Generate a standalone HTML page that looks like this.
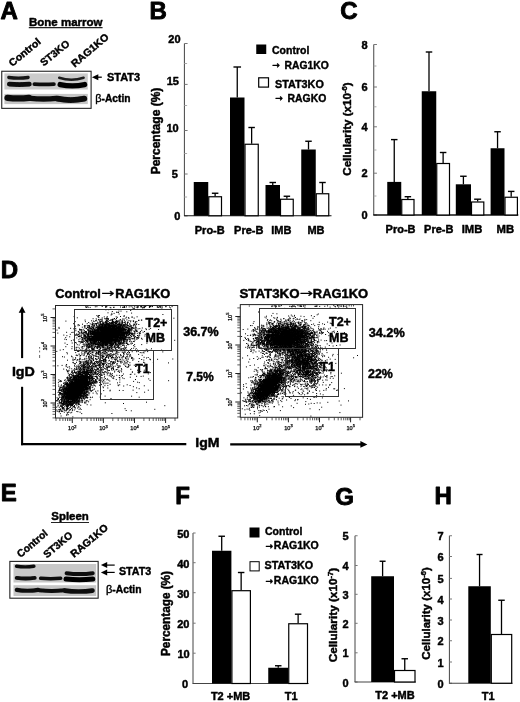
<!DOCTYPE html>
<html lang="en"><head><meta charset="utf-8"><title>Figure</title>
<style>
html,body{margin:0;padding:0;background:#fff;}
body{width:520px;height:702px;overflow:hidden;}
svg{display:block;font-family:"Liberation Sans", Arial, Helvetica, sans-serif;font-weight:bold;}
text{stroke-linejoin:round;}
</style></head><body>
<svg width="520" height="702" viewBox="0 0 520 702">
<rect width="520" height="702" fill="#fff"/>
<text x="0.6" y="18.9" font-size="24" stroke="#000" stroke-width="0.9">A</text>
<text x="149.6" y="18.9" font-size="24" stroke="#000" stroke-width="0.9">B</text>
<text x="340.2" y="19.2" font-size="24" stroke="#000" stroke-width="0.9">C</text>
<text x="0.8" y="277.6" font-size="24" stroke="#000" stroke-width="0.9">D</text>
<text x="0.8" y="501.4" font-size="24" stroke="#000" stroke-width="0.9">E</text>
<text x="175.3" y="504.3" font-size="24" stroke="#000" stroke-width="0.9">F</text>
<text x="335.2" y="504.6" font-size="24" stroke="#000" stroke-width="0.9">G</text>
<text x="434.6" y="504.3" font-size="24" stroke="#000" stroke-width="0.9">H</text>
<text x="29" y="25.8" font-size="11.5" textLength="73.5" lengthAdjust="spacingAndGlyphs" stroke="#000" stroke-width="0.45">Bone marrow</text>
<line x1="28.8" y1="27.6" x2="102.6" y2="27.6" stroke="#222" stroke-width="1.1"/>
<text x="12.2" y="67.0" font-size="10.3" textLength="38" lengthAdjust="spacingAndGlyphs" transform="rotate(-39.3 12.2 67.0)" stroke="#000" stroke-width="0.4">Control</text>
<text x="43.7" y="66.5" font-size="10.3" transform="rotate(-39 43.7 66.5)" stroke="#000" stroke-width="0.4">ST3KO</text>
<text x="74.7" y="67.7" font-size="10.3" textLength="45.8" lengthAdjust="spacingAndGlyphs" transform="rotate(-40.3 74.7 67.7)" stroke="#000" stroke-width="0.4">RAG1KO</text>
<defs><filter id="fa" x="-5%" y="-20%" width="110%" height="140%"><feGaussianBlur stdDeviation="0.5"/></filter><filter id="fab" x="-5%" y="-50%" width="110%" height="200%"><feGaussianBlur stdDeviation="0.7"/></filter></defs>
<rect x="1.75" y="71.25" width="89.35" height="37.10" fill="#fff" stroke="#222" stroke-width="1.1"/>
<g filter="url(#fa)">
<rect x="4.40" y="73.40" width="83.40" height="16.10" fill="#cbcbcb"/>
<rect x="4.40" y="93.90" width="83.40" height="10.20" fill="#c6c6c6"/>
</g>
<g filter="url(#fab)">
<path d="M8.8 77.50 C14.6 78.15 22.3 78.15 28.1 77.50" fill="none" stroke="#141414" stroke-width="3.3" stroke-linecap="round"/>
<path d="M59.2 77.70 C66.5 80.17 76.3 80.17 83.6 77.70" fill="none" stroke="#1c1c1c" stroke-width="2.5" stroke-linecap="round"/>
<path d="M9.4 84.10 C15.4 84.62 23.3 84.62 29.3 84.10" fill="none" stroke="#080808" stroke-width="4.8" stroke-linecap="round"/>
<path d="M34.4 84.10 C40.3 84.49 48.0 84.49 53.9 84.10" fill="none" stroke="#101010" stroke-width="3.8" stroke-linecap="round"/>
<path d="M60.2 84.60 C67.5 86.16 77.3 86.16 84.6 84.60" fill="none" stroke="#040404" stroke-width="5.4" stroke-linecap="round"/>
<path d="M7.5 97.80 C13.9 98.58 22.6 98.58 29.0 97.80" fill="none" stroke="#0a0a0a" stroke-width="6.2" stroke-linecap="round"/>
<path d="M30.7 98.40 C38.4 99.18 48.6 99.18 56.3 98.40" fill="none" stroke="#0e0e0e" stroke-width="5.4" stroke-linecap="round"/>
<path d="M57.3 98.70 C65.4 100.39 76.2 100.39 84.3 98.70" fill="none" stroke="#080808" stroke-width="5.8" stroke-linecap="round"/>
</g>
<path d="M91.9 77.2 L98.3 74.2 L98.3 80.2 Z" fill="#000"/>
<line x1="97.5" y1="77.2" x2="101.8" y2="77.2" stroke="#000" stroke-width="1.3"/>
<text x="107" y="81.4" font-size="10.3" textLength="33" lengthAdjust="spacingAndGlyphs" stroke="#000" stroke-width="0.4">STAT3</text>
<text x="95.3" y="102.3" font-size="10.3" textLength="35.2" lengthAdjust="spacingAndGlyphs" stroke="#000" stroke-width="0.4"><tspan font-weight="normal" font-size="11">β</tspan>-Actin</text>
<line x1="184.4" y1="43.5" x2="184.4" y2="215.9" stroke="#444" stroke-width="1"/>
<line x1="184.4" y1="43.5" x2="187.6" y2="43.5" stroke="#777" stroke-width="1"/>
<line x1="184.4" y1="84.4" x2="187.6" y2="84.4" stroke="#777" stroke-width="1"/>
<line x1="184.4" y1="130.5" x2="187.6" y2="130.5" stroke="#777" stroke-width="1"/>
<line x1="184.4" y1="174" x2="187.6" y2="174" stroke="#777" stroke-width="1"/>
<line x1="184.4" y1="215.9" x2="187.6" y2="215.9" stroke="#777" stroke-width="1"/>
<line x1="184.4" y1="63.5" x2="187.1" y2="63.5" stroke="#aaa" stroke-width="1"/>
<line x1="184.4" y1="105.5" x2="187.1" y2="105.5" stroke="#aaa" stroke-width="1"/>
<line x1="184.4" y1="153.5" x2="187.1" y2="153.5" stroke="#aaa" stroke-width="1"/>
<line x1="184.4" y1="197" x2="187.1" y2="197" stroke="#aaa" stroke-width="1"/>
<text x="180.6" y="42.8" font-size="11" text-anchor="end" stroke="#000" stroke-width="0.45">20</text>
<text x="178.9" y="85.1" font-size="11" text-anchor="end" stroke="#000" stroke-width="0.45">15</text>
<text x="178.7" y="131.9" font-size="11" text-anchor="end" stroke="#000" stroke-width="0.45">10</text>
<text x="177.8" y="178.4" font-size="11" text-anchor="end" stroke="#000" stroke-width="0.45">5</text>
<text x="180.4" y="220.3" font-size="11" text-anchor="end" stroke="#000" stroke-width="0.45">0</text>
<line x1="184" y1="215.75" x2="331.5" y2="215.75" stroke="#111" stroke-width="1.2"/>
<rect x="193.75" y="182.00" width="14.50" height="33.75" fill="#000"/>
<line x1="215.125" y1="196.25" x2="215.125" y2="193.25" stroke="#000" stroke-width="1.3"/>
<line x1="211.875" y1="193.25" x2="218.375" y2="193.25" stroke="#000" stroke-width="1.4"/>
<rect x="208.75" y="196.75" width="12.75" height="19.00" fill="#fff" stroke="#000" stroke-width="1.2"/>
<rect x="230.00" y="97.50" width="14.50" height="118.25" fill="#000"/>
<line x1="237.25" y1="97.5" x2="237.25" y2="67" stroke="#000" stroke-width="1.3"/>
<line x1="233.45" y1="67" x2="241.05" y2="67" stroke="#000" stroke-width="1.4"/>
<line x1="251.625" y1="143.75" x2="251.625" y2="127.5" stroke="#000" stroke-width="1.3"/>
<line x1="248.375" y1="127.5" x2="254.875" y2="127.5" stroke="#000" stroke-width="1.4"/>
<rect x="245.00" y="144.25" width="13.25" height="71.50" fill="#fff" stroke="#000" stroke-width="1.2"/>
<rect x="265.50" y="185.00" width="14.50" height="30.75" fill="#000"/>
<line x1="272.75" y1="185" x2="272.75" y2="182.5" stroke="#000" stroke-width="1.3"/>
<line x1="269.5" y1="182.5" x2="276.0" y2="182.5" stroke="#000" stroke-width="1.4"/>
<line x1="286.875" y1="198.75" x2="286.875" y2="196.25" stroke="#000" stroke-width="1.3"/>
<line x1="283.625" y1="196.25" x2="290.125" y2="196.25" stroke="#000" stroke-width="1.4"/>
<rect x="280.50" y="199.25" width="12.75" height="16.50" fill="#fff" stroke="#000" stroke-width="1.2"/>
<rect x="301.25" y="149.50" width="14.50" height="66.25" fill="#000"/>
<line x1="308.5" y1="149.5" x2="308.5" y2="141.25" stroke="#000" stroke-width="1.3"/>
<line x1="305.25" y1="141.25" x2="311.75" y2="141.25" stroke="#000" stroke-width="1.4"/>
<line x1="322.5" y1="193.25" x2="322.5" y2="182.5" stroke="#000" stroke-width="1.3"/>
<line x1="319.25" y1="182.5" x2="325.75" y2="182.5" stroke="#000" stroke-width="1.4"/>
<rect x="316.25" y="193.75" width="12.50" height="22.00" fill="#fff" stroke="#000" stroke-width="1.2"/>
<text x="209.75" y="233.75" font-size="11" text-anchor="middle" stroke="#000" stroke-width="0.45">Pro-B</text>
<text x="248.75" y="233.75" font-size="11" text-anchor="middle" stroke="#000" stroke-width="0.45">Pre-B</text>
<text x="281.25" y="233.75" font-size="11" text-anchor="middle" stroke="#000" stroke-width="0.45">IMB</text>
<text x="316" y="233.75" font-size="11" text-anchor="middle" stroke="#000" stroke-width="0.45">MB</text>
<text x="159.5" y="131" font-size="12" text-anchor="middle" transform="rotate(-90 159.5 131)" stroke="#000" stroke-width="0.45">Percentage (%)</text>
<rect x="256.25" y="44.50" width="10.00" height="9.50" fill="#000"/>
<text x="272" y="53.75" font-size="10.5" stroke="#000" stroke-width="0.4">Control</text>
<text x="272.3" y="67.5" font-size="10.5" stroke="#000" stroke-width="0.4"><tspan font-family="DejaVu Sans, sans-serif" font-size="9">→</tspan></text>
<text x="284.5" y="68.75" font-size="10.5" textLength="44.3" lengthAdjust="spacingAndGlyphs" stroke="#000" stroke-width="0.4">RAG1KO</text>
<rect x="258.70" y="77.80" width="9.80" height="9.30" fill="#fff" stroke="#000" stroke-width="1.2"/>
<text x="275" y="87.5" font-size="10.5" textLength="48.8" lengthAdjust="spacingAndGlyphs" stroke="#000" stroke-width="0.4">STAT3KO</text>
<text x="275.3" y="101" font-size="10.5" stroke="#000" stroke-width="0.4"><tspan font-family="DejaVu Sans, sans-serif" font-size="9">→</tspan></text>
<text x="287.5" y="102" font-size="10.5" textLength="38.8" lengthAdjust="spacingAndGlyphs" stroke="#000" stroke-width="0.4">RAGKO</text>
<line x1="373.75" y1="44.5" x2="373.75" y2="215" stroke="#444" stroke-width="1"/>
<line x1="373.75" y1="44.5" x2="376.95" y2="44.5" stroke="#777" stroke-width="1"/>
<line x1="373.75" y1="87" x2="376.95" y2="87" stroke="#777" stroke-width="1"/>
<line x1="373.75" y1="126.8" x2="376.95" y2="126.8" stroke="#777" stroke-width="1"/>
<line x1="373.75" y1="173.2" x2="376.95" y2="173.2" stroke="#777" stroke-width="1"/>
<line x1="373.75" y1="215" x2="376.95" y2="215" stroke="#777" stroke-width="1"/>
<line x1="373.75" y1="66" x2="376.45" y2="66" stroke="#aaa" stroke-width="1"/>
<line x1="373.75" y1="106.8" x2="376.45" y2="106.8" stroke="#aaa" stroke-width="1"/>
<line x1="373.75" y1="150" x2="376.45" y2="150" stroke="#aaa" stroke-width="1"/>
<line x1="373.75" y1="196" x2="376.45" y2="196" stroke="#aaa" stroke-width="1"/>
<text x="367.6" y="48.6" font-size="11" text-anchor="end" stroke="#000" stroke-width="0.45">8</text>
<text x="367.6" y="91.1" font-size="11" text-anchor="end" stroke="#000" stroke-width="0.45">6</text>
<text x="367.6" y="130.9" font-size="11" text-anchor="end" stroke="#000" stroke-width="0.45">4</text>
<text x="367.6" y="177.3" font-size="11" text-anchor="end" stroke="#000" stroke-width="0.45">2</text>
<text x="367.6" y="219.1" font-size="11" text-anchor="end" stroke="#000" stroke-width="0.45">0</text>
<line x1="373.25" y1="215" x2="518.3" y2="215" stroke="#111" stroke-width="1.3"/>
<rect x="387.25" y="181.90" width="14.00" height="33.10" fill="#000"/>
<line x1="394.25" y1="181.9" x2="394.25" y2="139.6" stroke="#000" stroke-width="1.3"/>
<line x1="391.0" y1="139.6" x2="397.5" y2="139.6" stroke="#000" stroke-width="1.4"/>
<line x1="407.875" y1="199" x2="407.875" y2="196.7" stroke="#000" stroke-width="1.3"/>
<line x1="404.625" y1="196.7" x2="411.125" y2="196.7" stroke="#000" stroke-width="1.4"/>
<rect x="401.75" y="199.50" width="12.25" height="15.50" fill="#fff" stroke="#000" stroke-width="1.2"/>
<rect x="421.75" y="91.25" width="14.50" height="123.75" fill="#000"/>
<line x1="429.0" y1="91.25" x2="429.0" y2="52" stroke="#000" stroke-width="1.3"/>
<line x1="425.75" y1="52" x2="432.25" y2="52" stroke="#000" stroke-width="1.4"/>
<line x1="443.125" y1="163" x2="443.125" y2="152.5" stroke="#000" stroke-width="1.3"/>
<line x1="439.875" y1="152.5" x2="446.375" y2="152.5" stroke="#000" stroke-width="1.4"/>
<rect x="436.75" y="163.50" width="12.75" height="51.50" fill="#fff" stroke="#000" stroke-width="1.2"/>
<rect x="455.80" y="184.30" width="15.20" height="30.70" fill="#000"/>
<line x1="463.4" y1="184.3" x2="463.4" y2="176.25" stroke="#000" stroke-width="1.3"/>
<line x1="460.15" y1="176.25" x2="466.65" y2="176.25" stroke="#000" stroke-width="1.4"/>
<line x1="477.65" y1="201.5" x2="477.65" y2="199.2" stroke="#000" stroke-width="1.3"/>
<line x1="474.15" y1="199.2" x2="481.15" y2="199.2" stroke="#000" stroke-width="1.4"/>
<rect x="471.50" y="202.00" width="12.30" height="13.00" fill="#fff" stroke="#000" stroke-width="1.2"/>
<rect x="490.60" y="148.25" width="13.90" height="66.75" fill="#000"/>
<line x1="497.55" y1="148.25" x2="497.55" y2="131.75" stroke="#000" stroke-width="1.3"/>
<line x1="494.3" y1="131.75" x2="500.8" y2="131.75" stroke="#000" stroke-width="1.4"/>
<line x1="511.2" y1="196.75" x2="511.2" y2="191.4" stroke="#000" stroke-width="1.3"/>
<line x1="507.95" y1="191.4" x2="514.45" y2="191.4" stroke="#000" stroke-width="1.4"/>
<rect x="505.00" y="197.25" width="12.40" height="17.75" fill="#fff" stroke="#000" stroke-width="1.2"/>
<text x="400.6" y="232.5" font-size="11" text-anchor="middle" stroke="#000" stroke-width="0.45">Pro-B</text>
<text x="438.75" y="232.5" font-size="11" text-anchor="middle" stroke="#000" stroke-width="0.45">Pre-B</text>
<text x="472" y="232.5" font-size="11" text-anchor="middle" textLength="20.6" lengthAdjust="spacingAndGlyphs" stroke="#000" stroke-width="0.45">IMB</text>
<text x="505.3" y="232.5" font-size="11" text-anchor="middle" textLength="17.6" lengthAdjust="spacingAndGlyphs" stroke="#000" stroke-width="0.45">MB</text>
<text x="351.2" y="129.1" font-size="11.6" text-anchor="middle" textLength="93.3" lengthAdjust="spacingAndGlyphs" transform="rotate(-90 351.2 129.1)" stroke="#000" stroke-width="0.45">Cellularity (x10<tspan font-size="7.5" dy="-4.3">-6</tspan><tspan dy="4.3">)</tspan></text>
<text x="55.2" y="297.7" font-size="12.4" textLength="45.6" lengthAdjust="spacingAndGlyphs" stroke="#000" stroke-width="0.45">Control</text>
<text x="115.3" y="297.7" font-size="12.4" textLength="55" lengthAdjust="spacingAndGlyphs" stroke="#000" stroke-width="0.45">RAG1KO</text>
<text x="101.1" y="297.4" font-size="12" textLength="13.2" lengthAdjust="spacingAndGlyphs" font-weight="normal" font-family="DejaVu Sans, sans-serif" stroke="#000" stroke-width="0.3">→</text>
<text x="239.5" y="297.6" font-size="12.4" textLength="60" lengthAdjust="spacingAndGlyphs" stroke="#000" stroke-width="0.45">STAT3KO</text>
<text x="312.8" y="297.6" font-size="12.4" textLength="55.4" lengthAdjust="spacingAndGlyphs" stroke="#000" stroke-width="0.45">RAG1KO</text>
<text x="299.4" y="297.2" font-size="12" textLength="13.2" lengthAdjust="spacingAndGlyphs" font-weight="normal" font-family="DejaVu Sans, sans-serif" stroke="#000" stroke-width="0.3">→</text>
<rect x="55.50" y="305.50" width="122.20" height="112.50" fill="#fff" stroke="#222" stroke-width="1"/>
<path d="M72.2 385.9h1M80.1 388.6h1M69.5 387.0h1M71.3 395.7h1M76.1 394.3h1M71.3 396.9h1M78.9 390.4h1M82.4 378.1h1M72.0 391.6h1M71.8 392.9h1M80.5 386.6h1M92.0 397.2h1M75.7 387.4h1M77.6 401.2h1M74.4 388.0h1M75.0 379.9h1M66.7 397.5h1M74.4 393.1h1M65.3 403.0h1M68.6 398.4h1M67.1 403.7h1M76.5 392.0h1M71.9 400.6h1M72.4 382.9h1M76.5 387.4h1M70.7 386.9h1M62.1 407.7h1M72.1 392.2h1M75.9 389.4h1M74.3 386.2h1M63.5 397.2h1M71.8 391.3h1M72.6 397.7h1M73.9 396.8h1M75.0 375.6h1M72.0 395.3h1M76.5 389.6h1M74.8 377.5h1M67.9 389.4h1M72.8 387.7h1M77.7 388.9h1M66.6 380.8h1M66.9 396.3h1M73.8 386.3h1M84.0 379.1h1M72.2 404.2h1M85.7 386.3h1M74.6 386.4h1M70.3 392.0h1M87.9 374.6h1M84.5 386.5h1M74.3 401.7h1M77.2 389.0h1M84.5 388.8h1M70.9 387.1h1M74.9 379.9h1M64.0 380.3h1M75.9 380.9h1M86.1 379.8h1M75.1 396.1h1M90.3 397.6h1M75.2 393.7h1M76.9 388.1h1M64.9 394.2h1M69.8 390.9h1M72.1 388.1h1M79.8 381.3h1M79.5 378.1h1M62.2 393.7h1M75.1 397.6h1M81.0 385.2h1M69.6 407.4h1M66.5 386.9h1M69.8 385.2h1M79.7 377.0h1M84.2 387.1h1M72.9 390.4h1M74.3 391.9h1M73.7 390.1h1M85.0 377.9h1M71.0 390.0h1M75.3 391.9h1M74.2 383.3h1M73.9 388.6h1M75.5 390.8h1M69.6 397.0h1M77.2 389.9h1M69.8 389.2h1M83.2 380.8h1M78.1 382.8h1M76.9 389.9h1M85.2 388.2h1M70.0 388.2h1M85.7 384.0h1M72.8 386.4h1M77.2 382.9h1M74.6 403.1h1M81.2 388.9h1M67.9 402.5h1M67.1 405.9h1M78.4 394.4h1M67.4 392.8h1M77.4 388.0h1M86.8 370.9h1M72.4 395.9h1M70.7 392.1h1M79.6 389.3h1M78.4 385.0h1M72.2 388.0h1M74.1 389.9h1M81.3 384.8h1M82.8 388.0h1M68.9 395.6h1M73.7 388.0h1M76.7 389.0h1M72.5 398.6h1M74.8 384.9h1M60.8 387.1h1M82.3 382.3h1M75.3 386.1h1M74.5 386.7h1M82.2 400.7h1M74.3 389.0h1M66.8 405.3h1M63.6 392.5h1M78.6 386.6h1M66.4 406.5h1M81.2 383.0h1M64.8 400.8h1M82.0 384.7h1M70.9 394.9h1M85.3 387.0h1M77.1 388.2h1M63.6 397.4h1M74.9 373.3h1M81.0 375.8h1M74.1 388.1h1M69.3 386.9h1M70.6 386.5h1M63.4 390.5h1M77.5 377.1h1M72.9 392.8h1M74.2 388.1h1M70.3 393.8h1M70.7 392.2h1M67.4 397.2h1M85.8 381.7h1M82.9 396.1h1M83.7 383.5h1M83.6 394.6h1M71.3 393.4h1M73.6 390.9h1M78.9 397.8h1M72.8 386.3h1M69.9 388.6h1M73.4 390.4h1M61.0 393.5h1M63.5 388.7h1M89.7 380.1h1M67.6 390.2h1M67.7 394.9h1M75.8 384.7h1M79.9 375.3h1M70.0 401.4h1M76.6 391.9h1M75.1 395.7h1M68.4 403.7h1M80.1 383.4h1M81.1 393.1h1M80.0 391.2h1M68.9 392.2h1M78.4 385.4h1M70.9 391.3h1M82.1 395.4h1M72.2 399.0h1M70.7 399.1h1M83.0 378.6h1M74.9 394.0h1M73.5 383.5h1M75.5 388.9h1M72.9 391.7h1M72.5 392.2h1M76.3 381.7h1M75.6 392.2h1M70.2 386.2h1M73.8 386.9h1M81.6 379.4h1M79.2 383.4h1M75.6 384.1h1M68.3 389.5h1M63.9 395.7h1M79.5 380.4h1M77.6 378.7h1M74.2 389.2h1M73.7 380.7h1M80.1 382.9h1M88.4 388.8h1M75.5 377.6h1M72.5 391.5h1M88.8 381.0h1M69.1 398.2h1M83.9 384.9h1M70.1 378.4h1M78.5 380.6h1M92.4 379.6h1M81.8 375.9h1M70.5 398.1h1M58.3 395.0h1M84.3 385.8h1M78.5 402.9h1M75.2 388.4h1M81.7 383.4h1M67.7 401.8h1M71.9 410.6h1M75.3 385.3h1M69.2 383.0h1M81.6 396.2h1M71.1 384.6h1M72.8 396.6h1M57.6 392.4h1M72.8 388.4h1M70.7 396.2h1M61.7 397.1h1M76.3 383.2h1M77.5 390.8h1M75.0 383.3h1M71.8 397.3h1M78.8 398.8h1M61.8 389.6h1M71.8 396.1h1M79.0 388.9h1M69.7 393.2h1M83.7 390.7h1M82.8 390.2h1M89.1 375.2h1M69.6 400.3h1M80.3 381.8h1M70.6 385.7h1M77.3 390.1h1M65.3 397.6h1M70.5 390.0h1M84.0 386.4h1M74.1 388.4h1M79.7 390.8h1M69.6 387.4h1M80.3 378.6h1M75.3 388.6h1M68.2 408.7h1M71.1 393.2h1M67.2 405.3h1M72.9 392.8h1M86.3 381.2h1M72.1 385.3h1M65.9 394.9h1M72.5 397.2h1M77.4 376.6h1M77.6 388.3h1M77.0 389.1h1M74.7 388.5h1M78.7 390.5h1M81.9 384.0h1M79.3 384.9h1M70.7 382.2h1M63.6 391.5h1M79.4 385.6h1M65.2 388.6h1M81.9 380.6h1M66.7 396.6h1M71.2 386.8h1M74.3 387.7h1M58.4 390.8h1M84.4 375.1h1M88.6 381.5h1M67.7 387.9h1M81.5 384.1h1M78.9 386.7h1M72.3 416.9h1M73.0 383.6h1M71.9 386.4h1M72.8 385.4h1M65.5 393.4h1M67.3 385.3h1M74.7 389.9h1M78.6 376.9h1M80.3 388.3h1M76.9 389.6h1M80.1 374.0h1M70.8 391.4h1M78.5 395.5h1M63.7 400.7h1M85.2 377.6h1M84.2 384.0h1M79.0 380.4h1M80.9 384.8h1M82.3 392.5h1M81.1 390.3h1M67.1 384.9h1M80.3 394.7h1M74.9 387.4h1M81.8 375.5h1M76.2 382.5h1M80.0 392.7h1M73.4 393.7h1M71.3 392.7h1M81.5 374.3h1M80.9 386.8h1M80.5 391.6h1M69.6 388.0h1M64.8 393.2h1M73.7 387.9h1M82.9 384.0h1M71.6 390.1h1M73.8 389.8h1M70.9 387.5h1M81.0 391.5h1M65.9 399.8h1M74.8 390.7h1M75.0 398.2h1M79.7 381.4h1M71.0 394.0h1M80.4 385.5h1M82.7 376.1h1M79.3 395.2h1M72.3 393.1h1M74.9 385.8h1M74.4 387.6h1M65.6 392.5h1M82.9 388.8h1M93.0 378.4h1M73.1 389.7h1M72.5 388.6h1M61.2 389.6h1M74.9 384.3h1M71.8 400.3h1M66.0 394.1h1M86.2 381.7h1M76.2 399.7h1M71.4 372.5h1M82.9 376.3h1M74.2 384.4h1M76.4 382.7h1M79.5 368.6h1M73.3 389.1h1M67.3 389.1h1M71.8 401.6h1M81.2 392.5h1M78.3 373.3h1M75.2 376.9h1M68.1 393.8h1M69.7 394.1h1M72.0 391.7h1M79.9 388.5h1M68.3 385.3h1M74.1 384.9h1M75.2 384.8h1M72.3 389.5h1M71.1 385.6h1M74.7 385.4h1M72.1 386.8h1M83.0 388.4h1M84.2 373.2h1M70.3 377.4h1M77.9 389.7h1M66.4 401.3h1M74.2 382.9h1M60.6 399.8h1M65.0 396.9h1M86.8 387.2h1M77.6 381.8h1M79.3 393.2h1M69.0 403.6h1M71.2 389.5h1M72.8 394.4h1M76.0 381.3h1M76.0 362.3h1M73.7 384.5h1M68.2 392.0h1M72.3 399.8h1M77.7 390.9h1M78.7 393.1h1M71.0 398.6h1M80.5 391.0h1M71.5 399.0h1M82.7 381.0h1M85.5 383.8h1M87.3 384.9h1M78.1 396.2h1M76.7 383.3h1M74.5 389.3h1M69.2 388.2h1M69.4 387.8h1M69.4 399.1h1M64.6 397.0h1M85.7 387.1h1M65.4 382.9h1M72.0 383.2h1M82.1 381.8h1M70.2 404.8h1M69.5 393.1h1M83.9 393.0h1M80.8 388.0h1M70.4 389.0h1M81.1 380.7h1M78.6 388.5h1M64.8 394.5h1M74.3 398.5h1M79.0 381.7h1M80.1 386.6h1M68.0 405.0h1M81.4 377.2h1M82.8 387.2h1M75.7 372.8h1M75.6 393.1h1M66.0 384.5h1M73.4 400.1h1M87.6 368.0h1M79.2 393.5h1M89.9 381.0h1M71.2 392.8h1M73.8 385.2h1M71.0 404.7h1M68.6 387.7h1M84.3 383.7h1M67.8 397.3h1M80.1 379.5h1M75.1 384.2h1M76.6 401.7h1M66.3 387.2h1M70.7 390.1h1M76.9 390.2h1M76.5 395.6h1M77.4 399.8h1M79.1 394.9h1M67.5 394.3h1M69.5 399.0h1M79.7 392.3h1M82.6 383.7h1M60.6 394.9h1M76.8 389.5h1M74.1 395.1h1M64.6 391.5h1M78.6 380.8h1M72.4 392.2h1M86.5 379.4h1M77.2 399.0h1M82.3 389.3h1M76.1 391.6h1M72.0 394.7h1M77.5 383.1h1M72.4 387.9h1M78.1 383.4h1M74.4 388.2h1M73.3 399.6h1M83.4 395.9h1M77.8 389.7h1M84.7 384.4h1M72.9 397.2h1M76.4 389.6h1M70.5 404.9h1M83.6 387.1h1M69.7 396.7h1M64.7 401.4h1M77.7 391.0h1M79.9 378.9h1M67.6 400.3h1M73.3 399.6h1M71.1 393.8h1M61.6 391.0h1M80.3 387.8h1M66.3 390.8h1M65.9 389.5h1M72.9 379.6h1M74.4 396.6h1M70.0 379.1h1M69.5 395.3h1M69.6 398.2h1M65.9 402.7h1M83.8 373.0h1M73.5 390.7h1M77.6 387.3h1M70.3 384.8h1M79.3 389.6h1M79.9 391.3h1M83.3 372.1h1M66.8 393.9h1M62.3 396.5h1M73.9 399.2h1M63.6 395.0h1M77.9 381.5h1M73.3 377.1h1M74.9 399.4h1M66.7 398.0h1M74.6 392.0h1M89.7 383.2h1M62.2 411.4h1M74.1 381.2h1M71.2 397.8h1M84.3 383.1h1M65.9 393.7h1M70.0 387.5h1M63.0 396.5h1M73.0 398.1h1M83.7 378.5h1M76.1 379.3h1M75.8 393.5h1M73.5 397.2h1M61.4 399.8h1M67.1 386.6h1M79.9 392.3h1M85.3 397.1h1M80.7 393.7h1M73.1 399.8h1M75.7 389.4h1M72.9 386.9h1M83.5 379.5h1M88.9 377.0h1M74.1 389.0h1M74.9 397.1h1M75.3 389.1h1M74.5 394.9h1M60.7 385.7h1M71.9 386.4h1M72.8 398.7h1M82.9 387.1h1M76.6 390.6h1M83.4 391.7h1M77.3 392.1h1M74.2 396.1h1M66.6 392.7h1M75.8 391.6h1M75.5 395.0h1M82.1 390.9h1M80.1 392.2h1M68.0 398.7h1M76.7 388.7h1M63.3 394.8h1M74.4 395.0h1M69.6 387.4h1M62.6 402.9h1M76.0 387.8h1M84.3 393.6h1M79.7 393.6h1M70.1 389.3h1M67.9 386.9h1M69.1 395.0h1M71.0 388.1h1M73.9 393.8h1M77.5 389.0h1M71.2 399.4h1M73.0 383.8h1M75.0 386.4h1M75.6 390.3h1M74.3 392.7h1M76.5 382.7h1M64.7 399.7h1M81.4 387.7h1M70.1 381.4h1M76.1 385.6h1M77.7 385.7h1M65.9 388.7h1M70.0 387.2h1M79.5 384.1h1M75.9 383.7h1M80.9 390.3h1M69.4 401.6h1M87.5 391.5h1M77.4 376.2h1M88.8 386.9h1M74.2 384.7h1M69.9 402.5h1M84.8 384.6h1M75.4 390.2h1M59.9 406.2h1M75.2 383.9h1M60.0 394.0h1M66.7 396.9h1M68.4 390.4h1M85.1 381.0h1M70.6 389.0h1M76.4 386.0h1M87.3 377.1h1M85.0 377.1h1M75.2 389.4h1M73.4 389.7h1M66.7 396.5h1M73.5 395.2h1M80.9 387.7h1M74.8 383.3h1M82.8 392.9h1M83.6 383.1h1M65.0 389.4h1M85.8 397.2h1M82.4 385.3h1M76.1 382.1h1M88.1 385.7h1M67.5 377.6h1M83.9 398.7h1M71.9 381.4h1M63.6 391.1h1M62.5 397.7h1M79.7 384.9h1M73.8 387.8h1M80.8 389.0h1M62.6 398.5h1M77.8 394.6h1M73.1 393.7h1M66.6 391.8h1M67.0 408.5h1M75.0 392.1h1M80.0 381.4h1M83.0 389.8h1M67.5 389.3h1M74.1 387.6h1M85.8 387.6h1M59.9 408.9h1M77.8 391.8h1M81.2 386.5h1M79.1 383.3h1M88.0 378.2h1M78.2 377.2h1M80.1 388.4h1M73.4 383.3h1M80.2 382.9h1M69.0 389.8h1M77.4 390.5h1M82.7 383.4h1M91.2 377.7h1M72.3 387.9h1M71.5 386.0h1M68.3 380.5h1M78.1 374.7h1M74.3 388.0h1M84.7 378.4h1M68.4 394.4h1M74.5 389.9h1M68.6 385.4h1M76.3 379.8h1M84.8 383.4h1M69.6 401.7h1M64.9 391.0h1M76.2 385.1h1M72.6 394.0h1M62.1 396.0h1M83.0 382.1h1M79.4 385.7h1M80.1 386.3h1M80.5 398.0h1M78.0 378.3h1M78.9 394.0h1M84.0 382.2h1M73.2 397.5h1M67.7 392.5h1M76.9 387.2h1M71.4 393.6h1M86.0 388.7h1M77.3 386.9h1M76.0 399.8h1M74.7 387.0h1M72.0 389.9h1M80.8 381.8h1M63.8 386.8h1M70.9 390.1h1M80.1 377.8h1M87.8 371.7h1M87.7 374.4h1M72.1 385.1h1M72.4 383.5h1M89.4 381.3h1M70.6 386.2h1M67.9 394.1h1M72.4 384.7h1M76.2 383.8h1M75.7 398.4h1M70.7 404.2h1M60.1 393.4h1M78.3 382.8h1M76.7 398.4h1M73.3 388.5h1M78.1 388.1h1M86.3 389.6h1M82.6 398.0h1M84.7 389.8h1M69.3 394.2h1M73.6 391.3h1M70.6 396.8h1M80.9 379.3h1M73.0 386.8h1M79.6 400.4h1M74.7 392.0h1M77.5 392.7h1M84.4 387.2h1M68.5 401.9h1M70.0 396.5h1M74.4 392.1h1M95.7 374.4h1M82.9 383.0h1M66.9 383.1h1M83.7 386.5h1M93.9 378.6h1M73.1 389.4h1M71.1 389.3h1M80.6 378.2h1M82.7 388.3h1M75.4 380.5h1M75.7 394.6h1M91.0 377.9h1M87.7 377.8h1M79.2 384.7h1M76.6 381.3h1M61.4 401.4h1M79.2 383.9h1M70.7 387.1h1M77.7 385.1h1M75.9 380.7h1M79.1 395.3h1M72.0 405.7h1M74.5 383.4h1M76.7 398.2h1M74.8 391.8h1M72.4 393.2h1M75.5 392.5h1M64.1 406.8h1M77.0 375.3h1M86.9 394.4h1M78.4 377.6h1M77.8 366.9h1M75.5 388.3h1M65.3 401.8h1M67.5 392.8h1M61.4 391.7h1M77.3 395.8h1M75.6 387.6h1M64.8 403.7h1M75.3 384.3h1M66.2 399.1h1M74.6 384.3h1M76.5 390.6h1M73.5 390.6h1M77.7 391.1h1M75.0 394.5h1M72.6 393.4h1M66.4 401.3h1M80.0 392.3h1M79.9 370.1h1M87.4 374.4h1M88.5 383.1h1M75.2 379.9h1M74.6 395.8h1M81.8 376.4h1M75.2 389.0h1M74.1 388.2h1M73.2 390.1h1M78.3 389.6h1M72.8 391.6h1M67.0 382.9h1M78.1 403.3h1M73.1 391.0h1M86.8 370.4h1M79.2 392.2h1M79.5 394.5h1M70.0 378.0h1M81.0 384.5h1M60.9 390.3h1M72.2 388.4h1M80.5 381.5h1M75.2 385.1h1M73.7 385.7h1M79.7 373.5h1M69.9 392.1h1M75.4 387.4h1M71.8 391.8h1M78.7 373.4h1M61.1 400.3h1M75.6 396.5h1M75.0 394.3h1M78.0 382.6h1M81.4 386.0h1M85.0 379.4h1M70.3 403.0h1M80.8 383.8h1M72.2 389.3h1M67.8 390.3h1M78.6 384.5h1M62.1 388.9h1M63.9 404.0h1M60.8 381.4h1M63.0 396.4h1M69.8 391.7h1M79.6 387.3h1M88.4 394.9h1M85.2 377.3h1M73.7 389.4h1M59.1 393.8h1M76.6 398.3h1M62.7 389.4h1M69.5 398.2h1M75.1 383.1h1M81.8 401.0h1M63.6 402.6h1M80.8 384.5h1M72.2 387.2h1M77.2 385.6h1M80.6 391.2h1M75.4 381.0h1M73.0 386.1h1M80.2 377.6h1M74.0 382.3h1M73.4 382.2h1M77.9 385.6h1M72.5 403.4h1M80.0 394.0h1M68.7 386.2h1M73.9 384.8h1M67.3 398.1h1M86.6 377.9h1M76.0 387.6h1M68.5 397.3h1M67.0 402.1h1M76.6 392.7h1M66.5 382.5h1M70.5 393.1h1M78.4 389.7h1M77.0 397.2h1M81.5 386.7h1M68.5 391.6h1M72.3 386.4h1M82.0 382.0h1M90.0 369.5h1M70.9 396.8h1M77.2 395.3h1M65.6 390.6h1M78.5 381.6h1M59.2 389.3h1M75.7 394.4h1M75.9 389.1h1M66.4 393.0h1M71.0 396.3h1M78.2 396.3h1M67.2 406.8h1M66.8 398.8h1M71.8 390.5h1M76.7 387.7h1M70.5 386.8h1M61.4 398.4h1M71.6 390.9h1M80.0 382.6h1M79.7 385.2h1M72.9 387.4h1M66.8 392.2h1M78.9 383.7h1M70.4 391.4h1M70.1 398.1h1M76.5 398.7h1M87.7 381.0h1M73.7 384.5h1M80.4 378.6h1M66.5 387.1h1M80.7 381.5h1M68.6 390.2h1M69.4 385.6h1M85.8 367.2h1M82.3 384.8h1M73.4 392.7h1M74.5 388.7h1M81.3 389.1h1M80.6 378.2h1M68.7 388.9h1M67.4 402.7h1M66.1 384.5h1M76.7 389.3h1M76.9 388.3h1M84.0 379.6h1M80.1 388.4h1M78.5 381.3h1M69.1 396.5h1M73.9 377.0h1M85.1 371.3h1M77.8 381.2h1M77.8 387.3h1M82.0 391.7h1M86.1 375.7h1M73.5 397.9h1M71.1 386.4h1M78.3 385.2h1M73.2 377.9h1M70.1 389.4h1M74.0 383.7h1M73.0 389.8h1M75.4 387.0h1M72.2 387.5h1M65.3 394.0h1M78.2 390.8h1M78.6 380.6h1M59.6 387.5h1M74.5 390.5h1M80.3 384.4h1M72.1 398.5h1M82.3 391.6h1M64.7 392.6h1M81.8 380.0h1M87.6 370.6h1M79.8 368.0h1M64.4 382.4h1M83.2 385.8h1M72.0 384.4h1M73.6 385.8h1M82.8 375.9h1M66.1 396.7h1M81.6 380.8h1M68.9 384.0h1M81.1 376.3h1M75.2 386.1h1M66.7 389.6h1M73.5 383.7h1M77.9 381.7h1M74.4 387.2h1M71.4 379.5h1M70.5 390.7h1M63.6 404.4h1M84.0 384.5h1M80.8 384.4h1M80.5 390.6h1M75.5 387.7h1M80.4 380.1h1M81.0 398.2h1M71.4 393.6h1M71.9 387.9h1M81.6 379.3h1M71.3 401.6h1M77.3 375.9h1M74.6 395.3h1M74.0 400.3h1M87.0 382.6h1M75.0 389.2h1M64.2 395.0h1M68.8 387.5h1M80.0 381.0h1M87.0 383.4h1M75.6 393.6h1M81.4 388.3h1M80.3 383.8h1M78.8 398.7h1M77.1 385.6h1M72.8 386.7h1M73.0 392.9h1M70.9 390.7h1M79.6 390.9h1M81.4 392.8h1M74.8 394.6h1M68.5 388.1h1M77.8 377.2h1M78.5 388.3h1M75.8 378.3h1M83.7 380.7h1M72.9 379.5h1M86.6 370.4h1M72.6 395.9h1M77.0 380.1h1M76.7 393.2h1M89.8 377.8h1M91.0 380.5h1M63.3 402.0h1M70.2 395.8h1M79.6 383.9h1M81.6 384.0h1M74.1 378.7h1M76.8 390.3h1M81.0 387.4h1M74.3 379.9h1M69.5 384.7h1M80.0 379.9h1M69.4 410.4h1M81.5 385.7h1M67.2 394.2h1M80.9 381.4h1M68.1 385.4h1M75.8 399.2h1M75.0 383.7h1M72.8 397.1h1M65.1 391.1h1M66.8 400.2h1M71.3 385.5h1M80.9 386.9h1M86.9 385.3h1M79.1 393.0h1M83.9 382.7h1M79.6 391.5h1M70.2 385.5h1M73.5 380.2h1M80.5 379.9h1M77.6 394.2h1M74.6 390.7h1M77.3 391.8h1M70.2 383.4h1M69.1 394.1h1M79.5 379.5h1M74.8 392.7h1M86.1 391.3h1M73.8 396.9h1M82.0 389.3h1M76.3 384.5h1M72.7 391.3h1M90.2 376.2h1M79.2 387.0h1M79.5 370.7h1M84.8 384.4h1M75.3 396.2h1M74.2 392.0h1M80.8 387.5h1M77.5 389.4h1M73.7 386.5h1M67.0 385.3h1M72.2 407.2h1M74.3 390.2h1M62.6 404.6h1M78.0 386.0h1M72.1 394.4h1M72.7 394.8h1M70.3 387.0h1M78.9 387.9h1M67.8 399.4h1M65.5 401.3h1M69.0 396.0h1M64.5 404.0h1M66.0 392.5h1M84.6 376.9h1M68.8 395.7h1M79.4 383.9h1M71.6 401.6h1M80.5 388.9h1M77.8 394.1h1M74.4 388.3h1M81.6 386.5h1M89.7 378.9h1M75.7 386.3h1M74.1 386.0h1M76.9 401.1h1M72.2 379.0h1M74.0 390.2h1M80.7 382.7h1M71.0 385.5h1M85.2 375.5h1M66.5 404.9h1M65.2 383.9h1M84.8 385.3h1M73.9 391.4h1M67.6 391.7h1M78.2 393.7h1M68.0 398.9h1M74.7 386.4h1M80.0 363.2h1M85.6 382.9h1M69.3 396.8h1M67.9 392.9h1M72.9 391.2h1M86.0 384.8h1M69.2 393.3h1M71.1 393.2h1M78.8 380.6h1M76.0 378.7h1M69.4 388.1h1M67.5 395.4h1M65.4 398.9h1M75.8 397.0h1M63.3 405.3h1M78.9 382.3h1M73.5 394.4h1M77.9 384.7h1M89.4 377.3h1M76.2 375.2h1M60.4 390.3h1M82.0 383.3h1M80.6 378.8h1M72.1 394.7h1M65.1 391.6h1M73.2 388.0h1M66.0 400.0h1M84.8 378.4h1M61.2 405.7h1M73.1 399.7h1M71.3 388.4h1M77.0 392.4h1M74.3 385.6h1M76.5 386.1h1M70.0 386.7h1M82.1 380.2h1M59.2 401.0h1M79.1 391.3h1M69.0 391.9h1M77.1 388.2h1M76.0 386.3h1M70.0 395.0h1M68.1 390.3h1M88.0 388.9h1M76.2 384.9h1M77.5 398.1h1M82.4 369.8h1M96.5 377.6h1M71.1 402.3h1M83.8 391.4h1M83.4 365.1h1M85.1 386.7h1M76.3 386.5h1M76.4 391.7h1M79.5 398.0h1M75.6 391.1h1M69.7 390.5h1M80.5 383.6h1M69.5 388.5h1M74.4 392.8h1M68.6 397.3h1M76.7 390.0h1M69.0 394.0h1M67.0 384.0h1M80.0 379.7h1M76.8 385.2h1M80.8 386.7h1M80.5 388.2h1M70.1 383.6h1M79.2 392.9h1M77.3 393.6h1M80.2 383.2h1M71.0 397.8h1M75.5 372.7h1M85.0 395.5h1M69.8 392.9h1M69.9 389.9h1M76.0 396.9h1M79.0 389.3h1M69.7 392.4h1M75.6 375.1h1M74.7 397.1h1M68.7 410.0h1M67.5 390.9h1M58.0 398.5h1M76.6 389.8h1M90.3 387.6h1M73.5 379.3h1M68.6 398.9h1M66.7 390.6h1M85.9 375.6h1M78.8 387.3h1M77.3 389.9h1M75.7 376.2h1M83.9 366.1h1M91.3 385.6h1M80.0 390.4h1M70.5 380.4h1M80.5 385.1h1M77.4 397.2h1M69.4 396.2h1M76.2 388.4h1M70.5 395.7h1M77.0 390.4h1M77.3 388.8h1M90.7 372.7h1M69.3 393.7h1M78.0 391.9h1M75.7 390.6h1M78.6 385.7h1M76.3 376.8h1M71.2 390.9h1M71.2 394.9h1M64.0 398.9h1M68.6 394.0h1M74.3 381.2h1M73.8 386.6h1M62.6 390.4h1M68.1 387.1h1M75.8 388.4h1M80.0 386.1h1M68.6 390.1h1M72.0 388.7h1M65.5 402.1h1M74.7 401.5h1M92.0 382.3h1M61.6 403.5h1M70.5 388.6h1M73.6 384.4h1M78.4 395.2h1M66.8 391.2h1M77.3 390.6h1M73.9 387.3h1M73.4 387.8h1M67.9 404.7h1M77.0 391.4h1M78.8 401.1h1M76.0 395.3h1M83.9 392.4h1M77.4 382.5h1M80.4 381.7h1M69.1 389.3h1M79.4 380.6h1M84.7 381.9h1M80.6 379.1h1M85.0 379.5h1M72.3 387.7h1M73.3 388.8h1M84.1 385.5h1M67.7 398.5h1M76.5 386.8h1M73.7 393.3h1M69.9 388.4h1M58.8 396.0h1M71.8 396.2h1M76.8 389.7h1M89.4 388.9h1M81.7 381.6h1M76.8 390.4h1M82.9 396.5h1M69.6 393.7h1M75.5 383.7h1M77.0 392.6h1M80.4 385.2h1M89.3 378.6h1M72.3 386.4h1M72.9 404.1h1M71.8 395.8h1M59.5 393.2h1M68.4 397.1h1M81.1 377.5h1M77.4 387.3h1M71.4 403.3h1M79.4 383.8h1M81.1 378.0h1M77.5 394.3h1M70.3 392.4h1M68.7 387.1h1M72.9 383.1h1M85.4 388.7h1M86.1 382.8h1M88.8 384.6h1M78.1 376.5h1M80.9 376.6h1M76.5 381.5h1M70.2 402.4h1M79.3 393.1h1M77.0 386.0h1M72.9 391.0h1M84.1 384.5h1M72.9 390.7h1M67.7 393.3h1M82.9 377.2h1M83.4 386.8h1M85.1 393.4h1M81.8 382.5h1M80.9 380.2h1M78.5 386.8h1M63.1 407.8h1M74.4 395.6h1M70.1 389.6h1M70.1 395.9h1M76.2 386.7h1M86.2 382.8h1M75.2 394.0h1M68.4 396.3h1M91.1 376.7h1M77.9 395.7h1M69.7 398.5h1M72.1 383.1h1M77.2 384.8h1M65.7 389.2h1M80.5 383.1h1M73.9 393.0h1M75.7 399.5h1M78.8 389.0h1M74.3 378.4h1M70.6 392.1h1M74.5 383.8h1M72.2 387.0h1M91.7 367.8h1M72.2 394.3h1M83.0 378.0h1M72.6 386.8h1M73.0 388.0h1M77.7 381.7h1M80.0 381.5h1M85.8 381.6h1M78.4 386.9h1M75.8 395.8h1M68.5 389.3h1M86.7 391.2h1M79.7 384.9h1M74.1 370.9h1M79.2 386.5h1M86.0 384.2h1M84.3 377.4h1M71.4 383.3h1M67.6 399.9h1M66.3 395.3h1M66.9 398.7h1M86.1 378.0h1M58.2 385.0h1M82.3 379.3h1M81.0 385.9h1M87.3 377.4h1M79.7 380.0h1M73.3 388.0h1M71.3 387.6h1M75.4 387.4h1M82.1 391.6h1M70.4 390.8h1M76.5 389.7h1M85.8 377.6h1M71.6 405.5h1M79.2 388.4h1M73.2 397.4h1M76.7 387.2h1M86.0 386.8h1M75.0 388.8h1M79.4 382.5h1M70.8 403.6h1M84.3 382.3h1M75.4 395.6h1M75.5 381.1h1M86.5 394.9h1M62.0 408.5h1M77.7 399.2h1M78.5 388.2h1M81.1 374.5h1M79.6 388.3h1M76.4 386.2h1M70.7 401.5h1M76.1 372.0h1M82.2 372.4h1M71.2 384.8h1M79.5 394.2h1M70.6 403.8h1M76.3 378.7h1M91.7 369.3h1M80.6 384.0h1M81.4 378.2h1M83.5 388.4h1M66.8 393.3h1M83.1 378.6h1M66.5 396.1h1M76.9 392.1h1M75.1 384.9h1M83.3 384.2h1M74.1 382.5h1M73.3 382.2h1M67.5 391.3h1M66.1 396.4h1M73.4 386.1h1M82.1 402.0h1M64.7 395.5h1M69.3 398.6h1M72.3 391.8h1M66.0 402.9h1M73.3 402.7h1M68.3 402.1h1M73.9 385.1h1M72.3 381.1h1M89.4 375.7h1M70.5 402.3h1M65.9 389.0h1M84.2 384.5h1M66.1 383.7h1M73.4 390.7h1M88.8 378.7h1M69.7 387.9h1M62.2 391.8h1M73.6 402.6h1M71.3 381.2h1M78.4 387.1h1M61.8 394.0h1M71.4 396.9h1M84.8 389.4h1M76.8 382.7h1M68.2 390.4h1M70.8 377.5h1M72.0 379.0h1M62.6 399.4h1M74.6 391.5h1M79.9 387.1h1M73.4 393.6h1M66.5 406.7h1M75.0 391.4h1M89.8 390.8h1M83.8 376.4h1M63.1 404.6h1M80.4 361.4h1M66.1 394.4h1M82.9 383.0h1M80.3 377.7h1M86.0 385.1h1M78.7 389.3h1M76.2 402.8h1M73.4 379.5h1M69.1 391.9h1M65.7 410.6h1M91.9 368.0h1M75.8 380.4h1M84.0 373.7h1M68.8 394.0h1M87.3 380.4h1M87.1 378.8h1M84.0 376.8h1M71.8 385.8h1M71.9 399.9h1M78.9 393.3h1M58.4 401.1h1M69.4 403.8h1M71.8 384.5h1M68.9 395.0h1M71.1 387.0h1M68.0 383.9h1M83.8 372.2h1M79.9 376.6h1M78.9 391.7h1M85.2 381.8h1M68.5 392.2h1M67.5 386.2h1M75.2 377.5h1M59.3 390.5h1M72.7 389.6h1M67.1 397.6h1M72.2 384.5h1M84.8 376.5h1M71.4 394.2h1M80.9 390.1h1M66.5 392.0h1M73.1 400.2h1M66.4 396.0h1M89.4 382.2h1M84.7 367.8h1M82.3 388.1h1M68.1 391.2h1M85.8 388.2h1M75.3 392.3h1M75.4 379.0h1M80.3 388.8h1M76.8 386.2h1M80.9 385.5h1M81.3 399.9h1M72.0 390.5h1M63.9 399.8h1M77.3 395.1h1M65.1 397.2h1M77.8 392.0h1M74.0 398.6h1M76.1 387.7h1M80.8 387.3h1M58.3 391.9h1M77.0 399.2h1M67.2 393.1h1M75.9 380.0h1M93.1 382.1h1M87.2 387.6h1M71.3 389.3h1M85.8 379.2h1M65.3 398.4h1M79.6 374.0h1M73.2 394.5h1M63.8 412.2h1M101.4 377.5h1M83.7 376.3h1M73.3 398.9h1M75.2 386.3h1M73.4 389.4h1M81.5 392.0h1M60.2 394.1h1M67.3 390.2h1M74.8 382.5h1M81.4 390.5h1M84.0 381.0h1M78.1 389.6h1M90.6 372.6h1M75.8 397.2h1M75.3 385.3h1M63.6 401.8h1M66.9 396.6h1M85.1 380.3h1M65.0 391.4h1M77.8 384.0h1M85.9 397.4h1M72.0 398.1h1M73.7 391.2h1M68.8 389.3h1M73.9 393.0h1M80.8 383.7h1M81.8 385.8h1M69.6 390.7h1M72.1 396.5h1M79.5 388.3h1M77.9 391.5h1M79.2 379.3h1M92.8 370.7h1M86.9 387.5h1M72.8 386.8h1M77.3 391.9h1M69.2 393.7h1M68.8 394.0h1M65.0 392.1h1M69.1 388.2h1M75.3 393.4h1M80.4 383.6h1M78.3 395.4h1M67.8 384.8h1M66.8 396.1h1M79.4 372.2h1M79.7 385.8h1M93.8 381.7h1M74.0 377.9h1M83.7 377.3h1M73.6 389.9h1M79.4 383.1h1M88.5 366.7h1M66.4 395.8h1M88.5 384.8h1M80.9 372.7h1M80.0 387.0h1M81.7 384.3h1M76.0 373.8h1M68.0 390.6h1M79.2 386.5h1M77.7 400.7h1M70.9 393.1h1M69.8 391.5h1M75.0 389.8h1M81.3 391.2h1M81.3 387.5h1M72.1 403.0h1M86.3 373.0h1M79.0 377.3h1M75.7 379.9h1M76.3 393.4h1M74.1 388.4h1M76.5 382.7h1M79.9 387.0h1M66.2 401.6h1M71.5 376.4h1M91.8 366.0h1M61.2 399.7h1M83.1 382.4h1M77.5 385.6h1M81.6 394.6h1M83.7 378.3h1M63.9 393.7h1M68.2 380.8h1M79.4 373.8h1M71.6 387.9h1M72.8 391.5h1M78.5 389.5h1M73.5 392.3h1M82.2 375.0h1M73.3 397.7h1M77.0 379.1h1M72.0 401.0h1M86.4 388.9h1M78.9 392.4h1M66.9 413.1h1M80.9 392.8h1M64.8 393.1h1M73.7 392.5h1M83.7 376.2h1M64.4 393.4h1M64.3 392.6h1M86.0 379.2h1M70.9 383.5h1M83.1 375.7h1M77.4 386.1h1M68.6 393.8h1M80.7 393.4h1M85.8 381.7h1M81.5 381.7h1M73.1 386.6h1M77.3 389.3h1M75.3 389.7h1M68.3 389.9h1M81.3 369.6h1M72.5 386.1h1M63.8 393.1h1M74.3 393.3h1M81.0 384.0h1M78.0 382.7h1M75.9 390.5h1M73.6 395.1h1M69.1 383.2h1M66.4 401.7h1M71.6 401.3h1M78.3 381.0h1M65.4 386.5h1M77.4 385.4h1M77.8 375.5h1M81.0 385.0h1M77.6 389.9h1M90.7 374.6h1M80.0 383.9h1M66.2 385.5h1M84.4 386.5h1M71.5 380.4h1M74.4 398.1h1M76.9 388.7h1M71.2 387.2h1M61.4 401.4h1M73.4 388.9h1M80.3 395.7h1M71.5 390.7h1M69.8 404.0h1M63.3 383.3h1M76.1 389.5h1M75.4 387.2h1M73.3 400.6h1M81.1 385.2h1M73.4 401.6h1M70.3 387.2h1M84.2 379.5h1M69.2 392.0h1M75.2 394.5h1M83.8 382.0h1M68.2 387.4h1M77.6 393.7h1M83.9 392.4h1M80.1 379.3h1M67.0 408.6h1M72.4 396.1h1M66.0 393.3h1M72.3 399.2h1M67.0 392.2h1M73.3 396.9h1M71.4 381.6h1M65.1 391.1h1M78.1 389.0h1M78.7 386.1h1M74.5 396.5h1M75.5 386.9h1M80.6 372.7h1M83.1 390.5h1M68.1 390.5h1M80.3 393.1h1M73.5 398.0h1M84.1 392.0h1M72.3 375.6h1M70.5 394.5h1M73.3 389.3h1M84.7 382.2h1M68.4 388.9h1M84.9 393.6h1M69.4 396.1h1M62.0 387.8h1M74.0 393.5h1M87.9 372.5h1M70.5 389.4h1M75.7 394.9h1M72.2 392.6h1M70.8 386.8h1M78.5 383.1h1M75.1 386.0h1M88.7 374.5h1M75.5 386.0h1M83.6 377.7h1M71.4 382.0h1M76.1 381.8h1M68.2 399.8h1M84.4 397.0h1M72.3 386.8h1M71.1 388.0h1M66.8 407.1h1M88.4 388.2h1M77.8 394.9h1M69.3 388.9h1M78.2 393.6h1M76.0 391.6h1M77.0 384.8h1M63.4 394.0h1M70.2 395.4h1M77.6 386.7h1M78.5 389.1h1M66.9 386.2h1M68.0 389.4h1M71.1 394.9h1M80.7 393.2h1M85.4 382.3h1M67.2 394.5h1M87.1 379.6h1M76.8 379.6h1M71.5 390.7h1M78.8 381.9h1M64.5 397.2h1M63.6 399.7h1M71.5 400.6h1M74.4 392.5h1M64.4 383.7h1M77.3 396.0h1M77.9 389.2h1M59.1 400.9h1M79.0 385.4h1M70.6 401.4h1M76.9 397.4h1M71.0 389.9h1M64.9 393.8h1M62.1 394.2h1M69.5 395.7h1M71.3 385.4h1M82.9 387.4h1M78.1 383.8h1M72.5 397.9h1M70.3 393.8h1M67.3 392.9h1M73.9 381.9h1M67.7 406.5h1M77.6 375.5h1M74.6 393.5h1M75.1 397.4h1M78.1 386.5h1M87.2 385.4h1M77.4 386.0h1M80.4 379.9h1M77.1 388.1h1M80.4 377.8h1M83.9 380.3h1M74.9 389.2h1M89.4 382.4h1M76.3 387.2h1M79.4 390.5h1M72.0 396.6h1M74.2 390.9h1M79.2 382.2h1M74.5 403.2h1M85.4 388.6h1M78.7 386.9h1M75.2 385.0h1M61.4 403.6h1M71.4 386.5h1M74.1 379.7h1M69.2 392.6h1M76.1 387.9h1M65.9 409.1h1M83.1 386.5h1M73.5 394.8h1M79.4 381.3h1M64.1 401.3h1M79.4 383.4h1M74.7 390.7h1M77.6 380.6h1M69.4 394.6h1M70.8 392.1h1M87.1 371.1h1M72.9 396.3h1M75.5 396.8h1M72.0 389.0h1M68.0 394.7h1M83.2 380.5h1M87.0 377.1h1M62.5 386.6h1M68.6 403.5h1M83.1 380.6h1M80.8 379.6h1M84.8 386.0h1M81.7 379.7h1M63.4 389.3h1M70.9 386.9h1M65.1 396.7h1M65.0 397.1h1M80.7 381.0h1M67.9 390.5h1M89.2 372.3h1M77.6 389.3h1M71.4 392.9h1M76.5 379.9h1M84.5 374.3h1M75.6 382.9h1M76.5 403.7h1M72.9 382.1h1M74.2 371.2h1M67.4 388.0h1M72.3 395.1h1M84.7 383.7h1M75.2 386.6h1M73.1 399.6h1M70.5 389.0h1M73.2 395.7h1M73.4 383.4h1M70.8 383.5h1M90.1 386.3h1M78.4 382.4h1M69.3 402.1h1M83.4 389.9h1M83.1 383.8h1M79.0 385.8h1M77.3 377.8h1M78.3 397.2h1M65.9 392.2h1M72.9 375.5h1M67.0 394.5h1M61.0 402.6h1M81.4 381.0h1M76.0 397.4h1M71.6 389.1h1M66.0 397.6h1M65.0 396.0h1M58.8 389.1h1M70.6 388.9h1M75.9 384.5h1M56.2 400.5h1M85.1 387.1h1M73.2 400.7h1M70.9 397.5h1M82.0 385.5h1M72.3 386.9h1M68.0 400.7h1M79.2 369.6h1M64.6 390.1h1M73.9 384.3h1M78.2 388.2h1M81.1 376.3h1M69.7 389.3h1M85.5 384.4h1M69.9 392.9h1M79.1 378.1h1M70.3 393.4h1M67.2 386.3h1M81.6 370.9h1M80.6 388.7h1M75.6 387.3h1M91.6 374.6h1M75.3 384.1h1M74.2 397.2h1M76.1 380.3h1M67.2 396.0h1M78.1 377.2h1M83.0 380.1h1M78.0 397.2h1M64.9 387.7h1M77.2 387.7h1M70.2 384.2h1M68.2 394.3h1M76.1 382.3h1M56.6 397.8h1M71.7 390.6h1M67.7 387.1h1M79.8 395.1h1M73.8 383.6h1M69.4 398.2h1M79.4 384.6h1M74.4 389.8h1M70.4 392.2h1M61.1 393.4h1M76.0 402.9h1M77.4 385.7h1M72.8 397.8h1M71.3 384.4h1M83.2 382.0h1M79.6 379.5h1M86.0 378.3h1M71.2 388.6h1M65.3 393.3h1M82.9 382.2h1M77.1 386.1h1M87.5 384.6h1M74.4 387.5h1M79.0 377.1h1M82.5 384.0h1M75.2 379.8h1M86.6 391.2h1M85.1 391.3h1M82.3 391.1h1M78.7 388.3h1M81.1 381.2h1M72.9 392.5h1M85.7 376.0h1M72.0 387.1h1M83.0 382.7h1M80.0 393.1h1M79.0 394.1h1M78.8 367.1h1M83.0 398.0h1M68.9 398.4h1M65.7 389.2h1M71.8 389.3h1M91.1 375.3h1M76.7 387.0h1M77.4 379.0h1M65.0 392.1h1M81.1 388.7h1M76.3 381.2h1M84.8 374.5h1M67.2 390.2h1M73.5 379.8h1M78.6 387.3h1M75.4 400.4h1M73.8 387.4h1M67.0 385.0h1M59.5 403.4h1M78.0 383.4h1M69.1 377.1h1M77.1 394.9h1M64.3 395.5h1M86.2 379.4h1M76.8 386.4h1M81.0 380.8h1M77.6 373.5h1M76.2 395.2h1M82.3 384.2h1M80.4 395.2h1M73.2 387.5h1M76.8 390.5h1M73.8 387.2h1M86.1 383.6h1M77.6 388.7h1M70.5 386.4h1M74.6 391.1h1M75.0 384.1h1M68.3 393.4h1M74.0 393.3h1M81.3 393.7h1M68.4 389.6h1M74.1 388.8h1M68.1 389.9h1M94.9 380.0h1M89.6 383.9h1M86.5 391.8h1M78.6 391.6h1M83.9 369.2h1M75.1 384.4h1M75.1 389.2h1M76.7 385.9h1M74.3 383.9h1M84.8 379.1h1M73.8 387.4h1M87.0 372.7h1M79.1 401.7h1M81.0 384.6h1M64.4 391.7h1M87.5 376.4h1M74.2 391.4h1M77.6 390.8h1M82.7 383.2h1M78.3 375.8h1M70.2 397.5h1M77.5 394.2h1M79.8 408.3h1M78.5 389.3h1M82.7 395.3h1M80.7 396.7h1M68.4 391.1h1M70.5 389.1h1M78.8 399.9h1M75.2 382.0h1M82.4 376.0h1M67.5 405.1h1M71.9 387.1h1M79.5 396.6h1M83.1 388.6h1M75.7 399.9h1M79.0 393.0h1M66.1 393.4h1M84.7 387.5h1M80.6 391.3h1M78.3 392.6h1M76.8 385.2h1M75.4 391.4h1M63.2 397.2h1M81.7 386.3h1M82.2 390.4h1M76.6 391.2h1M81.0 381.2h1M86.2 382.4h1M68.2 395.7h1M63.9 388.6h1M86.7 379.0h1M83.5 378.0h1M66.0 389.8h1M71.3 399.2h1M75.2 395.8h1M77.0 395.6h1M64.9 398.9h1M73.7 386.7h1M68.8 398.4h1M68.5 397.3h1M75.8 377.9h1M68.2 390.9h1M80.7 393.4h1M79.2 384.0h1M79.8 382.3h1M70.8 388.8h1M76.7 388.9h1M73.4 396.6h1M87.4 377.2h1M86.3 389.3h1M69.4 396.7h1M78.0 390.4h1M77.9 381.9h1M82.4 388.2h1M87.8 376.5h1M87.3 381.5h1M76.7 395.8h1M72.4 387.1h1M70.1 399.4h1M75.3 385.4h1M80.9 390.9h1M90.7 368.5h1M82.9 393.1h1M65.5 405.4h1M73.8 395.1h1M74.0 386.0h1M67.8 397.3h1M71.4 395.5h1M70.3 388.7h1M76.9 385.5h1M72.6 388.2h1M67.6 392.8h1M80.4 383.1h1M73.7 393.5h1M71.5 391.3h1M69.4 400.0h1M69.6 393.2h1M75.0 380.5h1M63.0 397.9h1M76.8 390.3h1M84.8 387.3h1M73.7 391.6h1M77.5 387.3h1M64.9 393.4h1M84.7 380.2h1M82.8 381.2h1M74.1 384.7h1M67.5 403.0h1M70.3 396.8h1M74.5 376.2h1M79.6 371.5h1M74.9 384.5h1M81.8 378.7h1M76.0 396.1h1M72.4 388.3h1M75.5 388.5h1M77.2 384.9h1M69.0 401.4h1M81.1 381.8h1M84.0 379.5h1M67.9 396.1h1M62.3 394.2h1M76.3 385.0h1M78.5 398.5h1M65.9 409.0h1M86.5 387.6h1M79.7 389.9h1M70.8 390.4h1M86.2 371.9h1M78.8 389.5h1M70.3 393.3h1M79.2 390.2h1M75.3 400.6h1M76.9 398.5h1M81.3 388.5h1M66.9 388.3h1M78.4 396.1h1M80.4 372.6h1M75.4 378.3h1M81.0 383.3h1M78.9 384.9h1M80.9 387.0h1M84.1 378.1h1M73.0 386.8h1M86.3 375.0h1M66.3 392.6h1M69.6 386.9h1M66.5 397.7h1M72.4 390.2h1M78.9 385.0h1M82.6 377.0h1M76.3 396.9h1M74.1 387.4h1M72.8 390.7h1M74.9 396.7h1M60.4 390.8h1M79.9 391.2h1M69.2 404.0h1M75.2 387.0h1M83.4 394.5h1M75.1 395.9h1M75.9 400.8h1M71.6 401.8h1M86.9 375.4h1M66.8 397.5h1M80.3 373.9h1M76.0 381.8h1M69.0 387.7h1M66.8 395.3h1M83.5 382.5h1M81.2 372.6h1M72.3 397.0h1M76.4 392.7h1M75.7 376.3h1M74.5 383.8h1M86.3 373.3h1M69.5 390.5h1M75.4 382.0h1M73.9 402.0h1M88.1 373.6h1M76.2 397.6h1M62.6 404.5h1M77.6 391.7h1M69.6 385.5h1M84.6 373.0h1M77.0 393.6h1M75.7 388.8h1M83.9 388.0h1M84.6 376.9h1M73.2 387.5h1M80.6 380.2h1M86.3 390.8h1M75.3 391.9h1M74.2 386.5h1M74.7 387.5h1M65.9 391.8h1M87.7 383.7h1M65.7 397.2h1M85.0 382.1h1M80.4 381.1h1M73.6 388.1h1M68.6 392.2h1M76.7 392.1h1M77.7 384.6h1M84.6 386.8h1M82.9 390.9h1M79.2 379.7h1M72.7 392.9h1M83.4 391.9h1M70.1 402.8h1M80.0 383.0h1M70.5 382.8h1M69.2 388.5h1M79.2 377.7h1M86.7 389.1h1M60.0 409.6h1M74.1 386.9h1M65.8 398.1h1M80.2 379.6h1M90.9 371.2h1M65.8 387.1h1M70.3 383.6h1M74.7 390.8h1M81.6 389.1h1M71.3 377.6h1M85.3 380.9h1M65.4 392.2h1M77.2 371.3h1M74.1 398.4h1M76.2 385.8h1M83.7 381.3h1M77.8 381.9h1M69.1 394.6h1M64.0 387.8h1M70.8 390.3h1M75.5 389.1h1M77.9 376.8h1M69.4 399.0h1M79.8 386.4h1M70.4 377.3h1M82.2 387.1h1M80.3 386.8h1M84.3 377.4h1M82.7 388.4h1M88.9 388.9h1M74.8 381.3h1M89.1 378.0h1M67.0 404.3h1M84.5 380.4h1M78.1 393.6h1M78.4 394.0h1M69.5 395.3h1M70.6 389.2h1M68.9 391.4h1M84.5 389.7h1M67.4 399.5h1M88.6 381.8h1M74.2 384.3h1M75.2 391.2h1M71.5 393.8h1M71.6 394.7h1M71.6 398.8h1M78.6 397.4h1M73.5 386.9h1M80.2 394.2h1M72.3 402.7h1M75.4 391.5h1M73.4 397.4h1M75.6 386.7h1M82.4 371.9h1M78.3 383.3h1M73.2 390.4h1M66.3 400.5h1M64.3 396.4h1M73.3 406.7h1M78.4 382.2h1M75.0 397.2h1M80.9 392.0h1M72.2 393.2h1M77.8 389.2h1M81.5 376.6h1M67.5 390.3h1M82.9 398.3h1M71.4 394.8h1M73.0 376.2h1M66.4 393.5h1M63.5 392.5h1M67.4 398.5h1M73.3 403.4h1M82.9 388.7h1M87.6 367.7h1M66.3 393.0h1M84.1 384.0h1M78.2 387.7h1M68.4 396.0h1M81.0 396.1h1M75.8 391.5h1M65.4 388.8h1M78.2 367.8h1M65.2 403.0h1M70.7 380.3h1M79.7 387.9h1M75.6 395.4h1M85.4 394.5h1M77.0 379.3h1M78.1 388.7h1M68.9 378.4h1M78.4 382.6h1M63.4 403.0h1M91.3 383.4h1M82.9 367.4h1M82.8 382.6h1M82.2 381.7h1M76.4 405.8h1M71.4 386.7h1M67.2 391.6h1M74.8 394.8h1M80.9 381.3h1M69.6 393.4h1M71.2 386.7h1M64.4 402.3h1M68.0 384.5h1M77.2 388.8h1M74.1 395.7h1M73.4 395.4h1M96.5 382.7h1M72.0 400.0h1M65.7 393.3h1M70.0 393.8h1M85.8 382.4h1M86.4 372.2h1M85.6 392.5h1M72.7 394.8h1M71.2 390.2h1M79.1 378.7h1M73.6 397.7h1M80.4 375.2h1M76.5 372.5h1M77.8 389.5h1M76.5 381.7h1M86.1 388.0h1M92.3 383.3h1M67.3 394.5h1M82.3 379.9h1M72.8 390.8h1M73.6 396.1h1M77.5 388.8h1M71.3 387.7h1M63.3 390.6h1M67.4 401.0h1M76.8 400.6h1M79.0 374.1h1M84.6 372.4h1M76.7 381.8h1M81.8 379.4h1M63.6 385.3h1M75.0 389.0h1M75.3 385.0h1M76.8 402.3h1M72.3 397.7h1M79.0 390.1h1M74.0 391.1h1M68.2 395.4h1M80.9 388.1h1M67.4 385.3h1M85.7 384.5h1M77.4 390.1h1M73.0 390.1h1M81.4 391.6h1M72.5 388.2h1M69.4 391.6h1M74.6 392.5h1M72.5 377.3h1M79.1 383.7h1M82.0 378.4h1M69.8 404.0h1M80.1 396.7h1M75.8 393.6h1M78.0 388.4h1M74.9 393.4h1M69.7 390.1h1M89.6 390.3h1M81.2 390.8h1M76.2 402.8h1M78.1 374.7h1M83.6 383.1h1M74.4 394.4h1M73.8 406.0h1M88.5 383.1h1M66.0 387.2h1M79.5 387.4h1M58.4 409.5h1M81.2 372.1h1M77.9 383.0h1M78.6 380.9h1M87.7 376.4h1M67.0 384.2h1M78.1 393.1h1M71.7 372.1h1M80.8 384.9h1M77.6 394.0h1M71.8 384.1h1M68.2 390.7h1M92.7 389.8h1M82.0 376.9h1M82.9 394.1h1M96.2 372.2h1M57.3 399.8h1M78.1 394.2h1M88.0 368.2h1M73.7 393.8h1M87.8 373.7h1M86.7 387.7h1M71.1 405.4h1M87.1 384.0h1M65.5 397.6h1M63.5 401.6h1M68.3 384.6h1M70.0 391.8h1M64.9 398.4h1M70.2 389.9h1M67.2 398.7h1M74.0 385.6h1M70.5 384.1h1M77.2 376.2h1M74.4 395.0h1M73.8 410.0h1M68.4 405.2h1M71.5 388.9h1M102.9 383.8h1M85.3 381.2h1M67.1 392.2h1M86.7 380.6h1M71.6 405.1h1M74.0 368.7h1M63.9 385.0h1M83.4 381.0h1M73.1 374.9h1M65.4 384.3h1M84.6 389.7h1M80.0 393.0h1M86.2 377.7h1M117.2 350.5h1M80.9 380.0h1M83.6 393.1h1M66.5 398.2h1M78.3 371.5h1M59.6 403.9h1M69.8 397.3h1M69.5 376.5h1M69.9 404.5h1M83.1 367.1h1M86.5 377.8h1M69.1 392.6h1M70.3 393.3h1M63.1 400.8h1M63.4 402.5h1M83.6 386.9h1M84.0 384.0h1M75.8 382.0h1M78.2 385.5h1M77.1 399.2h1M82.5 387.4h1M66.5 406.4h1M75.7 387.9h1M87.1 371.6h1M86.3 373.6h1M75.1 395.7h1M72.3 391.1h1M95.2 380.1h1M107.5 383.1h1M62.6 403.6h1M81.2 400.2h1M82.9 389.9h1M92.9 381.0h1M64.5 393.5h1M87.9 387.0h1M71.2 389.6h1M98.9 365.5h1M86.3 389.3h1M83.3 396.8h1M69.9 389.1h1M82.4 375.0h1M76.9 377.1h1M75.8 384.3h1M62.2 400.4h1M69.6 396.3h1M63.6 400.8h1M65.9 403.3h1M74.6 399.3h1M90.8 391.4h1M81.0 378.4h1M70.9 388.2h1M64.9 398.8h1M88.1 384.2h1M59.0 409.8h1M61.4 410.2h1M88.1 385.5h1M81.5 381.3h1M86.4 379.8h1M76.9 392.8h1M60.7 397.7h1M77.2 398.3h1M78.0 379.9h1M72.4 398.8h1M67.0 393.2h1M63.0 402.1h1M64.1 398.9h1M88.6 383.9h1M84.0 387.0h1M70.4 404.2h1M65.2 398.4h1M66.4 390.2h1M74.2 377.1h1M68.3 402.5h1M73.7 389.3h1M77.4 411.7h1M84.3 387.8h1M87.3 381.9h1M74.5 407.5h1M79.1 404.6h1M79.6 377.2h1M76.9 395.9h1M80.6 401.7h1M66.9 371.5h1M76.4 385.2h1M87.2 378.0h1M78.7 376.5h1M75.0 397.7h1M65.6 381.6h1M84.0 396.1h1M71.4 408.4h1M68.0 398.8h1M88.6 381.6h1M93.6 385.4h1M82.4 388.6h1M73.2 388.4h1M77.2 379.8h1M74.2 378.3h1M84.3 373.9h1M59.7 381.6h1M76.5 392.7h1M72.7 389.8h1M87.3 364.4h1M85.9 379.8h1M69.4 399.1h1M75.6 393.8h1M73.4 398.5h1M82.4 393.4h1M80.9 388.5h1M104.7 371.7h1M57.8 405.2h1M93.9 385.1h1M67.8 373.7h1M60.0 387.2h1M68.2 384.4h1M72.8 394.3h1M79.7 390.4h1M77.7 371.8h1M61.6 403.0h1M84.1 371.8h1M76.8 395.4h1M82.9 367.4h1M84.1 387.7h1M86.1 374.8h1M90.8 390.6h1M89.1 380.0h1M73.6 385.1h1M71.3 398.9h1M84.4 383.3h1M77.6 376.9h1M94.6 366.7h1M88.1 401.8h1M82.0 374.4h1M62.2 398.7h1M82.8 397.9h1M101.8 372.4h1M83.3 369.2h1M74.5 402.3h1M92.1 376.4h1M82.9 372.9h1M84.7 381.6h1M76.6 381.8h1M83.1 389.8h1M66.8 395.7h1M65.3 388.2h1M80.5 378.9h1M89.8 397.2h1M88.4 365.8h1M72.8 391.2h1M65.2 384.8h1M88.4 393.6h1M68.7 375.1h1M80.3 390.4h1M59.9 389.0h1M89.3 372.8h1M77.9 401.3h1M81.7 380.2h1M71.7 389.4h1M62.6 397.8h1M82.3 368.3h1M65.9 394.5h1M75.6 380.0h1M74.5 393.0h1M88.0 384.8h1M80.7 393.6h1M67.9 389.1h1M90.3 361.8h1M78.9 394.3h1M82.4 396.1h1M59.6 393.3h1M78.5 403.2h1M80.8 380.5h1M85.6 386.0h1M86.2 396.4h1M69.3 394.6h1M83.2 381.8h1M60.2 380.6h1M75.0 391.5h1M62.9 391.8h1M71.5 381.4h1M73.4 397.4h1M74.1 400.4h1M82.6 361.6h1M84.7 382.0h1M86.7 375.7h1M78.3 388.8h1M85.3 378.6h1M86.4 382.7h1M82.5 371.8h1M89.6 357.4h1M76.4 392.0h1M86.4 391.8h1M75.5 388.2h1M67.8 405.4h1M69.4 381.8h1M68.5 370.2h1M69.1 392.0h1M92.2 381.2h1M82.9 370.8h1M85.5 402.9h1M92.6 376.4h1M82.8 362.4h1M76.0 379.4h1M75.7 404.6h1M98.5 380.6h1M70.0 385.4h1M73.3 391.9h1M80.7 389.4h1M69.3 391.4h1M88.9 379.5h1M94.0 389.0h1M82.3 371.3h1M85.1 384.9h1M75.2 400.8h1M82.6 395.8h1M82.5 377.5h1M77.4 395.8h1M98.1 354.6h1M75.7 391.6h1M65.1 388.7h1M88.5 377.7h1M86.5 383.2h1M87.3 397.5h1M80.6 395.4h1M75.9 379.9h1M66.1 364.5h1M90.1 385.9h1M79.6 395.9h1M78.1 381.7h1M80.9 376.8h1M86.8 383.1h1M77.8 404.7h1M71.3 397.2h1M69.2 385.8h1M68.5 378.1h1M85.3 379.0h1M83.2 382.6h1M72.6 386.9h1M70.2 382.2h1M88.8 367.2h1M75.3 397.7h1M76.9 382.9h1M84.4 366.9h1M83.4 387.6h1M66.2 415.3h1M76.7 381.4h1M70.9 390.0h1M69.8 384.3h1M84.9 376.5h1M84.1 386.0h1M76.5 392.6h1M89.9 383.5h1M85.5 387.8h1M80.4 389.4h1M81.7 387.0h1M72.1 379.8h1M80.4 397.1h1M72.6 392.7h1M79.9 390.3h1M59.5 390.5h1M63.9 399.5h1M89.7 376.1h1M69.6 386.3h1M75.7 387.7h1M77.8 391.4h1M67.7 380.1h1M72.4 384.1h1M67.0 378.8h1M62.7 390.5h1M79.9 374.4h1M69.5 394.3h1M91.5 382.2h1M66.6 398.4h1M81.0 374.2h1M75.0 389.3h1M74.4 398.0h1M85.3 388.7h1M63.2 395.2h1M69.5 380.7h1M58.7 412.0h1M69.7 390.2h1M62.7 387.8h1M85.7 386.1h1M85.8 380.3h1M75.2 401.9h1M83.5 365.4h1M69.6 392.6h1M61.0 411.2h1M90.6 372.6h1M69.8 383.8h1M72.3 395.8h1M72.2 397.5h1M63.1 395.9h1M95.0 379.6h1M75.2 388.3h1M88.4 366.3h1M79.0 393.5h1M60.6 416.0h1M82.1 377.8h1M73.6 392.0h1M75.5 391.3h1M88.6 370.5h1M72.7 389.3h1M91.6 380.1h1M80.0 390.9h1M67.1 393.3h1M74.2 377.1h1M63.3 387.4h1M91.7 379.0h1M78.3 372.5h1M72.4 383.4h1M81.7 381.5h1M78.3 379.5h1M69.1 386.6h1M73.8 369.9h1M80.2 395.1h1M78.1 378.4h1M68.7 398.2h1M78.3 387.6h1M73.3 377.9h1M64.7 391.9h1M78.4 396.8h1M73.2 394.5h1M81.2 379.0h1M78.0 401.8h1M75.1 379.0h1M89.9 372.2h1M78.4 383.1h1M60.3 402.7h1M67.0 377.7h1M85.1 376.7h1M75.8 392.3h1M76.0 367.8h1M84.5 383.6h1M82.9 385.7h1M81.9 396.9h1M65.6 387.7h1M72.5 388.9h1M74.1 384.7h1M79.8 381.4h1M80.7 383.8h1M78.1 394.4h1M81.3 390.6h1M77.2 381.5h1M61.5 403.7h1M60.3 387.7h1M73.7 399.4h1M77.3 391.9h1M79.7 395.2h1M66.2 383.6h1M75.7 402.4h1M77.7 376.9h1M70.5 377.8h1M62.8 405.1h1M72.3 383.9h1M78.6 409.3h1M93.3 371.7h1M81.8 400.1h1M71.9 390.7h1M77.0 386.6h1M78.9 393.2h1M70.4 383.6h1M87.7 369.8h1M81.2 387.6h1M86.5 381.3h1M94.4 382.8h1M68.9 398.4h1M78.9 359.9h1M86.3 383.7h1M82.2 375.5h1M71.9 399.0h1M78.8 375.2h1M77.4 381.1h1M73.0 394.1h1M106.2 372.3h1M84.1 384.0h1M67.4 384.2h1M79.4 386.6h1M80.6 375.0h1M88.8 378.0h1M92.0 390.3h1M84.4 372.8h1M87.2 370.7h1M68.9 402.9h1M74.2 394.2h1M66.5 395.8h1M80.5 389.2h1M86.9 370.8h1M83.1 381.6h1M80.6 409.5h1M74.6 391.1h1M88.6 379.6h1M76.5 396.9h1M73.2 386.5h1M81.7 386.6h1M57.4 403.7h1M76.9 374.1h1M78.5 383.2h1M90.0 388.9h1M72.0 401.0h1M64.5 391.0h1M72.6 394.8h1M83.1 388.7h1M77.4 387.1h1M74.6 383.7h1M90.4 367.6h1M84.0 370.8h1M74.7 398.8h1M72.2 395.5h1M92.6 370.9h1M73.7 390.8h1M100.2 383.1h1M91.5 372.0h1M79.2 399.4h1M66.1 383.6h1M68.2 379.1h1M59.2 388.3h1M63.2 393.6h1M75.6 393.9h1M78.2 374.0h1M73.5 393.0h1M71.0 386.6h1M77.4 396.5h1M67.8 404.3h1M86.5 369.8h1M70.7 394.3h1M68.3 370.9h1M88.8 387.2h1M87.3 374.6h1M74.2 400.8h1M78.9 385.9h1M69.7 401.4h1M81.0 382.5h1M71.6 381.9h1M72.8 380.7h1M86.6 372.0h1M80.3 382.5h1M87.3 372.9h1M81.0 380.2h1M62.6 397.0h1M78.5 384.6h1M77.6 379.9h1M71.2 408.6h1M83.3 369.8h1M66.9 378.3h1M78.4 382.7h1M76.5 403.4h1M69.2 380.2h1M80.7 385.8h1M90.4 405.0h1M78.2 387.6h1M85.9 371.5h1M59.5 393.0h1M67.2 396.7h1M80.2 405.4h1M87.3 387.1h1M67.3 396.0h1M74.9 381.2h1M73.7 402.2h1M98.9 367.5h1M78.3 379.5h1M104.1 376.3h1M78.5 407.1h1M83.3 381.6h1M66.5 396.1h1M84.0 383.7h1M95.2 391.3h1M62.3 403.8h1M73.9 405.5h1M62.4 396.3h1M63.7 403.4h1M68.4 393.7h1M64.2 394.3h1M66.7 404.9h1M72.4 382.4h1M73.9 375.8h1M62.5 399.1h1M63.8 386.8h1M79.8 390.3h1M69.0 385.4h1M68.6 393.4h1M88.8 383.7h1M84.0 379.0h1M85.1 382.9h1M77.5 392.2h1M92.9 366.5h1M85.2 364.4h1M74.5 393.1h1M74.4 388.1h1M94.8 382.2h1M68.6 395.2h1M73.1 377.8h1M72.0 383.1h1M67.4 392.5h1M77.1 392.4h1M68.1 408.4h1M72.0 393.5h1M66.4 414.5h1M103.0 369.8h1M83.9 367.4h1M92.0 379.1h1M68.5 375.8h1M92.9 384.0h1M84.7 372.3h1M91.6 382.6h1M83.1 377.1h1M74.1 401.9h1M79.6 382.9h1M72.4 393.8h1M68.4 401.9h1M63.3 396.8h1M71.2 375.9h1M88.6 379.4h1M59.2 397.4h1M90.8 369.0h1M89.0 372.5h1M60.3 381.0h1M84.4 402.7h1M79.3 391.5h1M94.9 386.0h1M74.6 393.0h1M67.8 400.1h1M57.4 365.8h1M56.2 407.2h1M67.1 377.5h1M78.8 369.4h1M81.2 386.5h1M80.1 377.2h1M70.9 374.5h1M81.4 379.2h1M76.1 385.1h1M66.0 393.7h1M82.7 397.1h1M80.1 392.2h1M85.1 372.9h1M87.1 368.1h1M84.9 387.6h1M71.4 396.9h1M70.4 395.7h1M75.3 390.2h1M84.2 369.9h1M78.4 383.6h1M74.6 387.3h1M77.5 402.2h1M89.7 383.5h1M76.8 383.0h1M84.7 395.7h1M75.4 385.2h1M94.5 373.3h1M79.3 393.1h1M87.0 367.0h1M90.7 378.0h1M81.4 391.1h1M87.6 381.7h1M74.7 388.6h1M85.8 400.5h1M68.3 397.1h1M81.9 383.4h1M70.8 382.9h1M83.1 383.5h1M97.4 390.9h1M85.0 389.6h1M60.8 406.5h1M85.4 392.4h1M74.8 401.9h1M79.9 388.9h1M83.1 369.4h1M56.5 401.2h1M81.2 388.5h1M72.6 386.0h1M61.8 409.0h1M81.1 380.4h1M75.6 386.5h1M68.2 389.9h1M73.4 398.0h1M104.8 355.0h1M71.5 390.7h1M60.0 405.8h1M72.6 401.1h1M63.1 383.2h1M75.4 393.8h1M71.1 384.8h1M65.9 397.5h1M73.9 376.2h1M84.4 403.1h1M70.3 397.1h1M79.9 397.5h1M82.8 378.2h1M67.5 371.8h1M70.3 388.7h1M83.4 393.3h1M80.7 387.6h1M86.2 360.2h1M78.8 400.8h1M81.3 383.7h1M84.2 381.5h1M79.5 387.1h1M70.1 379.7h1M76.0 395.7h1M85.7 385.6h1M79.4 372.2h1M82.4 373.0h1M84.4 397.9h1M74.2 382.6h1M92.9 360.3h1M70.1 402.0h1M76.8 384.3h1M82.4 377.2h1M80.3 388.4h1M85.2 383.7h1M81.5 389.1h1M84.3 381.2h1M94.9 380.8h1M74.5 390.1h1M86.4 392.8h1M75.3 387.9h1M73.2 392.2h1M81.9 392.8h1M61.5 395.3h1M71.6 370.7h1M83.4 363.7h1M98.8 376.6h1M80.0 368.4h1M66.6 396.6h1M89.7 372.2h1M73.4 397.9h1M75.8 388.2h1M84.3 361.9h1M63.8 396.1h1M85.9 380.9h1M82.5 388.0h1M77.2 391.2h1M65.2 393.9h1M69.2 374.4h1M78.2 397.5h1M85.3 376.9h1M89.0 376.8h1M68.5 405.5h1M69.5 391.0h1M70.3 388.3h1M74.0 406.7h1M72.4 404.2h1M70.2 381.0h1M72.6 388.3h1M58.9 402.3h1M74.4 395.6h1M82.9 384.1h1M63.1 397.9h1M71.0 399.6h1M96.3 376.5h1M87.6 374.0h1M57.0 400.1h1M70.3 406.6h1M73.5 378.7h1M61.9 396.6h1M78.9 394.4h1M72.2 392.3h1M81.3 382.1h1M73.0 406.6h1M92.7 383.6h1M69.0 384.3h1M60.7 404.8h1M78.1 380.6h1M80.4 378.8h1M65.3 382.9h1M80.2 396.8h1M73.8 377.9h1M91.3 379.1h1M73.4 382.6h1M73.2 375.8h1M83.6 394.8h1M70.6 389.7h1M69.8 398.5h1M80.1 386.4h1M73.3 390.6h1M80.1 395.2h1M89.7 382.6h1M76.7 379.5h1M78.9 374.6h1M65.7 406.7h1M89.3 388.8h1M57.9 382.7h1M62.9 390.8h1M66.8 394.8h1M92.6 380.0h1M86.7 381.9h1M68.6 393.9h1M71.8 404.0h1M67.2 379.9h1M71.4 391.8h1M88.4 368.6h1M69.4 407.7h1M65.5 410.9h1M78.4 394.1h1M74.7 386.2h1M78.9 387.6h1M84.4 381.2h1M92.4 364.7h1M71.9 390.1h1M63.1 386.2h1M62.0 406.8h1M84.0 390.0h1M83.7 378.9h1M65.6 383.4h1M89.6 378.1h1M76.2 387.1h1M91.4 373.7h1M76.8 382.3h1M65.6 397.4h1M75.3 398.1h1M64.2 404.6h1M72.3 379.7h1M78.5 374.3h1M88.3 363.4h1M77.6 389.8h1M76.2 391.8h1M61.3 394.7h1M91.4 383.0h1M79.9 383.9h1M81.5 402.6h1M84.3 382.3h1M85.1 385.2h1M66.8 412.7h1M79.4 377.2h1M81.5 389.7h1M74.9 393.4h1M74.0 393.2h1M95.5 373.1h1M81.5 365.0h1M94.8 371.1h1M65.1 398.6h1M77.9 400.6h1M86.7 380.5h1M67.5 401.7h1M71.7 396.6h1M63.8 409.1h1M91.5 367.8h1M76.6 369.3h1M80.9 383.5h1M78.9 386.0h1M74.8 393.8h1M58.4 379.8h1M72.4 373.6h1M66.9 392.4h1M82.9 371.6h1M75.9 396.1h1M69.5 397.4h1M86.3 373.2h1M74.3 388.6h1M85.8 386.0h1M77.0 395.6h1M79.2 380.5h1M76.4 411.5h1M85.1 376.0h1M63.6 410.0h1M77.5 383.3h1M88.1 390.1h1M72.4 382.6h1M71.9 405.5h1M90.9 384.4h1M65.3 404.3h1M58.8 381.2h1M72.8 398.7h1M80.0 397.5h1M81.0 376.6h1M69.4 393.1h1M71.7 374.0h1M89.3 386.5h1M70.3 412.9h1M67.8 401.2h1M70.7 389.8h1M69.0 392.1h1M72.7 379.3h1M67.8 414.7h1M87.1 384.1h1M83.4 380.6h1M70.0 385.4h1M61.5 399.7h1M78.6 389.6h1M77.3 398.0h1M76.1 377.6h1M70.1 384.0h1M67.2 367.3h1M73.4 393.0h1M79.5 365.1h1M70.4 400.7h1M84.2 385.8h1M65.7 405.5h1M87.5 384.2h1M68.7 402.8h1M77.3 386.9h1M70.8 399.2h1M68.6 389.1h1M78.2 386.2h1M75.3 388.7h1M64.6 384.6h1M93.1 363.9h1M75.4 386.8h1M67.9 397.8h1M83.9 377.8h1M80.1 376.4h1M91.3 378.8h1M85.2 363.8h1M59.2 389.9h1M78.9 371.2h1M88.8 378.2h1M85.1 395.2h1M80.8 387.2h1M66.5 389.7h1M92.7 370.0h1M62.4 407.6h1M63.0 386.0h1M82.4 387.8h1M75.2 376.7h1M85.2 366.5h1M68.4 412.2h1M75.0 385.9h1M86.8 381.4h1M70.1 405.7h1M86.2 396.8h1M101.3 375.5h1M85.3 372.1h1M83.0 383.9h1M81.0 394.0h1M81.3 385.2h1M75.0 392.1h1M84.3 395.6h1M112.3 363.6h1M71.8 387.8h1M66.9 397.0h1M83.5 389.5h1M74.0 391.4h1M69.8 387.7h1M65.1 379.9h1M87.9 383.8h1M74.8 382.3h1M74.6 388.7h1M72.0 375.8h1M86.7 404.7h1M78.0 368.9h1M83.0 379.7h1M78.1 406.8h1M74.6 380.7h1M87.5 362.2h1M82.9 365.8h1M68.9 382.6h1M84.1 378.5h1M74.5 398.1h1M66.2 404.8h1M81.2 382.1h1M76.0 383.2h1M83.3 384.6h1M75.7 387.7h1M74.1 380.1h1M69.9 391.4h1M67.4 371.9h1M71.2 368.8h1M82.1 393.7h1M86.4 381.9h1M68.2 412.1h1M75.9 401.3h1M85.6 370.1h1M97.0 374.1h1M84.2 390.0h1M76.8 390.0h1M60.7 397.0h1M81.3 385.6h1M84.9 381.3h1M58.1 398.6h1M78.4 379.6h1M77.9 380.4h1M74.6 378.6h1M72.1 404.1h1M79.7 381.0h1M66.7 406.1h1M83.3 367.4h1M72.7 382.4h1M72.0 404.6h1M80.3 367.4h1M92.8 381.2h1M63.9 388.8h1M94.1 363.9h1M72.4 402.2h1M85.2 389.7h1M88.1 376.9h1M56.6 411.2h1M88.9 380.7h1M72.4 385.6h1M83.9 394.4h1M66.9 398.8h1M79.0 384.2h1M77.1 408.0h1M66.0 396.2h1M79.4 398.3h1M79.6 412.2h1M93.3 374.3h1M65.9 402.5h1M64.5 391.2h1M76.2 393.2h1M67.9 380.6h1M74.9 372.6h1M77.1 374.0h1M66.1 384.5h1M70.9 390.0h1M79.6 389.9h1M79.6 376.1h1M76.7 375.8h1M70.3 391.9h1M59.7 410.1h1M103.6 372.9h1M80.6 374.6h1M76.5 383.3h1M86.5 390.3h1M71.1 392.6h1M63.4 394.6h1M73.9 391.6h1M69.8 386.2h1M66.5 390.5h1M71.9 409.7h1M75.2 392.3h1M78.4 379.4h1M66.7 388.4h1M68.4 380.7h1M74.7 390.1h1M71.1 385.5h1M58.6 394.5h1M85.0 387.8h1M71.3 397.8h1M86.4 387.6h1M67.9 388.1h1M89.1 387.5h1M66.5 385.5h1M57.8 398.8h1M72.7 386.2h1M85.6 401.4h1M85.7 384.1h1M68.0 388.7h1M80.8 398.5h1M85.0 379.9h1M86.9 376.1h1M77.7 375.6h1M83.6 375.6h1M78.6 381.6h1M85.4 381.8h1M83.8 378.5h1M80.4 384.1h1M72.6 383.5h1M78.4 387.0h1M91.2 357.9h1M85.9 395.6h1M67.3 384.4h1M74.0 392.2h1M69.5 382.6h1M77.8 384.7h1M61.5 395.3h1M81.9 387.2h1M61.8 403.9h1M79.4 385.8h1M76.2 385.2h1M95.4 383.4h1M91.6 371.2h1M80.8 385.0h1M75.8 397.1h1M67.1 400.7h1M78.1 403.2h1M68.6 380.6h1M66.1 377.9h1M81.0 391.9h1M88.4 386.6h1M71.7 389.8h1M86.5 394.5h1M68.5 394.2h1M76.2 395.8h1M62.7 407.6h1M75.8 385.2h1M89.4 371.4h1M67.0 377.1h1M75.8 380.9h1M75.0 404.0h1M83.1 368.2h1M77.1 402.0h1M82.7 379.0h1M84.2 392.5h1M72.6 401.5h1M77.7 370.8h1M79.5 390.2h1M81.4 388.9h1M83.3 385.7h1M77.8 389.4h1M64.7 384.7h1M86.9 388.5h1M79.7 397.8h1M73.5 384.2h1M79.5 402.2h1M65.4 404.8h1M64.0 389.3h1M71.9 392.8h1M79.1 389.8h1M90.5 378.8h1M66.8 409.5h1M80.7 389.2h1M56.3 409.9h1M60.1 392.6h1M66.4 388.3h1M59.9 413.7h1M64.3 410.4h1M73.6 382.8h1M87.2 395.6h1M77.8 391.0h1M71.1 397.6h1M101.3 370.7h1M80.5 394.1h1M66.8 395.0h1M100.2 378.3h1M86.8 385.7h1M76.7 394.7h1M86.2 375.0h1M85.4 392.7h1M75.7 375.9h1M80.1 386.8h1M68.9 399.6h1M86.8 379.4h1M81.5 389.3h1M73.1 402.9h1M63.2 390.2h1M83.5 376.9h1M73.8 392.1h1M71.1 382.6h1M86.1 384.4h1M73.9 383.5h1M63.0 403.5h1M86.9 385.4h1M80.2 374.5h1M92.4 386.0h1M86.7 368.0h1M84.6 388.3h1M80.8 377.8h1M82.4 364.8h1M70.7 388.1h1M94.9 372.7h1M91.6 370.0h1M85.3 381.5h1M99.0 374.4h1M90.1 384.3h1M68.5 396.8h1M83.3 373.5h1M89.2 392.9h1M80.4 383.9h1M74.9 383.9h1M87.6 373.3h1M86.9 386.9h1M64.6 390.2h1M87.6 388.6h1M79.1 377.3h1M61.1 387.8h1M84.2 402.1h1M71.7 390.6h1M69.4 392.7h1M78.2 383.2h1M89.7 381.0h1M94.7 369.8h1M94.8 382.2h1M84.6 376.7h1M83.4 373.6h1M91.9 377.3h1M78.5 396.2h1M85.2 383.0h1M79.4 384.6h1M75.1 389.0h1M73.2 393.1h1M71.8 392.8h1M81.6 396.9h1M81.2 413.6h1M77.6 379.6h1M68.3 381.4h1M85.4 393.6h1M83.2 387.6h1M81.1 379.0h1M66.0 389.6h1M72.0 386.0h1M57.6 411.2h1M57.4 406.1h1M87.6 370.1h1M63.1 408.9h1M73.9 377.4h1M85.9 369.7h1M67.1 388.1h1M92.9 373.0h1M86.8 364.0h1M90.7 383.2h1M94.9 361.6h1M96.7 393.9h1M75.9 400.3h1M77.0 379.1h1M75.3 394.7h1M64.3 400.6h1M74.7 408.8h1M88.0 356.7h1M68.6 390.7h1M76.6 388.3h1M68.5 392.8h1M76.0 384.9h1M66.6 383.7h1M71.9 391.1h1M74.4 407.4h1M65.8 403.7h1M63.0 389.5h1M76.0 382.1h1M97.1 368.4h1M82.4 374.1h1M91.9 368.4h1M77.5 379.9h1M84.9 396.2h1M70.3 405.8h1M73.0 384.7h1M59.4 411.0h1M72.1 389.3h1M79.8 361.7h1M81.3 385.9h1M85.2 375.0h1M76.6 394.4h1M68.3 405.0h1M73.0 393.1h1M81.5 398.7h1M99.0 385.2h1M86.2 360.9h1M70.9 395.9h1M67.3 386.2h1M74.8 388.7h1M72.9 390.6h1M62.2 397.4h1M73.6 383.4h1M86.7 389.7h1M73.3 378.0h1M71.8 404.8h1M74.7 387.9h1M84.3 377.9h1M58.6 390.4h1M76.4 392.2h1M69.5 389.5h1M71.5 393.5h1M65.3 396.7h1M66.3 410.0h1M97.0 374.1h1M77.2 383.5h1M87.9 392.3h1M99.8 369.9h1M72.3 385.7h1M85.1 384.9h1M82.0 391.6h1M93.3 380.6h1M80.4 381.8h1M81.6 386.1h1M73.8 389.6h1M80.3 385.6h1M76.6 366.9h1M61.3 411.2h1M86.7 398.2h1M72.6 391.4h1M74.2 390.7h1M58.8 407.3h1M92.2 387.6h1M63.2 391.1h1M75.1 390.1h1M72.7 393.0h1M71.2 412.3h1M70.3 390.0h1M61.2 407.0h1M61.1 391.0h1M76.4 392.8h1M83.7 393.5h1M76.6 386.5h1M80.8 393.3h1M93.1 363.6h1M86.7 388.2h1M67.0 400.9h1M72.8 395.0h1M71.3 394.6h1M78.2 391.9h1M76.1 397.7h1M69.8 396.8h1M94.4 373.3h1M76.4 386.5h1M75.4 392.4h1M87.2 400.8h1M75.3 390.2h1M81.2 366.7h1M79.3 381.3h1M83.3 373.2h1M82.3 386.4h1M93.5 382.9h1M89.5 363.4h1M71.2 382.4h1M58.8 402.7h1M79.6 379.5h1M69.5 392.0h1M61.5 406.3h1M70.0 392.7h1M86.0 376.6h1M85.5 373.7h1M88.4 384.6h1M71.3 401.4h1M95.6 358.9h1M68.6 401.3h1M89.6 399.7h1M63.6 402.0h1M101.0 384.6h1M70.1 374.1h1M80.6 375.0h1M73.9 383.5h1M80.0 391.4h1M84.6 391.0h1M61.7 408.1h1M85.4 377.2h1M89.1 381.7h1M72.6 390.9h1M73.0 384.5h1M76.2 381.7h1M96.3 376.1h1M92.6 393.1h1M77.2 387.1h1M76.1 395.8h1M61.4 401.0h1M62.7 386.1h1M68.5 379.2h1M73.1 388.8h1M71.4 381.6h1M74.3 372.2h1M80.4 382.8h1M77.8 383.4h1M77.9 376.7h1M78.7 385.7h1M79.4 390.1h1M85.1 386.1h1M61.9 405.3h1M91.2 377.4h1M61.3 397.1h1M86.0 380.3h1M69.0 380.5h1M79.8 370.4h1M84.0 392.8h1M62.8 392.2h1M88.4 378.2h1M71.0 379.2h1M75.1 383.8h1M77.8 386.7h1M81.9 373.9h1M87.0 381.5h1M77.1 383.5h1M61.3 401.6h1M74.2 392.2h1M75.7 384.5h1M97.9 373.4h1M77.2 380.8h1M82.7 393.8h1M83.8 372.1h1M73.3 386.3h1M72.8 384.3h1M81.3 388.2h1M86.4 378.4h1M79.7 382.2h1M78.5 393.7h1M59.1 392.5h1M81.3 387.2h1M83.6 368.2h1M76.4 398.2h1M65.9 396.8h1M82.5 384.6h1M57.9 399.5h1M59.1 411.5h1M77.7 395.8h1M68.4 392.3h1M80.9 395.5h1M77.3 397.3h1M75.5 380.2h1M85.1 398.0h1M67.5 389.9h1M75.0 393.7h1M87.3 384.8h1M83.8 376.1h1M81.2 374.9h1M86.0 382.6h1M63.7 393.8h1M70.0 386.9h1M78.8 385.2h1M66.9 407.4h1M94.3 376.7h1M82.6 386.7h1M67.7 390.4h1M75.0 382.8h1M72.1 389.3h1M62.6 388.6h1M82.8 383.2h1M74.9 393.5h1M66.6 403.4h1M60.9 384.9h1M86.9 397.6h1M65.8 396.9h1M85.3 372.0h1M66.9 398.0h1M79.3 358.2h1M78.1 372.4h1M64.4 393.2h1M82.7 389.8h1M84.3 372.5h1M77.1 390.7h1M66.1 399.1h1M76.6 384.9h1M96.6 368.6h1M60.3 399.5h1M72.7 373.8h1M71.2 382.1h1M74.5 387.2h1M83.8 399.7h1M68.0 385.3h1M79.9 371.3h1M82.9 381.6h1M70.6 399.4h1M86.7 367.8h1M69.8 404.0h1M78.1 376.4h1M84.1 389.9h1M92.1 378.7h1M79.7 383.1h1M93.7 382.5h1M76.5 387.1h1M82.3 374.4h1M86.8 389.2h1M90.3 360.4h1M73.7 396.6h1M84.1 372.0h1M79.6 381.0h1M80.7 387.1h1M74.6 395.0h1M89.8 389.9h1M67.7 405.2h1M69.0 404.4h1M74.0 372.0h1M57.7 398.3h1M96.5 378.1h1M70.0 386.0h1M77.7 383.2h1M79.4 387.7h1M77.8 380.3h1M70.0 386.1h1M76.6 393.1h1M77.1 389.3h1M84.9 375.2h1M91.8 379.5h1M86.7 372.7h1M80.3 383.3h1M78.6 391.9h1M66.6 407.9h1M80.6 378.7h1M79.3 374.1h1M71.4 389.4h1M88.3 382.3h1M83.8 370.0h1M76.6 385.0h1M82.7 373.1h1M73.1 378.3h1M66.5 408.7h1M73.3 392.2h1M76.3 393.7h1M86.0 385.2h1M58.4 386.6h1M67.8 387.0h1M77.8 404.6h1M74.1 385.2h1M80.3 388.5h1M79.0 371.5h1M83.1 378.1h1M79.0 385.8h1M78.0 383.6h1M75.6 383.9h1M77.5 385.4h1M91.3 371.7h1M72.4 386.2h1M85.5 388.6h1M86.5 375.0h1M67.8 398.6h1M82.3 385.3h1M80.2 374.5h1M79.7 397.1h1M62.1 408.1h1M78.1 394.3h1M63.3 396.7h1M84.8 382.1h1M69.0 395.3h1M90.1 366.6h1M86.5 392.4h1M67.3 393.0h1M76.3 395.3h1M68.6 399.1h1M80.7 383.2h1M85.3 367.6h1M70.8 385.6h1M75.2 369.2h1M67.5 395.7h1M81.9 385.7h1M99.4 365.1h1M61.0 398.3h1M78.8 366.7h1M85.0 373.0h1M63.4 408.7h1M109.9 331.6h1M111.0 338.5h1M106.2 324.7h1M100.0 335.4h1M82.0 339.7h1M101.3 330.7h1M118.2 332.6h1M109.6 333.1h1M85.2 338.2h1M108.2 337.9h1M89.7 342.2h1M128.3 334.2h1M108.4 327.6h1M95.9 339.5h1M116.0 334.7h1M100.0 337.8h1M112.5 329.3h1M105.9 323.4h1M96.4 341.0h1M113.7 329.9h1M93.8 335.8h1M121.3 333.2h1M107.6 331.2h1M98.3 342.6h1M88.4 332.8h1M123.6 329.9h1M123.1 336.7h1M93.3 327.7h1M123.4 326.5h1M108.1 327.5h1M106.6 342.2h1M106.9 335.6h1M105.3 337.3h1M121.4 328.1h1M107.7 326.5h1M90.7 347.5h1M128.7 330.2h1M116.5 333.1h1M95.5 330.6h1M103.9 334.9h1M99.5 342.4h1M108.2 335.0h1M112.5 338.8h1M110.6 337.7h1M101.4 334.8h1M99.9 338.0h1M115.8 331.0h1M107.9 342.3h1M128.1 317.6h1M98.1 328.7h1M114.8 328.8h1M109.2 340.8h1M101.8 346.9h1M122.1 336.2h1M109.0 335.0h1M96.4 323.7h1M103.0 327.6h1M118.3 335.0h1M94.0 329.7h1M120.3 325.0h1M114.4 332.7h1M103.5 328.0h1M120.9 329.8h1M125.8 334.4h1M114.7 339.2h1M109.3 334.4h1M125.3 325.4h1M123.9 338.6h1M99.6 344.3h1M104.9 331.4h1M107.9 348.9h1M101.6 325.0h1M92.7 339.0h1M116.0 328.5h1M106.6 323.9h1M109.9 341.6h1M122.8 337.1h1M99.7 323.0h1M107.2 335.6h1M110.4 334.2h1M102.9 333.6h1M105.4 328.6h1M114.0 325.6h1M107.3 333.4h1M121.3 333.4h1M99.9 335.5h1M109.3 332.0h1M91.8 329.6h1M106.2 333.5h1M98.6 325.5h1M122.2 336.1h1M114.6 329.8h1M111.0 323.7h1M125.1 323.8h1M121.9 329.6h1M115.6 337.4h1M101.1 339.0h1M92.9 337.4h1M106.9 332.4h1M104.1 336.0h1M102.3 342.9h1M105.2 338.5h1M90.2 334.2h1M121.9 326.9h1M97.2 343.5h1M101.0 337.2h1M114.9 341.9h1M91.4 339.9h1M113.6 313.4h1M117.0 332.0h1M104.6 336.4h1M97.0 339.1h1M103.8 341.3h1M90.3 347.3h1M121.7 331.7h1M108.3 335.4h1M98.6 327.4h1M99.8 344.4h1M113.0 330.6h1M121.6 324.1h1M96.3 346.7h1M101.0 331.5h1M91.0 345.8h1M113.9 330.0h1M107.7 325.8h1M130.6 329.9h1M106.0 332.7h1M103.7 338.5h1M100.0 333.7h1M115.2 326.4h1M91.0 337.9h1M115.3 333.4h1M109.7 331.5h1M101.5 330.5h1M99.8 344.4h1M118.3 331.8h1M127.2 334.3h1M102.5 332.2h1M112.0 327.5h1M125.1 329.2h1M99.9 328.2h1M105.8 339.7h1M95.4 338.4h1M106.9 339.5h1M106.6 333.8h1M103.1 334.2h1M100.1 336.4h1M92.4 343.3h1M93.7 336.8h1M97.9 338.1h1M113.5 329.6h1M102.5 336.4h1M97.6 329.3h1M114.0 331.6h1M115.0 342.9h1M99.9 336.3h1M102.4 342.8h1M113.4 327.6h1M109.9 325.7h1M98.9 335.7h1M109.6 331.2h1M108.6 341.8h1M121.1 344.0h1M99.1 338.5h1M116.8 333.8h1M113.4 341.3h1M97.0 335.3h1M118.1 330.4h1M116.3 328.9h1M92.4 328.1h1M127.2 326.1h1M96.0 338.0h1M97.9 335.1h1M103.6 331.4h1M116.4 338.2h1M112.3 325.8h1M105.7 329.3h1M121.8 332.7h1M112.3 336.7h1M118.4 311.1h1M135.9 324.4h1M108.6 328.6h1M79.1 329.1h1M101.9 329.6h1M96.1 334.8h1M107.8 330.1h1M109.4 338.7h1M94.1 332.4h1M97.0 344.3h1M104.4 332.2h1M104.9 331.4h1M81.9 347.1h1M115.8 321.9h1M108.9 340.1h1M106.4 328.4h1M111.1 336.2h1M96.5 334.2h1M107.6 337.6h1M116.0 318.7h1M117.8 326.5h1M110.6 323.4h1M103.8 330.3h1M98.2 331.7h1M121.2 330.7h1M113.2 334.2h1M102.5 331.5h1M84.6 337.1h1M98.5 336.3h1M88.5 344.8h1M120.9 333.2h1M108.9 330.3h1M100.1 337.8h1M104.2 332.6h1M135.0 329.8h1M121.3 337.1h1M94.2 341.2h1M106.8 338.1h1M94.8 337.7h1M89.5 338.5h1M108.3 327.6h1M134.0 335.2h1M125.9 341.9h1M107.3 330.1h1M103.9 337.0h1M109.7 334.1h1M116.0 318.3h1M90.6 328.8h1M87.1 334.2h1M126.6 325.3h1M110.3 332.7h1M123.6 325.7h1M110.6 336.7h1M123.9 334.9h1M101.4 337.5h1M111.3 324.5h1M122.5 322.6h1M118.9 335.2h1M101.5 328.5h1M117.2 333.0h1M99.4 329.3h1M92.5 338.2h1M112.2 327.7h1M122.5 331.8h1M116.8 333.8h1M94.0 336.3h1M116.6 331.3h1M115.3 335.7h1M103.8 342.0h1M79.2 329.5h1M118.7 334.0h1M118.7 341.9h1M114.9 345.0h1M91.5 352.1h1M92.1 339.9h1M117.0 324.6h1M117.6 341.0h1M113.1 334.6h1M106.6 344.1h1M110.7 327.2h1M101.3 332.9h1M103.8 332.7h1M96.9 328.2h1M108.7 324.5h1M102.0 329.1h1M118.3 335.1h1M116.5 339.5h1M99.7 340.9h1M128.9 339.7h1M93.7 326.2h1M112.5 334.0h1M119.0 331.0h1M121.1 330.3h1M81.8 327.2h1M118.8 334.9h1M119.5 325.1h1M122.7 329.4h1M83.6 338.8h1M102.0 345.4h1M105.5 329.0h1M103.4 338.6h1M122.4 333.7h1M99.9 333.9h1M120.7 330.9h1M112.5 326.7h1M92.4 340.2h1M96.6 334.8h1M102.1 333.2h1M108.5 333.5h1M117.6 328.2h1M105.7 335.5h1M116.2 325.6h1M91.1 340.6h1M75.8 347.3h1M103.8 334.6h1M111.3 326.6h1M104.0 337.2h1M97.1 339.1h1M112.4 334.8h1M128.2 329.2h1M106.5 334.9h1M99.3 333.5h1M99.9 344.6h1M127.3 322.0h1M106.5 330.7h1M114.9 337.2h1M119.4 324.1h1M118.7 329.3h1M96.1 327.6h1M118.9 338.3h1M115.0 323.3h1M112.7 332.6h1M120.3 342.9h1M100.7 330.8h1M106.9 335.5h1M102.7 340.2h1M115.9 333.5h1M102.2 345.5h1M111.2 329.9h1M95.8 337.0h1M106.4 335.5h1M102.2 326.9h1M106.2 333.8h1M109.5 337.1h1M106.4 339.2h1M105.1 334.5h1M84.0 332.0h1M120.0 334.8h1M101.7 340.5h1M103.9 329.3h1M98.4 335.0h1M118.3 332.0h1M95.7 324.3h1M114.1 339.3h1M120.0 330.5h1M127.0 340.2h1M120.6 333.1h1M113.6 329.4h1M93.4 330.0h1M122.6 338.1h1M119.5 327.0h1M115.8 328.0h1M116.3 332.9h1M106.0 320.4h1M101.9 334.8h1M120.0 336.4h1M120.9 329.1h1M98.0 345.8h1M115.9 323.6h1M109.3 328.0h1M117.5 334.2h1M109.9 329.9h1M119.1 328.8h1M116.8 321.4h1M117.7 335.4h1M93.9 343.3h1M118.4 343.1h1M108.4 335.3h1M96.9 344.3h1M115.4 333.3h1M92.5 334.2h1M117.7 334.4h1M126.8 335.6h1M101.1 328.3h1M117.7 333.1h1M112.3 331.6h1M113.8 327.4h1M94.3 343.3h1M115.1 337.5h1M106.7 320.1h1M115.8 333.2h1M108.8 339.3h1M119.7 333.0h1M111.2 336.3h1M116.2 339.1h1M122.8 333.3h1M109.7 333.5h1M118.4 331.9h1M109.7 330.4h1M115.0 342.1h1M103.5 342.8h1M115.3 328.0h1M121.3 333.8h1M105.7 327.3h1M116.0 330.6h1M113.7 340.5h1M95.4 332.9h1M112.5 338.5h1M121.7 329.8h1M101.4 328.0h1M86.7 325.7h1M110.1 333.7h1M100.3 331.2h1M127.8 328.5h1M106.6 329.6h1M110.2 347.4h1M101.5 337.0h1M110.2 331.7h1M101.4 332.3h1M98.9 339.5h1M106.4 329.4h1M98.1 329.3h1M121.8 330.9h1M95.6 337.1h1M107.4 335.8h1M100.4 334.3h1M92.0 330.0h1M124.1 322.5h1M85.9 340.2h1M124.2 336.0h1M93.6 340.6h1M107.9 328.3h1M131.7 328.3h1M84.9 336.1h1M92.8 333.7h1M121.4 329.2h1M109.8 334.0h1M103.0 340.3h1M108.1 337.1h1M97.5 334.9h1M108.8 331.4h1M124.1 332.9h1M104.2 336.7h1M108.0 326.1h1M121.1 334.0h1M128.7 328.8h1M101.9 336.5h1M111.8 337.8h1M103.3 342.9h1M101.5 337.8h1M104.4 338.9h1M100.3 330.4h1M90.6 343.1h1M87.1 339.6h1M99.5 331.6h1M109.4 334.1h1M120.3 328.8h1M101.4 330.2h1M107.6 342.9h1M115.2 334.7h1M116.6 337.5h1M105.4 326.7h1M107.4 334.4h1M127.3 327.6h1M102.7 325.3h1M103.0 336.5h1M90.5 336.4h1M112.1 330.7h1M105.3 335.6h1M126.9 323.4h1M103.5 330.0h1M115.5 326.9h1M117.7 331.7h1M125.6 332.5h1M94.3 338.1h1M124.8 332.7h1M109.5 342.4h1M106.4 332.0h1M103.8 330.0h1M103.7 334.5h1M104.7 337.0h1M83.1 337.9h1M113.0 331.6h1M108.2 331.9h1M96.1 325.9h1M108.0 338.4h1M131.9 327.5h1M111.2 329.3h1M103.7 334.0h1M126.2 331.8h1M100.4 340.7h1M106.8 337.2h1M101.3 331.0h1M104.0 326.5h1M116.2 335.8h1M113.5 330.1h1M99.6 332.3h1M105.5 328.6h1M108.5 332.3h1M103.1 332.1h1M106.6 329.1h1M101.3 341.2h1M100.0 334.9h1M109.9 343.0h1M98.8 346.1h1M113.0 337.3h1M107.2 342.2h1M97.6 332.8h1M100.4 329.6h1M103.0 336.2h1M106.3 334.8h1M109.2 334.8h1M105.8 335.5h1M98.5 334.6h1M122.6 329.2h1M117.8 334.5h1M109.7 337.7h1M118.3 334.7h1M110.5 328.9h1M105.5 336.4h1M107.3 325.9h1M136.1 330.1h1M117.0 324.7h1M119.9 338.1h1M104.3 338.1h1M113.7 330.1h1M131.1 327.0h1M112.4 333.8h1M117.2 321.0h1M121.0 331.0h1M114.3 331.0h1M124.9 333.8h1M108.7 324.6h1M112.2 328.3h1M100.8 332.8h1M137.0 337.5h1M110.6 331.3h1M109.4 336.0h1M122.0 329.1h1M101.8 329.9h1M108.4 337.7h1M99.4 334.1h1M107.2 329.1h1M103.5 333.6h1M113.8 334.5h1M107.4 339.6h1M102.1 338.4h1M105.9 341.0h1M105.6 328.8h1M102.3 334.2h1M118.7 338.4h1M114.8 332.6h1M110.5 340.3h1M98.3 353.2h1M112.1 326.5h1M93.3 330.0h1M111.1 341.2h1M108.9 337.5h1M101.4 333.8h1M99.4 337.3h1M101.3 339.5h1M129.7 332.7h1M105.2 335.5h1M106.1 337.1h1M117.6 330.9h1M112.4 334.2h1M119.5 335.8h1M94.9 335.9h1M97.9 344.5h1M141.3 320.1h1M108.9 343.0h1M104.8 334.8h1M109.1 331.7h1M117.7 329.8h1M95.1 334.6h1M109.6 326.7h1M108.5 339.7h1M114.9 332.9h1M109.4 332.7h1M102.7 337.4h1M99.3 338.5h1M81.1 331.6h1M118.6 335.7h1M92.9 339.0h1M103.8 336.0h1M125.3 331.9h1M103.2 333.7h1M114.3 333.8h1M105.2 332.2h1M114.9 331.8h1M107.6 331.2h1M101.2 327.6h1M122.6 335.7h1M103.5 325.7h1M94.2 338.6h1M103.7 330.9h1M113.2 332.0h1M96.4 337.4h1M117.8 342.6h1M114.3 324.0h1M130.6 333.9h1M101.8 339.1h1M113.7 327.1h1M90.3 336.5h1M101.7 324.7h1M107.3 324.9h1M111.4 329.4h1M107.0 332.6h1M106.1 330.0h1M102.6 341.8h1M103.0 333.8h1M110.8 332.5h1M114.0 335.3h1M114.2 331.3h1M119.5 339.6h1M119.3 327.0h1M87.8 330.4h1M103.5 341.5h1M105.9 333.4h1M99.6 327.0h1M118.3 329.7h1M116.5 337.8h1M107.5 339.2h1M108.2 329.2h1M119.2 322.0h1M105.1 340.1h1M104.5 334.2h1M117.9 336.2h1M112.9 334.5h1M122.2 329.6h1M111.6 333.4h1M116.2 336.0h1M100.2 323.9h1M98.1 336.4h1M107.8 334.8h1M79.2 332.9h1M112.0 333.0h1M118.0 333.1h1M107.7 328.8h1M106.4 339.6h1M118.4 328.0h1M106.4 328.6h1M117.3 328.6h1M130.7 330.8h1M115.3 332.6h1M119.1 341.0h1M113.0 333.6h1M110.1 331.9h1M109.8 328.9h1M108.3 333.0h1M119.4 333.9h1M91.8 341.1h1M105.0 334.6h1M114.5 332.0h1M97.9 329.1h1M106.7 334.0h1M101.0 337.7h1M112.4 333.6h1M117.2 334.8h1M123.0 332.4h1M115.0 344.3h1M101.8 343.4h1M111.5 339.6h1M113.2 330.4h1M122.5 331.7h1M85.4 337.0h1M110.6 327.2h1M89.8 342.6h1M114.1 326.6h1M112.0 331.1h1M113.6 336.6h1M115.6 324.6h1M113.1 340.5h1M102.1 340.9h1M111.6 334.3h1M119.8 329.6h1M106.7 335.1h1M110.0 344.8h1M95.5 337.6h1M119.9 332.2h1M100.2 321.6h1M98.8 328.1h1M103.0 334.0h1M99.9 341.1h1M104.9 332.6h1M122.0 337.5h1M115.8 331.4h1M122.2 329.4h1M123.5 333.2h1M98.3 334.2h1M113.0 334.7h1M123.8 334.1h1M130.1 321.8h1M92.6 333.4h1M93.3 338.0h1M113.3 337.0h1M104.1 333.6h1M97.0 332.8h1M110.9 328.8h1M98.3 327.7h1M83.9 335.6h1M108.5 339.7h1M107.2 323.2h1M113.3 326.7h1M116.7 327.9h1M108.4 326.7h1M106.7 342.0h1M101.2 337.0h1M91.2 339.5h1M102.1 328.5h1M119.1 338.1h1M114.8 334.3h1M127.6 322.3h1M105.6 330.8h1M89.6 339.1h1M114.6 322.7h1M119.7 338.8h1M95.2 333.7h1M91.2 338.0h1M108.8 331.0h1M115.3 334.0h1M96.9 340.2h1M104.0 333.4h1M100.9 342.1h1M95.0 333.3h1M94.4 337.9h1M108.3 328.9h1M104.3 336.9h1M101.4 338.6h1M80.4 336.6h1M124.6 324.4h1M99.8 346.3h1M106.2 333.5h1M95.3 332.8h1M112.9 340.5h1M92.9 341.2h1M108.1 330.4h1M106.5 338.5h1M117.7 335.5h1M94.8 327.1h1M101.8 339.9h1M106.0 338.8h1M131.4 342.0h1M93.4 342.2h1M111.8 339.7h1M99.3 326.3h1M109.8 327.1h1M115.5 339.2h1M107.3 323.5h1M109.6 329.5h1M110.7 334.3h1M100.8 330.8h1M105.0 332.4h1M91.2 340.9h1M105.5 343.6h1M100.5 340.0h1M105.0 334.4h1M115.5 334.4h1M112.2 337.0h1M111.6 328.1h1M120.0 337.4h1M82.1 333.7h1M112.5 335.6h1M107.2 333.4h1M107.6 339.9h1M94.1 336.4h1M114.0 337.0h1M121.0 340.8h1M118.2 332.2h1M106.7 334.4h1M113.4 328.5h1M116.8 330.8h1M127.3 335.8h1M120.8 334.9h1M111.3 346.5h1M109.6 339.5h1M108.1 327.0h1M108.5 325.7h1M101.7 330.9h1M115.3 331.0h1M99.9 332.2h1M98.8 332.9h1M112.8 342.2h1M102.4 339.5h1M103.9 328.3h1M85.0 331.7h1M115.5 331.3h1M107.8 335.6h1M106.6 336.2h1M112.8 335.9h1M110.5 338.3h1M102.1 345.2h1M128.1 329.5h1M103.3 337.1h1M117.8 333.3h1M124.9 321.8h1M100.6 332.0h1M109.1 337.4h1M98.5 332.5h1M119.7 339.8h1M103.1 329.2h1M95.9 334.6h1M121.3 332.6h1M116.5 329.3h1M97.0 328.1h1M120.2 334.2h1M110.4 338.7h1M133.7 318.1h1M125.2 330.8h1M100.4 327.3h1M105.3 337.9h1M98.1 333.6h1M109.5 337.0h1M107.4 330.6h1M115.4 334.1h1M109.0 337.3h1M90.9 328.6h1M98.8 333.7h1M124.0 341.9h1M119.7 333.1h1M106.7 339.0h1M107.2 340.5h1M106.3 337.3h1M108.2 336.4h1M90.1 336.9h1M117.5 336.4h1M102.4 344.8h1M109.5 336.5h1M80.6 334.0h1M111.2 340.6h1M120.8 328.3h1M84.0 335.7h1M123.6 333.5h1M112.1 331.5h1M100.6 339.2h1M91.5 338.9h1M120.5 337.2h1M109.8 331.1h1M112.4 325.8h1M105.3 338.0h1M98.2 329.2h1M118.5 343.5h1M98.4 340.3h1M117.7 337.6h1M88.6 328.1h1M98.5 338.7h1M91.8 332.6h1M122.9 342.2h1M89.3 336.6h1M95.2 333.1h1M114.4 333.0h1M112.4 347.7h1M130.0 329.1h1M125.8 326.4h1M112.7 326.0h1M114.3 330.7h1M90.1 346.1h1M98.6 336.7h1M103.3 329.9h1M106.4 338.6h1M92.7 333.6h1M98.3 338.2h1M98.6 335.1h1M117.8 328.1h1M112.6 336.9h1M101.4 319.7h1M104.5 333.7h1M110.2 331.7h1M100.9 339.1h1M104.7 334.2h1M89.9 338.5h1M115.8 340.4h1M118.9 340.2h1M111.0 331.8h1M112.5 333.6h1M113.7 347.0h1M130.6 341.4h1M109.9 335.2h1M93.9 336.8h1M96.1 332.7h1M116.0 339.2h1M118.0 329.0h1M115.8 334.2h1M116.7 335.1h1M109.6 334.4h1M91.1 331.6h1M99.6 332.4h1M87.9 332.7h1M104.1 338.3h1M93.6 338.0h1M109.5 339.9h1M106.2 337.2h1M87.6 339.6h1M115.5 335.1h1M114.7 328.9h1M92.6 334.3h1M108.3 329.8h1M114.8 332.0h1M103.4 328.9h1M116.2 331.8h1M108.5 328.6h1M118.1 329.4h1M108.7 329.8h1M105.8 334.7h1M113.9 339.5h1M116.9 340.1h1M108.2 323.3h1M102.4 332.8h1M98.8 333.2h1M103.7 335.6h1M101.9 337.5h1M106.9 318.7h1M110.2 339.6h1M106.6 334.5h1M107.4 334.3h1M110.2 339.6h1M124.9 337.8h1M120.6 335.5h1M101.7 336.9h1M112.2 335.8h1M103.2 330.4h1M107.4 340.4h1M104.4 332.4h1M99.5 327.5h1M92.3 331.9h1M82.7 344.5h1M112.1 349.1h1M118.9 327.4h1M97.4 333.1h1M113.1 336.2h1M102.1 328.1h1M110.6 335.6h1M98.8 335.0h1M105.9 339.9h1M105.9 332.6h1M82.9 340.7h1M110.0 336.3h1M104.9 328.7h1M81.2 337.5h1M115.5 340.6h1M106.3 330.5h1M108.7 329.3h1M111.8 337.7h1M103.3 336.9h1M96.0 335.7h1M102.8 336.2h1M102.7 334.2h1M129.9 326.6h1M127.0 333.2h1M100.2 324.1h1M103.6 338.5h1M111.1 336.3h1M111.4 322.7h1M97.8 322.9h1M96.7 335.7h1M127.7 331.5h1M119.3 337.7h1M89.9 331.0h1M88.6 336.4h1M99.3 340.0h1M109.2 331.5h1M111.7 325.9h1M103.0 331.1h1M88.2 325.5h1M108.4 327.6h1M113.1 330.6h1M107.2 334.2h1M101.5 332.1h1M112.1 326.6h1M105.8 329.7h1M94.4 330.6h1M108.0 332.7h1M92.9 332.5h1M116.2 325.9h1M112.3 334.0h1M97.9 342.7h1M107.8 324.7h1M119.8 328.7h1M85.0 340.3h1M105.5 333.1h1M124.7 332.3h1M92.4 345.8h1M105.6 335.3h1M93.5 344.1h1M106.3 333.1h1M81.9 339.1h1M89.0 331.2h1M101.6 335.7h1M108.3 331.8h1M111.4 334.9h1M112.0 335.2h1M120.6 339.2h1M113.6 327.6h1M114.8 331.8h1M97.4 338.9h1M105.3 333.3h1M141.2 330.3h1M131.8 333.6h1M115.7 331.2h1M113.9 326.3h1M117.9 333.6h1M104.2 342.2h1M128.5 333.6h1M101.5 325.4h1M107.1 338.4h1M129.2 323.8h1M85.3 339.2h1M110.3 329.5h1M89.0 337.8h1M101.7 343.5h1M106.6 336.4h1M101.5 323.7h1M109.1 334.4h1M98.5 332.5h1M106.4 336.0h1M94.7 337.0h1M102.8 333.1h1M92.0 334.2h1M112.1 321.2h1M93.4 336.6h1M114.7 333.7h1M103.4 338.3h1M105.1 341.5h1M121.2 340.2h1M107.7 330.4h1M88.7 347.3h1M111.2 325.8h1M75.4 335.0h1M110.3 335.1h1M104.0 340.8h1M92.2 336.5h1M108.0 333.8h1M102.8 328.7h1M129.3 334.1h1M102.8 336.8h1M128.0 330.7h1M122.2 332.9h1M101.2 338.5h1M100.0 344.5h1M122.8 340.1h1M106.3 337.8h1M109.1 334.9h1M103.5 329.3h1M92.1 324.3h1M101.6 325.8h1M96.5 333.8h1M89.0 327.1h1M104.1 335.2h1M126.8 333.4h1M122.4 318.9h1M107.5 339.7h1M109.0 335.9h1M112.9 334.4h1M120.4 323.8h1M111.1 336.5h1M101.3 330.9h1M103.3 336.9h1M120.5 338.3h1M135.0 327.9h1M100.3 334.3h1M86.2 344.0h1M116.7 337.0h1M107.1 338.3h1M107.8 328.7h1M120.1 329.3h1M107.7 332.7h1M92.4 334.0h1M86.5 340.2h1M106.2 331.6h1M95.3 339.4h1M111.5 340.4h1M94.1 340.1h1M103.2 333.6h1M91.2 336.4h1M102.3 329.2h1M103.9 343.7h1M113.8 334.0h1M121.3 329.4h1M106.1 339.4h1M97.6 334.4h1M128.7 332.4h1M112.1 339.2h1M112.8 327.0h1M115.0 340.1h1M122.0 326.0h1M118.5 334.3h1M115.4 337.6h1M116.3 337.2h1M98.6 339.5h1M101.4 339.6h1M105.8 332.8h1M109.9 343.6h1M106.3 327.5h1M109.8 329.1h1M106.2 326.7h1M103.5 340.0h1M91.8 349.2h1M116.8 335.7h1M113.7 333.8h1M97.4 334.1h1M113.1 335.8h1M111.6 333.7h1M107.9 333.1h1M88.8 345.6h1M92.5 326.9h1M101.8 341.0h1M124.4 329.6h1M96.9 330.0h1M104.2 338.7h1M95.2 336.1h1M100.4 326.4h1M111.2 334.8h1M83.8 332.5h1M76.3 337.9h1M114.2 331.5h1M106.9 330.2h1M100.9 336.4h1M117.9 333.2h1M116.8 327.1h1M84.3 336.6h1M104.9 331.7h1M120.3 338.1h1M100.0 335.2h1M102.7 328.3h1M116.7 327.5h1M104.0 332.7h1M94.7 339.0h1M100.3 338.5h1M92.5 334.2h1M111.9 325.5h1M88.5 337.0h1M116.8 325.3h1M89.7 338.7h1M106.6 327.6h1M92.2 342.0h1M103.6 333.6h1M119.2 337.6h1M118.7 328.4h1M120.8 328.5h1M107.1 339.1h1M109.0 337.6h1M110.1 335.8h1M115.2 340.6h1M103.7 339.6h1M119.9 336.4h1M110.0 329.3h1M118.3 324.6h1M112.8 335.4h1M114.8 334.2h1M99.1 334.3h1M103.2 337.5h1M93.5 337.9h1M103.2 330.2h1M105.1 333.1h1M116.3 332.8h1M94.1 339.4h1M140.9 320.1h1M106.4 337.4h1M120.7 330.9h1M119.4 337.4h1M80.4 341.9h1M104.3 334.0h1M123.5 333.2h1M80.4 335.8h1M115.5 332.1h1M98.5 342.9h1M104.3 346.9h1M108.7 328.4h1M87.5 340.6h1M108.0 325.9h1M100.2 335.1h1M99.8 339.4h1M114.3 329.7h1M145.4 328.7h1M110.9 333.3h1M114.0 337.8h1M106.1 330.7h1M98.3 329.7h1M110.5 336.2h1M122.0 321.8h1M109.8 336.6h1M116.6 331.0h1M106.2 342.9h1M136.2 339.2h1M87.4 326.2h1M112.2 325.4h1M112.0 327.0h1M111.6 342.3h1M94.9 334.9h1M94.4 334.0h1M104.5 334.0h1M108.0 332.2h1M94.9 341.1h1M95.7 336.9h1M114.3 338.9h1M118.6 333.8h1M100.7 333.1h1M100.3 339.4h1M99.5 336.8h1M134.4 331.5h1M112.4 333.0h1M105.6 329.3h1M117.8 330.8h1M131.6 327.6h1M121.1 339.3h1M92.0 338.6h1M105.4 329.9h1M103.5 339.3h1M103.8 336.9h1M94.8 341.4h1M101.6 327.8h1M95.7 338.4h1M111.4 337.2h1M107.0 330.7h1M90.7 331.0h1M88.1 334.7h1M101.0 329.8h1M113.9 331.7h1M112.6 333.7h1M106.8 336.4h1M71.7 343.0h1M102.2 338.1h1M98.7 333.5h1M103.5 335.3h1M93.7 335.9h1M101.8 331.7h1M99.9 335.6h1M137.8 336.0h1M115.4 336.8h1M106.0 340.2h1M108.3 344.1h1M105.7 333.7h1M110.2 339.9h1M103.8 341.5h1M107.9 339.7h1M117.4 327.5h1M116.4 334.1h1M109.5 328.2h1M121.6 332.0h1M109.9 335.9h1M95.9 333.0h1M87.5 334.3h1M99.4 334.8h1M107.3 339.6h1M111.8 335.7h1M119.8 338.1h1M101.1 336.5h1M98.2 335.1h1M114.1 324.8h1M118.6 324.4h1M101.2 331.4h1M109.9 328.4h1M121.8 330.2h1M108.0 319.0h1M105.1 326.2h1M82.0 324.2h1M121.1 329.5h1M113.7 330.7h1M107.5 328.3h1M101.8 334.0h1M93.2 334.8h1M106.9 339.4h1M105.0 329.4h1M118.9 331.3h1M93.2 332.2h1M122.9 332.5h1M109.1 343.3h1M119.5 329.2h1M95.5 329.8h1M112.0 340.1h1M121.2 336.8h1M108.6 335.4h1M91.3 338.2h1M105.0 343.6h1M111.3 323.9h1M90.9 331.5h1M91.9 340.1h1M111.3 343.1h1M96.4 334.0h1M112.6 322.4h1M93.5 332.0h1M86.1 331.6h1M99.5 340.5h1M123.1 330.0h1M99.1 343.6h1M105.2 323.8h1M109.2 330.6h1M98.7 346.9h1M120.6 341.6h1M108.6 331.2h1M111.8 332.5h1M89.1 338.9h1M87.5 334.2h1M75.3 328.9h1M104.7 332.5h1M106.3 343.9h1M115.1 333.5h1M124.4 338.1h1M105.1 338.8h1M103.9 332.9h1M112.1 334.1h1M124.7 336.7h1M98.2 335.8h1M114.6 337.2h1M103.9 331.8h1M103.7 336.0h1M115.6 330.5h1M98.8 337.0h1M94.8 332.2h1M114.4 333.5h1M106.8 334.2h1M104.8 337.6h1M105.5 333.6h1M114.1 342.4h1M100.6 320.9h1M116.0 336.2h1M111.5 332.8h1M123.6 333.8h1M121.3 334.2h1M116.0 330.4h1M105.4 337.2h1M108.8 336.1h1M102.0 342.5h1M138.9 333.5h1M105.8 340.7h1M111.5 323.7h1M123.1 338.5h1M93.3 342.3h1M98.0 334.7h1M101.5 327.4h1M97.9 344.9h1M94.8 344.6h1M101.4 334.5h1M120.8 329.9h1M116.3 340.1h1M109.2 343.5h1M108.3 339.1h1M88.5 333.4h1M114.7 333.0h1M111.1 329.4h1M95.5 336.8h1M109.4 333.9h1M104.5 331.3h1M101.7 335.8h1M96.2 334.8h1M100.7 340.2h1M97.5 339.1h1M111.7 330.8h1M111.4 334.7h1M111.4 337.4h1M104.6 331.1h1M102.3 332.1h1M129.3 330.3h1M87.7 341.7h1M119.3 327.2h1M108.7 320.5h1M108.7 338.3h1M103.1 343.2h1M105.5 338.7h1M95.2 341.3h1M93.3 343.4h1M107.1 340.6h1M88.5 332.9h1M115.5 328.1h1M117.9 324.3h1M69.2 336.8h1M90.8 339.6h1M109.2 328.0h1M110.1 337.0h1M108.7 335.8h1M112.9 339.5h1M114.2 326.4h1M115.7 327.3h1M127.0 333.2h1M107.8 335.8h1M116.5 332.3h1M89.5 336.2h1M105.0 330.0h1M94.0 336.2h1M122.0 329.4h1M133.9 337.6h1M113.4 334.7h1M94.8 346.0h1M104.4 325.1h1M106.3 326.9h1M108.7 330.1h1M118.0 326.3h1M115.7 321.9h1M77.7 334.4h1M123.5 339.9h1M102.1 336.2h1M103.4 347.6h1M123.4 335.7h1M105.5 341.2h1M92.4 336.9h1M92.5 334.7h1M108.7 338.9h1M117.4 334.0h1M123.3 329.9h1M105.6 335.4h1M102.4 336.0h1M127.1 343.7h1M102.7 337.4h1M122.3 327.3h1M109.6 332.4h1M111.2 341.5h1M105.0 336.1h1M110.3 332.3h1M103.1 340.2h1M99.3 332.0h1M106.6 338.7h1M100.5 337.2h1M110.7 334.2h1M106.2 322.4h1M104.7 336.4h1M105.6 337.6h1M104.2 330.9h1M126.6 333.4h1M107.0 333.2h1M102.9 347.1h1M103.8 333.2h1M114.5 333.1h1M106.3 341.4h1M104.4 327.4h1M104.7 336.0h1M109.2 334.9h1M112.7 340.3h1M113.6 341.9h1M90.1 340.3h1M97.1 344.2h1M78.4 336.7h1M115.2 328.2h1M119.9 335.4h1M122.8 340.2h1M109.2 336.0h1M120.7 337.6h1M106.7 333.4h1M105.8 333.5h1M91.0 339.4h1M98.7 335.4h1M99.9 329.9h1M115.7 323.6h1M125.7 333.8h1M101.5 331.4h1M111.5 334.8h1M111.2 339.2h1M97.7 329.0h1M88.3 335.5h1M99.0 335.0h1M91.4 335.1h1M104.0 335.7h1M106.7 340.0h1M103.7 325.3h1M104.6 329.9h1M112.3 332.0h1M96.3 331.0h1M115.7 325.9h1M89.4 338.5h1M107.4 331.1h1M111.8 335.2h1M98.1 332.4h1M90.2 338.6h1M111.9 320.3h1M100.3 337.4h1M115.2 330.1h1M115.1 330.4h1M107.5 336.0h1M106.4 329.4h1M118.0 332.8h1M111.7 335.7h1M97.2 336.0h1M109.7 337.9h1M112.1 327.0h1M108.9 330.6h1M108.4 328.8h1M106.9 341.6h1M105.7 333.1h1M97.8 340.1h1M91.7 336.5h1M118.2 325.5h1M100.1 334.1h1M109.8 334.8h1M90.0 331.3h1M108.0 328.7h1M96.6 326.2h1M141.0 338.3h1M96.0 334.5h1M97.2 338.3h1M118.2 337.0h1M119.4 331.5h1M85.6 344.3h1M112.0 345.4h1M117.5 337.3h1M94.3 338.0h1M112.9 323.2h1M102.2 339.0h1M97.6 342.3h1M105.3 345.3h1M102.6 337.0h1M92.5 338.2h1M131.2 329.2h1M103.7 342.7h1M99.9 339.7h1M118.5 344.5h1M106.3 333.5h1M123.0 339.9h1M106.9 349.1h1M109.9 327.5h1M107.8 331.5h1M108.7 332.1h1M104.7 332.8h1M107.1 339.9h1M124.3 325.5h1M100.9 341.0h1M99.6 325.3h1M103.3 333.7h1M115.1 342.8h1M110.7 329.0h1M115.5 322.2h1M93.0 338.1h1M109.0 328.2h1M105.5 335.7h1M104.7 338.1h1M111.4 347.4h1M84.9 331.5h1M110.6 336.1h1M108.4 332.0h1M92.9 342.9h1M107.0 339.2h1M122.8 325.5h1M103.4 337.0h1M114.0 335.2h1M106.0 341.3h1M98.3 334.7h1M96.6 331.9h1M103.4 337.4h1M121.4 332.8h1M117.1 339.1h1M98.4 328.3h1M118.5 335.6h1M106.0 335.3h1M98.3 326.8h1M112.1 334.6h1M98.9 344.1h1M91.2 342.1h1M121.4 333.7h1M86.0 328.4h1M112.8 332.0h1M91.1 338.3h1M106.1 330.0h1M103.9 327.8h1M103.2 339.0h1M82.5 330.9h1M105.3 329.9h1M106.4 331.9h1M99.8 348.3h1M106.3 333.3h1M116.6 325.0h1M99.8 337.0h1M107.9 321.6h1M94.9 336.0h1M112.3 338.8h1M113.5 329.9h1M133.5 328.0h1M116.2 328.1h1M112.1 334.6h1M121.1 324.7h1M97.1 339.0h1M118.6 331.5h1M102.6 341.8h1M101.4 339.6h1M118.8 331.1h1M110.4 337.2h1M121.8 334.1h1M92.0 338.0h1M109.9 332.3h1M100.9 331.1h1M103.7 330.6h1M86.0 332.4h1M117.1 331.3h1M110.0 336.6h1M98.2 344.4h1M93.2 338.5h1M98.7 340.0h1M123.9 341.1h1M104.7 325.7h1M105.5 344.5h1M112.2 331.4h1M106.9 331.2h1M110.0 335.0h1M112.8 319.1h1M110.8 333.4h1M117.4 336.5h1M93.0 327.1h1M108.8 338.3h1M104.9 342.4h1M109.4 339.3h1M107.5 337.6h1M100.6 335.1h1M103.4 333.0h1M118.9 340.4h1M101.2 333.3h1M92.1 324.7h1M114.4 336.8h1M117.9 333.0h1M103.9 331.0h1M107.7 327.5h1M99.1 339.2h1M106.2 339.6h1M120.1 337.4h1M114.9 326.8h1M108.2 329.1h1M106.6 346.1h1M92.2 348.5h1M112.0 340.1h1M113.7 341.2h1M118.3 330.0h1M128.7 329.2h1M109.7 323.0h1M116.9 328.1h1M95.5 335.6h1M119.2 325.6h1M117.5 337.2h1M123.3 339.0h1M114.6 332.7h1M111.4 328.3h1M124.7 339.9h1M99.6 330.6h1M113.6 328.4h1M119.5 334.7h1M99.1 334.7h1M95.6 337.7h1M112.1 332.9h1M108.1 329.6h1M114.8 337.2h1M113.4 327.4h1M98.7 330.9h1M110.3 328.7h1M121.4 342.4h1M105.6 344.6h1M104.0 331.0h1M96.2 339.3h1M116.9 336.2h1M129.0 334.5h1M94.4 343.8h1M116.0 334.2h1M117.9 336.2h1M102.3 338.6h1M103.3 332.2h1M97.7 342.3h1M98.3 329.6h1M111.5 345.6h1M112.2 319.6h1M110.2 341.1h1M116.2 329.4h1M109.0 328.9h1M95.3 336.3h1M122.3 327.4h1M120.3 332.5h1M101.8 344.8h1M126.1 329.0h1M111.6 327.1h1M109.6 336.8h1M129.6 339.5h1M81.9 341.9h1M90.5 335.3h1M115.0 331.2h1M104.1 328.7h1M97.2 332.9h1M123.2 328.6h1M114.8 343.8h1M92.2 324.6h1M100.7 335.0h1M115.9 327.9h1M127.0 332.6h1M86.8 338.6h1M110.4 333.3h1M102.3 326.4h1M87.9 329.3h1M105.5 331.1h1M89.0 326.5h1M102.5 337.2h1M124.4 328.3h1M113.7 335.5h1M114.9 325.7h1M114.1 332.7h1M110.7 328.2h1M116.5 323.1h1M97.5 347.2h1M102.0 323.1h1M116.6 330.7h1M100.5 337.1h1M105.0 345.0h1M120.9 333.4h1M126.2 343.4h1M101.4 334.7h1M99.4 336.4h1M112.3 323.2h1M111.1 335.2h1M99.8 329.5h1M113.1 326.7h1M111.8 322.0h1M109.0 335.2h1M138.3 324.5h1M123.7 339.6h1M117.6 338.4h1M119.0 333.5h1M139.3 328.6h1M120.7 338.4h1M100.7 337.5h1M110.7 329.6h1M109.1 336.3h1M102.1 335.9h1M111.5 338.2h1M109.3 326.1h1M105.7 324.6h1M102.6 333.8h1M116.8 333.0h1M89.5 328.0h1M116.2 329.9h1M108.7 337.5h1M112.1 340.7h1M83.4 341.5h1M123.7 319.1h1M90.2 340.4h1M96.1 320.1h1M114.8 332.8h1M101.7 336.2h1M102.4 327.6h1M84.5 339.4h1M103.0 332.7h1M111.2 339.1h1M116.3 339.3h1M105.6 338.4h1M110.1 332.3h1M113.2 336.7h1M102.7 345.7h1M99.6 332.8h1M128.9 331.2h1M99.2 337.0h1M121.6 334.9h1M110.9 345.9h1M122.1 322.7h1M101.7 337.7h1M113.0 330.1h1M110.2 325.9h1M104.5 328.3h1M111.1 332.3h1M99.8 335.3h1M106.8 332.4h1M102.9 329.8h1M115.5 329.4h1M107.4 336.5h1M92.8 334.1h1M103.7 332.6h1M106.3 330.4h1M98.2 334.5h1M120.8 324.1h1M112.1 332.1h1M116.1 327.6h1M99.8 335.1h1M104.3 337.7h1M119.6 337.1h1M92.9 337.5h1M111.4 330.4h1M107.7 327.0h1M102.8 335.3h1M109.4 336.5h1M97.0 338.7h1M109.2 326.6h1M95.0 335.6h1M94.9 339.0h1M122.2 327.3h1M101.8 342.3h1M85.4 337.3h1M118.4 332.3h1M99.9 336.1h1M71.6 346.7h1M106.5 328.8h1M116.3 323.2h1M113.0 340.3h1M126.2 330.0h1M106.1 330.7h1M112.2 320.7h1M97.7 338.0h1M110.6 338.7h1M124.3 331.1h1M111.5 322.2h1M109.7 333.2h1M86.7 336.2h1M102.3 325.1h1M96.3 347.8h1M118.3 344.1h1M99.3 330.4h1M111.1 329.1h1M98.6 343.2h1M127.6 327.6h1M95.5 335.9h1M109.3 332.5h1M136.8 333.3h1M110.7 335.9h1M99.5 340.2h1M114.5 332.5h1M118.8 333.3h1M115.7 323.3h1M86.4 334.3h1M111.8 341.9h1M84.9 335.7h1M126.9 322.7h1M108.5 332.3h1M102.1 329.0h1M115.2 332.8h1M112.6 329.2h1M96.2 341.1h1M124.6 326.6h1M106.7 341.7h1M88.0 330.3h1M124.4 339.4h1M126.4 342.3h1M120.9 328.7h1M114.1 333.8h1M98.4 335.0h1M117.6 329.9h1M127.9 330.5h1M117.6 337.1h1M125.0 329.8h1M99.4 333.5h1M118.5 329.3h1M116.2 321.5h1M92.8 340.7h1M90.6 336.6h1M99.8 332.3h1M109.3 336.1h1M114.0 339.5h1M106.2 337.4h1M106.3 328.3h1M107.1 335.6h1M108.4 330.5h1M115.0 336.7h1M113.0 330.6h1M108.1 337.6h1M111.6 337.9h1M103.1 334.2h1M116.6 332.1h1M101.3 327.0h1M127.2 339.5h1M107.3 331.2h1M109.5 324.8h1M98.6 328.0h1M104.7 336.6h1M110.5 337.2h1M108.7 336.5h1M101.1 333.5h1M95.4 335.1h1M108.2 332.0h1M109.2 330.4h1M115.0 338.6h1M122.5 337.6h1M105.9 341.1h1M87.9 344.9h1M106.6 334.7h1M87.9 335.7h1M91.9 322.8h1M118.7 329.1h1M114.2 332.7h1M99.8 327.5h1M101.9 339.0h1M106.8 332.2h1M88.3 332.0h1M112.5 328.8h1M104.0 332.4h1M128.2 332.3h1M97.9 342.6h1M119.0 332.8h1M101.3 338.4h1M118.4 328.3h1M97.7 336.5h1M115.5 329.5h1M104.9 343.3h1M98.3 330.3h1M107.3 338.7h1M114.7 341.4h1M113.8 340.5h1M125.7 334.3h1M115.9 326.3h1M79.0 335.1h1M104.9 340.9h1M86.5 337.2h1M104.1 335.2h1M116.3 341.1h1M94.6 341.7h1M97.3 347.0h1M110.5 338.3h1M107.5 348.6h1M125.9 335.1h1M112.5 338.3h1M114.6 337.1h1M127.8 335.0h1M101.6 328.7h1M108.4 335.8h1M97.2 334.5h1M110.2 329.4h1M118.4 327.1h1M122.3 327.6h1M108.3 336.9h1M101.5 341.1h1M100.6 339.5h1M93.5 339.1h1M109.4 333.6h1M122.9 331.8h1M81.5 332.5h1M84.7 338.6h1M121.6 321.6h1M89.8 331.4h1M112.2 335.8h1M93.7 331.7h1M119.3 347.8h1M115.3 325.0h1M109.6 331.4h1M116.7 330.2h1M110.3 342.8h1M111.9 319.3h1M128.1 331.8h1M120.2 332.6h1M100.0 329.1h1M99.7 336.4h1M106.4 338.9h1M105.1 330.8h1M109.9 339.2h1M101.0 331.1h1M115.1 331.9h1M107.6 327.8h1M113.3 339.7h1M107.1 327.2h1M114.6 331.1h1M93.4 325.6h1M125.9 334.3h1M110.2 323.3h1M112.4 329.3h1M114.1 328.5h1M120.6 335.7h1M115.7 329.5h1M110.2 329.8h1M107.1 338.6h1M91.6 343.2h1M111.3 337.6h1M103.5 326.7h1M104.7 333.6h1M133.4 324.3h1M87.9 335.9h1M108.8 333.1h1M121.2 330.4h1M119.1 334.2h1M120.6 325.0h1M94.4 335.4h1M97.7 334.5h1M116.3 340.1h1M104.8 332.8h1M127.5 334.2h1M111.3 336.1h1M109.5 327.9h1M114.1 338.8h1M105.6 335.4h1M109.1 330.3h1M100.0 329.0h1M108.5 336.7h1M102.8 333.1h1M110.9 331.8h1M94.1 342.6h1M94.2 348.1h1M115.2 343.3h1M110.3 330.2h1M97.9 335.1h1M107.2 341.4h1M97.7 339.3h1M130.9 332.1h1M91.8 338.7h1M127.0 330.7h1M97.4 323.6h1M113.7 337.2h1M105.4 333.6h1M105.0 338.7h1M119.2 335.4h1M118.1 337.0h1M105.5 335.6h1M99.1 338.5h1M130.6 328.0h1M123.5 330.0h1M110.8 338.3h1M103.4 324.2h1M112.7 339.5h1M109.0 331.8h1M119.4 320.0h1M98.7 339.5h1M107.4 326.7h1M98.6 327.8h1M122.3 329.5h1M129.7 340.2h1M106.1 326.4h1M114.2 332.3h1M124.2 334.1h1M104.0 327.6h1M99.0 339.5h1M118.7 326.2h1M114.5 335.8h1M105.7 331.4h1M125.3 336.8h1M111.4 335.5h1M90.1 342.1h1M112.9 337.0h1M107.7 332.9h1M129.0 331.2h1M108.1 332.9h1M105.0 327.4h1M113.3 333.6h1M112.9 343.3h1M93.5 338.1h1M109.7 333.2h1M104.0 329.0h1M122.7 325.6h1M133.6 324.2h1M96.6 337.2h1M97.4 332.2h1M100.7 343.1h1M100.2 328.2h1M100.6 332.8h1M108.6 331.0h1M120.7 333.8h1M94.4 336.0h1M92.5 340.3h1M88.0 334.3h1M121.7 338.8h1M122.0 326.1h1M91.4 333.9h1M88.9 326.1h1M110.0 333.8h1M120.4 332.2h1M119.3 330.9h1M110.6 333.3h1M116.0 333.1h1M113.1 339.1h1M103.5 340.8h1M129.7 333.2h1M108.8 335.4h1M97.6 342.3h1M104.5 340.9h1M92.1 338.3h1M108.0 329.8h1M120.6 332.7h1M94.2 332.6h1M119.8 326.5h1M130.5 325.7h1M113.0 335.3h1M96.4 338.2h1M101.0 345.4h1M105.5 338.1h1M94.2 333.8h1M96.0 342.0h1M104.4 327.1h1M105.2 326.5h1M115.4 334.6h1M94.7 331.2h1M130.1 337.8h1M121.0 337.4h1M118.5 334.1h1M101.5 335.0h1M127.6 331.5h1M105.6 339.1h1M126.4 319.9h1M119.9 330.2h1M98.5 334.0h1M103.0 331.1h1M128.6 329.3h1M119.6 333.1h1M107.4 337.1h1M112.3 342.2h1M109.3 325.5h1M101.0 340.2h1M107.9 343.1h1M102.1 339.4h1M105.4 343.2h1M111.7 322.3h1M97.8 333.7h1M115.1 324.9h1M108.4 325.9h1M116.3 329.3h1M117.6 329.1h1M122.7 335.3h1M115.4 333.1h1M116.8 335.7h1M106.5 333.9h1M115.4 336.5h1M97.6 328.8h1M105.1 330.2h1M116.8 333.0h1M109.5 342.8h1M112.7 329.3h1M96.2 331.1h1M123.4 331.6h1M103.5 341.6h1M112.4 330.8h1M107.3 328.3h1M120.5 342.2h1M103.8 331.5h1M99.4 345.4h1M87.9 337.0h1M103.6 325.1h1M95.5 335.6h1M113.9 330.2h1M124.5 332.8h1M84.4 338.1h1M92.3 323.8h1M110.6 326.1h1M122.2 333.1h1M112.2 335.3h1M112.0 333.1h1M112.0 321.2h1M114.6 331.6h1M125.3 324.7h1M115.5 334.6h1M96.2 343.0h1M102.1 327.7h1M110.9 333.8h1M100.4 339.5h1M106.3 338.0h1M103.4 338.4h1M101.5 338.4h1M117.5 340.7h1M103.2 328.2h1M96.3 333.9h1M99.8 330.0h1M109.3 335.6h1M131.2 327.9h1M111.2 332.4h1M123.6 324.7h1M113.1 328.5h1M84.8 336.0h1M113.3 336.5h1M100.4 341.8h1M94.5 340.7h1M97.4 339.3h1M128.5 333.2h1M92.5 343.4h1M100.2 326.2h1M120.9 330.2h1M117.6 343.3h1M90.9 342.9h1M108.6 341.2h1M102.7 333.5h1M105.4 328.5h1M117.6 337.6h1M101.6 331.6h1M105.3 335.9h1M123.3 324.9h1M87.1 330.1h1M104.2 332.9h1M113.0 329.1h1M94.9 336.2h1M102.0 337.0h1M95.3 342.5h1M109.9 331.8h1M101.8 335.4h1M117.4 334.3h1M119.7 332.3h1M109.2 334.7h1M105.3 340.1h1M111.8 336.1h1M108.1 327.7h1M95.4 337.4h1M118.9 324.4h1M112.0 339.5h1M118.4 339.5h1M93.5 335.8h1M117.3 328.0h1M132.1 333.2h1M114.6 329.3h1M91.8 331.7h1M107.9 328.1h1M107.9 334.5h1M110.9 333.7h1M107.5 343.0h1M113.9 332.8h1M103.1 333.2h1M109.7 325.9h1M102.1 341.9h1M110.3 338.1h1M120.3 337.2h1M102.3 330.0h1M118.1 345.9h1M99.8 341.3h1M102.5 323.7h1M105.3 330.8h1M123.3 338.5h1M100.1 335.6h1M121.0 327.0h1M91.9 333.7h1M106.9 335.3h1M119.2 336.3h1M115.3 328.1h1M97.4 335.8h1M94.3 331.9h1M117.7 330.0h1M95.1 338.7h1M113.4 325.1h1M103.2 337.5h1M107.9 331.6h1M134.3 332.7h1M125.6 332.1h1M117.8 333.5h1M94.0 340.0h1M111.7 332.0h1M107.8 326.8h1M105.6 324.2h1M121.7 323.7h1M89.8 338.1h1M110.5 325.5h1M109.4 331.4h1M98.5 325.8h1M128.5 337.1h1M93.1 328.5h1M109.3 336.9h1M108.2 327.6h1M84.8 340.5h1M91.9 331.8h1M98.0 337.2h1M118.8 342.2h1M119.6 337.1h1M115.1 334.0h1M111.0 333.3h1M86.4 349.9h1M111.9 339.7h1M103.4 338.7h1M121.4 332.7h1M122.9 330.1h1M133.7 333.8h1M117.6 340.5h1M117.0 330.7h1M97.4 337.6h1M108.4 329.0h1M95.3 339.0h1M117.6 328.7h1M96.1 340.8h1M105.8 332.9h1M99.3 335.0h1M102.8 332.4h1M114.2 337.9h1M102.3 335.6h1M111.5 337.9h1M97.5 336.6h1M123.1 327.9h1M98.5 319.4h1M119.4 331.7h1M131.1 326.0h1M81.5 338.0h1M96.4 329.8h1M105.6 331.8h1M120.2 326.1h1M102.7 332.9h1M110.3 320.5h1M99.0 328.0h1M116.1 341.7h1M94.7 334.6h1M117.4 331.8h1M77.5 351.2h1M88.3 342.0h1M128.7 332.7h1M110.9 337.4h1M98.3 334.9h1M134.2 339.0h1M119.2 327.9h1M120.0 327.6h1M103.3 332.8h1M115.4 334.4h1M113.9 332.8h1M90.4 339.5h1M113.8 326.7h1M105.8 331.5h1M120.6 320.9h1M123.0 333.2h1M99.8 327.5h1M102.1 338.0h1M110.5 334.4h1M116.5 338.0h1M103.2 331.9h1M107.1 334.4h1M114.4 329.4h1M111.6 325.2h1M121.2 331.9h1M110.5 331.4h1M97.6 330.9h1M88.8 337.6h1M117.7 335.1h1M104.2 332.6h1M103.9 331.9h1M104.3 330.3h1M90.1 332.5h1M104.5 338.1h1M79.0 336.6h1M102.6 328.2h1M98.7 338.0h1M128.3 328.3h1M113.8 336.2h1M105.7 333.4h1M108.4 324.4h1M116.1 331.5h1M100.7 340.4h1M105.4 332.5h1M104.1 333.4h1M134.7 323.1h1M110.3 340.9h1M87.2 342.5h1M117.1 332.7h1M138.4 336.9h1M96.5 329.8h1M148.7 337.6h1M108.3 338.3h1M120.7 339.6h1M102.5 338.4h1M104.5 330.2h1M94.0 333.1h1M95.6 331.1h1M83.8 334.9h1M122.8 342.2h1M95.1 334.5h1M114.0 342.8h1M112.3 335.8h1M101.3 337.2h1M109.2 336.6h1M106.7 331.5h1M103.4 339.0h1M107.1 324.7h1M108.2 330.6h1M95.7 329.7h1M93.0 332.4h1M97.9 330.8h1M109.6 333.8h1M121.8 320.8h1M125.5 336.5h1M111.2 330.8h1M118.7 332.0h1M109.7 334.8h1M120.2 330.0h1M110.3 337.5h1M111.7 328.5h1M104.2 330.3h1M108.0 333.3h1M128.7 326.2h1M95.7 341.6h1M109.8 343.3h1M102.1 338.0h1M119.1 333.2h1M126.1 317.2h1M104.9 335.7h1M76.2 333.9h1M114.2 328.2h1M113.1 321.6h1M89.2 336.6h1M104.8 330.9h1M107.5 335.0h1M83.0 342.9h1M116.6 337.8h1M113.8 337.1h1M109.5 325.9h1M96.0 334.4h1M100.3 336.1h1M101.0 335.0h1M114.0 335.9h1M97.1 336.0h1M124.5 331.2h1M111.7 329.7h1M82.8 333.4h1M128.5 339.1h1M109.6 332.3h1M100.6 327.7h1M110.2 339.0h1M87.8 338.8h1M110.0 332.6h1M79.4 333.0h1M96.0 332.8h1M123.5 332.3h1M121.8 328.7h1M103.2 329.1h1M96.8 333.7h1M116.8 322.3h1M107.1 331.7h1M111.4 338.9h1M115.8 336.7h1M96.0 336.7h1M117.1 333.4h1M83.6 334.8h1M124.1 329.1h1M88.7 328.0h1M100.2 330.9h1M99.1 327.4h1M116.9 336.4h1M116.8 334.6h1M111.4 329.6h1M114.0 332.3h1M112.7 329.6h1M106.9 332.7h1M87.0 340.9h1M80.4 329.5h1M80.9 332.5h1M108.8 342.1h1M105.9 337.5h1M106.3 334.0h1M109.8 329.8h1M105.3 334.7h1M97.9 342.9h1M90.2 332.5h1M86.7 338.7h1M120.5 325.1h1M117.9 330.5h1M91.7 331.3h1M104.0 330.0h1M112.1 328.3h1M126.4 333.3h1M100.1 329.7h1M109.7 332.4h1M122.1 338.0h1M88.6 339.4h1M99.9 337.1h1M107.0 331.5h1M99.1 331.7h1M132.8 335.4h1M117.0 328.3h1M110.1 333.8h1M98.0 341.3h1M116.9 327.8h1M115.7 336.5h1M103.1 341.1h1M102.2 330.7h1M90.5 332.1h1M107.6 337.4h1M116.6 326.6h1M118.2 326.6h1M114.9 335.4h1M115.3 321.8h1M101.2 335.3h1M102.3 333.6h1M123.6 343.8h1M112.3 329.6h1M99.4 338.6h1M113.1 330.5h1M118.8 341.1h1M114.7 326.4h1M107.7 326.0h1M100.2 325.0h1M115.0 348.4h1M126.4 327.4h1M109.1 331.7h1M103.0 350.9h1M112.3 336.9h1M93.9 336.7h1M109.0 325.9h1M105.1 338.7h1M118.4 330.8h1M109.0 333.9h1M119.3 329.8h1M134.1 331.3h1M104.5 329.6h1M97.4 330.4h1M114.2 339.9h1M105.7 328.1h1M110.0 337.4h1M101.2 336.4h1M113.0 326.8h1M108.4 333.1h1M82.8 335.1h1M104.3 330.1h1M110.9 330.0h1M121.5 334.2h1M102.1 339.8h1M98.0 331.8h1M120.0 327.5h1M100.5 333.1h1M109.1 334.5h1M112.2 328.3h1M116.0 332.4h1M109.1 340.8h1M94.9 334.5h1M118.6 329.1h1M102.1 330.5h1M102.6 339.4h1M131.0 333.6h1M117.3 330.2h1M96.2 338.1h1M102.3 335.0h1M104.1 329.3h1M98.9 333.1h1M84.4 328.0h1M116.4 330.6h1M114.8 323.2h1M109.4 327.6h1M100.8 321.2h1M110.0 333.1h1M114.9 332.8h1M94.7 328.9h1M104.4 337.0h1M101.8 337.1h1M115.3 330.9h1M110.2 331.1h1M94.3 343.4h1M100.5 333.5h1M127.8 331.7h1M96.8 335.6h1M109.2 332.3h1M100.7 335.8h1M120.7 325.5h1M106.5 331.1h1M102.9 335.4h1M94.3 335.5h1M103.9 328.6h1M116.2 327.8h1M114.0 325.6h1M92.9 336.8h1M125.0 329.7h1M103.0 323.5h1M95.8 335.8h1M107.5 324.5h1M99.8 330.3h1M101.5 336.8h1M101.8 342.0h1M106.0 330.3h1M102.6 338.1h1M89.0 340.5h1M115.0 341.4h1M100.6 328.3h1M120.9 330.6h1M113.5 332.3h1M114.1 330.2h1M109.4 331.8h1M122.0 330.4h1M103.4 331.4h1M96.7 336.8h1M113.8 346.1h1M76.4 335.0h1M103.0 332.0h1M109.9 332.9h1M101.4 326.0h1M122.9 338.2h1M118.0 347.1h1M107.4 325.5h1M102.7 332.1h1M121.3 339.8h1M100.3 336.9h1M102.3 331.0h1M117.0 338.3h1M113.7 329.4h1M128.4 318.4h1M103.8 326.7h1M86.5 337.3h1M114.6 330.5h1M122.4 335.9h1M105.5 333.1h1M125.2 332.1h1M128.3 335.1h1M101.3 341.7h1M100.3 324.4h1M93.4 335.5h1M114.5 337.7h1M115.9 334.2h1M112.9 324.5h1M92.2 327.5h1M99.5 338.1h1M91.3 335.3h1M88.6 332.0h1M92.7 337.9h1M90.9 342.7h1M106.3 338.9h1M112.2 332.6h1M115.1 336.2h1M108.4 340.2h1M100.2 336.0h1M106.5 328.6h1M113.2 328.8h1M104.3 335.2h1M106.3 323.5h1M104.7 338.1h1M101.6 334.9h1M109.1 340.5h1M94.3 331.6h1M119.3 332.0h1M91.5 345.3h1M113.3 336.8h1M90.6 326.8h1M123.6 326.8h1M117.0 331.2h1M97.6 330.6h1M103.9 342.6h1M95.6 340.0h1M108.0 340.5h1M112.8 337.0h1M136.3 330.4h1M91.7 333.4h1M120.3 325.8h1M100.0 329.6h1M108.0 319.0h1M117.7 334.3h1M113.5 332.5h1M111.7 330.0h1M106.0 338.2h1M107.6 335.0h1M108.7 331.1h1M121.6 335.7h1M90.6 334.0h1M100.8 328.1h1M94.5 341.7h1M98.8 347.2h1M98.4 334.6h1M120.6 336.7h1M131.2 328.4h1M122.9 333.2h1M93.9 334.3h1M107.2 327.5h1M94.0 331.5h1M112.7 334.5h1M122.6 337.1h1M116.2 345.3h1M119.1 343.1h1M106.5 338.0h1M85.4 336.9h1M86.0 341.0h1M106.9 336.9h1M115.3 340.7h1M123.1 339.7h1M105.1 343.2h1M107.7 330.3h1M112.1 343.4h1M118.7 328.1h1M107.5 338.5h1M94.8 333.1h1M119.3 330.4h1M111.3 329.0h1M110.6 326.9h1M94.0 340.3h1M108.3 338.8h1M88.7 339.5h1M85.8 341.8h1M104.2 330.9h1M102.7 335.3h1M113.8 332.7h1M123.1 328.9h1M107.5 336.4h1M126.4 324.7h1M102.6 344.6h1M115.8 331.2h1M92.9 333.8h1M109.6 337.7h1M104.6 338.2h1M104.3 329.7h1M114.3 334.5h1M88.3 347.6h1M110.0 340.7h1M97.5 330.3h1M109.6 338.3h1M110.7 326.4h1M102.1 327.6h1M103.5 335.8h1M94.2 333.4h1M114.4 337.2h1M100.4 337.4h1M113.1 336.8h1M91.1 333.7h1M123.9 338.0h1M96.3 336.7h1M120.3 331.5h1M102.0 332.2h1M115.5 344.0h1M107.5 343.6h1M115.9 337.3h1M107.8 335.2h1M121.5 330.8h1M114.8 331.7h1M113.2 322.2h1M125.5 327.4h1M99.2 332.4h1M122.4 334.0h1M107.6 329.8h1M90.4 333.4h1M112.2 329.6h1M105.3 335.0h1M125.7 327.5h1M100.7 327.1h1M108.8 338.1h1M112.1 344.8h1M85.6 333.5h1M112.5 329.3h1M96.7 337.2h1M123.6 333.6h1M123.5 316.5h1M107.8 336.5h1M91.0 343.5h1M110.0 336.2h1M109.0 331.1h1M116.1 335.8h1M104.6 336.7h1M94.0 334.8h1M106.3 336.6h1M97.1 335.2h1M127.2 330.8h1M100.6 341.0h1M100.2 335.0h1M108.1 340.2h1M92.9 331.7h1M103.4 339.8h1M106.2 335.6h1M103.7 344.5h1M105.1 336.9h1M122.4 338.1h1M111.0 325.5h1M92.8 337.3h1M102.3 332.2h1M117.4 341.7h1M101.4 341.8h1M108.6 334.8h1M108.4 341.2h1M112.3 327.2h1M105.9 336.5h1M105.8 333.6h1M97.7 334.2h1M103.4 328.0h1M120.4 350.8h1M96.4 334.2h1M111.2 328.6h1M125.7 343.2h1M107.5 319.1h1M109.3 341.4h1M98.8 315.5h1M106.6 328.8h1M115.4 326.0h1M102.7 333.8h1M80.7 330.5h1M110.3 343.9h1M105.4 342.7h1M115.8 351.1h1M106.6 330.9h1M130.6 338.3h1M88.1 331.7h1M91.7 332.5h1M117.8 345.5h1M90.7 331.8h1M111.1 332.7h1M106.1 333.9h1M77.3 335.7h1M116.4 334.4h1M126.7 332.6h1M108.4 326.2h1M87.3 346.8h1M119.6 344.1h1M92.3 344.1h1M103.6 327.1h1M113.0 337.4h1M92.9 321.0h1M85.5 365.0h1M105.3 341.9h1M106.5 339.4h1M93.8 335.0h1M93.6 325.9h1M117.6 335.6h1M106.4 344.3h1M98.7 329.5h1M96.0 323.7h1M112.0 356.8h1M107.2 330.5h1M103.7 333.4h1M87.3 345.4h1M101.7 340.3h1M97.0 334.4h1M107.5 335.2h1M123.6 335.3h1M121.7 343.5h1M115.5 331.9h1M108.9 341.0h1M101.7 335.5h1M112.1 339.8h1M99.4 334.9h1M100.7 330.0h1M94.0 335.3h1M104.9 330.1h1M107.0 347.4h1M132.6 327.9h1M114.2 332.0h1M101.8 341.6h1M117.9 335.4h1M103.0 360.2h1M121.0 332.9h1M118.2 337.5h1M151.0 348.8h1M90.2 333.5h1M106.2 341.1h1M104.5 333.5h1M111.1 337.0h1M116.2 330.1h1M92.3 336.8h1M96.4 339.5h1M110.3 330.8h1M119.5 326.6h1M93.0 357.0h1M84.1 338.5h1M123.7 338.3h1M119.9 343.2h1M120.6 322.4h1M91.4 329.5h1M104.8 344.7h1M111.1 344.6h1M111.9 327.8h1M105.5 341.1h1M106.2 338.5h1M123.4 350.2h1M100.4 337.6h1M97.3 327.2h1M100.9 340.4h1M99.3 337.6h1M106.3 320.7h1M102.5 328.6h1M98.5 324.5h1M126.1 327.4h1M109.4 324.9h1M103.6 350.3h1M125.6 340.0h1M100.6 350.7h1M103.8 316.9h1M104.9 334.3h1M98.4 337.8h1M101.9 342.8h1M108.9 344.0h1M89.4 362.1h1M98.3 317.5h1M110.2 335.8h1M110.4 334.6h1M112.4 346.9h1M139.9 331.5h1M115.5 331.1h1M104.6 336.6h1M104.0 330.7h1M107.5 342.7h1M112.3 332.0h1M101.2 328.7h1M127.3 327.9h1M90.4 334.6h1M115.6 335.3h1M114.8 343.0h1M89.6 333.3h1M115.9 337.7h1M115.5 342.5h1M96.5 330.5h1M141.2 344.6h1M117.2 338.9h1M100.9 329.8h1M98.6 328.6h1M96.4 340.3h1M110.1 334.6h1M106.7 330.9h1M86.6 339.0h1M92.7 344.2h1M95.8 333.4h1M100.6 335.1h1M101.2 335.5h1M95.7 327.6h1M115.2 331.8h1M120.4 337.6h1M107.3 334.1h1M73.1 323.7h1M105.1 342.0h1M114.7 336.8h1M106.3 342.5h1M109.9 332.1h1M109.4 346.1h1M84.8 334.8h1M69.8 334.3h1M116.1 340.9h1M100.1 343.8h1M114.1 347.3h1M102.1 335.9h1M105.4 345.4h1M126.5 338.2h1M90.0 341.6h1M107.1 341.5h1M90.0 330.8h1M105.6 322.1h1M115.7 352.6h1M116.6 341.2h1M108.3 333.2h1M88.2 347.2h1M110.5 339.7h1M118.8 332.1h1M118.8 322.0h1M135.3 321.5h1M114.7 337.0h1M91.9 336.6h1M99.5 339.7h1M107.8 336.9h1M122.6 343.4h1M92.4 352.8h1M119.8 336.9h1M114.5 326.1h1M93.3 330.9h1M117.2 350.1h1M95.9 338.8h1M107.1 340.9h1M101.8 333.8h1M111.1 344.4h1M88.7 330.3h1M114.1 336.3h1M75.1 335.1h1M99.7 329.1h1M100.8 353.1h1M128.9 334.3h1M112.2 321.8h1M99.5 336.4h1M92.6 328.6h1M106.4 332.0h1M98.2 341.1h1M137.6 328.8h1M66.1 332.3h1M105.8 324.6h1M70.1 328.3h1M122.4 342.9h1M94.1 330.2h1M130.7 344.0h1M98.9 337.8h1M121.9 335.2h1M108.6 329.9h1M122.7 330.6h1M105.3 325.1h1M65.3 346.7h1M95.2 330.0h1M84.0 335.4h1M119.8 333.7h1M115.4 344.6h1M105.9 330.8h1M112.5 332.1h1M108.3 328.6h1M98.4 337.1h1M134.3 333.9h1M109.4 331.9h1M103.2 332.1h1M85.0 332.7h1M95.4 320.9h1M107.3 340.8h1M101.6 319.1h1M103.2 361.4h1M104.6 327.6h1M91.6 344.7h1M104.2 318.7h1M85.7 346.1h1M93.1 328.4h1M97.2 345.4h1M120.0 343.4h1M112.4 327.9h1M106.5 328.2h1M91.0 343.8h1M98.0 316.2h1M118.1 336.7h1M122.3 320.0h1M86.9 347.0h1M101.5 344.5h1M107.9 334.6h1M112.6 343.4h1M106.0 331.8h1M118.4 352.3h1M85.9 337.0h1M129.1 337.2h1M91.5 345.9h1M107.1 333.7h1M114.1 336.4h1M123.5 337.1h1M118.3 327.0h1M118.5 331.4h1M124.1 329.9h1M102.8 324.7h1M117.2 334.7h1M127.3 325.5h1M96.3 340.6h1M86.1 333.3h1M91.7 333.2h1M127.2 337.4h1M125.9 345.8h1M103.0 347.0h1M111.2 343.0h1M112.6 330.0h1M121.6 334.6h1M80.3 341.8h1M98.1 332.7h1M102.1 330.0h1M109.5 323.2h1M108.4 340.4h1M101.5 331.6h1M109.9 329.1h1M71.4 348.7h1M150.1 328.4h1M119.4 341.6h1M119.5 335.7h1M96.9 333.3h1M114.6 349.0h1M136.8 338.8h1M133.4 338.7h1M107.7 334.6h1M90.0 344.2h1M108.6 332.1h1M103.5 343.3h1M119.4 338.2h1M87.9 333.0h1M103.7 333.3h1M110.4 333.8h1M100.1 336.8h1M120.5 325.1h1M89.0 326.3h1M89.6 341.1h1M102.6 342.3h1M119.8 342.6h1M100.4 321.6h1M99.4 344.2h1M119.7 345.0h1M109.6 332.9h1M98.0 327.8h1M110.0 345.6h1M103.5 337.1h1M117.1 346.3h1M109.6 341.1h1M93.5 323.5h1M99.8 335.1h1M101.2 338.6h1M111.9 334.2h1M111.8 332.4h1M95.0 338.1h1M105.4 345.9h1M112.5 344.8h1M120.0 316.5h1M111.2 341.4h1M133.1 321.6h1M107.9 341.5h1M115.7 323.2h1M101.3 330.4h1M92.8 339.3h1M105.9 318.5h1M114.7 342.4h1M111.6 336.9h1M109.8 342.4h1M102.9 342.7h1M95.5 340.2h1M103.6 344.2h1M113.8 337.3h1M118.5 320.4h1M62.0 356.7h1M116.9 344.8h1M123.2 341.4h1M125.2 336.9h1M111.0 326.3h1M115.4 328.2h1M99.8 332.4h1M105.2 334.0h1M111.4 314.5h1M92.5 347.2h1M96.8 346.8h1M109.6 335.4h1M87.5 336.5h1M107.8 337.4h1M86.6 345.6h1M111.0 346.1h1M107.4 337.8h1M99.6 342.6h1M93.9 341.5h1M100.8 345.6h1M73.3 328.8h1M100.5 332.6h1M106.2 319.8h1M124.5 337.5h1M99.4 336.1h1M104.5 338.0h1M126.5 332.6h1M131.7 334.2h1M100.0 337.9h1M124.0 349.9h1M123.8 335.5h1M113.3 328.7h1M95.0 353.8h1M93.7 340.3h1M114.3 329.6h1M138.5 320.3h1M104.3 336.6h1M128.5 328.6h1M131.7 317.1h1M87.4 327.2h1M98.7 340.5h1M128.9 337.6h1M119.4 325.1h1M114.3 332.6h1M107.2 340.1h1M116.0 336.2h1M97.4 334.2h1M142.6 332.2h1M90.6 340.0h1M81.4 341.1h1M110.6 347.7h1M125.3 318.1h1M98.3 326.3h1M104.2 323.0h1M92.3 338.7h1M105.5 334.6h1M91.6 332.8h1M91.5 330.7h1M87.9 353.8h1M98.5 333.7h1M134.4 340.2h1M106.0 336.3h1M110.2 340.7h1M136.6 316.8h1M97.0 332.3h1M92.5 337.8h1M112.5 322.9h1M89.2 338.6h1M112.3 340.9h1M123.4 334.8h1M91.7 340.8h1M99.2 336.2h1M130.0 325.1h1M91.7 338.7h1M97.1 337.5h1M108.9 326.6h1M101.9 333.8h1M93.4 329.3h1M129.4 331.2h1M99.9 347.6h1M112.8 344.2h1M102.8 350.2h1M102.1 326.5h1M86.6 334.8h1M120.5 337.6h1M101.7 344.7h1M124.5 330.0h1M90.2 339.0h1M99.4 333.8h1M114.5 341.6h1M109.6 344.6h1M95.5 323.8h1M105.9 343.8h1M88.2 338.3h1M105.9 324.3h1M71.0 356.2h1M108.4 329.4h1M126.0 332.2h1M119.6 334.9h1M118.6 331.6h1M102.1 346.3h1M116.3 353.1h1M98.7 320.6h1M105.7 338.1h1M104.2 328.3h1M57.3 333.1h1M119.6 331.3h1M112.7 330.8h1M117.9 327.9h1M91.3 324.3h1M116.0 330.0h1M112.1 324.1h1M75.1 342.5h1M82.0 342.6h1M107.4 334.7h1M96.7 333.5h1M105.8 331.1h1M95.3 320.6h1M127.1 325.5h1M79.5 338.8h1M84.9 321.7h1M92.4 334.7h1M86.8 335.3h1M97.9 332.6h1M106.7 338.4h1M88.8 347.3h1M111.8 333.7h1M125.8 335.5h1M123.4 340.5h1M135.3 330.5h1M123.2 334.9h1M107.0 340.5h1M134.3 346.7h1M117.0 335.5h1M131.5 317.1h1M103.0 328.5h1M75.4 330.7h1M90.1 338.0h1M108.1 326.4h1M115.4 340.0h1M104.4 339.7h1M120.5 329.2h1M92.0 349.7h1M96.7 336.4h1M120.6 331.0h1M105.6 321.4h1M109.0 341.1h1M126.5 329.2h1M123.3 338.7h1M96.1 341.6h1M112.9 357.6h1M83.6 346.7h1M105.4 325.9h1M111.9 330.4h1M81.9 337.7h1M126.3 311.8h1M134.9 327.0h1M115.5 344.8h1M120.4 335.3h1M128.5 332.9h1M102.6 322.5h1M122.9 340.9h1M112.0 331.2h1M83.9 330.4h1M95.0 344.0h1M98.8 335.9h1M124.6 350.0h1M108.3 334.4h1M123.7 351.8h1M100.7 339.6h1M86.7 323.7h1M136.0 327.9h1M145.9 329.6h1M112.3 333.4h1M101.7 317.9h1M123.4 328.5h1M90.0 329.0h1M104.5 339.5h1M87.0 341.9h1M115.1 343.2h1M110.8 336.4h1M102.1 342.1h1M96.6 328.6h1M84.5 333.2h1M95.3 338.1h1M125.3 337.5h1M105.4 360.2h1M125.7 337.8h1M94.3 334.7h1M105.1 330.1h1M104.1 362.0h1M106.1 356.0h1M117.9 332.6h1M78.9 348.2h1M117.9 335.8h1M117.5 338.0h1M106.4 330.6h1M110.3 350.8h1M104.5 340.6h1M115.8 326.2h1M107.6 333.6h1M95.9 344.1h1M108.7 331.4h1M120.3 331.2h1M113.4 342.1h1M106.6 329.6h1M109.2 329.4h1M100.1 337.5h1M99.3 328.5h1M81.5 349.0h1M103.5 329.5h1M121.3 335.1h1M102.6 344.0h1M94.8 342.2h1M118.5 323.9h1M110.0 339.7h1M109.5 338.1h1M114.5 340.0h1M117.9 340.6h1M105.3 327.5h1M92.6 318.7h1M130.3 320.8h1M107.2 331.1h1M95.1 330.7h1M110.1 337.9h1M124.6 337.2h1M88.2 348.0h1M124.0 320.8h1M105.5 338.5h1M136.3 337.4h1M117.3 339.4h1M105.3 334.1h1M125.5 337.5h1M125.1 332.7h1M101.9 334.8h1M108.8 323.8h1M101.2 346.8h1M119.7 331.1h1M87.9 344.0h1M105.0 339.4h1M74.9 326.2h1M114.7 329.1h1M75.9 343.1h1M91.5 333.5h1M110.8 335.1h1M100.7 326.9h1M101.3 340.4h1M92.8 333.3h1M100.7 338.1h1M82.2 338.8h1M111.8 336.1h1M119.2 339.0h1M117.7 333.0h1M105.4 327.3h1M125.1 338.0h1M114.1 337.7h1M120.2 330.5h1M113.5 340.9h1M106.5 328.1h1M95.5 331.1h1M72.4 359.7h1M116.9 339.6h1M106.7 344.6h1M134.2 324.6h1M77.9 331.6h1M120.4 343.7h1M94.4 343.0h1M107.1 336.1h1M95.0 340.2h1M111.2 328.7h1M105.5 327.3h1M118.8 328.8h1M107.9 326.1h1M112.7 326.7h1M125.2 333.5h1M114.9 338.0h1M106.0 341.8h1M123.6 326.1h1M104.4 328.2h1M111.7 326.2h1M102.9 338.8h1M98.2 340.0h1M64.3 339.2h1M115.4 323.6h1M90.4 334.7h1M117.2 332.1h1M133.5 338.7h1M87.9 334.3h1M118.9 329.2h1M106.8 343.5h1M111.5 319.9h1M91.3 345.4h1M106.4 327.6h1M109.5 336.8h1M127.1 331.2h1M138.3 337.6h1M112.2 339.4h1M101.1 330.3h1M138.7 332.6h1M106.0 338.4h1M105.3 328.1h1M107.7 329.3h1M113.5 333.1h1M116.9 332.0h1M97.0 322.2h1M105.8 337.0h1M133.3 328.4h1M129.3 328.6h1M115.1 346.1h1M113.3 350.8h1M103.8 334.8h1M120.6 326.1h1M99.7 334.7h1M109.6 339.5h1M101.5 341.7h1M97.4 329.9h1M108.1 337.7h1M109.1 348.7h1M98.2 330.9h1M106.0 333.5h1M107.7 332.1h1M99.4 327.7h1M96.4 325.7h1M104.6 331.0h1M117.3 335.4h1M125.3 350.7h1M109.5 332.5h1M103.6 337.1h1M105.3 324.5h1M132.7 321.0h1M119.6 329.6h1M92.2 325.9h1M106.6 336.1h1M99.8 336.8h1M103.1 343.1h1M83.8 341.3h1M107.4 333.5h1M86.8 329.3h1M99.8 342.6h1M127.7 325.7h1M118.6 314.0h1M96.5 348.2h1M92.9 339.5h1M94.3 337.0h1M79.4 330.8h1M91.1 320.8h1M102.0 325.7h1M92.5 337.7h1M118.9 340.9h1M106.6 335.9h1M99.8 336.7h1M131.7 329.9h1M118.3 341.4h1M106.5 322.6h1M134.2 337.7h1M125.0 327.1h1M97.0 335.0h1M113.1 343.8h1M101.0 335.7h1M86.9 338.0h1M134.3 333.1h1M127.5 325.7h1M89.8 341.8h1M111.3 313.3h1M82.7 329.3h1M123.5 340.8h1M109.4 356.1h1M101.7 325.5h1M124.8 330.8h1M107.3 334.7h1M104.7 344.0h1M121.9 345.5h1M105.1 351.5h1M116.6 312.3h1M105.4 322.0h1M119.6 338.3h1M114.0 318.5h1M120.6 349.2h1M92.2 331.6h1M133.2 325.8h1M106.0 342.9h1M132.8 335.7h1M100.0 345.3h1M103.3 335.6h1M102.0 325.0h1M122.6 324.8h1M100.7 332.8h1M111.9 325.3h1M87.1 353.4h1M98.1 319.5h1M110.5 335.4h1M107.3 346.6h1M81.0 342.3h1M115.2 339.8h1M93.4 336.6h1M134.6 328.9h1M107.3 355.3h1M138.0 320.4h1M114.7 319.7h1M115.1 343.1h1M98.7 324.1h1M104.1 325.1h1M112.6 326.0h1M77.6 325.7h1M123.1 345.0h1M89.7 331.7h1M104.8 344.4h1M65.4 321.1h1M114.9 342.6h1M119.4 344.2h1M110.0 325.5h1M111.2 329.6h1M101.9 335.9h1M109.3 334.0h1M123.9 327.9h1M99.1 321.8h1M115.3 340.4h1M118.4 338.7h1M104.6 340.7h1M110.8 335.6h1M110.4 334.9h1M101.7 347.2h1M141.8 328.0h1M102.6 346.9h1M132.2 334.6h1M122.9 335.4h1M78.4 341.6h1M109.1 322.5h1M120.1 319.6h1M117.7 324.7h1M92.4 324.0h1M111.3 337.3h1M88.4 326.0h1M92.4 338.0h1M103.6 334.0h1M109.6 332.8h1M131.9 343.4h1M113.1 339.8h1M122.7 334.6h1M89.6 334.8h1M90.8 338.9h1M101.3 343.6h1M133.8 341.6h1M88.0 338.1h1M85.9 348.6h1M107.5 345.5h1M124.5 333.9h1M83.6 337.3h1M104.6 342.9h1M89.8 353.2h1M127.8 330.1h1M116.2 327.2h1M111.7 338.3h1M107.0 338.7h1M106.6 355.5h1M108.1 327.6h1M99.2 346.0h1M93.6 331.2h1M91.9 342.7h1M107.6 336.6h1M96.0 338.7h1M121.9 348.8h1M73.6 316.6h1M117.2 347.5h1M114.8 333.5h1M125.7 339.8h1M103.8 338.0h1M83.9 326.9h1M96.1 353.0h1M123.7 334.4h1M102.2 331.9h1M101.1 335.3h1M98.3 333.3h1M107.1 341.9h1M105.8 349.7h1M86.2 349.7h1M99.0 340.1h1M120.8 327.2h1M128.0 331.9h1M103.5 322.2h1M99.6 335.7h1M126.5 331.1h1M104.4 334.2h1M92.2 352.4h1M104.7 330.9h1M118.5 343.4h1M130.1 335.5h1M97.3 316.7h1M116.4 344.8h1M102.2 335.2h1M123.3 330.7h1M110.7 333.9h1M110.9 334.9h1M93.6 342.2h1M100.2 319.4h1M104.8 353.0h1M56.3 351.4h1M117.8 321.3h1M106.3 330.9h1M105.0 342.3h1M103.0 343.8h1M107.8 337.5h1M107.5 312.8h1M87.7 334.0h1M110.2 343.9h1M108.5 333.2h1M108.3 340.7h1M83.9 325.9h1M104.8 333.3h1M87.1 327.5h1M112.0 333.4h1M123.7 315.6h1M119.2 330.2h1M101.9 333.8h1M100.5 345.2h1M99.4 340.2h1M111.7 331.5h1M98.1 341.0h1M96.4 315.6h1M70.9 340.7h1M95.7 343.6h1M94.6 328.8h1M100.0 341.0h1M124.2 329.6h1M87.6 339.0h1M88.8 344.2h1M114.1 322.6h1M92.8 336.7h1M103.4 326.7h1M110.0 338.0h1M109.0 347.5h1M97.4 347.5h1M121.0 338.0h1M129.0 334.0h1M92.5 337.1h1M102.6 331.7h1M122.1 344.0h1M103.8 334.0h1M94.1 347.8h1M101.7 342.1h1M116.1 312.2h1M91.2 326.8h1M111.2 338.0h1M110.5 319.6h1M96.0 324.9h1M114.2 326.9h1M115.0 321.8h1M121.8 335.5h1M120.7 334.6h1M86.6 345.7h1M119.3 328.8h1M117.0 344.9h1M121.8 337.7h1M94.3 333.4h1M120.7 337.9h1M112.0 331.8h1M88.2 322.5h1M126.6 341.2h1M94.2 325.3h1M93.3 343.3h1M113.9 342.5h1M98.1 334.8h1M111.1 326.1h1M104.4 342.0h1M112.0 341.0h1M119.4 337.5h1M107.5 341.6h1M119.4 332.1h1M120.2 339.8h1M95.3 339.3h1M119.0 330.8h1M116.5 337.7h1M107.7 325.5h1M124.0 338.9h1M131.9 338.6h1M115.7 316.8h1M84.2 325.8h1M113.5 334.0h1M104.3 328.8h1M102.9 333.2h1M112.7 339.1h1M101.7 330.5h1M130.3 329.6h1M109.6 324.1h1M109.6 350.9h1M117.5 327.1h1M118.5 332.4h1M125.0 338.9h1M116.8 337.8h1M107.2 339.0h1M110.7 346.3h1M76.8 344.7h1M85.1 331.9h1M124.0 346.1h1M103.0 339.3h1M136.1 351.7h1M133.8 336.7h1M88.7 334.7h1M111.7 335.3h1M148.7 329.3h1M97.2 346.5h1M112.2 329.9h1M105.0 343.5h1M102.7 328.3h1M103.0 334.2h1M107.4 338.7h1M116.5 321.4h1M96.1 340.4h1M113.3 325.8h1M96.9 336.0h1M114.8 334.4h1M110.6 326.4h1M95.5 333.3h1M109.3 335.2h1M96.8 337.9h1M94.8 335.4h1M124.0 332.4h1M81.4 341.9h1M116.5 343.1h1M120.5 355.8h1M98.8 337.6h1M123.2 335.3h1M118.9 323.4h1M88.1 334.3h1M113.5 324.8h1M111.9 319.9h1M96.8 337.9h1M116.5 341.4h1M117.1 327.1h1M97.6 341.9h1M78.8 341.6h1M111.3 322.5h1M95.9 332.3h1M81.2 329.7h1M103.3 347.6h1M72.9 340.0h1M101.0 326.7h1M130.4 343.2h1M65.9 339.6h1M113.4 331.1h1M96.7 356.7h1M99.4 322.8h1M94.9 343.3h1M116.6 335.3h1M105.1 321.3h1M98.1 352.1h1M87.8 334.2h1M101.6 340.1h1M123.8 332.7h1M90.7 344.8h1M111.6 323.1h1M113.5 344.2h1M78.0 336.5h1M122.5 328.6h1M106.8 336.3h1M139.8 333.2h1M132.7 334.1h1M102.4 327.3h1M104.5 331.9h1M92.8 338.2h1M88.7 347.4h1M118.6 332.5h1M103.0 331.5h1M101.5 336.5h1M103.1 323.7h1M119.4 350.1h1M117.9 312.5h1M107.5 337.0h1M105.8 345.4h1M110.8 349.9h1M136.2 323.9h1M76.5 334.8h1M90.7 339.6h1M114.2 334.9h1M109.2 333.7h1M125.6 336.5h1M124.9 323.0h1M135.3 326.1h1M95.8 338.1h1M118.1 348.0h1M102.2 324.4h1M122.0 337.5h1M111.2 343.8h1M118.6 322.8h1M95.9 332.7h1M112.1 352.0h1M101.8 350.5h1M104.0 339.3h1M102.2 346.9h1M92.5 338.8h1M120.5 311.1h1M108.1 309.7h1M123.3 333.5h1M91.9 330.7h1M77.9 331.9h1M98.1 337.7h1M106.9 348.1h1M117.6 324.7h1M122.9 334.7h1M124.6 329.1h1M128.9 326.3h1M118.9 340.7h1M107.0 320.9h1M96.1 336.3h1M117.1 332.1h1M100.6 340.0h1M94.8 331.0h1M114.7 325.6h1M111.2 339.6h1M119.1 328.7h1M97.4 340.5h1M125.9 343.3h1M113.0 337.4h1M104.2 330.6h1M95.7 332.3h1M90.4 328.5h1M88.3 343.8h1M128.1 335.0h1M86.6 337.7h1M115.8 328.8h1M103.9 336.9h1M100.1 344.5h1M102.3 349.4h1M104.6 325.6h1M119.3 324.5h1M116.4 339.8h1M105.6 322.9h1M87.5 338.7h1M80.9 335.2h1M133.1 320.9h1M93.2 341.5h1M85.4 345.1h1M125.8 347.7h1M85.1 335.8h1M117.6 330.0h1M119.9 326.1h1M110.3 329.7h1M121.3 332.5h1M85.7 328.5h1M90.7 346.5h1M104.1 332.4h1M106.7 331.0h1M106.3 336.5h1M112.1 319.8h1M96.1 333.1h1M74.7 328.3h1M112.2 326.9h1M104.2 337.3h1M116.9 317.3h1M136.3 321.7h1M108.5 335.0h1M115.9 335.1h1M95.5 345.9h1M120.7 334.7h1M112.6 336.6h1M110.7 333.0h1M121.2 337.0h1M90.1 332.8h1M115.6 334.9h1M115.9 347.7h1M131.1 336.3h1M82.0 346.6h1M107.5 346.3h1M139.6 333.0h1M100.3 328.4h1M102.3 345.7h1M135.7 348.6h1M144.0 331.5h1M105.4 309.8h1M97.6 341.8h1M98.3 334.2h1M102.0 339.6h1M94.0 329.8h1M93.8 324.8h1M110.0 336.3h1M106.4 325.2h1M115.5 343.5h1M107.4 333.5h1M91.1 348.5h1M117.8 332.2h1M111.6 340.0h1M98.5 334.5h1M104.7 345.3h1M111.7 332.7h1M108.3 334.2h1M106.1 340.4h1M119.4 340.5h1M124.2 343.1h1M103.2 339.3h1M106.5 331.9h1M91.3 338.7h1M104.6 334.3h1M112.7 323.6h1M120.3 336.2h1M109.4 332.4h1M105.0 328.4h1M96.2 332.4h1M109.9 331.6h1M91.3 336.8h1M106.8 318.7h1M107.6 335.9h1M94.5 340.4h1M111.3 329.6h1M102.2 321.9h1M114.3 322.1h1M100.2 336.0h1M113.3 327.2h1M129.4 327.8h1M109.8 334.3h1M118.0 328.1h1M97.2 331.3h1M101.9 334.8h1M77.7 324.5h1M105.5 338.7h1M89.1 325.8h1M106.4 317.3h1M74.7 321.6h1M94.4 334.7h1M108.6 336.6h1M114.8 347.9h1M83.2 339.1h1M98.3 315.5h1M146.4 343.2h1M120.5 346.7h1M108.6 327.8h1M66.4 335.7h1M96.0 352.5h1M114.8 334.7h1M110.2 331.9h1M115.6 347.1h1M120.0 325.2h1M110.2 346.2h1M118.2 323.9h1M80.9 337.2h1M144.4 336.0h1M104.8 349.4h1M98.2 339.5h1M129.1 333.0h1M116.1 335.1h1M122.0 338.3h1M98.4 338.3h1M110.2 327.3h1M118.6 341.5h1M90.9 339.4h1M103.5 331.8h1M103.6 336.0h1M101.9 328.6h1M95.1 323.6h1M89.3 340.8h1M113.2 332.6h1M114.2 359.6h1M124.4 335.9h1M105.4 329.8h1M98.7 346.1h1M84.5 327.0h1M110.6 351.0h1M101.0 324.5h1M137.0 335.5h1M141.7 339.2h1M130.6 336.2h1M94.3 339.4h1M88.0 346.7h1M105.4 347.5h1M94.8 341.6h1M126.7 324.4h1M108.3 331.6h1M99.6 324.8h1M107.6 340.5h1M125.8 335.8h1M93.8 340.1h1M114.0 333.1h1M87.3 334.1h1M102.0 320.9h1M96.7 330.7h1M111.5 333.3h1M107.8 323.6h1M125.5 339.5h1M118.7 345.0h1M97.5 330.9h1M87.7 336.6h1M95.1 336.0h1M99.8 328.4h1M104.2 338.6h1M96.2 337.9h1M122.4 329.9h1M119.9 328.0h1M102.0 327.6h1M99.8 335.4h1M103.3 333.6h1M109.3 355.9h1M105.3 325.1h1M85.4 351.9h1M100.9 336.6h1M76.8 317.8h1M108.0 338.1h1M118.8 347.4h1M89.7 323.9h1M110.1 339.7h1M98.4 338.0h1M97.2 338.2h1M134.7 325.2h1M119.1 327.0h1M114.3 335.4h1M99.4 326.9h1M114.1 342.2h1M103.5 330.1h1M114.4 339.7h1M93.2 331.3h1M106.8 341.2h1M101.9 339.9h1M84.8 325.8h1M133.0 341.4h1M120.3 343.6h1M94.9 332.2h1M86.0 340.7h1M97.0 340.5h1M95.0 338.3h1M95.7 318.8h1M86.3 347.2h1M95.3 339.4h1M107.8 333.9h1M114.2 342.5h1M78.3 339.8h1M106.4 331.4h1M93.8 345.1h1M90.6 328.2h1M103.8 345.7h1M97.2 338.1h1M116.8 331.2h1M113.5 307.2h1M104.7 350.8h1M97.3 334.4h1M130.2 310.5h1M135.0 336.7h1M111.4 325.5h1M104.5 334.0h1M123.4 345.4h1M127.7 329.2h1M100.4 344.0h1M133.3 331.0h1M106.5 348.4h1M122.1 327.1h1M102.4 356.9h1M108.2 336.8h1M98.9 325.6h1M106.8 331.1h1M122.3 336.3h1M94.2 339.3h1M103.2 339.7h1M111.8 311.5h1M100.3 336.9h1M136.8 331.4h1M86.5 344.7h1M144.7 334.3h1M96.7 331.7h1M122.0 338.6h1M131.7 338.9h1M115.5 339.0h1M86.8 341.4h1M101.9 334.7h1M108.6 339.4h1M115.6 335.9h1M122.3 339.8h1M122.1 322.8h1M128.6 331.7h1M93.4 340.1h1M121.3 331.0h1M81.5 339.5h1M111.1 348.4h1M91.5 339.2h1M78.9 325.3h1M119.9 329.3h1M105.2 325.6h1M122.4 339.1h1M85.5 351.3h1M89.9 343.9h1M104.0 324.3h1M98.4 345.3h1M109.0 342.0h1M96.5 327.5h1M102.3 338.3h1M90.4 339.5h1M125.5 329.6h1M102.2 335.4h1M90.0 340.5h1M116.7 332.0h1M115.0 340.5h1M110.3 335.4h1M109.5 329.5h1M102.5 345.2h1M105.3 337.6h1M75.8 349.7h1M83.2 332.4h1M88.2 332.9h1M110.1 327.0h1M123.8 324.3h1M103.4 327.2h1M102.2 330.0h1M124.6 339.7h1M100.6 328.4h1M117.8 341.8h1M110.6 315.0h1M87.1 335.8h1M111.0 329.9h1M111.5 345.5h1M88.8 328.9h1M90.4 327.8h1M90.1 351.4h1M127.9 337.3h1M138.7 335.1h1M118.2 339.5h1M128.5 320.6h1M84.6 320.1h1M129.1 341.6h1M134.9 322.6h1M131.2 334.4h1M91.5 325.9h1M126.0 353.9h1M105.9 339.4h1M121.5 323.0h1M98.4 343.2h1M105.8 325.5h1M99.2 341.0h1M112.7 324.9h1M104.8 330.8h1M124.0 336.7h1M120.1 340.2h1M113.4 336.1h1M105.1 325.8h1M102.6 336.2h1M107.9 341.1h1M110.8 348.5h1M111.6 336.8h1M105.8 331.0h1M107.2 344.5h1M97.2 337.0h1M79.8 343.0h1M117.3 346.8h1M114.8 330.5h1M94.0 347.1h1M136.2 337.9h1M88.3 327.6h1M123.1 342.9h1M110.1 329.9h1M110.3 324.9h1M122.7 324.8h1M120.1 329.7h1M107.7 337.5h1M93.0 349.6h1M88.8 336.9h1M109.3 331.4h1M131.1 336.6h1M121.2 342.0h1M105.6 328.3h1M113.2 343.7h1M116.7 330.4h1M133.1 336.0h1M97.8 351.3h1M115.9 320.5h1M110.5 329.8h1M95.2 332.6h1M93.7 349.6h1M126.0 334.0h1M111.6 332.5h1M104.9 342.3h1M106.6 321.5h1M124.0 350.6h1M107.7 329.5h1M133.1 348.2h1M105.1 349.4h1M97.0 348.1h1M104.8 331.1h1M94.0 343.7h1M102.7 342.1h1M126.3 340.8h1M134.1 344.6h1M117.5 342.0h1M111.2 343.7h1M94.0 340.4h1M92.7 341.1h1M115.4 355.3h1M110.4 341.0h1M97.1 326.8h1M101.1 340.8h1M130.3 333.3h1M122.7 340.0h1M108.7 341.6h1M110.6 336.1h1M127.7 344.7h1M112.7 336.7h1M112.7 349.6h1M83.4 336.5h1M84.0 352.9h1M78.1 334.6h1M72.6 332.3h1M108.9 349.9h1M111.3 329.8h1M94.7 341.4h1M112.3 325.5h1M114.4 339.8h1M106.4 338.8h1M85.7 341.8h1M127.1 322.7h1M129.9 349.7h1M97.7 331.0h1M135.9 331.5h1M108.5 340.3h1M95.8 339.9h1M100.0 329.3h1M78.7 333.2h1M100.0 322.8h1M84.2 345.1h1M126.2 349.9h1M112.6 340.3h1M86.8 340.9h1M116.2 338.8h1M80.3 329.6h1M106.8 316.8h1M113.8 332.2h1M110.3 351.2h1M89.3 330.0h1M106.3 342.0h1M104.4 336.4h1M107.1 329.2h1M128.8 330.2h1M132.4 333.4h1M130.3 330.7h1M96.9 331.3h1M95.3 332.7h1M105.1 318.9h1M117.2 360.7h1M77.5 347.3h1M98.8 342.6h1M132.8 325.7h1M88.5 337.1h1M95.2 330.8h1M98.4 349.9h1M114.7 337.2h1M105.4 331.1h1M102.4 337.5h1M85.1 342.9h1M115.9 332.8h1M105.2 322.5h1M99.8 355.5h1M105.7 323.0h1M118.5 332.4h1M86.2 346.7h1M83.3 334.1h1M91.9 338.2h1M92.7 328.1h1M62.8 349.6h1M97.0 329.5h1M124.7 341.7h1M101.9 334.4h1M121.4 328.4h1M64.5 343.1h1M104.7 331.2h1M128.5 338.5h1M129.2 324.2h1M100.3 341.7h1M95.7 344.1h1M113.0 336.6h1M89.1 339.4h1M102.7 344.2h1M81.3 333.2h1M108.5 337.3h1M106.5 331.3h1M133.1 345.6h1M114.0 346.7h1M97.6 340.0h1M106.9 344.9h1M88.1 340.2h1M107.0 331.6h1M102.6 327.5h1M111.7 323.1h1M100.9 357.2h1M86.9 371.8h1M99.6 361.2h1M86.8 366.9h1M92.3 348.8h1M77.8 365.0h1M100.0 341.2h1M89.1 346.5h1M96.5 377.4h1M75.8 369.6h1M98.4 366.0h1M95.7 382.3h1M101.5 372.2h1M87.5 373.0h1M77.6 351.5h1M99.3 358.8h1M110.5 355.8h1M78.7 372.1h1M94.7 371.9h1M96.3 359.5h1M91.6 365.5h1M96.7 381.8h1M120.1 354.6h1M65.2 337.6h1M93.5 355.4h1M87.8 367.7h1M88.1 358.0h1M72.4 387.6h1M102.3 357.0h1M85.7 356.8h1M90.6 384.9h1M115.5 359.7h1M91.9 369.2h1M87.4 370.2h1M86.1 373.9h1M103.4 354.1h1M87.6 353.9h1M87.5 362.4h1M72.4 362.6h1M77.0 359.7h1M99.9 366.9h1M91.1 361.2h1M72.2 380.2h1M79.4 363.1h1M97.3 365.4h1M124.0 347.9h1M75.2 352.6h1M68.7 379.7h1M109.8 373.2h1M86.8 365.6h1M76.3 369.4h1M101.9 364.6h1M89.8 364.4h1M76.5 360.3h1M80.8 376.9h1M92.4 366.1h1M97.6 369.6h1M71.0 372.0h1M104.6 358.3h1M83.5 380.4h1M109.4 355.9h1M86.7 344.4h1M99.9 380.7h1M104.0 374.3h1M84.3 364.3h1M99.5 376.9h1M100.8 334.7h1M94.4 381.1h1M109.0 370.4h1M85.5 374.2h1M86.8 353.6h1M99.3 349.8h1M76.2 366.0h1M95.0 358.6h1M61.6 365.4h1M89.7 387.9h1M86.6 363.7h1M95.0 344.5h1M106.6 368.8h1M80.8 366.5h1M84.7 353.0h1M88.2 350.7h1M75.9 375.0h1M87.6 343.5h1M105.3 350.0h1M101.0 345.5h1M91.9 377.3h1M92.2 373.2h1M86.3 376.7h1M77.7 350.3h1M102.5 386.8h1M110.3 376.2h1M89.4 355.6h1M81.6 368.2h1M117.9 385.7h1M104.8 361.5h1M87.6 370.3h1M83.5 353.9h1M101.9 381.9h1M77.1 379.1h1M88.6 352.7h1M96.3 352.1h1M119.6 359.4h1M96.5 364.9h1M97.5 379.1h1M83.8 351.8h1M102.0 363.5h1M94.9 346.5h1M78.8 361.6h1M99.7 370.4h1M100.9 360.6h1M66.7 370.5h1M105.9 350.5h1M82.2 350.7h1M96.6 347.4h1M90.5 360.7h1M86.3 358.6h1M95.7 370.5h1M99.2 367.1h1M99.4 352.2h1M88.0 362.0h1M86.1 380.9h1M85.4 368.7h1M86.1 377.1h1M104.3 363.6h1M75.1 357.7h1M115.0 362.2h1M97.8 368.6h1M88.8 358.7h1M107.1 354.2h1M87.8 364.2h1M97.2 378.6h1M101.7 358.5h1M103.1 362.0h1M85.9 377.3h1M123.5 352.5h1M100.8 362.3h1M74.2 363.7h1M80.9 347.1h1M102.7 356.2h1M87.4 348.2h1M101.9 356.7h1M127.4 361.6h1M103.0 356.7h1M108.6 338.4h1M93.1 345.9h1M90.1 375.7h1M98.0 332.8h1M88.9 374.6h1M107.6 363.7h1M103.1 363.8h1M75.7 355.3h1M82.9 364.0h1M86.1 355.9h1M109.3 381.0h1M108.3 354.9h1M94.5 363.6h1M110.7 344.3h1M105.4 361.7h1M79.5 356.2h1M89.8 373.4h1M101.5 375.3h1M96.0 381.5h1M85.4 351.9h1M97.9 350.9h1M100.3 368.5h1M98.3 346.4h1M86.4 369.0h1M84.2 369.6h1M85.3 385.5h1M76.1 379.5h1M87.7 364.8h1M93.0 360.5h1M94.0 369.3h1M88.1 353.6h1M108.7 336.3h1M85.4 377.4h1M88.2 360.9h1M96.0 380.0h1M80.9 364.9h1M113.7 362.9h1M93.8 364.4h1M106.6 353.0h1M82.0 372.3h1M108.9 340.9h1M123.0 355.2h1M86.1 372.7h1M91.6 359.8h1M92.1 363.9h1M98.4 356.8h1M79.9 373.1h1M103.0 367.1h1M98.1 351.9h1M86.3 365.9h1M63.2 369.1h1M78.7 354.9h1M90.9 368.5h1M106.0 364.5h1M88.9 370.9h1M83.9 376.1h1M111.0 376.9h1M88.9 345.2h1M99.5 354.1h1M81.6 340.9h1M108.3 360.9h1M96.1 353.9h1M71.9 371.7h1M96.1 362.0h1M97.0 348.6h1M93.9 362.3h1M110.3 353.8h1M87.5 364.1h1M113.2 378.6h1M83.4 377.2h1M97.4 369.4h1M78.6 351.0h1M79.1 363.7h1M74.6 363.9h1M92.7 355.4h1M99.3 361.6h1M77.6 351.5h1M80.7 372.5h1M91.1 381.2h1M98.7 351.9h1M73.7 359.6h1M105.7 354.2h1M72.8 370.1h1M91.6 351.9h1M92.9 344.2h1M104.1 349.3h1M79.8 349.9h1M83.3 364.9h1M66.4 352.6h1M111.0 369.2h1M87.0 354.7h1M86.8 362.9h1M88.1 364.1h1M103.1 372.6h1M88.2 352.4h1M107.8 356.6h1M74.5 385.6h1M106.4 362.8h1M88.7 368.1h1M92.1 362.1h1M94.8 372.9h1M97.4 371.5h1M99.8 353.8h1M96.4 361.7h1M66.9 353.8h1M95.0 366.8h1M88.5 356.3h1M88.5 344.1h1M95.1 364.0h1M87.4 354.0h1M103.5 353.0h1M81.0 369.1h1M109.6 333.6h1M92.5 375.2h1M85.1 374.7h1M111.8 373.6h1M106.3 356.6h1M102.5 345.3h1M111.4 355.3h1M94.6 351.8h1M98.3 369.0h1M91.8 349.5h1M94.2 363.5h1M90.0 370.3h1M103.0 337.0h1M114.1 350.7h1M90.7 357.1h1M90.4 362.8h1M84.4 359.2h1M74.0 372.3h1M92.4 377.8h1M86.3 363.2h1M90.9 358.2h1M80.3 365.4h1M73.4 376.9h1M91.4 341.6h1M116.9 357.9h1M69.0 375.1h1M91.0 361.4h1M109.0 366.8h1M86.8 380.9h1M74.0 365.7h1M90.5 356.0h1M90.3 362.7h1M95.0 381.2h1M113.7 354.4h1M109.3 350.5h1M97.8 352.5h1M86.7 352.0h1M87.7 360.3h1M98.6 347.8h1M82.4 348.7h1M122.9 374.0h1M102.6 345.2h1M89.3 370.3h1M99.9 353.0h1M110.4 350.2h1M106.6 367.4h1M88.0 376.7h1M88.6 360.1h1M91.1 366.2h1M91.5 354.8h1M96.4 365.6h1M78.7 345.0h1M105.0 359.0h1M98.3 334.5h1M91.7 372.8h1M74.5 366.7h1M92.4 349.5h1M101.1 374.1h1M104.0 368.3h1M84.3 362.9h1M91.4 349.8h1M76.8 355.6h1M103.6 350.0h1M107.7 341.7h1M89.9 378.8h1M67.3 382.9h1M81.2 352.1h1M91.3 370.6h1M97.8 363.0h1M103.8 377.8h1M100.9 360.6h1M133.3 359.0h1M86.2 362.4h1M82.5 351.1h1M97.7 356.4h1M72.7 372.6h1M105.4 360.6h1M84.6 361.1h1M84.2 381.5h1M87.4 371.8h1M88.8 339.1h1M110.9 368.5h1M111.6 359.1h1M106.8 371.9h1M80.0 355.5h1M102.1 360.6h1M100.4 374.2h1M127.6 358.3h1M65.6 365.3h1M109.2 345.4h1M99.1 349.8h1M99.6 360.0h1M88.9 354.4h1M81.5 353.7h1M80.4 362.2h1M85.6 386.8h1M128.1 366.8h1M113.0 369.3h1M101.0 355.2h1M106.8 373.4h1M79.0 384.4h1M91.5 363.6h1M100.9 369.3h1M114.7 366.2h1M78.6 359.8h1M95.4 355.8h1M88.1 356.4h1M90.4 353.5h1M78.6 354.0h1M99.3 360.1h1M96.9 363.3h1M83.2 390.3h1M110.0 356.5h1M123.0 353.3h1M79.7 358.3h1M104.5 348.5h1M76.3 355.1h1M83.4 355.6h1M108.7 339.9h1M94.6 356.0h1M111.5 351.0h1M100.5 363.8h1M106.7 355.8h1M98.4 372.0h1M109.3 349.3h1M115.8 351.3h1M113.6 376.3h1M103.2 390.6h1M95.0 371.2h1M87.2 372.6h1M103.8 361.0h1M94.4 347.0h1M90.8 372.5h1M112.4 367.8h1M86.9 362.4h1M110.6 341.2h1M96.0 341.8h1M118.7 361.1h1M88.8 369.1h1M86.5 372.5h1M67.0 360.2h1M99.1 351.6h1M82.7 369.3h1M106.8 346.8h1M99.0 364.5h1M105.2 359.1h1M81.3 370.8h1M91.5 370.6h1M99.0 363.3h1M102.0 354.1h1M79.8 368.3h1M91.6 346.4h1M81.7 359.7h1M105.1 357.6h1M104.6 383.7h1M100.1 377.6h1M103.2 363.9h1M110.7 358.2h1M99.8 375.7h1M111.4 357.7h1M83.8 367.7h1M102.2 366.2h1M83.8 370.8h1M98.6 361.7h1M89.1 374.6h1M100.6 369.9h1M103.3 359.4h1M83.4 366.1h1M81.5 383.1h1M104.4 382.0h1M106.6 367.6h1M95.6 356.2h1M94.0 382.9h1M100.2 348.5h1M95.5 369.6h1M103.6 356.3h1M89.8 375.1h1M97.6 354.2h1M108.6 354.3h1M86.3 363.3h1M102.6 382.0h1M98.8 351.8h1M110.4 374.3h1M101.4 363.1h1M91.6 358.5h1M79.1 374.3h1M93.0 358.0h1M80.3 369.3h1M96.1 361.1h1M73.7 384.9h1M106.4 344.1h1M111.0 340.0h1M103.4 364.5h1M90.8 376.1h1M91.1 362.6h1M109.5 363.6h1M102.2 357.0h1M83.5 359.6h1M105.5 348.7h1M96.0 344.5h1M99.2 354.9h1M97.1 374.2h1M100.0 370.3h1M84.8 362.3h1M87.7 344.1h1M90.0 370.0h1M113.4 363.2h1M88.7 349.7h1M98.6 362.3h1M95.6 354.1h1M93.5 350.7h1M84.8 380.6h1M111.7 357.5h1M99.5 366.9h1M86.7 361.3h1M81.3 362.9h1M90.5 371.4h1M85.8 361.5h1M105.0 378.6h1M84.1 365.0h1M95.0 358.8h1M97.1 361.6h1M95.3 380.1h1M120.7 349.3h1M99.8 373.0h1M91.7 347.4h1M98.2 364.5h1M94.8 365.5h1M103.6 359.3h1M108.1 348.9h1M94.2 362.4h1M83.1 363.4h1M106.4 367.5h1M65.7 366.6h1M99.7 366.1h1M89.4 357.1h1M97.8 358.5h1M73.0 362.8h1M90.9 366.2h1M91.5 382.5h1M95.3 376.5h1M103.0 361.0h1M85.9 351.6h1M90.8 370.4h1M108.2 354.7h1M88.9 351.5h1M75.6 380.9h1M82.0 366.8h1M98.3 357.6h1M103.1 365.4h1M96.4 359.4h1M92.6 351.8h1M79.6 359.3h1M95.7 366.5h1M66.7 344.5h1M83.9 365.2h1M86.2 371.3h1M89.3 374.8h1M96.2 374.0h1M88.1 357.1h1M100.8 393.9h1M107.6 357.5h1M96.8 378.2h1M112.7 354.7h1M106.0 356.9h1M88.0 382.5h1M109.7 366.2h1M72.6 360.7h1M113.6 358.8h1M98.3 361.1h1M85.2 372.3h1M66.0 369.8h1M83.8 354.8h1M74.7 363.7h1M103.8 351.2h1M77.7 366.2h1M98.0 375.3h1M93.1 348.4h1M97.4 368.2h1M101.8 369.6h1M93.5 368.2h1M106.4 365.8h1M81.8 365.6h1M96.9 353.2h1M74.3 359.6h1M96.7 363.0h1M84.7 376.0h1M93.4 367.1h1M106.8 370.1h1M111.7 362.0h1M63.9 357.0h1M89.7 375.2h1M85.8 373.7h1M104.4 350.0h1M83.2 366.6h1M98.0 352.0h1M92.9 374.5h1M83.7 382.2h1M88.6 350.9h1M85.0 376.8h1M102.8 359.6h1M102.2 356.2h1M118.5 371.4h1M83.9 371.6h1M115.0 359.1h1M102.1 352.5h1M75.8 377.7h1M130.3 369.3h1M108.7 345.6h1M95.8 392.9h1M99.9 365.0h1M82.8 378.2h1M95.8 369.8h1M96.2 362.4h1M96.1 351.0h1M89.4 376.5h1M96.9 369.1h1M79.9 362.8h1M95.7 356.5h1M97.8 352.8h1M93.2 360.0h1M108.1 358.3h1M105.0 363.0h1M100.7 365.3h1M102.3 347.9h1M72.5 358.0h1M83.4 345.9h1M79.7 384.1h1M95.1 365.7h1M88.8 366.4h1M104.1 359.6h1M95.0 376.4h1M75.7 348.0h1M85.2 350.5h1M93.5 365.8h1M102.1 364.2h1M84.4 369.1h1M83.6 383.9h1M78.1 376.7h1M102.9 349.1h1M71.5 356.7h1M84.3 358.4h1M75.1 358.9h1M109.3 367.2h1M104.6 396.1h1M100.6 343.2h1M85.3 366.3h1M97.8 362.3h1M93.8 343.5h1M109.8 365.8h1M85.8 379.7h1M93.8 372.5h1M84.8 349.4h1M68.8 366.7h1M111.3 374.9h1M89.8 346.0h1M99.7 360.0h1M76.4 368.5h1M100.2 369.2h1M89.2 343.7h1M103.3 352.8h1M81.4 354.9h1M106.9 368.0h1M112.3 344.5h1M88.8 365.4h1M90.7 368.1h1M94.8 372.8h1M81.2 379.3h1M96.2 376.3h1M115.7 358.9h1M83.9 369.6h1M88.9 359.4h1M115.6 369.8h1M105.8 369.1h1M99.9 367.5h1M99.0 380.3h1M94.4 366.7h1M95.7 365.7h1M102.8 360.7h1M92.9 359.2h1M99.7 348.8h1M69.2 368.1h1M101.8 355.6h1M85.2 361.4h1M98.5 370.5h1M94.4 374.6h1M98.0 353.4h1M89.9 359.0h1M89.7 339.5h1M86.4 370.6h1M101.5 371.1h1M106.3 352.8h1M109.0 360.3h1M94.9 373.7h1M146.0 358.0h1M142.8 352.3h1M108.0 372.9h1M102.3 358.7h1M132.0 372.0h1M99.5 360.0h1M109.7 390.2h1M145.8 349.2h1M118.9 390.4h1M136.3 392.6h1M132.6 390.2h1M104.7 351.4h1M137.0 370.2h1M137.4 372.2h1M99.7 397.1h1M147.8 373.9h1M104.3 350.4h1M123.2 386.0h1M123.6 378.6h1M123.0 403.5h1M149.7 350.3h1M107.9 366.7h1M140.2 371.5h1M143.8 370.2h1M106.4 383.2h1M99.1 382.4h1M112.2 378.1h1M101.3 380.8h1M102.5 351.1h1M141.2 359.5h1M100.3 375.4h1M112.5 368.4h1M102.9 387.7h1M106.2 349.4h1M126.6 367.3h1M145.3 350.8h1M143.4 362.5h1M104.8 402.8h1M141.4 352.8h1M143.3 360.1h1M111.7 351.6h1M109.6 384.3h1M117.6 371.5h1M138.7 388.7h1M149.6 380.4h1M126.5 363.8h1M119.7 359.4h1M117.5 350.6h1M121.9 375.5h1M111.4 413.5h1M135.0 379.5h1M128.7 352.9h1M116.8 365.3h1M135.0 350.0h1M108.5 363.5h1M118.9 375.4h1M130.8 410.8h1M137.0 350.1h1M102.4 368.0h1M104.4 385.7h1M138.7 397.2h1M137.7 351.5h1M109.7 373.3h1M118.8 377.5h1M133.8 365.2h1M124.9 357.4h1M138.8 382.6h1M109.5 390.9h1M120.4 362.5h1M115.8 379.6h1M141.7 355.3h1M115.8 356.8h1M136.1 387.9h1M121.2 369.7h1M108.2 380.1h1M131.0 357.4h1M107.1 369.9h1M105.0 368.9h1M142.8 376.1h1M144.7 350.8h1M116.8 357.4h1M117.6 385.0h1M129.8 377.2h1M130.5 374.2h1M128.8 356.8h1M112.6 367.7h1M114.4 361.7h1M143.5 352.9h1M147.1 351.6h1M112.9 362.6h1M129.9 354.7h1M135.0 366.5h1M110.6 364.7h1M148.2 378.9h1M121.8 352.3h1M125.1 366.3h1M116.9 361.1h1M119.3 382.2h1M103.5 350.0h1M146.8 349.9h1M143.8 385.8h1M138.2 361.6h1M149.9 372.6h1M143.2 362.2h1M130.4 350.3h1M100.2 353.2h1M147.9 350.6h1M138.8 358.5h1M126.1 356.8h1M124.6 408.7h1M131.1 396.2h1M136.1 376.3h1M127.0 352.7h1M117.0 382.9h1M103.0 380.3h1M119.3 379.9h1M103.8 353.6h1M118.4 370.3h1M143.6 357.3h1M139.8 352.6h1M124.9 363.0h1M134.3 374.2h1M120.8 361.3h1M127.6 359.6h1M144.3 363.2h1M147.8 390.2h1M113.3 354.0h1M138.1 354.4h1M118.5 356.8h1M122.1 377.9h1M119.4 366.7h1M107.3 385.6h1M110.6 353.9h1M143.7 351.0h1M128.3 354.2h1M107.0 379.0h1M149.3 359.1h1M138.7 364.4h1M137.9 372.8h1M126.7 384.8h1M129.6 385.5h1M106.4 379.8h1M108.2 357.6h1M132.9 386.7h1M133.1 381.4h1M119.2 384.8h1M140.6 376.4h1M110.5 398.5h1M116.2 364.1h1M106.3 344.9h1M112.3 362.6h1M99.2 374.5h1M132.3 360.3h1M108.1 366.6h1M117.8 366.7h1M123.0 364.1h1M121.1 371.8h1M119.1 377.5h1M111.1 342.5h1M117.2 361.2h1M112.8 368.5h1M92.2 354.4h1M125.0 348.0h1M108.7 375.8h1M109.8 364.1h1M110.9 357.5h1M101.1 367.6h1M102.9 356.0h1M96.9 371.2h1M119.7 366.0h1M126.8 361.1h1M115.7 356.2h1M103.5 359.7h1M128.0 366.2h1M111.8 363.4h1M99.0 379.1h1M96.1 340.8h1M116.8 363.7h1M129.4 362.7h1M111.1 357.7h1M108.6 354.9h1M112.2 357.0h1M106.5 366.2h1M109.5 375.0h1M117.5 361.6h1M107.7 367.3h1M124.3 365.0h1M105.2 360.1h1M122.0 357.9h1M118.4 348.4h1M111.1 361.4h1M112.0 375.6h1M111.7 354.8h1M131.7 351.7h1M106.8 374.9h1M126.8 354.6h1M125.0 358.4h1M111.6 365.0h1M131.1 358.5h1M91.1 356.6h1M117.4 354.7h1M116.2 349.7h1M115.1 360.2h1M123.3 360.1h1M110.9 338.3h1M113.1 369.7h1M126.4 362.6h1M113.8 363.3h1M104.6 353.2h1M120.6 350.1h1M114.1 372.0h1M109.3 349.0h1M120.5 370.8h1M107.2 336.6h1M105.1 366.1h1M112.3 350.1h1M113.0 362.5h1M115.5 353.7h1M102.9 366.8h1M132.1 358.9h1M121.7 359.9h1M116.4 359.2h1M117.2 352.9h1M89.9 364.0h1M124.2 363.0h1M104.7 371.9h1M120.0 361.3h1M103.0 364.5h1M124.8 352.1h1M109.6 354.0h1M112.8 366.6h1M130.2 356.1h1M124.8 348.2h1M101.2 362.0h1M107.9 370.6h1M116.9 337.9h1M112.6 355.1h1M123.0 353.7h1M108.1 337.5h1M96.2 367.3h1M105.8 357.3h1M113.1 377.1h1M120.4 355.6h1M122.4 356.5h1M127.4 367.1h1M117.3 367.7h1M112.9 361.6h1M122.2 362.1h1M113.9 345.8h1M110.2 362.3h1M110.3 361.5h1M124.2 361.6h1M129.8 374.5h1M128.1 364.5h1M98.9 372.2h1M125.9 358.9h1M103.7 379.8h1M111.5 370.2h1M120.8 357.8h1M101.6 379.0h1M102.7 374.1h1M107.4 351.1h1M131.8 372.1h1M125.7 360.2h1M105.9 357.3h1M116.3 369.6h1M116.3 375.3h1M118.1 346.3h1M107.8 365.1h1M129.3 355.4h1M111.1 366.9h1M123.1 356.8h1M98.1 371.9h1M118.9 372.5h1M116.4 369.5h1M128.5 365.7h1M89.0 365.7h1M120.5 363.1h1M123.1 356.2h1M112.3 364.9h1M128.1 351.7h1M136.0 366.1h1M123.8 354.1h1M123.0 348.3h1M128.4 344.4h1M119.3 378.0h1M127.2 344.5h1M120.9 376.0h1M108.1 347.3h1M104.4 360.2h1M126.7 356.9h1M120.9 368.6h1M108.3 351.6h1M115.2 353.9h1M129.6 365.1h1M97.8 365.6h1M105.9 352.3h1M121.9 350.8h1M123.2 353.1h1M103.2 363.5h1M105.0 360.0h1M116.6 351.6h1M129.0 352.5h1M115.1 349.9h1M91.7 358.8h1M125.3 366.4h1M114.7 357.5h1M110.4 356.0h1M103.3 364.8h1M126.9 356.0h1M117.6 367.6h1M119.0 357.7h1M118.5 365.5h1M119.3 341.0h1M123.3 349.3h1M132.1 357.7h1M104.3 371.9h1M114.2 371.1h1M139.2 335.1h1M118.4 367.3h1M150.0 359.7h1M69.9 409.5h1M137.9 338.3h1M162.4 314.5h1M59.7 350.1h1M174.2 340.3h1M63.3 335.1h1M144.1 392.2h1M120.6 348.6h1M93.6 321.6h1M98.5 326.6h1M60.3 402.5h1M147.7 357.5h1M58.6 328.4h1M172.3 359.0h1M173.4 318.2h1M157.1 359.3h1M71.4 332.5h1M131.1 348.6h1M154.3 409.3h1M105.0 359.7h1M107.3 388.0h1M152.0 342.1h1M58.5 327.4h1M101.4 344.5h1M158.1 329.5h1M152.9 362.5h1M168.1 380.7h1M160.9 335.4h1M80.2 384.1h1M168.0 362.9h1M86.1 394.2h1M122.6 390.5h1M125.7 410.5h1M137.1 382.2h1M131.1 313.1h1M83.8 344.1h1M161.1 350.1h1M74.0 402.9h1M146.0 402.2h1M56.5 330.1h1M164.3 405.7h1M162.3 351.9h1M143.6 307.8h1M143.2 307.1h1M122.5 307.2h1M133.9 308.3h1M126.0 306.9h1M144.4 306.6h1M156.9 307.0h1M132.2 307.2h1M161.4 308.1h1M128.7 306.9h1M89.7 307.4h1M136.9 307.7h1M113.2 307.4h1M149.2 307.3h1M109.7 307.4h1M141.1 306.7h1M101.7 306.5h1M141.4 307.2h1M137.3 306.5h1M145.2 306.5h1M87.8 307.2h1M124.2 307.0h1M149.9 306.5h1M123.9 307.4h1M110.4 307.8h1M150.5 306.6h1M143.9 306.9h1M123.5 307.3h1M158.2 307.4h1M144.1 307.3h1M171.6 306.6h1M142.2 308.0h1M169.0 307.0h1M149.1 306.8h1M124.2 307.2h1M85.8 307.5h1M149.0 306.7h1M122.3 307.4h1M160.1 306.7h1M161.9 307.0h1M157.5 307.3h1M132.7 308.5h1M140.0 306.8h1M140.8 306.5h1M123.8 306.5h1M120.0 307.0h1M170.1 307.9h1M85.1 306.8h1M160.5 306.8h1M96.4 306.7h1M94.8 306.8h1M152.0 306.6h1M86.3 307.0h1M142.5 307.4h1M106.0 306.9h1M159.7 307.6h1M134.1 306.8h1M105.0 307.2h1M135.8 307.1h1M148.8 307.0h1M158.8 306.5h1M86.7 306.8h1M165.5 306.6h1M156.8 306.8h1M105.2 306.6h1M137.4 307.4h1M130.6 306.7h1M137.7 306.8h1M106.3 306.7h1M165.3 306.7h1" stroke="#000" stroke-width="1" fill="none"/>
<rect x="74.00" y="309.80" width="97.00" height="40.20" fill="none" stroke="#333" stroke-width="1" shape-rendering="crispEdges"/>
<rect x="100.50" y="350.00" width="53.30" height="49.00" fill="none" stroke="#333" stroke-width="1" shape-rendering="crispEdges"/>
<line x1="72.3" y1="418" x2="72.3" y2="423" stroke="#222" stroke-width="1"/>
<text x="68.1" y="430.2" font-size="5.6" font-weight="normal" stroke="#000" stroke-width="0.25">10<tspan font-size="4" dy="-2.5">2</tspan></text>
<line x1="103.4" y1="418" x2="103.4" y2="423" stroke="#222" stroke-width="1"/>
<text x="99.2" y="430.2" font-size="5.6" font-weight="normal" stroke="#000" stroke-width="0.25">10<tspan font-size="4" dy="-2.5">3</tspan></text>
<line x1="134.5" y1="418" x2="134.5" y2="423" stroke="#222" stroke-width="1"/>
<text x="130.3" y="430.2" font-size="5.6" font-weight="normal" stroke="#000" stroke-width="0.25">10<tspan font-size="4" dy="-2.5">4</tspan></text>
<line x1="165.6" y1="418" x2="165.6" y2="423" stroke="#222" stroke-width="1"/>
<text x="161.4" y="430.2" font-size="5.6" font-weight="normal" stroke="#000" stroke-width="0.25">10<tspan font-size="4" dy="-2.5">5</tspan></text>
<line x1="56.0" y1="418" x2="56.0" y2="421" stroke="#333" stroke-width="0.8"/>
<line x1="59.9" y1="418" x2="59.9" y2="421" stroke="#333" stroke-width="0.8"/>
<line x1="62.9" y1="418" x2="62.9" y2="421" stroke="#333" stroke-width="0.8"/>
<line x1="65.4" y1="418" x2="65.4" y2="421" stroke="#333" stroke-width="0.8"/>
<line x1="67.5" y1="418" x2="67.5" y2="421" stroke="#333" stroke-width="0.8"/>
<line x1="69.3" y1="418" x2="69.3" y2="421" stroke="#333" stroke-width="0.8"/>
<line x1="70.9" y1="418" x2="70.9" y2="421" stroke="#333" stroke-width="0.8"/>
<line x1="81.7" y1="418" x2="81.7" y2="421" stroke="#333" stroke-width="0.8"/>
<line x1="87.1" y1="418" x2="87.1" y2="421" stroke="#333" stroke-width="0.8"/>
<line x1="91.0" y1="418" x2="91.0" y2="421" stroke="#333" stroke-width="0.8"/>
<line x1="94.0" y1="418" x2="94.0" y2="421" stroke="#333" stroke-width="0.8"/>
<line x1="96.5" y1="418" x2="96.5" y2="421" stroke="#333" stroke-width="0.8"/>
<line x1="98.6" y1="418" x2="98.6" y2="421" stroke="#333" stroke-width="0.8"/>
<line x1="100.4" y1="418" x2="100.4" y2="421" stroke="#333" stroke-width="0.8"/>
<line x1="102.0" y1="418" x2="102.0" y2="421" stroke="#333" stroke-width="0.8"/>
<line x1="112.8" y1="418" x2="112.8" y2="421" stroke="#333" stroke-width="0.8"/>
<line x1="118.2" y1="418" x2="118.2" y2="421" stroke="#333" stroke-width="0.8"/>
<line x1="122.1" y1="418" x2="122.1" y2="421" stroke="#333" stroke-width="0.8"/>
<line x1="125.1" y1="418" x2="125.1" y2="421" stroke="#333" stroke-width="0.8"/>
<line x1="127.6" y1="418" x2="127.6" y2="421" stroke="#333" stroke-width="0.8"/>
<line x1="129.7" y1="418" x2="129.7" y2="421" stroke="#333" stroke-width="0.8"/>
<line x1="131.5" y1="418" x2="131.5" y2="421" stroke="#333" stroke-width="0.8"/>
<line x1="133.1" y1="418" x2="133.1" y2="421" stroke="#333" stroke-width="0.8"/>
<line x1="143.9" y1="418" x2="143.9" y2="421" stroke="#333" stroke-width="0.8"/>
<line x1="149.3" y1="418" x2="149.3" y2="421" stroke="#333" stroke-width="0.8"/>
<line x1="153.2" y1="418" x2="153.2" y2="421" stroke="#333" stroke-width="0.8"/>
<line x1="156.2" y1="418" x2="156.2" y2="421" stroke="#333" stroke-width="0.8"/>
<line x1="158.7" y1="418" x2="158.7" y2="421" stroke="#333" stroke-width="0.8"/>
<line x1="160.8" y1="418" x2="160.8" y2="421" stroke="#333" stroke-width="0.8"/>
<line x1="162.6" y1="418" x2="162.6" y2="421" stroke="#333" stroke-width="0.8"/>
<line x1="164.2" y1="418" x2="164.2" y2="421" stroke="#333" stroke-width="0.8"/>
<line x1="175.0" y1="418" x2="175.0" y2="421" stroke="#333" stroke-width="0.8"/>
<line x1="50.5" y1="403" x2="55.5" y2="403" stroke="#222" stroke-width="1"/>
<text x="46.7" y="407.5" font-size="5.6" transform="rotate(-90 46.7 407.5)" font-weight="normal" stroke="#000" stroke-width="0.25">10<tspan font-size="4" dy="-2.5">2</tspan></text>
<line x1="50.5" y1="374.5" x2="55.5" y2="374.5" stroke="#222" stroke-width="1"/>
<text x="46.7" y="379.0" font-size="5.6" transform="rotate(-90 46.7 379.0)" font-weight="normal" stroke="#000" stroke-width="0.25">10<tspan font-size="4" dy="-2.5">3</tspan></text>
<line x1="50.5" y1="346" x2="55.5" y2="346" stroke="#222" stroke-width="1"/>
<text x="46.7" y="350.5" font-size="5.6" transform="rotate(-90 46.7 350.5)" font-weight="normal" stroke="#000" stroke-width="0.25">10<tspan font-size="4" dy="-2.5">4</tspan></text>
<line x1="50.5" y1="317.5" x2="55.5" y2="317.5" stroke="#222" stroke-width="1"/>
<text x="46.7" y="322.0" font-size="5.6" transform="rotate(-90 46.7 322.0)" font-weight="normal" stroke="#000" stroke-width="0.25">10<tspan font-size="4" dy="-2.5">5</tspan></text>
<line x1="52.5" y1="417.9" x2="55.5" y2="417.9" stroke="#333" stroke-width="0.8"/>
<line x1="52.5" y1="414.3" x2="55.5" y2="414.3" stroke="#333" stroke-width="0.8"/>
<line x1="52.5" y1="411.6" x2="55.5" y2="411.6" stroke="#333" stroke-width="0.8"/>
<line x1="52.5" y1="409.3" x2="55.5" y2="409.3" stroke="#333" stroke-width="0.8"/>
<line x1="52.5" y1="407.4" x2="55.5" y2="407.4" stroke="#333" stroke-width="0.8"/>
<line x1="52.5" y1="405.8" x2="55.5" y2="405.8" stroke="#333" stroke-width="0.8"/>
<line x1="52.5" y1="404.3" x2="55.5" y2="404.3" stroke="#333" stroke-width="0.8"/>
<line x1="52.5" y1="394.4" x2="55.5" y2="394.4" stroke="#333" stroke-width="0.8"/>
<line x1="52.5" y1="389.4" x2="55.5" y2="389.4" stroke="#333" stroke-width="0.8"/>
<line x1="52.5" y1="385.8" x2="55.5" y2="385.8" stroke="#333" stroke-width="0.8"/>
<line x1="52.5" y1="383.1" x2="55.5" y2="383.1" stroke="#333" stroke-width="0.8"/>
<line x1="52.5" y1="380.8" x2="55.5" y2="380.8" stroke="#333" stroke-width="0.8"/>
<line x1="52.5" y1="378.9" x2="55.5" y2="378.9" stroke="#333" stroke-width="0.8"/>
<line x1="52.5" y1="377.3" x2="55.5" y2="377.3" stroke="#333" stroke-width="0.8"/>
<line x1="52.5" y1="375.8" x2="55.5" y2="375.8" stroke="#333" stroke-width="0.8"/>
<line x1="52.5" y1="365.9" x2="55.5" y2="365.9" stroke="#333" stroke-width="0.8"/>
<line x1="52.5" y1="360.9" x2="55.5" y2="360.9" stroke="#333" stroke-width="0.8"/>
<line x1="52.5" y1="357.3" x2="55.5" y2="357.3" stroke="#333" stroke-width="0.8"/>
<line x1="52.5" y1="354.6" x2="55.5" y2="354.6" stroke="#333" stroke-width="0.8"/>
<line x1="52.5" y1="352.3" x2="55.5" y2="352.3" stroke="#333" stroke-width="0.8"/>
<line x1="52.5" y1="350.4" x2="55.5" y2="350.4" stroke="#333" stroke-width="0.8"/>
<line x1="52.5" y1="348.8" x2="55.5" y2="348.8" stroke="#333" stroke-width="0.8"/>
<line x1="52.5" y1="347.3" x2="55.5" y2="347.3" stroke="#333" stroke-width="0.8"/>
<line x1="52.5" y1="337.4" x2="55.5" y2="337.4" stroke="#333" stroke-width="0.8"/>
<line x1="52.5" y1="332.4" x2="55.5" y2="332.4" stroke="#333" stroke-width="0.8"/>
<line x1="52.5" y1="328.8" x2="55.5" y2="328.8" stroke="#333" stroke-width="0.8"/>
<line x1="52.5" y1="326.1" x2="55.5" y2="326.1" stroke="#333" stroke-width="0.8"/>
<line x1="52.5" y1="323.8" x2="55.5" y2="323.8" stroke="#333" stroke-width="0.8"/>
<line x1="52.5" y1="321.9" x2="55.5" y2="321.9" stroke="#333" stroke-width="0.8"/>
<line x1="52.5" y1="320.3" x2="55.5" y2="320.3" stroke="#333" stroke-width="0.8"/>
<line x1="52.5" y1="318.8" x2="55.5" y2="318.8" stroke="#333" stroke-width="0.8"/>
<line x1="52.5" y1="308.9" x2="55.5" y2="308.9" stroke="#333" stroke-width="0.8"/>
<text x="145.5" y="326.6" font-size="12.5" stroke="#000" stroke-width="0.45">T2+</text>
<text x="145.5" y="341.9" font-size="12.5" stroke="#000" stroke-width="0.45">MB</text>
<text x="135.2" y="373.2" font-size="12.5" stroke="#000" stroke-width="0.45">T1</text>
<text x="183.2" y="336.4" font-size="12.3" textLength="35.5" lengthAdjust="spacingAndGlyphs" stroke="#000" stroke-width="0.45">36.7%</text>
<text x="186.2" y="381.4" font-size="12.3" textLength="27.5" lengthAdjust="spacingAndGlyphs" stroke="#000" stroke-width="0.45">7.5%</text>
<rect x="240.30" y="304.60" width="122.30" height="112.70" fill="#fff" stroke="#222" stroke-width="1"/>
<path d="M269.7 387.6h1M269.5 370.3h1M268.9 371.5h1M266.1 391.3h1M264.9 387.5h1M260.6 386.4h1M275.2 385.8h1M269.3 388.5h1M268.6 377.3h1M258.1 401.2h1M279.4 376.8h1M271.4 391.0h1M274.7 383.9h1M264.9 385.4h1M268.0 391.4h1M274.9 387.0h1M275.2 382.5h1M261.2 382.7h1M266.4 387.0h1M274.1 383.3h1M261.8 392.0h1M256.8 395.7h1M270.1 383.4h1M269.2 396.3h1M254.6 398.9h1M263.3 392.7h1M262.3 387.3h1M264.4 398.6h1M255.1 393.8h1M269.7 387.6h1M279.1 385.2h1M262.3 384.3h1M264.7 393.1h1M269.3 382.7h1M273.1 382.0h1M262.7 385.4h1M268.1 379.5h1M271.3 376.0h1M264.4 385.9h1M267.7 396.8h1M275.4 388.9h1M269.0 384.2h1M278.1 381.6h1M258.2 394.1h1M263.2 390.6h1M266.9 396.4h1M260.0 401.5h1M272.3 388.9h1M274.2 385.4h1M263.9 392.2h1M274.9 374.9h1M269.2 376.9h1M275.1 384.9h1M272.4 385.3h1M269.4 375.4h1M256.6 393.2h1M271.3 381.6h1M279.2 389.1h1M259.7 401.7h1M269.8 383.6h1M268.2 390.0h1M266.9 375.3h1M264.9 389.3h1M267.0 385.8h1M273.6 387.3h1M265.6 395.6h1M274.0 384.3h1M269.3 389.0h1M271.9 383.8h1M263.5 389.1h1M274.3 378.3h1M268.8 379.4h1M271.1 391.7h1M271.5 381.5h1M275.4 377.1h1M274.7 369.5h1M258.5 398.1h1M272.7 379.4h1M273.6 385.6h1M266.1 385.9h1M260.3 392.4h1M278.1 379.6h1M261.2 396.5h1M271.8 382.7h1M274.6 375.8h1M261.2 401.0h1M263.3 386.1h1M260.6 396.6h1M263.7 379.3h1M273.3 371.8h1M282.4 373.6h1M258.4 400.7h1M256.7 383.4h1M270.6 379.8h1M276.5 373.9h1M272.1 384.8h1M263.6 392.1h1M267.4 382.1h1M266.0 384.8h1M269.3 390.3h1M259.4 388.0h1M269.6 382.9h1M273.0 387.1h1M264.3 384.3h1M267.1 388.6h1M257.3 393.2h1M266.6 391.5h1M274.7 377.1h1M271.8 392.5h1M257.5 395.4h1M281.4 381.6h1M270.9 382.3h1M289.5 379.2h1M268.6 386.3h1M262.8 387.6h1M257.1 395.2h1M272.9 373.8h1M288.0 371.8h1M257.8 387.7h1M258.8 386.4h1M275.6 385.8h1M265.1 394.6h1M268.0 390.0h1M265.8 389.0h1M268.7 384.6h1M282.8 386.0h1M266.3 384.6h1M274.8 380.9h1M268.4 392.4h1M267.2 381.5h1M255.2 402.4h1M255.1 393.3h1M271.5 379.4h1M265.2 391.5h1M268.1 379.1h1M269.0 380.4h1M278.1 378.8h1M278.3 385.5h1M276.3 381.0h1M265.4 385.5h1M264.2 392.1h1M257.8 386.5h1M264.0 389.2h1M260.1 393.8h1M263.2 389.2h1M270.2 389.7h1M270.0 385.1h1M267.9 390.8h1M262.8 406.7h1M273.1 392.2h1M267.2 382.8h1M276.4 380.3h1M272.1 382.9h1M268.4 395.3h1M265.1 393.2h1M278.6 370.3h1M272.6 381.0h1M281.5 375.3h1M277.1 367.3h1M262.9 392.4h1M271.6 384.9h1M267.4 380.0h1M277.0 387.6h1M269.8 381.2h1M272.8 388.3h1M271.6 387.6h1M260.4 398.9h1M266.5 387.3h1M262.8 391.4h1M267.9 384.8h1M264.3 389.2h1M267.7 378.2h1M268.1 375.9h1M267.8 382.3h1M267.7 382.1h1M269.8 387.0h1M268.5 392.8h1M265.1 386.0h1M264.7 389.9h1M267.9 381.3h1M273.8 391.7h1M263.5 374.7h1M263.3 399.4h1M273.7 380.2h1M260.0 388.9h1M267.5 395.6h1M268.4 389.5h1M270.6 396.3h1M274.3 388.6h1M270.3 396.1h1M260.8 393.6h1M261.6 391.5h1M277.5 378.3h1M264.4 382.6h1M256.1 390.6h1M268.1 386.5h1M258.6 398.0h1M280.4 374.9h1M259.5 398.4h1M267.1 379.4h1M270.8 382.0h1M259.6 397.5h1M270.7 385.1h1M272.8 378.0h1M272.3 384.4h1M268.7 383.8h1M274.3 380.0h1M264.9 381.5h1M266.6 380.8h1M271.6 391.5h1M272.6 382.6h1M259.7 391.0h1M274.5 382.3h1M262.2 387.7h1M259.9 393.1h1M268.5 382.2h1M279.2 374.9h1M273.3 378.9h1M263.0 388.6h1M277.1 385.9h1M267.9 392.3h1M270.3 390.3h1M263.4 381.0h1M252.0 401.7h1M268.1 384.1h1M260.8 393.1h1M265.1 392.8h1M260.7 398.9h1M255.5 394.6h1M263.0 394.1h1M268.5 376.2h1M278.2 374.3h1M267.5 386.4h1M275.7 379.5h1M266.5 388.5h1M255.5 399.7h1M264.3 381.1h1M263.7 376.7h1M268.8 392.8h1M269.2 383.6h1M269.5 380.5h1M265.2 395.1h1M260.4 398.6h1M268.0 389.3h1M274.0 394.9h1M263.7 387.1h1M274.5 379.8h1M279.4 374.8h1M265.0 389.1h1M271.7 380.9h1M266.9 373.3h1M272.0 381.0h1M272.2 376.8h1M267.1 390.7h1M271.7 380.3h1M282.1 373.3h1M273.6 381.3h1M266.7 393.4h1M274.4 384.6h1M274.7 376.4h1M268.1 381.8h1M262.9 389.1h1M280.0 377.7h1M258.9 394.2h1M279.0 390.3h1M264.9 383.9h1M260.3 394.9h1M275.0 377.2h1M266.6 380.7h1M261.7 395.8h1M268.9 379.5h1M266.5 390.7h1M253.9 398.1h1M264.7 392.4h1M268.7 383.7h1M267.6 377.9h1M271.0 387.2h1M270.1 387.9h1M272.0 384.1h1M265.6 387.0h1M267.1 370.4h1M270.7 387.1h1M276.1 390.3h1M273.4 384.5h1M266.0 398.3h1M265.0 393.0h1M277.8 375.8h1M273.0 386.8h1M268.2 390.3h1M275.9 389.4h1M264.2 389.2h1M272.0 386.6h1M260.2 387.9h1M266.5 381.5h1M260.4 399.9h1M277.7 378.2h1M264.4 389.8h1M255.3 395.2h1M271.6 392.8h1M265.7 389.2h1M263.1 380.0h1M260.7 394.6h1M269.8 383.0h1M291.4 361.2h1M263.3 398.7h1M267.1 381.3h1M265.0 387.8h1M268.6 384.6h1M253.9 396.9h1M258.0 392.1h1M276.7 388.6h1M266.1 385.3h1M280.3 376.7h1M262.8 390.8h1M271.2 387.2h1M289.4 368.6h1M260.0 389.0h1M262.0 392.7h1M268.5 387.4h1M268.5 387.5h1M273.1 380.3h1M268.7 385.5h1M270.2 398.4h1M271.9 387.4h1M285.7 368.7h1M273.8 375.4h1M245.6 401.8h1M269.8 390.0h1M256.2 386.9h1M271.6 381.7h1M265.2 386.1h1M282.0 374.4h1M275.7 381.6h1M269.1 376.0h1M269.7 385.6h1M267.8 386.9h1M266.4 380.6h1M270.9 372.3h1M275.8 386.9h1M266.1 389.3h1M276.1 377.4h1M263.4 379.7h1M259.7 379.7h1M262.8 391.9h1M262.9 389.1h1M260.9 388.2h1M246.1 402.3h1M275.3 380.1h1M268.8 379.8h1M268.5 389.7h1M282.7 386.6h1M274.8 387.1h1M269.4 383.0h1M249.3 401.2h1M273.1 394.3h1M276.7 387.7h1M278.2 375.1h1M290.0 383.1h1M275.2 374.7h1M257.0 391.3h1M262.6 410.0h1M269.0 380.0h1M268.4 386.5h1M269.5 375.4h1M266.0 386.2h1M269.8 385.3h1M257.5 396.2h1M267.6 380.3h1M264.1 388.7h1M269.7 383.6h1M275.0 387.1h1M265.3 385.6h1M269.5 383.8h1M261.8 380.9h1M272.5 380.9h1M271.1 382.9h1M266.0 391.7h1M261.5 388.1h1M279.5 374.6h1M269.1 388.8h1M269.1 374.6h1M264.6 378.2h1M265.3 391.3h1M265.9 394.2h1M264.9 382.0h1M271.8 386.7h1M262.8 373.7h1M259.8 395.3h1M260.7 387.4h1M270.9 390.5h1M278.0 375.1h1M248.9 399.3h1M269.0 381.8h1M265.7 391.4h1M262.8 376.0h1M262.1 387.4h1M270.6 384.2h1M279.5 376.9h1M270.7 384.4h1M266.2 379.2h1M272.3 385.7h1M262.6 391.2h1M273.6 384.6h1M262.3 383.9h1M262.8 392.2h1M264.6 383.8h1M264.3 386.0h1M274.2 382.5h1M265.1 384.3h1M261.2 387.0h1M280.5 379.2h1M271.8 377.2h1M264.8 367.0h1M272.4 382.7h1M264.8 385.0h1M268.9 392.8h1M264.3 386.7h1M275.5 381.2h1M265.9 383.1h1M258.1 396.5h1M270.9 389.7h1M254.9 392.7h1M269.3 385.5h1M262.9 397.3h1M259.1 394.6h1M271.3 388.0h1M265.8 385.5h1M257.0 397.8h1M273.5 381.9h1M279.5 369.1h1M261.9 400.0h1M276.3 370.6h1M269.3 396.6h1M259.3 384.8h1M265.8 386.8h1M259.0 396.9h1M278.2 379.2h1M269.0 381.0h1M263.1 391.7h1M266.3 388.5h1M254.5 393.6h1M266.6 389.7h1M274.3 380.2h1M255.1 396.7h1M261.4 386.0h1M268.9 385.5h1M273.8 378.3h1M276.1 376.5h1M262.3 387.1h1M258.1 386.9h1M273.3 385.6h1M265.6 389.0h1M265.7 388.3h1M272.7 376.8h1M273.8 370.0h1M269.3 384.3h1M265.6 386.8h1M267.7 378.8h1M259.2 402.8h1M269.8 388.4h1M262.1 394.7h1M283.0 369.5h1M271.5 380.4h1M270.1 386.6h1M260.8 382.3h1M253.4 405.6h1M272.8 381.7h1M274.7 371.6h1M260.4 388.9h1M272.0 381.4h1M271.0 380.0h1M255.0 394.4h1M273.6 379.6h1M274.3 374.8h1M271.9 387.1h1M266.9 386.3h1M277.8 385.4h1M260.3 399.4h1M271.7 388.8h1M270.5 375.1h1M261.0 396.1h1M273.1 378.3h1M267.7 391.7h1M254.7 401.1h1M267.8 387.6h1M263.9 395.3h1M267.0 381.4h1M265.2 399.1h1M272.4 377.0h1M254.5 383.5h1M272.5 386.0h1M263.7 390.2h1M270.4 392.9h1M275.4 377.9h1M274.4 389.7h1M263.1 387.1h1M261.1 396.3h1M280.9 383.5h1M276.5 384.9h1M270.5 393.1h1M270.2 385.3h1M258.4 390.9h1M262.4 394.4h1M266.0 395.4h1M272.6 386.2h1M269.3 383.9h1M270.5 398.5h1M270.7 379.4h1M271.6 379.7h1M276.6 392.3h1M270.8 375.6h1M271.1 393.1h1M267.8 387.7h1M267.2 379.6h1M272.7 391.4h1M278.8 386.2h1M263.2 398.3h1M280.5 379.6h1M263.2 392.2h1M268.4 389.1h1M260.5 397.4h1M273.3 383.6h1M276.7 378.1h1M277.5 381.4h1M272.3 379.6h1M257.8 397.2h1M266.0 394.8h1M259.2 384.3h1M265.8 396.6h1M272.8 376.4h1M271.4 387.3h1M266.6 385.5h1M269.4 381.5h1M259.0 390.5h1M257.5 388.5h1M264.8 394.9h1M262.1 374.5h1M268.8 382.8h1M274.1 384.7h1M279.1 382.8h1M251.7 388.9h1M259.0 385.4h1M268.8 385.3h1M256.7 393.5h1M260.2 386.2h1M274.0 379.0h1M276.3 379.9h1M274.9 378.9h1M265.4 383.5h1M266.3 387.7h1M278.6 382.4h1M263.0 386.7h1M275.4 389.0h1M278.7 379.3h1M261.5 385.2h1M263.1 389.8h1M267.0 385.7h1M271.3 381.8h1M267.6 379.9h1M268.9 385.3h1M277.5 388.1h1M256.6 396.7h1M271.8 401.2h1M275.3 391.2h1M256.8 388.1h1M255.8 392.6h1M261.4 396.0h1M262.1 392.9h1M266.3 387.3h1M258.0 390.5h1M271.7 386.9h1M281.5 377.1h1M268.8 389.2h1M275.6 377.0h1M268.8 383.5h1M261.8 395.2h1M263.7 385.9h1M264.6 396.1h1M273.0 381.2h1M262.5 396.3h1M279.5 380.1h1M267.7 378.7h1M255.7 401.3h1M276.0 383.8h1M277.7 375.4h1M265.8 394.7h1M272.3 377.7h1M253.5 396.3h1M266.2 381.5h1M260.3 400.9h1M271.4 383.4h1M250.4 393.3h1M251.4 405.2h1M266.4 379.8h1M277.8 365.9h1M268.3 394.5h1M269.3 377.0h1M266.1 383.3h1M262.9 386.0h1M266.4 377.1h1M277.0 373.5h1M259.5 394.6h1M269.5 380.6h1M271.1 384.9h1M257.0 394.7h1M284.5 381.0h1M275.0 367.7h1M263.3 394.5h1M277.3 372.6h1M267.2 385.0h1M266.4 387.1h1M277.2 375.5h1M269.0 384.5h1M275.0 388.8h1M279.3 377.3h1M272.4 373.8h1M276.8 383.1h1M262.0 399.1h1M250.9 391.0h1M271.3 374.9h1M256.9 388.2h1M268.8 385.3h1M260.0 393.0h1M264.2 385.3h1M257.7 393.5h1M278.6 375.2h1M265.8 397.7h1M269.3 389.3h1M271.3 392.0h1M270.7 373.3h1M259.9 397.4h1M268.2 387.1h1M265.6 386.9h1M271.2 382.6h1M269.2 381.5h1M266.8 391.4h1M274.2 389.1h1M259.9 383.8h1M273.1 385.2h1M268.7 388.5h1M266.1 393.2h1M269.4 388.2h1M270.2 383.8h1M280.2 368.4h1M268.0 392.9h1M268.9 383.4h1M279.5 378.2h1M250.7 397.3h1M260.4 402.1h1M259.9 394.4h1M264.9 385.1h1M287.9 373.4h1M270.1 383.4h1M275.3 377.6h1M269.0 390.3h1M252.6 404.2h1M249.8 399.6h1M273.7 378.6h1M270.4 386.3h1M260.1 396.0h1M273.8 377.4h1M254.0 393.4h1M272.8 376.2h1M275.0 374.2h1M258.1 387.2h1M265.5 398.6h1M277.9 384.7h1M267.9 400.6h1M270.9 378.0h1M267.3 401.4h1M273.3 381.0h1M266.2 383.6h1M269.5 393.5h1M264.2 394.6h1M270.3 385.6h1M253.4 397.5h1M270.9 392.8h1M264.4 388.3h1M270.2 379.7h1M259.4 394.8h1M278.6 374.1h1M262.1 385.0h1M259.9 393.7h1M277.0 376.9h1M279.8 375.9h1M264.7 385.9h1M263.1 393.5h1M266.1 384.5h1M263.2 391.0h1M262.5 385.4h1M280.5 377.9h1M270.3 383.5h1M267.8 384.5h1M268.9 382.9h1M264.1 383.6h1M272.2 379.5h1M270.9 377.8h1M259.5 383.4h1M266.1 383.3h1M286.9 372.8h1M275.1 387.7h1M264.7 385.9h1M282.4 373.3h1M267.2 385.6h1M261.4 394.6h1M268.3 378.0h1M258.5 389.3h1M268.2 393.2h1M269.3 383.4h1M268.1 388.2h1M267.1 395.6h1M262.4 388.5h1M264.6 391.0h1M274.2 377.1h1M255.7 384.4h1M260.2 386.7h1M277.8 369.2h1M265.7 391.5h1M281.3 379.5h1M272.7 373.8h1M267.9 388.4h1M258.7 396.2h1M272.1 384.4h1M272.0 381.5h1M266.9 372.9h1M269.4 386.9h1M276.7 378.9h1M276.4 376.3h1M260.3 393.0h1M281.0 380.0h1M274.6 390.4h1M266.1 392.1h1M266.6 389.3h1M282.6 375.7h1M277.5 382.6h1M259.3 401.7h1M269.8 387.1h1M267.5 387.9h1M271.9 392.4h1M266.4 391.7h1M257.5 395.7h1M274.0 380.9h1M266.2 397.0h1M266.8 390.2h1M264.2 390.8h1M261.0 389.4h1M277.9 386.1h1M268.5 381.9h1M265.1 392.6h1M261.3 392.6h1M262.9 387.9h1M277.0 382.4h1M271.4 388.0h1M270.0 385.3h1M263.7 386.8h1M268.1 389.9h1M273.8 389.1h1M258.3 401.4h1M277.4 374.3h1M259.4 388.8h1M266.0 392.0h1M277.8 378.2h1M270.1 385.6h1M268.8 386.7h1M267.2 393.4h1M259.4 398.7h1M268.7 384.7h1M275.6 378.0h1M262.2 392.8h1M280.0 380.0h1M262.5 396.0h1M265.6 393.8h1M268.2 380.1h1M263.7 382.5h1M271.6 380.8h1M258.4 387.2h1M262.3 394.6h1M256.9 400.4h1M264.3 398.7h1M260.5 393.4h1M260.3 397.8h1M269.8 384.2h1M262.3 389.8h1M256.0 401.1h1M287.6 372.6h1M262.8 392.5h1M260.2 395.5h1M276.1 377.9h1M273.6 376.6h1M261.3 395.2h1M259.4 397.6h1M256.3 388.6h1M272.1 375.7h1M266.4 389.0h1M265.7 394.9h1M269.3 388.0h1M274.7 377.1h1M256.5 393.8h1M258.3 382.4h1M259.9 396.9h1M281.7 371.0h1M280.9 374.9h1M274.0 379.7h1M268.4 388.6h1M275.6 385.0h1M251.3 398.2h1M269.4 384.3h1M255.5 392.2h1M261.0 397.2h1M262.7 390.7h1M263.8 387.1h1M277.4 387.8h1M276.6 385.4h1M267.4 382.6h1M261.6 392.8h1M278.0 387.0h1M269.5 389.4h1M278.8 381.3h1M263.5 394.2h1M245.4 401.3h1M266.6 391.4h1M275.8 365.8h1M271.8 383.9h1M268.9 389.9h1M268.9 375.9h1M268.3 380.3h1M266.8 379.4h1M258.7 384.5h1M265.2 382.9h1M265.5 381.6h1M269.0 395.8h1M263.2 396.5h1M267.5 384.2h1M273.6 379.1h1M269.9 379.9h1M272.6 384.3h1M267.8 379.8h1M278.5 362.7h1M267.8 382.9h1M272.1 376.8h1M279.0 371.4h1M265.4 383.4h1M268.9 383.9h1M276.2 380.5h1M278.2 374.1h1M269.6 383.9h1M274.8 388.2h1M267.7 385.1h1M260.0 394.7h1M274.5 378.0h1M267.9 389.7h1M255.3 396.9h1M265.0 385.6h1M258.8 400.4h1M260.4 392.4h1M265.6 384.0h1M259.7 390.6h1M277.6 381.5h1M261.5 399.5h1M269.5 384.4h1M274.7 385.4h1M269.8 369.1h1M276.4 382.2h1M271.9 387.0h1M266.5 384.0h1M269.0 388.1h1M282.5 385.1h1M264.2 391.4h1M274.4 385.6h1M269.0 388.6h1M274.5 389.3h1M269.1 390.8h1M282.4 372.1h1M264.1 391.3h1M273.2 387.9h1M272.1 386.6h1M274.7 384.7h1M270.7 383.0h1M271.4 384.0h1M278.4 383.2h1M256.5 395.2h1M270.4 388.5h1M259.1 394.0h1M272.5 387.5h1M259.7 393.9h1M262.4 393.6h1M267.7 386.8h1M275.8 375.4h1M270.7 381.3h1M269.7 384.0h1M276.9 376.4h1M266.0 396.7h1M254.9 401.3h1M272.2 395.7h1M273.3 394.8h1M277.2 378.9h1M282.8 372.3h1M255.1 391.6h1M282.3 367.5h1M275.0 372.6h1M274.6 381.6h1M269.3 382.8h1M280.4 366.4h1M267.2 384.5h1M264.1 388.8h1M268.8 385.3h1M262.1 398.6h1M274.0 385.8h1M271.8 391.3h1M269.1 383.1h1M271.4 384.8h1M263.4 395.8h1M275.6 376.4h1M263.4 395.2h1M270.8 377.4h1M252.1 392.2h1M269.2 382.6h1M265.0 394.1h1M273.0 390.4h1M257.9 385.3h1M252.7 400.4h1M264.5 397.5h1M265.4 382.9h1M277.3 386.8h1M260.0 397.9h1M255.1 401.9h1M263.6 393.5h1M270.3 391.2h1M256.8 384.1h1M264.1 393.2h1M272.5 379.5h1M274.3 379.6h1M277.8 385.8h1M263.8 394.5h1M268.0 385.3h1M264.1 385.2h1M260.0 397.3h1M272.8 379.3h1M269.8 386.8h1M263.2 388.1h1M284.9 383.6h1M271.3 379.4h1M275.6 382.3h1M277.7 379.7h1M281.5 389.5h1M263.2 398.2h1M263.8 387.4h1M267.6 372.9h1M265.3 393.8h1M270.4 388.1h1M269.2 382.3h1M276.6 375.6h1M278.3 379.1h1M274.5 380.7h1M268.1 388.8h1M272.2 378.3h1M269.1 380.5h1M261.7 382.5h1M274.1 374.4h1M269.3 381.1h1M262.7 391.2h1M273.4 375.0h1M269.5 391.0h1M265.4 376.2h1M257.4 396.2h1M263.7 382.5h1M264.4 395.3h1M258.6 390.3h1M254.5 398.6h1M282.5 372.1h1M269.1 389.4h1M272.3 387.3h1M269.8 373.6h1M263.6 383.8h1M271.0 382.5h1M258.7 395.3h1M271.6 387.1h1M271.0 394.5h1M276.8 388.1h1M271.1 386.9h1M259.6 396.5h1M259.6 402.6h1M259.0 391.2h1M271.3 379.8h1M270.3 383.0h1M276.1 388.7h1M255.6 401.1h1M250.7 405.2h1M267.9 394.4h1M272.6 395.0h1M258.3 385.2h1M268.4 382.2h1M268.1 388.7h1M255.5 390.1h1M258.9 389.4h1M267.6 384.2h1M267.8 385.3h1M265.2 384.8h1M278.2 366.5h1M266.1 388.1h1M269.5 386.3h1M259.8 391.7h1M274.3 397.0h1M271.1 382.6h1M272.9 383.7h1M267.0 387.6h1M271.1 384.3h1M267.3 385.1h1M255.5 399.3h1M246.6 409.1h1M283.4 370.8h1M272.0 379.4h1M269.2 388.3h1M253.7 395.8h1M264.9 400.2h1M276.2 376.5h1M248.5 404.6h1M269.8 392.4h1M274.9 381.7h1M264.9 381.7h1M273.3 381.6h1M269.9 389.9h1M292.7 378.4h1M260.3 392.7h1M258.9 395.7h1M267.9 382.8h1M271.0 370.7h1M267.7 386.9h1M274.4 378.8h1M266.7 392.2h1M260.5 394.9h1M277.2 376.9h1M275.8 373.4h1M276.2 374.3h1M267.5 391.7h1M262.0 395.9h1M256.2 390.7h1M269.5 390.8h1M269.5 380.3h1M266.3 378.3h1M256.7 394.6h1M268.5 384.4h1M263.9 382.5h1M267.5 384.9h1M267.9 386.7h1M267.3 388.5h1M268.3 379.1h1M266.7 383.6h1M264.7 380.5h1M264.6 392.3h1M271.5 384.6h1M268.6 388.6h1M253.4 400.4h1M273.3 385.1h1M263.4 385.7h1M273.0 379.1h1M270.0 390.4h1M276.5 395.7h1M275.0 390.3h1M263.5 382.5h1M265.3 389.8h1M255.9 398.5h1M281.2 374.9h1M256.6 396.3h1M271.7 394.4h1M278.4 387.7h1M275.5 388.6h1M271.5 382.4h1M270.8 379.1h1M274.7 376.4h1M270.3 384.8h1M290.8 370.0h1M259.0 391.3h1M270.3 385.7h1M265.7 389.1h1M264.7 390.5h1M271.3 385.9h1M279.7 378.5h1M265.2 393.1h1M267.4 395.2h1M271.9 380.8h1M272.1 383.2h1M277.6 370.0h1M280.2 384.6h1M265.9 381.6h1M266.1 389.0h1M269.9 385.5h1M269.4 390.0h1M261.7 398.3h1M272.7 390.7h1M264.1 385.2h1M267.2 388.7h1M263.0 387.4h1M276.4 372.4h1M274.1 383.1h1M274.8 380.7h1M265.1 391.7h1M258.2 390.7h1M265.8 388.1h1M269.1 384.3h1M263.6 386.8h1M267.0 388.0h1M268.0 374.0h1M272.8 387.1h1M257.8 389.8h1M260.9 385.5h1M267.3 394.3h1M266.5 382.8h1M259.6 393.8h1M264.2 385.3h1M276.2 385.1h1M267.4 385.6h1M265.1 395.7h1M265.0 391.7h1M264.4 381.6h1M271.5 383.5h1M280.3 387.1h1M271.4 391.5h1M263.0 398.9h1M274.1 373.7h1M272.1 386.4h1M275.4 388.1h1M266.5 381.2h1M260.5 393.0h1M264.9 387.7h1M272.1 387.0h1M270.3 375.2h1M268.8 386.4h1M253.8 413.8h1M269.9 391.4h1M272.9 386.5h1M276.9 378.0h1M270.3 379.4h1M286.4 371.3h1M279.1 378.3h1M270.0 370.8h1M273.9 379.7h1M260.7 397.6h1M273.4 380.5h1M275.7 385.9h1M262.9 388.6h1M268.8 379.7h1M272.5 385.3h1M261.9 386.9h1M268.1 388.2h1M265.4 387.5h1M271.8 387.0h1M267.7 391.7h1M276.1 387.0h1M254.9 399.2h1M267.0 389.3h1M257.9 398.9h1M268.3 393.1h1M274.9 386.3h1M270.1 388.2h1M265.8 385.9h1M267.5 385.2h1M280.3 377.6h1M259.9 393.3h1M268.4 375.3h1M257.9 396.7h1M258.8 384.0h1M267.7 384.1h1M258.4 388.6h1M271.0 386.6h1M269.1 378.1h1M263.9 398.2h1M266.8 386.3h1M266.6 390.1h1M261.6 405.7h1M271.0 391.7h1M259.4 388.8h1M275.2 375.8h1M258.4 388.9h1M278.4 374.1h1M273.5 398.5h1M279.8 372.3h1M273.2 384.4h1M272.5 384.8h1M274.6 382.2h1M276.2 382.4h1M280.0 379.5h1M275.4 370.9h1M264.4 387.6h1M261.9 397.1h1M252.0 406.3h1M262.5 386.4h1M271.8 380.1h1M269.9 383.3h1M272.5 389.2h1M267.1 390.2h1M267.4 394.2h1M272.1 394.0h1M267.8 381.3h1M257.6 399.7h1M274.0 382.6h1M261.5 399.4h1M264.7 385.5h1M257.5 384.9h1M263.8 387.4h1M258.4 391.1h1M264.4 398.1h1M266.0 387.6h1M260.3 393.5h1M279.4 365.2h1M265.3 389.4h1M266.6 393.8h1M264.6 390.6h1M262.4 395.3h1M247.6 399.5h1M264.3 386.4h1M268.9 383.4h1M257.7 396.5h1M265.4 384.1h1M261.7 396.4h1M270.6 389.5h1M276.1 389.5h1M267.5 379.8h1M269.2 382.1h1M261.5 389.6h1M273.6 380.4h1M260.0 384.9h1M273.3 387.0h1M268.9 378.3h1M268.6 391.1h1M261.1 396.8h1M275.7 385.8h1M260.5 394.1h1M263.1 393.6h1M259.5 393.0h1M275.3 382.4h1M271.2 391.7h1M251.7 400.6h1M268.8 377.8h1M279.2 370.1h1M279.8 374.3h1M263.1 389.4h1M273.7 391.0h1M272.3 384.0h1M270.2 377.1h1M266.8 385.1h1M263.5 396.7h1M270.3 378.9h1M272.4 382.7h1M257.1 393.8h1M269.9 393.2h1M271.4 386.3h1M267.0 385.7h1M270.5 382.1h1M271.5 379.5h1M271.5 382.9h1M267.9 388.0h1M257.8 394.7h1M269.3 379.9h1M281.7 381.2h1M281.8 373.8h1M268.4 387.5h1M267.3 386.4h1M274.3 373.7h1M281.4 380.5h1M268.6 382.8h1M277.9 386.7h1M265.4 394.1h1M273.4 384.1h1M263.5 393.2h1M268.9 389.4h1M268.8 389.0h1M266.0 390.9h1M255.1 402.1h1M268.3 397.7h1M274.4 388.3h1M268.9 388.3h1M263.8 387.9h1M267.7 380.8h1M263.7 373.7h1M273.1 380.5h1M265.1 394.5h1M267.6 386.0h1M263.7 387.0h1M261.8 392.4h1M261.5 400.1h1M267.6 387.6h1M262.4 392.9h1M286.2 375.7h1M271.0 390.8h1M262.8 384.8h1M272.2 395.8h1M279.6 373.2h1M262.6 394.0h1M262.7 383.8h1M261.1 390.3h1M269.8 390.0h1M263.9 383.3h1M276.8 380.6h1M252.7 390.8h1M262.8 382.1h1M278.7 375.7h1M262.3 388.0h1M266.2 387.4h1M265.0 395.4h1M247.7 401.8h1M266.0 386.2h1M273.0 376.1h1M261.6 386.9h1M251.7 395.5h1M266.5 381.9h1M268.7 386.4h1M274.1 379.4h1M272.6 379.1h1M266.5 388.9h1M271.2 384.5h1M250.6 393.9h1M273.6 377.5h1M263.3 380.0h1M277.3 381.3h1M274.9 379.4h1M267.4 389.9h1M268.1 388.8h1M263.1 393.5h1M254.9 401.3h1M268.4 388.8h1M263.4 380.4h1M258.8 392.3h1M274.8 383.8h1M270.2 387.5h1M268.6 381.4h1M261.3 390.4h1M258.3 400.6h1M270.1 378.6h1M276.2 386.4h1M268.6 388.7h1M259.9 384.7h1M274.0 395.9h1M267.6 388.2h1M261.6 387.4h1M255.3 401.0h1M275.4 383.4h1M260.9 399.5h1M272.1 394.8h1M269.9 392.5h1M269.4 384.6h1M259.2 399.4h1M275.8 378.3h1M272.6 382.5h1M272.0 380.5h1M281.2 382.5h1M263.7 393.0h1M248.6 409.3h1M271.0 385.2h1M279.1 380.0h1M282.1 384.7h1M262.6 388.5h1M264.9 384.9h1M262.6 377.9h1M254.0 397.0h1M258.6 386.5h1M262.0 389.3h1M279.4 376.6h1M262.2 389.7h1M281.7 378.9h1M267.3 385.8h1M257.4 398.5h1M285.6 374.1h1M258.0 389.8h1M268.6 379.0h1M277.6 373.3h1M262.1 387.9h1M255.0 390.4h1M275.1 379.6h1M272.5 389.9h1M262.9 397.7h1M258.9 392.0h1M264.8 388.6h1M278.8 384.0h1M262.1 384.7h1M271.6 381.3h1M273.8 370.4h1M272.8 374.5h1M278.6 377.7h1M275.7 377.7h1M259.8 399.7h1M278.5 380.4h1M271.0 385.0h1M265.6 385.9h1M256.8 390.1h1M260.4 400.0h1M258.6 392.2h1M267.7 386.5h1M261.0 395.3h1M259.2 388.9h1M265.0 391.7h1M268.1 377.9h1M267.0 389.4h1M269.8 390.1h1M274.2 375.0h1M270.3 392.8h1M275.4 385.6h1M261.6 394.3h1M270.0 384.1h1M269.5 386.4h1M275.1 390.8h1M269.0 393.5h1M259.7 392.1h1M264.3 387.0h1M268.0 392.5h1M273.8 378.5h1M273.2 379.5h1M257.0 391.9h1M274.2 384.1h1M260.3 385.6h1M271.8 384.1h1M260.4 385.6h1M255.5 394.0h1M277.6 382.2h1M271.8 384.1h1M259.1 394.1h1M252.5 396.6h1M268.7 394.1h1M261.8 396.0h1M263.6 387.2h1M270.5 380.7h1M280.6 379.2h1M268.3 391.4h1M275.5 375.6h1M278.6 381.2h1M264.4 388.8h1M254.3 395.4h1M273.4 380.4h1M280.0 389.8h1M279.6 366.7h1M273.7 373.2h1M268.6 376.9h1M276.2 372.2h1M266.3 398.5h1M264.8 381.0h1M265.1 387.3h1M276.3 371.6h1M272.1 382.9h1M248.9 408.3h1M277.5 377.5h1M257.2 388.1h1M272.1 380.2h1M265.5 390.2h1M273.5 388.3h1M270.6 380.6h1M269.2 384.9h1M261.3 392.5h1M274.0 373.8h1M268.3 381.5h1M267.9 386.4h1M271.9 380.8h1M264.2 389.8h1M278.0 371.1h1M267.3 382.8h1M269.9 383.3h1M272.9 386.3h1M259.5 390.2h1M257.6 391.9h1M272.7 387.8h1M269.1 382.7h1M277.9 378.0h1M277.6 389.4h1M261.1 394.0h1M268.5 379.9h1M275.6 382.6h1M276.7 381.3h1M267.1 381.1h1M263.5 397.9h1M278.4 380.9h1M264.3 392.3h1M269.9 380.5h1M255.9 395.4h1M274.6 382.5h1M263.9 392.6h1M274.8 378.5h1M280.7 375.2h1M278.3 380.6h1M263.8 397.5h1M259.7 390.8h1M263.1 393.0h1M263.6 373.5h1M268.4 382.1h1M271.4 387.4h1M270.0 384.2h1M270.8 381.3h1M271.0 380.7h1M277.6 373.3h1M266.3 385.4h1M269.8 385.3h1M254.0 397.4h1M252.8 389.3h1M264.9 392.4h1M261.5 395.7h1M267.3 382.8h1M270.9 375.6h1M262.7 387.1h1M261.1 386.3h1M264.8 390.1h1M269.5 386.1h1M262.5 388.3h1M268.7 381.5h1M264.8 379.5h1M265.4 379.6h1M278.5 386.3h1M265.8 384.0h1M270.9 387.3h1M285.8 380.2h1M266.5 385.6h1M273.6 381.4h1M269.4 387.1h1M268.9 393.3h1M268.1 392.5h1M263.3 392.8h1M272.6 390.6h1M264.4 391.0h1M264.9 389.1h1M276.3 378.4h1M266.2 386.5h1M275.6 378.7h1M273.2 388.0h1M276.7 383.4h1M263.6 390.3h1M266.0 382.7h1M284.6 367.8h1M274.9 382.2h1M274.0 379.1h1M275.0 390.0h1M276.6 383.4h1M261.6 395.7h1M262.6 392.6h1M271.7 384.5h1M274.1 381.6h1M268.9 392.8h1M268.5 389.5h1M264.8 388.3h1M272.4 393.1h1M263.8 398.3h1M259.7 397.5h1M262.9 382.9h1M254.6 396.7h1M256.8 388.9h1M259.5 387.3h1M262.5 395.2h1M269.7 385.1h1M268.6 393.1h1M263.8 383.8h1M259.1 391.6h1M261.3 390.1h1M269.2 381.2h1M268.8 382.8h1M264.2 389.3h1M269.4 383.3h1M265.4 381.9h1M271.3 387.8h1M281.4 378.6h1M265.2 389.5h1M267.0 380.5h1M269.8 383.1h1M266.9 388.9h1M257.7 392.4h1M271.9 381.6h1M275.3 390.3h1M271.2 389.2h1M274.3 392.5h1M268.6 387.2h1M263.3 394.2h1M268.3 383.5h1M249.6 393.3h1M269.4 388.6h1M258.0 397.1h1M266.6 390.3h1M280.9 389.8h1M268.3 390.8h1M266.8 392.2h1M270.2 382.5h1M268.5 391.1h1M269.0 393.3h1M263.3 387.9h1M277.7 376.5h1M274.7 384.8h1M273.1 385.7h1M260.8 396.0h1M269.1 380.2h1M254.9 391.8h1M274.7 387.3h1M256.8 391.3h1M280.1 373.2h1M255.6 397.5h1M272.5 375.6h1M275.7 384.1h1M253.5 396.8h1M270.0 392.3h1M278.4 378.2h1M277.5 381.4h1M251.7 393.6h1M259.2 385.8h1M257.7 392.9h1M259.4 392.6h1M265.0 392.9h1M274.2 369.1h1M264.2 382.0h1M263.3 385.9h1M265.7 389.5h1M272.9 383.3h1M272.3 382.3h1M257.5 389.5h1M279.9 379.4h1M260.2 394.1h1M260.7 384.2h1M267.7 381.2h1M273.3 370.0h1M264.0 388.1h1M268.0 383.7h1M271.7 373.9h1M269.5 380.7h1M273.7 378.1h1M275.8 381.1h1M273.7 389.3h1M267.0 378.2h1M274.7 381.7h1M269.6 389.2h1M275.2 373.3h1M257.3 403.2h1M265.6 397.1h1M278.5 378.4h1M270.4 384.0h1M262.4 390.5h1M268.3 382.7h1M271.5 376.5h1M264.2 391.0h1M271.3 380.4h1M267.0 388.0h1M268.7 389.4h1M265.8 386.2h1M273.6 378.1h1M254.5 389.3h1M263.2 387.7h1M273.9 384.2h1M257.7 393.6h1M258.0 398.5h1M266.3 378.4h1M272.6 391.6h1M268.5 389.7h1M270.4 387.7h1M260.8 393.2h1M286.7 366.9h1M265.9 398.1h1M270.3 395.1h1M257.7 396.2h1M260.3 385.5h1M272.9 372.1h1M268.8 387.8h1M269.9 381.4h1M266.9 392.6h1M283.6 378.3h1M264.8 382.2h1M257.3 393.6h1M273.4 382.4h1M266.2 390.4h1M268.6 380.0h1M267.4 384.9h1M270.2 385.9h1M267.5 385.0h1M261.6 393.1h1M258.9 398.4h1M275.9 382.0h1M263.7 385.1h1M270.7 386.1h1M268.0 393.3h1M248.8 395.7h1M255.4 392.1h1M274.9 375.6h1M262.5 392.4h1M264.3 388.9h1M262.3 401.1h1M264.0 390.5h1M264.2 388.6h1M266.6 388.9h1M265.6 386.1h1M265.6 393.4h1M263.1 390.3h1M272.1 391.3h1M269.6 384.7h1M268.4 389.5h1M282.7 378.5h1M270.0 386.5h1M268.4 385.7h1M265.0 393.1h1M271.3 377.1h1M262.9 395.9h1M254.1 395.5h1M258.9 391.6h1M273.3 384.3h1M255.7 390.8h1M279.9 381.7h1M265.7 385.5h1M257.4 397.2h1M263.6 386.3h1M283.7 378.9h1M265.5 396.2h1M261.5 398.3h1M270.7 383.3h1M275.7 377.6h1M274.0 379.8h1M266.1 389.9h1M270.8 387.6h1M273.7 388.5h1M276.4 380.0h1M279.8 370.5h1M263.7 384.8h1M277.4 379.3h1M262.0 386.3h1M275.4 386.7h1M259.1 391.3h1M265.8 395.3h1M269.5 383.4h1M264.6 395.9h1M276.2 383.5h1M265.6 392.3h1M263.7 382.4h1M269.0 389.4h1M263.5 387.5h1M267.9 385.6h1M273.6 378.6h1M286.7 364.5h1M257.9 393.4h1M273.1 388.2h1M266.2 388.1h1M260.5 392.3h1M271.1 386.6h1M260.7 392.1h1M270.1 390.4h1M273.4 376.3h1M256.5 403.0h1M269.9 386.0h1M268.0 381.6h1M258.0 390.6h1M272.6 384.9h1M271.7 386.3h1M262.3 386.6h1M284.0 386.6h1M255.0 392.3h1M267.8 378.9h1M269.2 391.6h1M257.1 391.0h1M265.3 387.2h1M263.9 388.1h1M279.8 387.8h1M259.3 398.7h1M266.8 388.9h1M265.8 391.3h1M278.9 377.1h1M261.1 395.5h1M283.0 387.6h1M256.7 399.7h1M271.8 386.5h1M266.9 388.2h1M271.4 385.8h1M262.9 391.9h1M254.0 399.8h1M252.1 392.8h1M278.5 380.2h1M263.8 380.8h1M262.6 393.7h1M276.0 383.3h1M267.0 396.3h1M260.1 389.8h1M264.1 399.7h1M272.3 376.3h1M279.1 372.5h1M262.9 395.4h1M271.3 386.9h1M272.3 378.9h1M280.7 372.0h1M249.6 401.7h1M268.3 386.1h1M273.1 384.1h1M256.2 395.9h1M273.6 387.7h1M266.1 383.4h1M271.9 382.0h1M267.0 394.3h1M273.2 387.1h1M264.4 392.3h1M276.8 388.0h1M264.2 382.1h1M262.0 387.1h1M261.5 400.1h1M278.4 376.0h1M269.5 374.7h1M271.9 379.9h1M266.1 394.6h1M271.6 395.7h1M283.1 380.2h1M268.6 378.6h1M260.9 392.2h1M271.6 390.5h1M266.2 384.2h1M267.2 389.6h1M263.3 395.6h1M277.1 379.9h1M272.6 384.4h1M261.1 383.8h1M260.1 400.7h1M264.9 392.3h1M263.4 383.4h1M268.5 376.8h1M268.0 392.5h1M268.4 373.6h1M265.0 383.0h1M267.1 396.5h1M243.9 401.4h1M264.3 399.4h1M255.7 395.5h1M270.0 391.4h1M275.0 389.8h1M273.9 375.0h1M266.1 385.9h1M260.2 395.3h1M282.2 370.1h1M269.8 385.2h1M266.6 389.6h1M269.1 391.9h1M257.0 394.8h1M271.6 382.5h1M270.7 385.1h1M279.5 377.6h1M275.5 380.1h1M277.8 385.3h1M276.6 379.1h1M268.7 391.8h1M260.8 386.4h1M270.1 390.0h1M260.9 396.9h1M266.6 387.9h1M263.0 387.0h1M270.5 381.0h1M267.4 387.0h1M248.7 394.1h1M267.8 386.8h1M275.8 376.2h1M247.4 391.9h1M265.4 394.7h1M264.8 384.0h1M257.7 394.8h1M268.1 394.4h1M269.9 388.3h1M256.6 393.7h1M274.0 388.9h1M270.9 384.5h1M256.6 393.0h1M268.6 387.3h1M273.9 378.6h1M268.6 390.0h1M272.4 385.6h1M273.7 384.1h1M267.2 389.4h1M272.1 378.2h1M270.0 383.9h1M255.3 388.1h1M269.4 381.6h1M272.5 380.0h1M266.1 374.8h1M263.9 391.6h1M273.2 385.9h1M276.2 376.8h1M272.6 388.2h1M273.9 377.0h1M272.0 373.8h1M265.6 385.2h1M273.3 383.3h1M266.4 389.1h1M273.3 377.9h1M263.6 384.0h1M265.5 391.7h1M268.9 388.0h1M264.0 384.1h1M269.6 383.4h1M269.8 382.5h1M258.8 393.4h1M266.0 393.4h1M270.6 384.6h1M267.7 380.3h1M268.9 386.5h1M285.5 368.9h1M274.2 378.0h1M266.2 386.0h1M264.9 374.3h1M279.0 379.6h1M269.8 383.6h1M250.4 393.0h1M268.4 385.8h1M267.1 385.1h1M286.2 375.9h1M253.1 396.5h1M275.3 373.3h1M264.4 385.3h1M274.6 380.5h1M265.0 387.5h1M269.3 385.5h1M272.7 376.2h1M268.6 385.9h1M272.4 376.9h1M271.6 390.8h1M266.4 390.2h1M275.3 396.1h1M265.2 390.3h1M264.9 385.1h1M277.6 377.7h1M253.3 387.9h1M260.3 400.8h1M269.0 387.5h1M281.8 377.3h1M276.4 380.5h1M278.1 378.5h1M280.7 381.9h1M266.3 394.2h1M262.7 379.8h1M251.7 405.6h1M261.4 388.0h1M275.9 385.7h1M258.4 397.5h1M253.1 399.1h1M260.2 395.9h1M271.1 386.3h1M276.3 378.7h1M284.8 368.3h1M274.9 374.0h1M254.7 393.4h1M257.2 406.2h1M275.4 391.1h1M275.7 379.4h1M257.7 397.5h1M262.7 387.8h1M262.1 386.3h1M270.5 387.9h1M260.8 381.6h1M270.9 381.8h1M280.6 383.8h1M265.9 382.9h1M272.3 380.1h1M280.4 371.4h1M266.6 397.7h1M262.5 394.2h1M271.2 382.1h1M280.9 373.6h1M267.4 382.9h1M271.7 374.9h1M261.8 383.8h1M270.5 376.1h1M264.8 390.8h1M267.6 376.4h1M270.2 382.5h1M268.4 380.8h1M278.2 377.1h1M279.7 382.5h1M271.6 396.5h1M273.7 379.2h1M259.6 399.6h1M275.0 379.0h1M283.7 364.2h1M276.7 386.5h1M277.3 387.3h1M268.2 384.6h1M272.9 379.0h1M266.6 389.7h1M274.6 382.6h1M271.8 392.1h1M266.2 388.9h1M271.8 386.9h1M267.0 384.9h1M254.6 395.0h1M283.9 372.8h1M268.4 383.5h1M257.2 396.9h1M273.6 376.2h1M263.9 381.5h1M268.1 382.3h1M271.2 378.7h1M260.6 389.6h1M251.0 407.3h1M268.2 386.3h1M269.3 383.0h1M271.5 375.1h1M259.9 387.2h1M260.1 381.0h1M274.7 386.0h1M266.9 387.9h1M272.5 392.3h1M272.1 385.4h1M267.4 397.2h1M275.5 371.3h1M260.5 389.9h1M272.3 388.4h1M265.6 387.0h1M262.0 388.4h1M267.0 377.0h1M272.8 376.2h1M277.8 375.2h1M272.8 381.9h1M264.0 387.0h1M273.4 378.8h1M260.9 397.0h1M272.8 388.8h1M268.9 379.0h1M274.6 383.8h1M262.1 394.4h1M256.6 393.8h1M279.7 374.3h1M261.9 386.0h1M261.5 400.4h1M258.3 392.2h1M272.8 389.4h1M280.9 381.8h1M271.8 388.8h1M276.1 377.1h1M272.2 386.1h1M275.9 386.4h1M271.3 375.5h1M269.1 391.2h1M270.9 384.1h1M265.3 387.8h1M265.9 391.6h1M271.7 380.3h1M261.4 389.8h1M269.4 385.6h1M260.3 388.4h1M269.8 388.2h1M268.4 392.6h1M275.0 377.7h1M272.0 388.1h1M267.8 384.3h1M279.5 374.8h1M251.1 407.4h1M259.4 392.1h1M249.0 403.6h1M277.4 394.6h1M272.2 384.0h1M272.1 381.2h1M268.6 382.9h1M264.3 393.7h1M283.2 377.2h1M269.9 383.7h1M264.5 386.0h1M267.3 399.8h1M275.6 387.6h1M266.9 391.3h1M273.3 396.7h1M271.4 386.5h1M267.1 382.4h1M266.2 395.0h1M275.9 377.2h1M264.4 395.8h1M259.7 392.8h1M268.2 382.3h1M265.0 381.7h1M268.4 385.6h1M262.3 386.2h1M267.2 384.9h1M266.0 391.6h1M253.0 393.6h1M274.7 382.9h1M261.1 392.9h1M259.2 381.0h1M270.2 378.8h1M270.8 388.5h1M285.0 366.5h1M260.8 397.7h1M263.7 392.0h1M273.3 390.1h1M276.2 376.3h1M271.3 392.5h1M257.7 395.3h1M274.4 377.4h1M259.5 390.4h1M260.0 381.4h1M278.9 385.0h1M267.4 394.5h1M268.2 392.4h1M273.0 384.7h1M264.1 385.3h1M271.0 385.4h1M263.7 394.7h1M270.8 390.5h1M262.9 395.8h1M259.3 398.5h1M279.8 374.6h1M275.4 387.4h1M274.2 380.3h1M260.0 391.6h1M266.8 385.7h1M270.5 391.5h1M256.3 394.0h1M269.1 380.4h1M262.4 390.6h1M270.5 391.4h1M262.7 401.2h1M274.3 379.5h1M276.1 384.1h1M274.7 387.6h1M259.4 390.2h1M261.7 387.6h1M274.0 376.2h1M262.2 384.7h1M267.0 382.0h1M272.5 388.8h1M257.3 391.0h1M277.5 375.5h1M253.8 399.0h1M264.7 380.4h1M266.1 385.8h1M252.7 393.2h1M270.0 384.0h1M272.6 384.0h1M270.5 388.1h1M263.1 392.6h1M276.1 388.2h1M275.4 378.9h1M269.8 385.3h1M280.8 376.0h1M280.4 386.9h1M279.6 387.3h1M274.9 374.8h1M266.7 393.8h1M260.4 386.2h1M273.6 384.9h1M270.3 381.8h1M282.3 380.1h1M277.4 380.3h1M269.9 385.9h1M267.7 383.3h1M261.1 383.5h1M262.7 386.2h1M269.6 393.7h1M273.9 380.1h1M265.5 390.2h1M267.7 390.7h1M267.3 383.6h1M259.9 385.4h1M268.0 389.3h1M250.5 398.3h1M266.3 379.8h1M269.4 391.5h1M264.0 379.9h1M265.4 378.9h1M255.3 398.3h1M278.5 364.7h1M268.5 384.4h1M265.9 381.6h1M254.8 396.6h1M275.1 384.2h1M270.4 382.3h1M266.8 388.9h1M271.8 385.5h1M280.5 380.2h1M269.0 390.3h1M266.7 395.5h1M274.0 373.1h1M276.6 389.3h1M267.5 386.5h1M285.7 371.3h1M273.8 388.0h1M265.6 384.6h1M273.1 385.9h1M262.6 384.8h1M270.9 384.5h1M268.9 383.5h1M265.1 390.4h1M265.2 385.4h1M268.0 380.7h1M272.8 384.2h1M272.7 381.5h1M268.6 375.1h1M272.3 385.5h1M266.7 376.8h1M267.6 389.4h1M268.9 389.0h1M280.7 383.2h1M258.6 401.8h1M276.6 388.1h1M291.0 365.3h1M254.6 396.6h1M278.6 375.5h1M259.2 399.7h1M274.2 386.2h1M281.3 376.5h1M282.7 379.7h1M266.6 395.8h1M254.1 389.4h1M258.4 395.3h1M275.9 383.6h1M263.8 386.8h1M263.8 381.7h1M272.0 386.1h1M271.4 383.6h1M275.7 386.0h1M274.1 389.8h1M253.7 393.3h1M267.2 366.2h1M252.8 407.4h1M281.3 382.2h1M260.0 386.3h1M263.8 384.5h1M263.4 388.5h1M261.4 384.6h1M269.2 387.3h1M265.6 387.4h1M258.7 391.6h1M274.7 381.2h1M263.0 388.9h1M277.7 377.6h1M265.9 386.0h1M263.2 390.7h1M277.2 388.9h1M273.7 379.8h1M266.7 396.8h1M269.0 390.7h1M282.6 381.1h1M259.3 390.8h1M263.8 393.1h1M270.5 386.2h1M256.5 391.1h1M250.1 401.3h1M258.1 398.5h1M277.1 389.6h1M270.5 379.8h1M272.9 382.9h1M271.9 384.6h1M258.0 392.7h1M274.6 383.4h1M276.0 378.5h1M261.0 388.6h1M272.6 378.1h1M267.8 390.6h1M265.0 380.8h1M267.1 380.4h1M252.8 391.2h1M277.9 376.2h1M262.1 391.6h1M264.4 383.9h1M263.7 388.4h1M270.8 382.6h1M271.4 383.5h1M269.3 386.9h1M279.4 378.3h1M272.1 386.1h1M264.4 387.8h1M250.5 407.1h1M270.8 392.2h1M266.2 388.1h1M257.5 387.5h1M258.5 388.3h1M278.3 387.8h1M277.6 381.4h1M278.1 370.8h1M275.4 378.0h1M263.5 390.9h1M270.3 384.8h1M259.2 395.5h1M276.1 384.0h1M266.9 380.3h1M267.5 393.4h1M268.0 387.3h1M261.9 383.6h1M260.8 387.5h1M276.8 377.0h1M288.4 364.6h1M275.4 382.2h1M276.6 380.3h1M270.0 385.8h1M261.9 384.8h1M283.8 372.2h1M264.1 387.1h1M269.5 382.2h1M266.2 385.8h1M272.9 382.9h1M265.7 384.4h1M271.6 381.6h1M259.7 394.7h1M269.0 388.2h1M283.7 382.8h1M259.3 391.3h1M261.6 388.6h1M278.6 378.1h1M271.4 383.8h1M274.3 377.9h1M256.7 404.5h1M267.0 383.1h1M257.8 393.0h1M256.6 393.4h1M268.0 380.7h1M281.7 383.3h1M256.9 395.1h1M262.3 395.1h1M261.0 387.0h1M264.1 384.0h1M257.1 393.1h1M283.1 370.7h1M263.4 374.1h1M266.0 388.8h1M259.2 395.5h1M272.0 370.0h1M253.3 397.1h1M287.9 367.9h1M283.6 380.7h1M281.1 372.2h1M285.3 381.8h1M268.8 377.4h1M263.9 405.2h1M271.0 398.6h1M279.1 384.7h1M276.4 396.4h1M272.1 381.3h1M266.9 396.0h1M264.2 395.3h1M268.6 379.2h1M288.2 390.4h1M270.6 386.7h1M258.0 392.7h1M247.9 395.6h1M287.6 365.5h1M262.0 399.8h1M255.8 388.6h1M257.2 387.3h1M265.5 364.9h1M250.2 380.9h1M275.4 381.4h1M264.4 375.2h1M257.1 395.1h1M276.1 389.5h1M253.6 393.2h1M260.4 379.9h1M288.8 391.3h1M259.5 380.5h1M264.9 398.7h1M256.3 380.7h1M265.9 386.0h1M271.3 381.6h1M253.3 404.9h1M262.1 369.6h1M273.0 392.0h1M272.2 388.9h1M276.8 389.6h1M264.4 384.3h1M264.9 390.4h1M265.5 380.4h1M269.1 373.5h1M267.7 378.3h1M263.1 379.8h1M253.0 389.8h1M271.5 384.1h1M261.9 400.8h1M267.8 397.6h1M266.2 380.4h1M272.8 387.7h1M284.4 380.9h1M281.7 382.2h1M274.7 382.5h1M264.6 387.8h1M270.1 387.5h1M272.2 393.9h1M282.3 366.7h1M285.4 393.8h1M264.6 393.9h1M255.4 388.4h1M279.3 372.9h1M254.3 387.8h1M271.9 382.1h1M267.6 381.3h1M278.9 375.8h1M263.2 396.7h1M271.4 379.7h1M265.7 378.9h1M287.4 389.3h1M286.4 377.8h1M281.6 396.6h1M272.2 393.4h1M284.5 384.9h1M258.6 402.1h1M272.7 386.1h1M254.9 390.3h1M251.2 391.0h1M258.8 405.5h1M256.5 404.6h1M273.8 375.1h1M281.1 381.6h1M272.6 387.5h1M289.2 386.6h1M265.8 382.1h1M263.3 389.5h1M264.5 401.7h1M283.9 386.2h1M282.9 384.4h1M279.0 372.0h1M264.6 396.4h1M273.4 395.6h1M258.5 400.8h1M275.6 370.8h1M269.4 372.8h1M267.0 374.1h1M268.6 385.6h1M266.6 386.1h1M264.4 387.9h1M276.0 372.2h1M260.2 388.8h1M283.0 382.9h1M276.0 387.3h1M262.0 397.6h1M251.9 395.8h1M264.7 396.1h1M273.2 390.5h1M251.6 392.7h1M267.4 372.2h1M285.0 380.2h1M275.2 381.6h1M247.1 395.7h1M249.4 410.3h1M272.6 372.8h1M291.1 379.6h1M266.8 390.9h1M270.7 377.5h1M258.5 380.2h1M258.2 386.9h1M287.5 385.4h1M272.5 399.5h1M282.1 382.7h1M281.2 365.2h1M264.3 383.2h1M281.2 362.4h1M253.2 394.7h1M281.2 380.4h1M271.5 388.0h1M298.5 366.6h1M265.3 381.1h1M268.7 400.3h1M284.4 370.3h1M253.6 399.2h1M266.9 375.2h1M266.3 397.4h1M280.3 370.8h1M273.8 392.4h1M272.0 372.3h1M271.0 388.3h1M260.6 398.1h1M254.1 411.6h1M289.6 372.4h1M275.1 387.3h1M261.7 400.3h1M260.1 382.7h1M284.1 382.0h1M253.9 398.9h1M286.4 360.0h1M273.1 394.5h1M277.5 401.1h1M279.0 371.3h1M280.3 393.0h1M264.0 399.8h1M278.6 377.9h1M272.1 380.3h1M281.5 376.8h1M264.4 398.6h1M253.3 391.4h1M274.1 378.9h1M254.8 379.8h1M253.7 411.4h1M264.2 392.2h1M275.5 380.4h1M259.5 390.1h1M280.2 372.7h1M264.3 390.8h1M257.8 376.5h1M254.6 402.4h1M259.2 391.4h1M266.4 386.9h1M278.0 383.9h1M267.0 380.4h1M289.3 386.1h1M242.3 400.7h1M277.8 394.3h1M269.5 389.2h1M258.7 395.6h1M271.4 389.2h1M264.9 396.1h1M266.8 375.6h1M253.0 376.6h1M268.4 375.7h1M259.6 394.0h1M284.6 377.4h1M277.1 386.5h1M279.6 362.6h1M263.1 382.6h1M257.3 383.8h1M265.1 379.5h1M257.6 383.5h1M262.5 399.3h1M273.5 390.3h1M274.0 392.2h1M263.1 392.5h1M266.5 390.9h1M259.3 394.9h1M277.0 391.3h1M255.4 398.1h1M281.0 365.6h1M269.1 385.5h1M292.7 391.6h1M257.8 397.8h1M274.4 384.8h1M263.0 382.5h1M279.4 377.6h1M274.1 374.4h1M255.6 403.9h1M278.4 373.4h1M249.7 395.2h1M283.5 374.8h1M267.0 385.0h1M256.9 396.8h1M272.7 376.1h1M270.2 386.4h1M257.1 393.1h1M271.9 403.1h1M275.0 382.9h1M251.6 394.9h1M257.4 390.8h1M292.1 373.6h1M266.1 397.8h1M270.6 380.5h1M271.6 380.0h1M275.9 374.5h1M277.3 377.4h1M244.4 409.8h1M259.0 385.3h1M285.5 379.8h1M269.0 401.2h1M281.3 363.3h1M275.7 387.9h1M253.8 394.2h1M278.3 384.4h1M293.8 373.4h1M254.6 384.4h1M275.0 381.2h1M268.3 402.2h1M264.8 393.0h1M271.3 386.0h1M275.3 382.4h1M271.8 381.9h1M277.4 390.3h1M293.9 364.6h1M256.5 394.2h1M248.1 400.8h1M274.2 380.4h1M275.4 388.7h1M266.0 410.5h1M278.1 361.9h1M268.5 398.9h1M258.2 402.2h1M273.3 382.1h1M273.1 377.7h1M292.1 363.7h1M258.9 405.3h1M257.3 398.7h1M255.6 377.8h1M251.8 377.1h1M269.8 388.1h1M259.0 389.6h1M263.6 410.5h1M263.9 389.4h1M272.3 375.6h1M278.5 380.2h1M253.3 382.8h1M269.8 376.3h1M270.0 378.9h1M278.4 404.8h1M269.2 392.8h1M265.9 381.9h1M298.8 361.8h1M280.2 393.9h1M263.8 397.8h1M259.6 379.6h1M260.3 387.9h1M275.6 370.5h1M247.4 405.9h1M250.1 388.1h1M292.2 393.0h1M279.6 388.4h1M259.3 375.6h1M270.6 373.6h1M255.2 397.6h1M274.6 384.4h1M267.9 406.7h1M259.1 400.7h1M274.8 382.0h1M266.5 398.7h1M258.5 382.2h1M269.8 374.5h1M260.7 397.6h1M270.3 375.4h1M291.2 364.6h1M265.9 386.5h1M281.1 379.3h1M263.5 365.4h1M265.0 406.2h1M256.8 400.0h1M263.8 380.5h1M243.2 401.1h1M278.3 394.2h1M276.8 388.5h1M274.3 382.0h1M277.9 385.9h1M285.7 376.7h1M267.4 390.5h1M283.2 373.8h1M268.6 375.0h1M283.5 389.9h1M262.2 381.8h1M279.8 377.9h1M258.9 390.1h1M278.2 380.8h1M267.6 362.6h1M272.5 402.0h1M253.8 388.8h1M264.4 395.6h1M270.2 387.5h1M265.3 374.8h1M278.9 378.5h1M282.8 362.7h1M277.3 362.5h1M275.1 386.4h1M254.8 378.8h1M250.9 390.8h1M278.4 379.1h1M273.1 379.6h1M270.4 392.3h1M266.1 385.9h1M263.5 382.3h1M267.5 385.2h1M275.2 385.4h1M271.5 390.4h1M264.1 401.2h1M271.2 386.9h1M270.7 378.0h1M289.8 371.5h1M283.1 379.2h1M280.6 385.7h1M265.7 383.3h1M257.7 400.1h1M273.4 399.0h1M250.2 393.1h1M262.6 381.2h1M279.5 375.4h1M281.3 377.6h1M278.2 377.3h1M274.4 390.5h1M273.5 370.9h1M259.3 381.1h1M244.9 399.3h1M269.3 383.2h1M268.4 384.2h1M249.6 399.8h1M255.1 381.9h1M249.9 413.7h1M264.8 390.5h1M284.6 377.8h1M269.5 398.5h1M280.2 371.4h1M265.5 377.6h1M267.7 398.6h1M246.9 397.8h1M273.0 375.0h1M273.2 376.9h1M247.7 393.0h1M268.7 393.4h1M271.4 366.6h1M264.0 395.0h1M270.2 379.1h1M258.6 412.9h1M255.2 389.6h1M276.1 378.7h1M260.8 400.3h1M260.8 405.3h1M254.7 398.2h1M258.6 382.5h1M251.2 398.3h1M270.0 388.8h1M278.8 384.5h1M289.7 376.6h1M267.2 391.5h1M293.4 378.8h1M276.7 382.5h1M261.4 382.2h1M274.7 381.2h1M284.8 372.0h1M287.0 374.6h1M272.8 374.8h1M265.1 383.4h1M269.8 370.3h1M275.1 387.5h1M276.9 390.2h1M275.1 386.6h1M293.4 374.9h1M258.0 397.8h1M270.9 389.0h1M263.4 401.1h1M278.0 377.8h1M274.8 369.9h1M278.7 369.1h1M269.3 392.7h1M269.7 385.2h1M275.2 376.8h1M267.7 380.7h1M274.1 384.9h1M278.2 390.9h1M270.2 381.5h1M273.5 392.2h1M275.7 383.6h1M256.8 401.5h1M260.5 385.1h1M259.1 401.3h1M267.8 385.9h1M263.5 394.1h1M277.6 383.7h1M277.0 369.1h1M259.9 400.4h1M259.4 390.9h1M271.1 381.2h1M293.2 381.8h1M285.7 387.2h1M290.5 398.4h1M267.4 384.9h1M263.8 388.8h1M276.0 385.0h1M277.1 383.8h1M272.7 386.1h1M267.2 394.9h1M254.2 401.6h1M261.5 394.3h1M270.6 394.3h1M250.7 389.6h1M267.3 377.4h1M257.9 401.8h1M255.0 377.4h1M259.9 369.6h1M270.7 371.5h1M265.5 377.2h1M284.2 377.3h1M265.4 393.3h1M270.3 401.8h1M282.1 377.6h1M255.8 389.2h1M270.1 389.6h1M261.6 411.5h1M271.7 366.6h1M265.9 368.6h1M254.1 385.1h1M260.6 410.8h1M267.4 379.1h1M276.4 387.7h1M281.4 375.4h1M283.5 364.3h1M263.5 375.5h1M270.6 391.3h1M268.9 390.0h1M273.2 395.5h1M256.1 399.1h1M265.9 399.7h1M271.1 389.4h1M249.5 397.7h1M256.7 398.6h1M280.5 373.5h1M261.4 390.9h1M272.8 373.9h1M272.6 368.0h1M275.6 392.0h1M285.9 386.5h1M264.9 384.9h1M257.2 390.6h1M260.9 379.5h1M265.8 381.0h1M261.3 375.5h1M267.3 382.5h1M268.9 393.1h1M274.2 370.3h1M272.2 392.5h1M269.0 393.5h1M276.1 374.8h1M261.1 396.8h1M264.4 380.9h1M285.6 373.7h1M260.3 375.5h1M288.5 377.6h1M263.2 384.5h1M267.0 393.2h1M260.3 379.8h1M267.1 394.2h1M261.9 385.1h1M282.1 406.8h1M281.1 382.0h1M264.5 373.1h1M266.4 386.7h1M261.8 392.4h1M295.5 350.2h1M254.7 374.8h1M288.7 378.1h1M258.6 397.4h1M264.8 395.2h1M277.4 370.1h1M262.6 400.0h1M267.5 404.2h1M277.0 394.3h1M258.9 389.1h1M265.5 387.3h1M266.3 379.6h1M286.3 385.8h1M276.0 388.7h1M275.1 385.7h1M277.6 368.4h1M280.6 369.7h1M266.9 389.9h1M257.0 408.8h1M258.7 394.3h1M282.2 377.9h1M260.1 385.5h1M253.3 383.1h1M264.5 389.3h1M290.6 376.3h1M257.3 372.3h1M262.4 385.8h1M259.8 389.4h1M258.3 395.5h1M295.5 357.6h1M268.5 385.4h1M269.5 382.7h1M274.3 396.6h1M283.4 379.1h1M260.2 395.7h1M250.2 403.2h1M262.8 390.0h1M270.3 380.0h1M300.8 373.6h1M273.8 391.4h1M264.7 397.4h1M266.5 387.0h1M262.9 394.0h1M251.3 382.5h1M272.3 386.7h1M273.5 384.0h1M271.3 400.1h1M270.2 365.3h1M268.2 385.8h1M271.1 385.0h1M267.9 393.9h1M272.5 381.5h1M275.2 383.4h1M269.3 372.7h1M265.9 397.6h1M277.8 381.7h1M266.8 393.8h1M267.2 381.4h1M274.8 376.5h1M278.7 365.7h1M262.2 386.9h1M255.8 393.0h1M270.5 383.8h1M276.4 368.9h1M263.7 386.0h1M291.0 360.3h1M259.9 412.1h1M286.4 373.5h1M284.3 377.9h1M289.8 384.4h1M254.5 386.4h1M274.8 364.6h1M274.9 368.4h1M278.4 370.3h1M259.4 379.6h1M276.1 396.7h1M275.2 366.2h1M283.6 392.9h1M265.2 388.0h1M260.9 392.8h1M269.3 380.2h1M253.0 395.0h1M271.3 376.1h1M274.8 387.7h1M258.2 404.0h1M278.3 385.5h1M280.4 373.2h1M273.8 384.9h1M265.2 406.7h1M258.6 386.2h1M283.7 383.5h1M259.7 400.6h1M269.9 393.0h1M284.5 378.5h1M263.7 385.1h1M267.6 394.8h1M284.9 385.4h1M288.5 373.5h1M278.8 387.2h1M264.9 406.5h1M249.2 396.2h1M261.0 381.8h1M259.8 410.6h1M260.4 378.0h1M268.5 367.1h1M265.6 385.0h1M274.1 383.9h1M259.9 386.3h1M288.9 397.4h1M271.0 377.4h1M281.6 377.4h1M293.0 357.0h1M267.9 377.8h1M273.4 406.8h1M259.9 395.7h1M257.6 397.5h1M273.2 375.5h1M266.7 376.2h1M270.0 377.1h1M275.5 387.8h1M281.1 366.4h1M284.1 379.1h1M275.2 371.7h1M263.9 393.0h1M267.3 389.6h1M256.2 397.4h1M271.7 400.3h1M272.0 386.4h1M264.1 403.7h1M258.4 386.8h1M282.2 359.4h1M275.4 395.0h1M267.0 412.0h1M256.2 396.3h1M271.7 389.4h1M282.6 382.4h1M256.5 374.3h1M280.1 379.4h1M278.0 388.0h1M260.2 397.8h1M277.9 374.1h1M256.8 381.6h1M286.0 365.8h1M270.5 397.9h1M270.7 389.5h1M254.5 381.0h1M276.2 397.4h1M274.2 381.4h1M261.4 381.1h1M279.5 372.7h1M274.7 382.6h1M289.5 375.0h1M269.3 384.0h1M279.2 370.3h1M279.9 372.7h1M262.7 381.4h1M292.9 359.9h1M277.2 364.0h1M274.0 379.4h1M262.8 382.5h1M270.5 387.9h1M258.7 377.8h1M265.6 376.0h1M255.0 392.6h1M275.4 390.1h1M262.8 390.1h1M301.2 384.9h1M278.9 379.9h1M284.8 368.4h1M297.2 367.0h1M273.4 379.8h1M285.5 362.4h1M263.7 372.0h1M275.6 379.1h1M268.9 402.7h1M283.0 396.9h1M284.3 372.3h1M269.7 375.6h1M260.1 382.8h1M269.2 384.6h1M266.1 395.8h1M267.0 395.4h1M256.6 399.7h1M279.9 374.0h1M277.0 371.5h1M268.0 385.6h1M246.1 387.4h1M266.5 386.6h1M286.3 363.2h1M251.3 392.4h1M259.8 385.0h1M268.6 393.1h1M286.0 386.1h1M264.4 404.3h1M270.2 380.6h1M258.6 389.9h1M264.4 386.7h1M253.8 392.6h1M267.8 373.2h1M269.0 393.9h1M250.3 377.2h1M266.0 360.4h1M268.9 377.7h1M293.2 363.3h1M272.3 379.7h1M277.9 391.7h1M270.7 383.7h1M300.4 362.9h1M282.1 373.6h1M268.6 389.5h1M261.7 371.0h1M269.3 394.6h1M274.4 377.0h1M267.0 392.0h1M255.9 381.9h1M268.3 375.1h1M290.8 380.1h1M283.1 382.0h1M275.4 376.3h1M273.3 387.9h1M244.1 405.8h1M267.6 386.2h1M273.4 392.8h1M276.3 381.5h1M283.9 365.7h1M277.3 378.1h1M252.1 401.1h1M267.8 382.9h1M267.9 388.0h1M269.3 371.0h1M275.7 392.4h1M248.6 401.0h1M263.6 396.6h1M264.3 386.1h1M245.3 400.3h1M264.9 383.0h1M263.1 384.3h1M275.7 370.8h1M265.5 383.5h1M264.6 392.4h1M264.3 382.5h1M264.4 379.9h1M274.1 371.3h1M258.7 393.0h1M246.1 405.5h1M306.5 369.3h1M281.0 382.3h1M270.8 386.0h1M287.4 356.6h1M252.0 390.0h1M260.9 392.2h1M271.1 395.6h1M271.5 378.0h1M259.6 384.5h1M272.8 373.8h1M269.6 392.5h1M287.6 378.6h1M278.6 385.7h1M259.0 407.1h1M263.7 380.4h1M256.6 394.8h1M256.5 375.3h1M260.5 376.7h1M285.6 358.4h1M270.6 391.4h1M250.2 397.5h1M267.9 382.0h1M265.5 404.2h1M293.7 374.6h1M280.0 382.6h1M277.8 363.6h1M267.5 391.5h1M266.5 403.0h1M271.6 382.3h1M252.7 395.7h1M266.3 401.4h1M251.7 382.8h1M271.8 391.0h1M248.8 394.7h1M245.6 402.0h1M287.0 375.6h1M264.6 391.5h1M267.4 387.3h1M276.9 381.7h1M269.5 377.3h1M262.6 391.7h1M274.2 399.2h1M284.4 369.5h1M287.6 379.5h1M277.8 379.6h1M284.2 368.2h1M251.6 404.5h1M265.2 378.8h1M267.1 388.6h1M253.5 407.0h1M263.9 373.4h1M271.8 375.3h1M272.7 383.7h1M251.8 403.0h1M269.5 389.7h1M271.1 383.0h1M272.3 392.9h1M262.8 373.3h1M267.7 374.0h1M295.3 383.6h1M276.9 388.3h1M295.4 360.0h1M275.1 386.7h1M283.7 394.0h1M273.4 374.1h1M275.2 392.4h1M262.8 384.9h1M279.2 370.9h1M257.1 407.4h1M280.1 355.4h1M283.3 384.7h1M266.9 372.0h1M266.9 376.7h1M270.1 380.2h1M266.2 400.3h1M258.2 379.4h1M255.4 391.0h1M289.8 382.9h1M289.7 392.9h1M275.5 386.5h1M278.1 386.1h1M264.6 382.7h1M257.7 395.7h1M284.6 366.9h1M278.8 381.6h1M262.9 381.8h1M278.5 382.5h1M290.2 380.9h1M294.1 386.6h1M273.4 376.0h1M281.0 380.4h1M276.7 396.6h1M287.6 376.7h1M281.1 378.0h1M275.3 372.2h1M268.5 409.2h1M278.2 381.1h1M272.3 374.7h1M275.0 374.8h1M240.8 392.8h1M276.9 387.0h1M263.6 397.6h1M267.6 375.7h1M260.0 377.4h1M276.0 375.0h1M265.7 392.4h1M265.2 401.8h1M271.2 376.8h1M264.8 386.0h1M263.6 402.4h1M252.7 407.4h1M305.2 359.8h1M262.6 385.6h1M267.7 388.4h1M243.4 397.8h1M252.0 388.0h1M265.9 385.1h1M266.0 375.7h1M271.2 372.0h1M253.8 384.5h1M276.4 383.1h1M277.0 370.6h1M254.2 380.3h1M264.8 382.3h1M253.6 405.1h1M259.7 391.9h1M243.2 386.4h1M277.6 380.7h1M270.5 390.3h1M279.7 364.7h1M272.8 385.3h1M285.2 385.7h1M282.4 388.5h1M270.9 383.0h1M261.8 399.0h1M277.3 361.0h1M271.3 389.2h1M258.3 410.6h1M267.4 394.9h1M264.7 402.5h1M274.2 367.2h1M283.4 379.0h1M275.9 361.9h1M287.4 360.5h1M251.6 380.5h1M250.9 404.2h1M255.1 389.8h1M284.2 392.3h1M244.8 414.2h1M267.0 395.0h1M271.0 370.5h1M261.2 394.1h1M264.1 382.6h1M263.8 397.9h1M293.1 374.7h1M288.6 366.2h1M251.8 388.0h1M260.8 393.6h1M261.7 375.2h1M277.6 379.8h1M275.2 382.5h1M277.5 380.2h1M280.4 376.3h1M285.0 376.3h1M289.3 367.1h1M275.7 386.9h1M270.6 394.4h1M260.8 376.7h1M287.2 357.3h1M279.8 377.3h1M280.2 380.1h1M291.7 379.0h1M279.1 368.5h1M297.0 364.1h1M251.7 381.5h1M281.4 391.2h1M275.7 374.5h1M271.6 369.2h1M269.0 390.6h1M242.9 389.0h1M261.8 381.2h1M257.7 385.4h1M273.5 389.6h1M275.3 367.5h1M271.4 371.6h1M257.7 394.6h1M252.6 381.7h1M269.8 380.2h1M293.2 384.9h1M267.2 382.8h1M262.4 372.4h1M257.8 402.4h1M260.7 384.9h1M265.1 395.5h1M271.5 382.2h1M281.3 401.6h1M270.4 402.8h1M260.2 396.8h1M274.5 385.5h1M272.8 401.0h1M276.7 369.5h1M268.8 381.2h1M271.3 392.0h1M289.3 386.8h1M254.2 393.5h1M280.9 378.4h1M258.0 388.0h1M270.2 371.5h1M264.2 393.5h1M261.0 395.6h1M246.7 399.2h1M270.9 386.0h1M284.6 391.0h1M252.0 395.7h1M285.0 365.9h1M272.1 388.5h1M255.2 393.6h1M290.6 368.0h1M267.4 391.6h1M279.4 366.6h1M299.3 372.9h1M272.0 384.4h1M276.3 392.7h1M267.8 377.7h1M261.8 401.0h1M287.8 385.7h1M275.8 383.4h1M284.5 394.4h1M256.2 383.8h1M257.9 397.3h1M269.1 378.4h1M274.5 374.7h1M269.5 383.2h1M272.9 393.2h1M259.8 386.5h1M278.1 380.4h1M287.7 375.4h1M278.7 398.2h1M253.9 387.1h1M294.8 362.6h1M256.1 403.2h1M282.0 393.4h1M263.1 381.6h1M282.7 373.3h1M262.4 381.6h1M253.0 402.2h1M262.6 401.4h1M267.2 381.5h1M277.4 394.4h1M271.0 400.6h1M264.0 391.6h1M249.8 397.0h1M248.6 394.3h1M263.5 392.4h1M263.0 393.1h1M266.7 385.9h1M258.7 398.4h1M287.3 372.9h1M249.3 400.2h1M280.5 379.8h1M275.8 381.3h1M278.4 363.5h1M281.7 370.7h1M259.1 401.3h1M269.1 378.2h1M277.6 378.7h1M275.0 372.5h1M279.1 385.0h1M268.0 395.2h1M289.8 380.4h1M262.3 380.5h1M257.2 382.6h1M265.0 377.1h1M263.2 387.8h1M261.9 390.8h1M272.0 385.4h1M292.3 356.3h1M273.7 383.2h1M275.8 389.9h1M259.8 384.4h1M268.2 377.0h1M255.2 394.1h1M274.8 380.9h1M274.3 384.7h1M270.0 383.9h1M273.2 379.5h1M274.0 393.5h1M278.6 381.2h1M280.6 385.7h1M269.2 373.9h1M276.9 392.5h1M284.8 383.1h1M272.6 391.8h1M281.5 371.8h1M273.6 391.4h1M272.9 363.4h1M268.3 378.9h1M282.2 398.4h1M258.7 394.0h1M274.1 377.3h1M280.0 388.6h1M270.7 385.3h1M273.3 380.9h1M274.5 387.4h1M261.3 394.9h1M256.5 395.1h1M278.7 381.9h1M271.9 383.9h1M291.1 376.8h1M286.2 362.3h1M281.3 380.6h1M269.6 372.6h1M264.4 368.8h1M261.9 375.4h1M266.0 394.1h1M241.8 408.8h1M278.7 379.2h1M273.1 377.1h1M274.6 389.4h1M276.5 389.5h1M279.6 376.1h1M283.1 380.6h1M265.2 376.9h1M263.6 383.9h1M273.9 377.7h1M278.5 378.3h1M292.4 364.6h1M255.8 389.1h1M274.3 380.1h1M261.1 393.9h1M255.4 379.8h1M292.1 361.6h1M267.1 390.8h1M269.8 387.8h1M257.4 384.2h1M280.9 379.5h1M268.2 392.0h1M247.6 395.8h1M265.0 377.7h1M270.4 369.7h1M274.1 390.1h1M269.0 381.5h1M265.9 395.2h1M258.3 392.3h1M278.2 393.7h1M259.6 397.6h1M259.6 384.0h1M258.9 394.0h1M280.2 400.6h1M272.1 372.3h1M289.1 347.3h1M280.8 343.2h1M284.0 338.5h1M280.5 348.1h1M297.7 323.1h1M282.9 325.6h1M263.5 330.4h1M273.0 332.4h1M304.1 330.3h1M298.2 337.8h1M294.1 337.8h1M274.7 349.9h1M290.5 330.9h1M297.0 337.4h1M285.9 348.9h1M293.5 341.6h1M298.2 333.2h1M297.6 346.1h1M290.0 339.9h1M290.7 349.9h1M268.8 340.8h1M280.5 337.7h1M295.4 351.1h1M305.8 340.7h1M286.3 334.3h1M297.9 338.6h1M283.9 328.1h1M271.8 332.4h1M289.3 329.8h1M290.3 344.3h1M273.3 343.4h1M273.3 335.6h1M284.6 333.9h1M278.0 340.7h1M290.6 338.1h1M267.5 343.9h1M294.6 339.5h1M276.4 335.1h1M288.2 328.1h1M264.5 334.7h1M295.7 331.1h1M286.7 336.5h1M310.5 332.5h1M263.1 332.2h1M261.6 343.7h1M292.9 330.6h1M295.2 332.8h1M261.5 332.0h1M290.8 334.0h1M296.2 340.5h1M302.0 338.7h1M285.9 336.7h1M265.7 353.4h1M260.2 343.4h1M310.7 339.4h1M289.6 340.1h1M296.9 342.5h1M280.6 343.8h1M281.4 339.0h1M281.8 341.1h1M272.1 329.8h1M280.6 337.4h1M270.3 338.4h1M278.8 332.4h1M298.3 336.9h1M284.6 337.3h1M275.4 330.5h1M305.7 330.2h1M300.7 337.5h1M285.2 345.1h1M262.6 342.0h1M300.4 332.9h1M301.3 346.2h1M277.0 339.4h1M302.3 336.5h1M274.3 346.7h1M280.6 330.0h1M278.6 338.9h1M287.1 346.2h1M282.9 343.2h1M302.2 333.6h1M279.5 329.1h1M289.8 335.0h1M284.8 335.9h1M287.4 338.1h1M273.4 327.9h1M283.4 329.3h1M302.2 345.8h1M294.7 336.4h1M269.4 334.3h1M279.3 338.5h1M271.5 335.0h1M275.0 333.5h1M276.5 342.9h1M268.5 330.1h1M290.1 335.8h1M295.3 330.0h1M286.1 335.2h1M278.3 337.8h1M285.9 328.8h1M274.6 335.2h1M296.9 326.8h1M313.5 331.8h1M250.0 325.6h1M289.4 341.4h1M284.9 336.5h1M287.0 341.5h1M281.2 343.7h1M265.4 336.8h1M283.7 345.9h1M279.3 337.9h1M282.0 329.3h1M283.5 333.8h1M278.2 340.6h1M313.1 337.0h1M268.4 333.5h1M278.9 327.9h1M268.3 339.4h1M282.2 336.4h1M303.5 333.1h1M283.7 338.2h1M273.7 335.4h1M267.5 336.3h1M290.6 328.7h1M275.5 341.0h1M292.1 336.1h1M275.4 335.4h1M277.8 341.7h1M283.6 339.1h1M263.7 338.2h1M299.7 345.0h1M270.0 340.7h1M286.4 343.7h1M290.0 339.8h1M313.9 339.6h1M290.3 339.7h1M294.5 332.3h1M277.4 330.0h1M282.1 332.2h1M284.3 341.9h1M297.4 334.4h1M272.1 345.3h1M289.1 333.4h1M319.8 330.8h1M272.2 339.8h1M261.1 338.0h1M277.4 332.5h1M282.3 332.8h1M305.2 339.3h1M290.6 341.1h1M299.1 346.4h1M275.4 339.6h1M284.0 340.7h1M287.9 337.0h1M273.5 334.3h1M288.3 345.3h1M281.0 341.9h1M287.3 339.0h1M267.3 347.6h1M258.8 339.7h1M301.6 339.2h1M284.8 335.0h1M283.0 333.3h1M316.5 331.3h1M297.3 338.0h1M290.0 335.4h1M276.2 336.4h1M288.9 330.7h1M288.1 348.0h1M281.5 338.8h1M302.8 340.8h1M294.1 336.1h1M291.5 330.6h1M274.4 336.4h1M276.1 336.8h1M298.9 340.6h1M287.6 335.1h1M277.8 336.1h1M289.1 342.9h1M285.0 333.4h1M279.6 340.2h1M283.3 349.9h1M294.5 337.8h1M289.0 334.0h1M274.1 335.1h1M275.7 336.9h1M288.6 337.3h1M271.7 334.0h1M286.3 333.7h1M283.9 348.2h1M268.9 342.4h1M254.9 338.2h1M274.4 338.2h1M284.4 332.3h1M284.4 331.3h1M300.3 335.5h1M284.9 339.5h1M283.2 327.1h1M289.5 342.0h1M279.2 338.1h1M305.5 324.0h1M277.2 333.8h1M273.6 334.2h1M278.3 337.6h1M299.2 329.2h1M276.5 320.2h1M274.9 335.8h1M291.9 338.1h1M298.8 329.4h1M278.6 326.0h1M293.0 334.5h1M276.5 342.5h1M301.7 334.1h1M271.2 342.5h1M280.6 331.5h1M279.1 338.6h1M272.6 334.6h1M283.3 336.7h1M292.4 331.7h1M274.6 349.7h1M307.9 333.9h1M287.3 335.8h1M288.3 335.1h1M275.0 346.2h1M283.0 329.0h1M295.5 340.4h1M271.5 335.0h1M275.7 340.6h1M273.9 338.8h1M268.0 340.6h1M292.5 346.3h1M274.3 341.4h1M304.3 328.2h1M268.8 344.7h1M279.8 336.6h1M285.2 347.5h1M271.4 331.2h1M257.8 346.7h1M276.3 344.4h1M283.8 338.0h1M272.0 334.5h1M287.8 344.7h1M260.9 338.9h1M287.6 333.7h1M310.1 335.6h1M296.3 341.0h1M296.3 333.7h1M279.3 330.6h1M278.0 323.5h1M297.7 328.6h1M280.4 347.4h1M291.7 328.8h1M271.5 331.5h1M288.7 334.9h1M286.0 332.7h1M255.9 331.7h1M282.7 338.6h1M291.5 344.0h1M290.9 338.2h1M288.4 332.7h1M300.2 339.5h1M283.4 340.9h1M274.9 345.0h1M295.2 333.1h1M310.9 342.0h1M279.8 338.4h1M303.2 340.3h1M281.4 329.3h1M265.1 331.9h1M272.1 323.7h1M273.5 341.7h1M298.9 342.1h1M285.3 335.3h1M277.6 345.6h1M285.8 339.8h1M301.3 331.9h1M283.0 336.6h1M274.7 332.3h1M288.7 341.2h1M273.7 340.3h1M290.4 337.4h1M296.2 331.2h1M286.0 330.1h1M278.2 329.9h1M285.5 336.2h1M266.5 342.2h1M303.8 338.4h1M313.6 335.3h1M284.7 346.2h1M258.5 343.9h1M276.1 347.8h1M265.8 336.1h1M260.5 336.8h1M282.5 342.5h1M281.6 331.3h1M276.1 336.8h1M297.9 336.9h1M284.3 332.9h1M271.6 335.5h1M289.5 343.0h1M268.4 341.8h1M280.0 345.7h1M273.4 333.8h1M287.7 337.4h1M280.3 331.6h1M276.9 341.5h1M287.7 343.9h1M289.5 329.9h1M286.8 331.8h1M298.4 344.9h1M270.6 331.3h1M289.2 341.0h1M304.5 326.8h1M284.0 333.9h1M256.5 342.0h1M296.3 337.7h1M281.5 338.1h1M293.0 354.2h1M287.2 332.7h1M291.9 338.4h1M299.1 331.6h1M286.5 353.8h1M293.7 332.1h1M267.7 337.6h1M273.2 344.3h1M281.9 325.2h1M303.6 331.0h1M273.9 343.1h1M279.9 342.0h1M292.1 333.0h1M276.8 326.5h1M267.6 334.7h1M259.5 340.8h1M293.3 325.6h1M270.0 341.2h1M287.9 328.7h1M290.2 332.5h1M271.5 338.3h1M289.7 340.2h1M257.4 341.7h1M282.6 337.1h1M270.5 329.3h1M286.8 337.1h1M286.7 342.0h1M285.8 328.7h1M291.4 330.3h1M275.9 336.8h1M265.4 330.3h1M268.3 336.5h1M295.8 325.2h1M270.9 338.2h1M279.8 341.5h1M288.5 339.3h1M281.9 336.2h1M271.5 336.6h1M257.7 341.6h1M295.9 339.4h1M277.1 345.1h1M263.7 341.2h1M275.3 327.5h1M284.6 338.0h1M259.6 344.1h1M285.8 340.8h1M284.2 341.5h1M289.6 337.3h1M284.3 342.0h1M271.1 330.6h1M263.7 343.0h1M281.5 338.7h1M276.9 328.5h1M303.0 336.2h1M279.8 329.6h1M289.0 337.9h1M284.3 332.2h1M261.2 325.1h1M293.6 342.0h1M277.9 334.1h1M266.0 344.6h1M288.9 336.9h1M299.4 340.2h1M282.2 336.3h1M280.6 344.4h1M276.4 350.2h1M278.2 333.8h1M297.6 335.7h1M284.4 329.2h1M288.9 335.5h1M290.9 336.0h1M247.4 344.1h1M286.2 345.2h1M290.8 335.8h1M286.9 343.9h1M264.7 329.6h1M273.4 328.9h1M292.0 333.3h1M288.5 329.4h1M289.3 337.2h1M269.6 341.0h1M286.3 322.2h1M301.8 337.5h1M283.8 329.3h1M300.8 341.0h1M294.3 334.0h1M293.7 331.3h1M275.8 347.6h1M276.1 346.6h1M275.5 341.8h1M298.1 338.5h1M299.2 335.9h1M271.0 342.3h1M267.9 342.4h1M285.6 343.3h1M300.3 342.5h1M286.9 334.7h1M291.7 339.8h1M290.0 343.4h1M291.2 343.8h1M282.3 342.0h1M290.2 346.6h1M292.1 335.4h1M282.2 334.7h1M305.0 344.1h1M270.6 341.1h1M279.0 339.6h1M272.9 332.8h1M297.2 340.9h1M297.3 338.5h1M274.7 343.9h1M284.9 343.0h1M278.3 341.5h1M265.7 318.0h1M273.3 330.8h1M287.7 334.7h1M290.6 335.0h1M275.1 346.9h1M283.9 343.1h1M293.6 331.9h1M300.8 336.0h1M287.6 330.1h1M273.6 337.5h1M264.0 334.7h1M284.5 336.3h1M279.7 334.0h1M276.3 335.1h1M274.8 330.8h1M276.9 340.6h1M285.7 338.3h1M292.3 340.8h1M273.6 337.6h1M306.6 333.0h1M301.3 335.6h1M281.3 349.1h1M287.8 341.1h1M302.7 339.3h1M272.5 339.6h1M276.3 341.3h1M276.3 339.7h1M271.0 332.1h1M292.4 332.9h1M280.6 328.5h1M285.5 346.9h1M285.2 343.4h1M281.7 344.9h1M302.2 329.9h1M281.5 332.8h1M273.4 341.1h1M267.0 341.2h1M275.3 335.8h1M285.7 328.9h1M285.5 327.4h1M287.6 340.8h1M278.4 331.8h1M289.3 337.9h1M289.0 326.9h1M268.2 321.8h1M288.6 333.4h1M288.8 333.0h1M281.3 352.9h1M297.2 332.8h1M285.1 347.4h1M274.8 341.1h1M295.3 331.0h1M306.3 345.6h1M268.9 323.3h1M283.2 340.4h1M294.6 331.6h1M291.6 339.9h1M296.3 332.1h1M300.3 339.7h1M261.9 338.5h1M293.2 350.8h1M263.5 332.1h1M272.0 333.4h1M270.6 339.8h1M290.0 338.6h1M263.7 344.8h1M285.4 341.5h1M265.1 336.5h1M308.5 333.9h1M277.1 332.8h1M283.3 329.9h1M269.0 331.7h1M276.6 334.9h1M300.0 334.0h1M287.0 338.1h1M269.1 330.1h1M277.9 341.8h1M282.2 342.0h1M305.5 333.8h1M282.9 345.9h1M289.4 338.7h1M297.4 345.6h1M313.7 340.7h1M290.8 315.1h1M271.2 347.8h1M271.3 331.6h1M305.2 339.6h1M289.3 343.8h1M260.5 347.4h1M277.3 333.6h1M278.3 339.7h1M279.6 337.2h1M291.3 326.5h1M292.7 345.0h1M301.2 349.3h1M260.4 337.4h1M287.1 328.4h1M281.3 336.2h1M270.2 329.1h1M294.0 329.5h1M267.3 335.7h1M266.9 342.5h1M304.0 335.0h1M288.6 329.6h1M294.0 333.3h1M300.3 336.1h1M267.9 335.4h1M301.0 336.1h1M285.0 331.7h1M290.7 337.9h1M293.5 326.3h1M291.8 334.0h1M279.2 335.9h1M284.4 347.8h1M286.7 349.9h1M297.2 337.2h1M256.6 341.0h1M301.0 324.0h1M272.6 342.0h1M311.5 341.4h1M289.8 331.6h1M306.6 348.2h1M281.2 336.5h1M306.1 343.8h1M290.2 353.8h1M289.9 347.8h1M289.8 337.6h1M253.0 338.7h1M265.7 339.7h1M264.1 343.8h1M285.1 336.7h1M281.2 335.6h1M294.4 336.3h1M288.0 326.9h1M299.3 330.4h1M275.6 343.3h1M288.7 341.0h1M278.1 343.3h1M269.4 337.1h1M261.5 332.0h1M282.3 327.6h1M272.4 336.8h1M277.5 341.3h1M272.3 344.4h1M270.7 348.0h1M318.7 324.7h1M284.5 339.3h1M267.6 341.2h1M280.8 326.0h1M284.3 341.1h1M265.4 338.7h1M296.9 333.8h1M272.8 349.1h1M290.7 345.1h1M276.9 317.4h1M273.4 335.4h1M324.8 347.1h1M276.1 341.1h1M264.4 338.7h1M276.8 333.7h1M271.0 338.3h1M297.5 343.6h1M289.0 336.8h1M268.2 331.0h1M305.8 339.6h1M280.9 344.3h1M267.3 344.6h1M297.9 350.5h1M291.3 329.0h1M270.5 335.7h1M269.2 338.3h1M281.4 336.1h1M274.5 329.8h1M290.4 339.0h1M287.4 345.0h1M268.0 331.1h1M270.4 351.9h1M280.3 339.4h1M299.4 329.0h1M274.8 328.0h1M290.9 337.1h1M275.2 338.0h1M288.9 337.5h1M276.2 339.0h1M288.7 337.4h1M271.6 329.0h1M273.7 334.5h1M307.2 325.2h1M294.8 332.9h1M267.6 340.1h1M298.2 337.9h1M280.4 323.7h1M300.5 339.9h1M265.9 331.5h1M282.2 343.0h1M277.6 333.9h1M274.4 339.7h1M268.6 340.5h1M308.0 341.0h1M283.4 341.6h1M279.2 336.3h1M261.8 329.6h1M297.3 333.9h1M297.8 341.7h1M281.0 334.4h1M266.7 353.4h1M290.6 337.2h1M282.6 323.1h1M265.7 352.8h1M309.9 337.7h1M292.3 330.4h1M270.2 326.0h1M272.7 329.8h1M293.5 339.2h1M298.0 326.0h1M290.5 326.8h1M290.2 338.7h1M278.8 336.7h1M310.2 341.1h1M280.3 339.0h1M286.2 328.2h1M289.0 343.9h1M279.9 329.7h1M293.6 334.2h1M303.4 333.6h1M256.0 342.1h1M281.0 332.3h1M299.9 336.9h1M301.9 337.1h1M278.6 347.1h1M292.5 336.3h1M286.6 339.1h1M285.6 331.5h1M276.0 336.5h1M296.8 336.8h1M299.4 339.4h1M304.5 339.7h1M287.7 341.3h1M285.6 332.5h1M299.0 345.3h1M326.7 343.9h1M281.2 335.6h1M282.7 328.2h1M306.5 333.8h1M270.0 338.9h1M251.6 325.6h1M296.7 334.4h1M302.2 339.7h1M301.1 335.1h1M296.8 330.1h1M298.4 338.7h1M275.4 332.6h1M297.8 338.5h1M271.8 336.9h1M264.5 336.2h1M282.4 352.6h1M267.7 330.4h1M270.3 334.3h1M276.0 334.9h1M279.0 336.4h1M286.3 338.7h1M270.9 329.6h1M276.7 337.7h1M282.0 332.1h1M286.8 347.8h1M289.6 324.8h1M293.9 335.6h1M287.0 335.5h1M290.3 343.5h1M293.0 342.6h1M283.9 334.9h1M287.6 357.7h1M272.3 330.4h1M287.4 342.1h1M296.9 341.9h1M275.9 337.9h1M300.3 325.0h1M277.7 336.7h1M297.5 330.2h1M305.9 344.4h1M287.3 341.3h1M279.0 332.5h1M290.3 344.6h1M280.1 354.3h1M273.0 342.7h1M297.6 339.4h1M260.1 340.4h1M295.5 332.8h1M274.2 334.3h1M296.2 339.9h1M277.6 334.6h1M307.4 337.3h1M277.9 337.4h1M256.1 345.1h1M321.0 331.7h1M284.7 339.8h1M282.2 330.2h1M284.5 346.4h1M279.8 330.9h1M288.3 344.8h1M274.4 335.5h1M312.1 343.1h1M275.6 343.8h1M292.1 332.8h1M301.7 346.9h1M281.0 332.1h1M294.5 323.9h1M277.1 333.5h1M272.0 347.9h1M273.8 334.1h1M297.9 337.5h1M297.4 335.8h1M272.6 338.2h1M296.7 330.2h1M272.1 327.5h1M286.3 335.3h1M292.5 328.1h1M258.2 341.7h1M291.2 322.2h1M280.5 343.5h1M265.6 345.1h1M292.7 339.2h1M287.4 332.0h1M288.2 330.9h1M281.0 347.2h1M275.3 336.2h1M267.1 335.6h1M280.1 321.5h1M270.6 339.8h1M278.7 346.2h1M289.5 347.3h1M294.0 337.9h1M289.0 333.7h1M287.3 335.6h1M280.4 337.9h1M296.0 341.5h1M298.7 336.6h1M277.5 337.3h1M277.4 321.7h1M271.4 338.4h1M280.4 344.2h1M278.4 340.3h1M308.6 337.3h1M301.7 349.5h1M266.6 338.4h1M293.5 335.7h1M280.7 336.6h1M262.1 344.7h1M287.1 338.8h1M275.1 336.0h1M287.4 331.9h1M290.3 335.1h1M275.9 345.9h1M302.4 332.0h1M285.0 327.5h1M273.9 339.3h1M263.9 354.5h1M311.6 330.4h1M273.3 331.2h1M284.5 336.9h1M287.5 339.5h1M294.6 329.3h1M266.3 332.8h1M252.8 338.6h1M285.1 337.9h1M264.7 336.7h1M279.7 330.6h1M309.7 334.7h1M276.4 344.6h1M292.3 340.3h1M269.4 336.7h1M321.2 332.5h1M278.9 340.7h1M288.3 332.0h1M282.0 341.0h1M275.5 331.3h1M296.5 325.8h1M280.3 332.0h1M271.8 337.0h1M276.4 333.8h1M280.2 350.6h1M284.1 328.0h1M285.3 342.5h1M273.3 344.0h1M276.9 340.3h1M309.8 342.2h1M279.9 337.9h1M300.5 338.7h1M277.5 338.5h1M287.2 330.4h1M274.9 335.8h1M258.1 343.0h1M276.0 339.5h1M294.3 342.6h1M298.6 330.9h1M296.8 344.2h1M275.9 341.0h1M278.1 328.0h1M268.3 340.7h1M286.1 336.9h1M292.8 334.4h1M286.0 348.0h1M273.1 337.3h1M287.4 331.7h1M283.8 336.8h1M288.5 334.0h1M280.6 343.7h1M285.2 337.6h1M273.6 340.4h1M272.1 338.5h1M251.0 347.9h1M285.6 341.7h1M284.6 334.9h1M270.7 342.6h1M302.2 333.6h1M297.8 327.7h1M304.6 335.2h1M281.4 337.4h1M279.6 334.3h1M287.5 343.2h1M295.0 340.4h1M302.6 343.5h1M271.2 343.7h1M280.5 327.5h1M257.7 343.9h1M279.8 338.0h1M294.9 339.3h1M292.1 340.0h1M313.3 338.0h1M292.0 338.7h1M277.8 336.0h1M273.8 340.1h1M286.5 335.1h1M304.4 337.6h1M267.4 340.4h1M271.2 339.6h1M283.8 327.3h1M279.4 345.3h1M294.8 338.0h1M277.2 333.8h1M283.7 334.4h1M283.5 343.7h1M286.4 344.2h1M300.8 337.1h1M266.5 331.5h1M261.1 334.3h1M264.4 339.1h1M279.7 340.0h1M284.9 339.0h1M290.2 338.3h1M287.8 345.9h1M285.4 346.0h1M260.7 339.3h1M274.3 326.6h1M288.7 336.0h1M268.1 349.1h1M277.5 344.7h1M277.8 338.4h1M289.9 343.4h1M272.0 336.9h1M262.2 343.2h1M278.9 342.7h1M280.0 345.9h1M293.8 334.6h1M275.5 336.1h1M280.2 335.4h1M276.5 333.9h1M277.2 338.8h1M309.3 329.0h1M251.3 345.5h1M290.5 332.7h1M273.3 340.6h1M284.4 340.5h1M263.9 342.7h1M285.6 334.0h1M272.9 336.9h1M290.0 330.6h1M300.9 342.0h1M267.3 337.0h1M263.1 344.2h1M297.7 333.5h1M307.6 327.6h1M283.7 343.1h1M256.6 332.1h1M263.7 344.5h1M294.9 327.8h1M305.5 335.2h1M281.5 334.0h1M266.4 344.7h1M297.4 326.8h1M266.0 338.7h1M274.7 340.4h1M274.9 331.7h1M275.3 342.3h1M290.2 338.4h1M271.0 340.1h1M285.4 341.8h1M296.8 329.9h1M296.6 326.3h1M300.7 341.9h1M278.0 327.9h1M261.2 331.7h1M285.8 339.2h1M286.0 333.1h1M286.3 324.9h1M278.6 341.2h1M289.3 340.1h1M270.5 343.7h1M293.0 324.0h1M305.5 329.8h1M285.3 341.7h1M284.1 337.8h1M291.3 332.6h1M290.5 338.2h1M290.3 329.6h1M286.0 336.4h1M279.5 329.6h1M303.3 333.8h1M268.1 336.4h1M297.9 339.7h1M272.4 335.4h1M289.2 331.6h1M271.8 346.8h1M263.6 334.4h1M269.8 329.7h1M270.7 331.8h1M300.2 333.3h1M275.7 338.2h1M274.7 343.5h1M271.2 342.7h1M283.0 338.8h1M283.3 342.9h1M290.3 335.6h1M274.6 340.0h1M268.0 339.1h1M282.0 329.3h1M294.2 334.8h1M292.4 331.9h1M271.2 347.3h1M276.7 333.4h1M287.7 341.1h1M275.3 327.3h1M265.9 346.3h1M285.9 340.9h1M278.4 331.8h1M286.3 324.0h1M294.4 344.6h1M277.0 338.1h1M269.0 341.6h1M273.1 327.4h1M292.4 323.6h1M284.4 334.5h1M292.8 330.3h1M279.0 340.1h1M292.9 342.4h1M277.0 333.4h1M275.3 339.2h1M282.9 331.6h1M281.8 337.8h1M279.8 328.5h1M284.0 337.0h1M295.3 335.6h1M274.5 330.9h1M261.1 336.3h1M288.1 327.8h1M307.3 338.5h1M296.9 341.0h1M267.9 331.7h1M288.9 333.0h1M297.6 339.0h1M295.0 342.3h1M306.6 339.1h1M294.1 336.1h1M248.2 339.8h1M290.9 342.5h1M273.9 342.1h1M271.5 334.0h1M261.3 331.1h1M266.7 328.5h1M278.9 341.4h1M297.5 342.3h1M297.6 332.5h1M291.8 338.1h1M298.8 331.4h1M278.0 331.6h1M272.8 339.6h1M307.6 336.3h1M289.7 345.9h1M279.4 346.2h1M292.7 332.2h1M273.3 325.2h1M303.9 345.8h1M267.3 346.3h1M276.7 340.2h1M280.8 332.9h1M281.5 348.1h1M267.5 337.8h1M293.9 328.6h1M292.0 350.0h1M284.5 343.9h1M290.6 332.7h1M277.3 330.9h1M296.0 341.3h1M276.0 332.4h1M269.7 332.3h1M281.7 345.4h1M281.1 337.9h1M288.2 340.3h1M292.2 338.5h1M305.0 334.8h1M267.1 344.6h1M264.0 349.3h1M287.6 345.2h1M300.7 344.1h1M296.8 337.8h1M282.2 331.9h1M281.0 340.5h1M280.4 341.6h1M306.5 339.1h1M281.1 332.9h1M288.1 337.8h1M268.5 337.8h1M295.8 340.6h1M282.4 337.6h1M280.8 339.7h1M279.9 330.7h1M282.4 337.0h1M318.0 328.3h1M291.7 334.2h1M292.4 335.3h1M275.1 347.9h1M266.4 339.4h1M257.3 344.2h1M276.5 331.7h1M286.2 335.1h1M287.0 334.8h1M265.9 339.2h1M292.0 328.9h1M277.8 349.5h1M298.2 332.3h1M281.1 339.8h1M285.1 343.3h1M275.3 342.1h1M275.6 338.1h1M284.6 335.6h1M291.2 330.5h1M293.6 340.8h1M275.6 342.2h1M268.4 332.1h1M289.3 330.4h1M300.8 342.6h1M278.4 341.9h1M278.9 335.8h1M278.9 339.4h1M288.4 333.1h1M296.6 341.3h1M272.8 341.9h1M288.9 318.9h1M302.1 329.8h1M291.4 327.4h1M274.6 335.4h1M266.4 342.1h1M284.5 330.1h1M300.9 327.1h1M294.6 337.8h1M302.7 337.9h1M279.8 334.0h1M285.4 337.7h1M274.9 346.8h1M291.3 332.7h1M281.9 332.5h1M275.3 348.4h1M279.2 326.7h1M292.1 343.7h1M296.1 344.2h1M294.8 342.3h1M313.9 336.0h1M294.2 337.4h1M273.8 348.3h1M298.3 336.1h1M274.1 335.4h1M271.4 342.4h1M294.6 351.0h1M277.9 344.8h1M285.2 341.8h1M278.4 333.4h1M282.8 340.6h1M263.2 336.0h1M295.3 319.8h1M300.3 336.7h1M282.1 338.9h1M300.3 331.2h1M295.4 329.4h1M299.6 328.6h1M303.6 336.3h1M270.2 345.9h1M295.9 348.5h1M283.6 342.9h1M294.8 339.1h1M282.3 345.1h1M311.5 345.3h1M306.1 338.7h1M285.3 340.5h1M291.0 340.9h1M287.6 326.5h1M288.2 331.8h1M297.4 345.0h1M272.9 332.7h1M267.6 339.5h1M299.6 341.9h1M289.8 341.1h1M278.8 321.7h1M276.9 339.0h1M267.1 344.2h1M281.9 339.0h1M263.5 334.4h1M287.0 336.9h1M288.9 339.0h1M277.1 344.1h1M298.1 341.3h1M295.0 345.8h1M287.6 337.6h1M275.6 335.3h1M276.7 335.5h1M273.2 338.9h1M260.0 330.9h1M284.8 335.2h1M293.7 333.6h1M266.1 345.3h1M289.2 339.8h1M281.7 340.6h1M285.6 331.0h1M293.6 338.0h1M296.1 338.1h1M276.0 339.5h1M293.3 327.7h1M279.4 341.2h1M252.6 344.0h1M309.8 334.8h1M284.8 338.0h1M279.9 329.2h1M300.8 329.5h1M289.9 335.2h1M277.3 338.7h1M286.9 337.0h1M287.9 328.8h1M281.6 334.8h1M254.2 334.9h1M286.9 351.9h1M272.8 345.0h1M271.1 339.0h1M284.5 333.4h1M310.9 331.9h1M269.1 337.5h1M288.6 348.0h1M265.5 337.8h1M264.2 343.5h1M280.2 351.0h1M296.0 342.5h1M287.8 339.9h1M287.6 336.3h1M299.2 332.1h1M290.2 336.2h1M276.7 337.9h1M272.3 341.3h1M280.3 337.9h1M288.9 344.2h1M279.7 333.4h1M281.1 337.6h1M276.7 331.5h1M273.8 334.5h1M269.1 340.6h1M274.1 338.5h1M306.4 336.4h1M297.6 336.4h1M302.3 352.1h1M285.9 343.1h1M281.9 325.5h1M294.3 336.2h1M278.9 328.8h1M298.6 339.8h1M286.3 346.7h1M294.2 338.6h1M274.5 340.0h1M307.2 340.9h1M286.3 329.8h1M292.0 328.0h1M275.0 342.0h1M274.8 325.6h1M292.6 331.1h1M263.9 345.5h1M299.4 329.9h1M276.5 335.2h1M296.2 336.4h1M276.4 347.4h1M283.4 334.5h1M285.4 341.8h1M295.0 325.5h1M273.7 344.2h1M291.5 346.0h1M287.7 334.2h1M294.2 343.9h1M273.1 328.6h1M284.5 342.8h1M274.7 333.2h1M279.7 343.5h1M297.7 339.6h1M299.0 335.4h1M272.7 342.1h1M281.9 333.0h1M283.4 341.5h1M271.8 329.0h1M278.9 331.9h1M271.2 347.7h1M290.4 324.4h1M272.0 335.7h1M302.1 341.3h1M259.4 336.6h1M291.2 335.9h1M291.4 331.6h1M275.6 332.2h1M262.3 330.8h1M286.6 344.7h1M268.6 336.2h1M297.8 340.1h1M285.8 346.6h1M284.0 342.0h1M285.7 343.5h1M293.2 334.2h1M283.7 338.9h1M290.7 334.5h1M288.5 337.4h1M277.4 336.6h1M297.5 333.4h1M304.1 341.0h1M297.8 337.3h1M285.4 338.0h1M292.5 339.8h1M270.9 344.0h1M273.5 335.9h1M272.6 333.8h1M276.0 326.0h1M294.2 335.3h1M273.5 336.0h1M276.2 344.2h1M265.0 338.4h1M274.7 329.7h1M262.3 325.8h1M294.7 333.3h1M281.2 326.8h1M294.7 325.9h1M300.0 322.9h1M289.3 331.8h1M288.1 340.3h1M285.3 335.6h1M278.0 329.5h1M256.9 341.7h1M286.0 336.9h1M275.3 342.4h1M271.5 341.0h1M277.0 346.1h1M283.0 329.7h1M292.5 340.6h1M271.3 336.9h1M267.9 334.5h1M297.2 338.1h1M290.9 343.3h1M293.8 340.2h1M280.7 343.7h1M266.4 337.2h1M300.4 340.0h1M298.8 329.3h1M276.4 339.6h1M288.7 333.6h1M297.6 342.1h1M315.2 346.5h1M298.9 338.4h1M290.4 330.8h1M280.9 331.2h1M277.8 330.0h1M283.3 339.7h1M275.8 339.8h1M291.8 335.9h1M285.9 339.1h1M280.9 333.9h1M271.2 332.6h1M285.1 331.2h1M280.2 342.3h1M288.5 327.8h1M273.0 349.6h1M292.6 338.8h1M282.9 340.7h1M308.0 336.3h1M274.8 339.5h1M308.3 329.0h1M320.6 340.1h1M283.8 332.7h1M310.2 342.9h1M298.7 336.7h1M269.4 335.8h1M277.4 331.6h1M297.7 343.8h1M289.3 350.6h1M295.2 326.2h1M290.6 342.7h1M303.2 338.1h1M282.1 338.4h1M271.4 329.3h1M276.5 333.2h1M284.3 329.8h1M273.3 329.6h1M284.4 334.1h1M282.4 338.7h1M280.6 329.1h1M284.1 331.0h1M280.0 335.5h1M297.8 347.8h1M286.3 340.7h1M294.3 333.9h1M267.2 341.0h1M284.9 331.2h1M278.1 321.0h1M260.6 337.7h1M310.1 333.5h1M268.2 332.5h1M294.5 325.5h1M294.9 349.7h1M299.4 339.3h1M279.0 328.5h1M253.2 338.9h1M293.3 347.3h1M283.5 333.8h1M293.5 344.8h1M282.7 331.4h1M300.7 330.1h1M291.5 339.0h1M281.0 344.5h1M314.7 332.2h1M277.8 339.6h1M258.0 340.2h1M286.7 340.6h1M291.2 339.7h1M292.5 342.7h1M278.1 332.1h1M284.5 329.9h1M274.9 342.8h1M280.4 345.2h1M293.1 331.8h1M278.2 329.3h1M293.9 333.1h1M281.7 330.0h1M285.9 332.0h1M281.1 336.7h1M299.4 337.8h1M286.8 341.6h1M275.4 338.0h1M287.2 347.8h1M299.3 327.1h1M288.7 343.8h1M271.8 336.0h1M275.5 335.2h1M272.2 338.2h1M301.8 336.3h1M287.4 341.8h1M295.9 339.0h1M294.9 331.8h1M280.6 332.9h1M298.9 344.5h1M283.4 337.5h1M289.4 347.7h1M259.7 338.9h1M283.4 336.7h1M279.9 345.7h1M274.5 328.7h1M287.4 345.4h1M268.3 330.4h1M281.6 347.6h1M252.4 334.3h1M282.0 349.1h1M275.7 340.8h1M306.1 344.2h1M286.3 335.2h1M291.8 341.9h1M247.8 340.5h1M278.5 336.1h1M269.8 344.2h1M300.5 340.1h1M295.9 335.2h1M285.8 343.2h1M285.9 334.8h1M285.8 348.3h1M282.6 324.8h1M291.6 330.1h1M291.7 346.1h1M282.3 342.4h1M275.0 340.1h1M303.8 332.9h1M278.3 333.1h1M274.5 331.3h1M312.4 328.7h1M285.7 344.2h1M282.1 336.5h1M267.3 339.3h1M271.0 334.3h1M301.3 337.4h1M280.8 348.7h1M298.7 339.6h1M270.1 322.7h1M294.6 336.7h1M286.0 329.8h1M279.5 338.0h1M262.7 340.2h1M301.4 336.3h1M286.6 338.6h1M284.3 332.0h1M296.1 339.5h1M273.1 349.5h1M302.4 331.0h1M295.0 333.5h1M292.3 339.5h1M292.8 337.8h1M276.8 333.0h1M283.1 335.1h1M291.2 343.1h1M278.6 329.2h1M301.4 320.6h1M295.6 336.6h1M303.1 342.5h1M266.3 331.7h1M304.2 327.6h1M279.6 343.1h1M276.4 347.1h1M282.2 345.8h1M303.2 339.4h1M291.5 343.8h1M290.6 339.9h1M298.5 339.5h1M299.4 346.9h1M299.7 334.8h1M296.7 328.4h1M289.9 350.0h1M291.9 338.9h1M268.6 341.5h1M283.7 342.6h1M258.0 338.9h1M284.5 344.5h1M286.3 332.8h1M276.0 340.6h1M279.1 344.7h1M298.2 334.8h1M280.8 337.7h1M284.9 329.2h1M308.8 335.9h1M289.3 340.2h1M295.9 325.7h1M290.6 336.5h1M292.0 335.5h1M298.7 328.3h1M282.5 341.7h1M294.3 338.2h1M279.2 343.2h1M279.2 326.4h1M292.8 343.1h1M277.6 345.5h1M252.7 347.0h1M281.3 327.1h1M300.3 330.7h1M272.4 343.2h1M292.1 342.4h1M279.2 324.0h1M266.0 343.0h1M280.5 338.1h1M256.3 344.0h1M298.3 321.9h1M279.7 342.8h1M289.4 346.7h1M284.1 337.0h1M265.7 337.3h1M279.3 340.3h1M298.9 341.9h1M294.7 349.0h1M279.7 343.9h1M274.5 326.9h1M283.6 348.4h1M267.5 330.9h1M286.3 323.6h1M263.3 330.7h1M274.6 336.1h1M293.9 329.2h1M283.5 329.9h1M276.2 346.5h1M285.5 334.1h1M280.9 344.0h1M287.6 350.4h1M296.9 330.8h1M282.9 342.7h1M262.8 337.0h1M289.5 345.4h1M273.7 331.8h1M297.8 333.1h1M296.1 339.0h1M284.0 343.4h1M289.8 341.8h1M265.8 337.6h1M262.7 342.9h1M280.0 344.3h1M288.0 333.9h1M300.5 334.7h1M275.4 331.8h1M272.3 332.9h1M273.8 345.7h1M274.7 337.5h1M286.4 343.1h1M266.8 347.2h1M293.3 336.4h1M267.9 340.3h1M311.7 333.7h1M282.5 340.4h1M284.9 333.5h1M263.6 339.8h1M287.5 335.9h1M260.1 332.4h1M293.8 326.3h1M276.2 340.3h1M287.7 349.9h1M290.7 347.0h1M295.0 329.4h1M300.0 325.8h1M297.6 331.5h1M292.6 327.7h1M276.6 340.1h1M270.2 341.6h1M292.7 328.9h1M287.8 332.4h1M277.4 334.3h1M283.1 333.5h1M295.5 336.9h1M295.7 347.0h1M276.2 330.6h1M267.7 336.5h1M260.6 343.0h1M278.5 340.6h1M279.8 332.1h1M267.9 342.2h1M297.4 343.6h1M307.2 333.6h1M274.3 332.5h1M292.8 331.0h1M282.3 332.1h1M290.9 334.9h1M286.2 338.2h1M283.6 349.0h1M295.7 337.5h1M292.9 340.5h1M278.4 327.2h1M290.2 339.9h1M276.6 335.5h1M283.3 332.2h1M291.9 343.7h1M290.2 344.0h1M264.6 330.3h1M290.9 329.3h1M269.9 348.2h1M286.8 336.5h1M292.3 328.4h1M266.0 343.1h1M270.9 337.6h1M294.1 336.0h1M288.1 339.2h1M258.8 341.8h1M296.7 353.1h1M276.9 344.7h1M269.8 340.3h1M287.2 335.9h1M275.8 326.8h1M283.8 322.1h1M286.9 328.6h1M313.9 334.6h1M295.9 343.5h1M287.3 338.4h1M285.0 330.6h1M288.4 338.0h1M290.0 335.4h1M276.0 329.8h1M290.7 342.6h1M275.9 342.1h1M276.6 328.4h1M282.8 333.8h1M296.3 330.6h1M294.1 334.9h1M248.0 345.3h1M298.5 328.1h1M284.9 339.5h1M284.9 333.9h1M301.8 332.5h1M275.1 334.6h1M271.6 344.8h1M259.5 335.3h1M269.9 345.8h1M294.0 334.5h1M274.2 340.0h1M270.7 328.4h1M289.0 340.5h1M271.5 338.7h1M274.6 338.6h1M274.6 349.5h1M288.8 338.4h1M275.3 337.9h1M277.9 342.3h1M281.6 338.3h1M261.1 336.7h1M280.5 335.0h1M261.3 335.0h1M268.6 331.5h1M277.4 330.5h1M285.1 338.9h1M280.3 335.4h1M296.6 336.7h1M285.1 340.0h1M290.7 340.0h1M278.0 344.2h1M275.6 336.5h1M303.8 330.3h1M263.5 341.0h1M298.0 339.5h1M274.6 343.4h1M292.1 345.0h1M268.0 344.9h1M289.5 335.9h1M287.9 347.4h1M257.1 328.8h1M275.3 332.8h1M291.4 336.7h1M296.2 340.4h1M286.9 331.6h1M276.7 339.8h1M282.2 325.4h1M267.6 339.0h1M271.1 335.2h1M286.5 342.3h1M283.1 330.6h1M292.0 333.8h1M285.5 334.1h1M290.1 326.6h1M282.5 342.6h1M291.6 348.2h1M314.3 347.8h1M271.7 342.2h1M285.4 339.3h1M278.1 339.8h1M289.6 333.9h1M289.0 330.3h1M274.0 342.2h1M285.3 329.6h1M286.5 340.4h1M282.8 343.3h1M287.4 332.5h1M300.6 331.0h1M291.1 332.6h1M281.1 343.5h1M286.4 328.5h1M308.3 333.4h1M276.6 342.3h1M297.7 336.2h1M275.8 336.3h1M264.4 338.4h1M275.7 341.1h1M287.6 326.6h1M281.2 340.2h1M275.3 335.2h1M274.4 337.9h1M272.1 336.1h1M271.4 347.7h1M275.9 325.3h1M252.9 329.5h1M289.2 337.1h1M287.1 329.9h1M285.1 336.5h1M294.8 331.5h1M276.6 338.0h1M284.3 346.5h1M252.2 342.4h1M286.3 340.4h1M279.2 341.6h1M291.9 349.0h1M294.3 338.0h1M281.5 333.7h1M268.2 335.6h1M288.2 341.8h1M293.6 326.4h1M295.0 337.8h1M277.2 335.2h1M272.5 339.0h1M280.7 342.3h1M270.9 337.0h1M257.6 344.3h1M288.5 343.7h1M289.6 348.3h1M291.7 335.7h1M273.0 334.0h1M283.2 337.5h1M268.9 340.3h1M265.5 339.4h1M289.1 331.9h1M261.4 341.4h1M279.4 337.8h1M312.3 333.5h1M298.5 337.1h1M291.7 334.8h1M290.8 332.8h1M281.2 339.0h1M275.7 325.9h1M308.6 340.0h1M281.2 337.2h1M276.3 336.0h1M291.8 337.0h1M283.3 344.0h1M299.6 336.1h1M276.3 343.3h1M273.6 338.7h1M278.6 334.2h1M303.2 331.5h1M295.2 336.7h1M287.2 339.9h1M284.3 324.1h1M288.1 337.6h1M271.4 326.8h1M290.4 341.5h1M277.8 336.0h1M286.3 327.4h1M284.5 342.4h1M288.1 344.1h1M278.0 331.6h1M295.2 326.9h1M288.1 331.9h1M274.4 334.9h1M289.6 340.0h1M279.7 335.2h1M288.5 331.6h1M294.6 338.8h1M278.6 347.2h1M283.3 330.4h1M285.3 344.1h1M285.0 345.2h1M309.1 338.6h1M288.0 330.3h1M270.5 345.6h1M285.5 336.8h1M276.8 326.2h1M313.9 333.1h1M276.5 338.8h1M270.8 342.7h1M293.6 346.0h1M277.3 329.1h1M279.9 345.4h1M281.3 336.5h1M275.6 331.7h1M279.3 341.0h1M257.3 339.8h1M282.6 331.0h1M292.1 336.0h1M306.7 328.6h1M284.7 330.3h1M293.9 327.6h1M275.9 346.1h1M302.1 334.3h1M311.8 335.2h1M288.5 338.0h1M280.7 347.6h1M285.1 338.0h1M303.0 328.5h1M268.9 332.1h1M300.3 340.5h1M272.3 338.4h1M274.4 338.3h1M287.5 332.1h1M292.6 340.8h1M296.5 340.4h1M302.4 344.8h1M270.4 333.1h1M284.8 325.7h1M293.8 334.2h1M287.7 333.3h1M298.1 331.6h1M285.4 343.9h1M280.7 333.6h1M256.6 329.4h1M261.2 332.0h1M294.2 337.7h1M270.7 342.4h1M288.5 340.9h1M292.1 329.5h1M283.3 340.8h1M296.9 335.7h1M276.5 336.1h1M291.8 338.4h1M283.2 342.6h1M266.1 335.4h1M260.1 342.9h1M282.2 339.7h1M304.0 329.1h1M298.5 332.0h1M291.0 349.8h1M294.6 343.2h1M295.3 331.9h1M281.7 342.7h1M300.3 331.4h1M287.3 330.5h1M277.9 331.1h1M331.3 324.0h1M293.1 344.3h1M283.3 342.4h1M294.0 339.5h1M269.7 340.6h1M269.1 332.1h1M307.9 332.9h1M292.4 341.5h1M271.3 340.3h1M264.8 345.3h1M283.2 339.2h1M271.9 345.7h1M300.0 324.7h1M260.3 333.2h1M299.4 338.2h1M271.7 338.4h1M268.5 332.9h1M284.6 336.9h1M268.0 330.1h1M276.8 336.2h1M276.4 323.3h1M253.8 334.4h1M269.6 344.2h1M288.5 342.7h1M258.4 341.4h1M266.5 327.0h1M272.6 339.4h1M295.0 330.6h1M295.7 344.9h1M302.2 332.7h1M272.3 344.0h1M294.1 339.2h1M286.8 336.7h1M268.2 346.1h1M289.6 322.3h1M284.1 343.7h1M275.7 340.3h1M269.8 327.3h1M263.4 332.2h1M290.8 351.2h1M289.2 334.0h1M279.9 330.6h1M279.4 343.3h1M276.3 337.2h1M293.5 340.8h1M286.5 341.3h1M261.1 327.5h1M284.5 330.8h1M289.9 341.5h1M276.7 344.6h1M277.6 332.5h1M276.4 335.7h1M291.8 338.3h1M278.7 335.5h1M283.8 344.7h1M285.1 341.2h1M303.3 340.2h1M264.7 330.2h1M312.8 335.3h1M269.1 343.6h1M281.3 341.4h1M273.4 330.6h1M285.3 334.4h1M290.9 339.6h1M313.0 337.3h1M298.5 331.4h1M275.5 338.9h1M286.7 338.0h1M285.6 340.7h1M276.3 351.9h1M291.1 332.7h1M287.3 337.5h1M278.1 331.9h1M274.3 318.2h1M292.8 338.3h1M282.3 333.2h1M298.9 338.1h1M294.9 340.6h1M269.1 342.4h1M257.8 340.3h1M284.4 336.4h1M274.9 326.5h1M270.8 335.1h1M275.1 340.6h1M301.6 329.8h1M281.4 342.3h1M307.4 331.2h1M293.6 334.8h1M262.4 341.1h1M289.3 333.7h1M302.2 328.9h1M261.5 334.0h1M268.7 348.9h1M283.1 347.5h1M277.1 337.8h1M305.2 337.5h1M273.6 346.1h1M305.0 331.1h1M266.3 334.8h1M272.9 330.0h1M288.0 334.9h1M289.9 326.0h1M286.1 340.7h1M304.3 338.2h1M306.6 331.7h1M308.6 333.2h1M283.4 346.2h1M295.3 341.1h1M280.5 333.4h1M302.0 335.1h1M255.4 342.8h1M276.1 339.0h1M281.5 337.9h1M278.1 338.5h1M303.9 333.0h1M266.5 333.8h1M274.2 342.1h1M268.4 323.6h1M283.5 335.0h1M272.8 338.2h1M295.4 324.8h1M295.4 336.2h1M258.1 345.3h1M257.9 346.2h1M294.6 339.9h1M289.3 340.4h1M264.7 348.5h1M283.8 339.3h1M268.9 342.9h1M293.8 328.6h1M267.5 335.1h1M276.6 342.4h1M289.8 330.3h1M284.8 338.0h1M298.0 348.3h1M289.4 336.8h1M264.9 329.1h1M287.1 336.3h1M270.2 341.4h1M302.2 335.5h1M304.1 339.4h1M298.2 332.6h1M311.6 333.7h1M294.3 338.3h1M302.4 330.9h1M295.4 325.9h1M295.1 334.2h1M294.6 328.4h1M287.6 331.5h1M306.8 336.7h1M270.5 337.2h1M264.0 328.8h1M274.3 334.8h1M303.7 329.8h1M281.3 346.4h1M273.6 332.6h1M274.0 347.8h1M289.3 324.4h1M283.3 334.8h1M298.8 330.5h1M280.2 340.9h1M295.5 336.5h1M273.6 343.8h1M291.2 342.1h1M322.1 333.4h1M281.7 338.9h1M282.6 338.6h1M296.4 337.1h1M271.3 329.0h1M278.1 330.9h1M276.7 325.5h1M287.4 337.9h1M267.1 341.0h1M302.0 334.2h1M285.6 331.9h1M286.9 345.0h1M281.9 332.7h1M283.8 338.4h1M255.0 335.2h1M300.0 333.8h1M273.2 338.8h1M294.7 340.8h1M282.3 338.2h1M281.2 330.0h1M291.0 346.7h1M305.2 334.4h1M283.0 337.6h1M277.0 338.1h1M290.0 335.1h1M253.1 335.6h1M273.4 337.2h1M271.3 329.2h1M279.7 338.6h1M266.3 324.2h1M295.3 347.6h1M279.8 327.0h1M286.0 338.7h1M284.7 344.0h1M280.5 342.4h1M276.1 340.2h1M300.3 334.9h1M294.6 336.6h1M302.4 327.7h1M282.2 337.7h1M287.7 338.3h1M288.8 338.6h1M279.9 333.6h1M283.7 336.4h1M263.4 328.4h1M269.4 340.9h1M272.7 339.5h1M270.0 340.4h1M289.8 341.3h1M288.8 339.2h1M289.5 342.1h1M281.6 350.6h1M297.4 347.0h1M296.0 343.5h1M292.2 352.9h1M280.3 342.7h1M303.3 332.7h1M269.2 336.6h1M264.3 348.7h1M268.4 347.9h1M299.5 340.3h1M285.6 342.6h1M276.6 334.7h1M255.1 338.6h1M281.3 336.5h1M271.8 340.1h1M257.7 333.5h1M297.8 335.9h1M283.7 321.6h1M301.3 332.0h1M283.9 336.3h1M291.3 338.3h1M275.7 341.3h1M292.3 343.1h1M279.1 336.4h1M291.6 333.6h1M286.3 327.6h1M270.4 336.0h1M284.2 331.4h1M286.2 335.0h1M275.5 338.8h1M282.6 333.7h1M295.6 332.7h1M299.7 337.6h1M285.1 338.5h1M255.8 339.2h1M294.3 349.1h1M307.1 333.9h1M281.8 345.9h1M272.8 323.3h1M288.1 337.6h1M286.8 335.0h1M295.2 334.0h1M276.9 347.9h1M305.6 326.2h1M295.9 340.0h1M271.2 330.6h1M296.8 327.7h1M282.4 331.0h1M293.9 353.9h1M289.2 343.4h1M285.1 339.4h1M288.6 344.2h1M279.0 337.2h1M274.6 327.4h1M280.9 329.1h1M280.9 339.4h1M289.5 343.2h1M286.4 331.7h1M263.8 333.1h1M294.8 337.8h1M284.0 342.0h1M294.5 326.3h1M292.2 325.5h1M287.3 328.4h1M291.1 331.1h1M266.5 340.1h1M303.6 333.8h1M308.8 342.2h1M291.7 326.4h1M278.2 343.7h1M293.3 341.0h1M280.2 338.7h1M304.7 336.7h1M278.4 327.8h1M269.6 332.2h1M274.3 342.1h1M275.0 335.1h1M293.3 334.4h1M283.3 327.3h1M288.4 346.7h1M280.3 340.4h1M301.2 342.3h1M284.5 335.4h1M286.9 330.8h1M304.1 336.8h1M287.5 322.7h1M278.3 343.0h1M281.4 335.9h1M298.9 340.1h1M289.7 345.2h1M275.0 339.9h1M299.1 335.6h1M266.5 342.0h1M257.9 342.3h1M272.2 337.7h1M261.1 342.2h1M281.7 330.9h1M284.7 332.8h1M281.1 336.5h1M276.9 330.6h1M272.0 351.4h1M296.3 342.1h1M259.5 329.9h1M293.8 341.8h1M287.3 330.5h1M283.4 333.9h1M289.9 335.6h1M265.0 338.9h1M297.0 343.4h1M291.2 345.8h1M298.8 346.8h1M258.5 335.3h1M287.5 336.8h1M282.6 334.9h1M256.0 345.4h1M280.2 336.7h1M284.6 329.9h1M274.8 342.1h1M289.3 339.7h1M291.5 338.7h1M278.0 324.1h1M279.6 329.9h1M293.3 324.0h1M271.2 320.8h1M290.6 338.0h1M300.8 333.9h1M284.7 351.8h1M288.9 335.9h1M284.8 340.0h1M294.5 336.0h1M265.5 337.1h1M263.7 351.6h1M273.5 335.4h1M276.8 340.2h1M296.8 344.4h1M301.6 340.0h1M291.3 331.7h1M300.1 340.5h1M278.7 328.6h1M277.4 334.3h1M265.1 338.4h1M299.1 342.6h1M291.3 342.5h1M283.4 330.3h1M267.4 338.4h1M271.4 336.6h1M290.2 335.5h1M283.9 332.1h1M297.7 332.0h1M286.7 339.6h1M275.3 336.0h1M269.5 339.4h1M284.0 334.1h1M305.1 346.0h1M309.0 337.6h1M274.6 329.7h1M291.0 345.2h1M275.4 342.3h1M287.4 336.0h1M249.3 347.2h1M276.2 337.6h1M261.5 336.9h1M302.0 331.8h1M279.2 336.8h1M289.8 335.5h1M284.7 340.4h1M267.4 336.9h1M291.8 335.5h1M297.5 333.9h1M286.7 332.8h1M290.8 332.5h1M297.8 332.5h1M291.2 335.5h1M282.6 337.1h1M264.0 341.8h1M273.4 333.9h1M274.2 330.2h1M293.8 340.0h1M300.7 332.6h1M284.6 338.2h1M296.7 337.9h1M254.7 345.4h1M287.8 338.9h1M269.3 334.3h1M295.9 333.7h1M299.8 331.4h1M298.6 341.0h1M295.1 350.9h1M298.5 332.2h1M306.9 336.6h1M277.9 333.5h1M303.6 324.8h1M280.3 330.9h1M268.3 351.7h1M292.4 340.2h1M294.4 339.1h1M288.3 327.2h1M277.1 342.7h1M292.7 339.2h1M281.8 330.8h1M316.2 347.3h1M289.6 340.9h1M290.6 346.1h1M279.0 344.8h1M292.4 334.3h1M305.9 336.3h1M276.2 339.0h1M280.6 338.2h1M261.4 341.6h1M284.1 338.1h1M304.9 333.3h1M270.3 343.4h1M279.9 336.9h1M275.6 341.0h1M281.0 331.7h1M274.6 330.2h1M280.0 333.5h1M270.4 331.6h1M287.4 340.2h1M296.8 338.8h1M294.0 335.5h1M261.4 340.3h1M300.8 332.6h1M293.5 337.8h1M299.1 344.5h1M273.9 344.2h1M277.1 335.9h1M292.2 321.7h1M306.3 335.3h1M273.3 347.6h1M288.0 335.5h1M290.3 341.3h1M280.6 345.9h1M288.0 320.3h1M277.4 322.3h1M300.5 336.6h1M264.5 338.5h1M288.5 338.8h1M277.9 332.3h1M283.5 331.9h1M272.9 330.8h1M247.6 346.0h1M303.5 337.9h1M293.3 331.6h1M289.7 335.9h1M284.7 346.5h1M288.5 336.9h1M280.4 330.9h1M286.9 350.6h1M301.5 326.4h1M277.0 338.5h1M273.5 328.2h1M307.7 329.7h1M278.6 335.0h1M287.6 337.4h1M282.7 338.2h1M292.4 341.0h1M292.8 335.7h1M286.2 334.8h1M273.3 347.3h1M273.3 341.6h1M286.5 352.1h1M308.0 345.9h1M262.9 343.4h1M283.3 334.3h1M290.6 336.9h1M277.6 337.0h1M287.8 340.1h1M283.8 344.5h1M294.3 331.5h1M305.1 331.8h1M281.2 344.9h1M288.5 339.1h1M290.1 334.7h1M287.0 344.1h1M285.1 342.5h1M258.0 336.0h1M285.8 336.5h1M271.1 331.9h1M279.3 339.4h1M289.7 332.9h1M291.4 333.5h1M278.3 325.4h1M279.0 342.3h1M281.0 337.6h1M271.7 344.0h1M303.4 332.2h1M305.7 331.4h1M281.5 326.6h1M304.4 337.1h1M293.7 331.1h1M270.9 336.1h1M295.1 325.5h1M292.6 336.1h1M286.3 337.9h1M266.0 332.3h1M276.9 337.7h1M256.0 342.6h1M284.5 348.0h1M280.5 333.9h1M270.0 329.5h1M268.7 336.7h1M300.4 329.4h1M265.5 340.1h1M293.0 331.4h1M285.2 331.1h1M299.7 338.4h1M264.5 346.5h1M285.6 338.2h1M299.6 335.7h1M281.9 332.3h1M267.3 349.8h1M259.5 328.7h1M275.3 333.4h1M296.8 337.7h1M303.5 342.5h1M285.2 340.8h1M295.1 333.6h1M296.5 333.5h1M291.6 334.2h1M274.4 347.4h1M293.4 339.3h1M271.8 337.7h1M285.7 338.2h1M294.4 340.3h1M297.6 335.2h1M282.4 329.3h1M298.8 344.2h1M302.9 328.1h1M296.7 342.3h1M284.2 342.9h1M288.6 343.0h1M284.5 331.9h1M285.0 333.8h1M293.2 329.6h1M298.4 341.1h1M285.1 344.3h1M293.1 323.1h1M287.5 333.2h1M287.3 352.4h1M272.8 344.0h1M289.3 336.2h1M282.7 327.7h1M287.6 324.8h1M297.4 342.9h1M293.7 332.1h1M293.5 337.6h1M278.4 339.1h1M264.9 340.5h1M280.1 344.8h1M284.6 342.6h1M287.0 339.0h1M301.1 333.1h1M288.7 345.4h1M301.7 326.9h1M279.6 339.5h1M270.9 332.5h1M295.5 342.4h1M271.0 345.1h1M264.7 330.8h1M277.4 333.7h1M289.3 349.0h1M297.9 333.1h1M285.1 347.1h1M295.5 333.5h1M284.0 332.0h1M264.4 337.9h1M271.0 339.7h1M263.9 339.1h1M282.0 337.5h1M259.0 343.5h1M266.6 335.2h1M274.3 341.3h1M296.0 347.3h1M290.8 334.7h1M279.0 325.9h1M286.4 330.1h1M281.3 338.2h1M318.1 339.9h1M263.9 341.3h1M258.7 329.8h1M260.2 333.4h1M266.8 343.3h1M279.7 335.7h1M295.0 326.8h1M281.0 336.5h1M280.6 336.3h1M282.2 340.5h1M286.7 347.3h1M272.2 331.9h1M291.2 332.4h1M282.8 332.3h1M286.2 328.7h1M290.4 337.0h1M290.7 339.0h1M293.2 333.6h1M273.3 345.1h1M290.0 348.9h1M264.6 340.1h1M258.0 342.2h1M279.2 342.7h1M288.4 336.0h1M289.1 332.0h1M288.0 340.7h1M294.5 349.0h1M262.3 348.8h1M277.0 343.0h1M280.6 338.4h1M273.5 337.5h1M287.2 333.6h1M289.8 323.7h1M287.5 343.0h1M284.4 330.3h1M311.7 336.5h1M284.2 335.7h1M283.8 338.9h1M297.9 329.2h1M305.4 330.3h1M271.9 327.9h1M270.7 324.2h1M300.4 344.2h1M297.2 336.5h1M293.6 330.3h1M280.1 330.3h1M291.4 332.6h1M266.6 341.7h1M268.9 324.2h1M302.8 341.1h1M267.9 331.2h1M281.8 339.1h1M291.3 337.7h1M287.1 330.6h1M270.5 342.3h1M276.1 331.7h1M290.6 335.4h1M278.5 343.2h1M303.6 335.8h1M281.7 335.0h1M305.4 331.0h1M282.9 329.5h1M298.9 344.3h1M289.0 341.1h1M284.5 341.1h1M267.4 346.3h1M289.8 323.9h1M284.5 339.4h1M287.8 338.2h1M276.9 339.5h1M272.2 342.8h1M271.3 331.5h1M281.9 335.8h1M294.6 340.3h1M279.1 338.9h1M269.5 334.9h1M272.9 335.3h1M268.8 332.0h1M262.8 329.8h1M278.5 340.1h1M275.3 343.3h1M278.7 339.9h1M305.9 334.7h1M294.7 340.0h1M300.6 333.9h1M283.8 344.4h1M286.4 336.9h1M273.3 335.2h1M262.0 343.2h1M263.6 333.1h1M278.2 326.8h1M289.9 355.7h1M310.7 340.3h1M282.3 338.1h1M264.2 333.1h1M278.9 343.4h1M289.3 335.5h1M268.6 328.7h1M277.2 335.3h1M289.5 340.0h1M284.8 340.4h1M288.5 335.1h1M283.9 334.0h1M283.0 334.5h1M300.0 335.9h1M295.1 349.8h1M286.8 341.9h1M290.0 338.5h1M282.8 335.9h1M282.7 333.6h1M288.8 340.6h1M285.9 332.4h1M314.2 325.6h1M286.6 333.6h1M288.7 331.8h1M310.0 338.2h1M273.0 343.7h1M285.2 333.8h1M299.3 333.8h1M286.3 330.2h1M283.7 339.1h1M274.3 343.9h1M284.7 343.3h1M275.4 336.0h1M297.5 348.7h1M290.6 328.6h1M280.8 340.0h1M298.2 336.5h1M271.9 339.6h1M273.2 328.0h1M293.7 345.0h1M287.3 332.6h1M270.1 335.4h1M274.7 330.4h1M281.0 332.0h1M276.7 344.2h1M287.2 347.2h1M283.5 350.9h1M290.2 339.0h1M283.2 334.4h1M288.4 336.2h1M279.0 340.2h1M288.6 334.0h1M288.8 346.1h1M292.2 329.1h1M287.8 328.0h1M278.9 330.0h1M283.1 332.9h1M299.2 325.6h1M281.4 346.5h1M285.2 343.9h1M303.3 336.2h1M291.8 337.0h1M292.5 339.0h1M273.3 334.7h1M273.3 339.9h1M287.0 327.0h1M309.7 335.6h1M263.1 353.4h1M263.8 341.1h1M291.1 341.5h1M287.6 346.4h1M271.8 332.0h1M295.2 343.1h1M286.9 349.0h1M278.3 340.3h1M282.3 326.0h1M277.4 337.5h1M287.0 325.3h1M275.2 333.6h1M269.6 326.4h1M275.0 333.5h1M288.1 333.3h1M298.4 355.4h1M276.7 346.6h1M272.0 346.9h1M287.5 339.2h1M297.0 330.8h1M279.0 333.1h1M301.9 332.8h1M275.1 350.3h1M301.5 343.2h1M292.3 338.5h1M263.3 335.5h1M290.3 336.4h1M281.5 343.6h1M282.3 347.2h1M274.8 332.0h1M284.5 344.1h1M276.1 339.2h1M285.6 337.6h1M296.6 334.1h1M300.7 341.6h1M297.7 344.6h1M294.5 338.4h1M289.5 343.0h1M281.5 336.9h1M271.0 348.0h1M296.2 339.6h1M279.1 346.0h1M285.5 323.9h1M268.1 350.0h1M289.4 340.7h1M300.7 338.9h1M283.0 341.3h1M295.2 345.2h1M282.5 343.9h1M286.0 338.7h1M277.7 328.5h1M251.4 331.0h1M287.7 325.7h1M289.9 340.2h1M290.8 335.6h1M304.0 327.6h1M294.8 332.8h1M289.4 335.1h1M276.0 336.6h1M318.7 329.5h1M267.9 341.0h1M279.2 335.0h1M278.3 342.2h1M296.6 331.3h1M287.8 333.0h1M290.5 336.6h1M263.3 346.4h1M277.7 338.0h1M296.0 326.0h1M278.1 340.7h1M268.9 335.7h1M287.1 348.0h1M277.3 344.2h1M284.1 337.3h1M288.0 331.2h1M271.9 332.5h1M283.7 341.0h1M299.8 324.3h1M281.9 354.9h1M282.0 346.8h1M277.0 330.7h1M287.8 328.8h1M289.8 325.8h1M273.9 343.3h1M286.2 346.1h1M304.9 345.5h1M264.7 344.4h1M296.2 333.9h1M295.2 339.2h1M265.9 340.8h1M264.1 334.4h1M277.4 339.0h1M300.9 335.3h1M275.9 328.3h1M284.7 341.8h1M285.5 336.6h1M283.3 342.3h1M307.9 331.3h1M287.9 344.6h1M270.2 344.0h1M287.4 332.9h1M292.6 349.8h1M270.4 326.4h1M286.2 333.2h1M276.8 338.8h1M268.3 340.4h1M272.8 334.6h1M293.7 334.2h1M282.3 343.7h1M264.0 337.4h1M293.1 342.3h1M280.4 340.7h1M248.1 339.3h1M270.7 337.5h1M255.3 340.7h1M276.4 338.2h1M317.6 338.1h1M308.9 337.9h1M286.7 327.1h1M273.1 328.7h1M269.9 343.6h1M275.6 351.5h1M286.7 331.9h1M298.7 324.6h1M284.7 338.5h1M299.1 333.9h1M282.4 337.0h1M258.4 336.3h1M288.1 340.1h1M296.5 336.5h1M291.3 338.2h1M297.6 338.1h1M272.8 336.5h1M281.3 346.0h1M284.1 329.9h1M288.4 336.1h1M291.1 335.3h1M296.4 340.8h1M279.9 350.1h1M271.2 338.4h1M278.9 340.3h1M282.5 352.5h1M278.3 330.0h1M272.3 328.0h1M295.0 338.3h1M295.9 333.4h1M295.8 327.0h1M293.5 332.6h1M291.7 354.9h1M278.3 329.5h1M279.9 349.1h1M287.9 339.9h1M261.1 328.3h1M287.5 342.2h1M260.5 348.0h1M306.6 336.8h1M292.0 338.7h1M277.2 351.2h1M283.4 328.0h1M277.9 337.9h1M303.1 337.4h1M297.8 336.3h1M285.4 336.6h1M277.7 329.2h1M291.6 338.3h1M287.8 341.2h1M283.7 334.5h1M278.0 335.9h1M265.2 334.1h1M268.0 343.8h1M275.3 334.9h1M264.2 334.8h1M273.1 344.5h1M305.9 332.9h1M284.7 337.5h1M292.4 328.0h1M276.5 327.2h1M300.6 334.4h1M286.3 344.4h1M294.2 337.1h1M298.1 342.2h1M290.0 342.2h1M307.6 328.2h1M272.9 334.5h1M280.4 339.6h1M290.8 343.8h1M283.2 336.2h1M289.5 328.7h1M310.8 332.3h1M280.6 336.2h1M287.6 335.7h1M277.6 329.1h1M274.1 332.4h1M260.9 337.4h1M290.9 350.1h1M301.3 332.0h1M284.7 336.0h1M299.2 336.7h1M267.7 330.9h1M282.3 342.3h1M282.4 335.4h1M293.3 335.9h1M285.4 346.2h1M291.0 338.1h1M302.3 335.4h1M270.4 331.0h1M282.7 333.8h1M289.1 337.0h1M275.9 332.8h1M289.5 350.1h1M277.2 320.5h1M272.0 335.5h1M294.3 338.9h1M316.1 349.5h1M298.3 344.4h1M302.2 331.8h1M299.7 336.4h1M313.5 339.3h1M267.3 356.5h1M294.5 348.4h1M270.9 336.0h1M277.8 348.2h1M297.5 330.7h1M300.2 337.0h1M284.4 347.7h1M303.7 321.3h1M286.8 361.6h1M283.9 342.8h1M287.1 352.2h1M287.3 341.9h1M305.3 332.9h1M303.4 325.7h1M278.9 335.4h1M282.8 340.8h1M277.5 337.0h1M295.7 349.3h1M291.9 339.6h1M293.8 331.2h1M267.0 337.0h1M290.4 332.2h1M275.8 343.2h1M267.9 334.2h1M286.7 339.9h1M280.7 347.3h1M295.0 352.5h1M295.0 359.4h1M285.8 346.9h1M295.1 342.7h1M290.9 337.0h1M285.2 346.0h1M272.8 350.3h1M302.4 334.7h1M301.3 333.6h1M303.3 333.0h1M269.2 335.9h1M269.7 344.8h1M289.3 334.5h1M300.4 333.3h1M286.1 329.9h1M305.0 339.9h1M269.4 349.0h1M295.1 328.6h1M253.2 331.6h1M272.5 340.9h1M269.1 359.4h1M296.7 345.8h1M275.4 330.1h1M286.5 344.9h1M301.0 342.9h1M275.2 329.5h1M301.5 336.8h1M270.1 339.3h1M308.5 344.0h1M269.4 336.7h1M265.9 338.1h1M292.8 332.4h1M310.3 353.5h1M255.3 329.3h1M301.9 321.0h1M305.7 332.8h1M292.3 341.5h1M262.1 328.8h1M268.1 327.9h1M294.4 344.4h1M248.6 341.0h1M304.5 335.6h1M316.2 345.0h1M263.7 340.7h1M265.8 331.1h1M296.9 319.2h1M274.9 355.3h1M297.0 332.1h1M278.9 352.0h1M277.5 344.3h1M283.5 332.7h1M297.7 347.1h1M296.2 334.7h1M285.2 342.5h1M309.3 330.8h1M312.8 349.4h1M298.6 319.6h1M262.7 348.2h1M275.2 344.9h1M283.1 349.6h1M294.2 326.2h1M308.4 333.5h1M275.6 338.2h1M306.6 323.9h1M266.2 350.0h1M291.9 346.2h1M278.4 336.2h1M282.0 345.8h1M307.3 340.0h1M279.7 340.4h1M287.8 340.8h1M315.4 334.4h1M291.1 348.2h1M262.1 330.1h1M267.6 339.2h1M278.1 345.2h1M290.4 343.0h1M290.7 335.7h1M257.0 341.0h1M266.4 334.7h1M263.3 326.6h1M285.6 338.5h1M293.2 352.3h1M282.2 335.7h1M294.4 336.7h1M282.7 337.3h1M287.5 339.9h1M311.6 351.7h1M299.5 340.1h1M276.8 337.3h1M280.4 340.2h1M304.8 323.3h1M284.7 323.1h1M275.3 356.4h1M292.8 320.4h1M265.1 350.2h1M290.1 342.3h1M276.4 313.8h1M291.2 323.6h1M323.4 327.9h1M291.0 347.5h1M268.1 338.3h1M256.9 335.2h1M288.9 346.5h1M281.3 335.0h1M263.8 351.5h1M276.0 326.2h1M285.9 338.8h1M267.1 346.9h1M282.5 325.8h1M293.7 330.2h1M273.1 325.7h1M309.3 349.5h1M271.2 344.7h1M266.9 340.3h1M305.2 352.1h1M278.5 337.8h1M273.6 338.4h1M270.2 341.2h1M293.3 338.9h1M275.4 352.6h1M277.3 333.5h1M254.2 327.5h1M262.7 351.6h1M279.4 349.4h1M261.5 339.7h1M277.9 349.4h1M304.5 345.4h1M287.7 341.9h1M304.7 349.9h1M269.7 354.4h1M295.4 329.4h1M278.6 348.4h1M298.1 330.2h1M266.9 346.9h1M287.2 332.4h1M302.2 342.1h1M289.6 352.1h1M290.2 334.1h1M280.8 340.3h1M245.2 347.3h1M269.9 319.9h1M271.9 323.5h1M301.9 348.2h1M287.8 339.6h1M268.6 343.2h1M302.0 345.5h1M292.4 333.9h1M257.6 333.0h1M307.7 327.7h1M293.2 348.9h1M333.6 331.1h1M303.4 326.4h1M259.9 358.6h1M305.7 340.9h1M290.0 345.8h1M278.7 332.6h1M291.9 351.6h1M296.9 338.8h1M279.8 340.9h1M270.2 346.6h1M296.5 338.5h1M292.8 352.7h1M266.0 350.3h1M308.6 346.2h1M280.7 332.0h1M317.5 324.6h1M311.3 339.5h1M283.4 342.7h1M300.4 352.6h1M268.8 352.6h1M288.9 337.2h1M252.9 330.7h1M266.6 343.6h1M284.9 345.4h1M296.6 343.7h1M300.3 332.5h1M304.9 326.4h1M303.3 338.0h1M277.8 342.5h1M283.9 336.7h1M275.0 344.5h1M286.3 339.3h1M254.3 330.1h1M271.4 335.2h1M310.7 351.3h1M287.6 320.7h1M272.5 313.4h1M298.1 351.2h1M290.6 342.5h1M284.4 333.1h1M278.6 327.7h1M268.8 356.1h1M284.2 323.6h1M287.0 327.4h1M285.7 332.4h1M311.3 337.9h1M286.8 355.7h1M291.1 336.8h1M308.1 344.5h1M300.1 334.4h1M250.7 344.3h1M285.0 349.7h1M266.9 320.7h1M271.1 315.8h1M302.9 351.3h1M313.3 334.7h1M293.7 347.8h1M245.0 333.8h1M277.8 347.2h1M279.9 334.5h1M277.4 343.9h1M313.1 331.1h1M294.7 354.5h1M297.3 333.8h1M286.7 336.4h1M301.0 333.8h1M282.8 337.0h1M262.3 327.1h1M284.9 326.9h1M273.8 344.7h1M259.1 339.6h1M252.0 347.6h1M275.5 343.7h1M280.0 322.8h1M317.5 345.8h1M274.2 331.2h1M272.2 324.5h1M283.7 332.0h1M298.8 327.6h1M264.0 349.1h1M281.1 342.3h1M307.8 344.9h1M313.1 324.0h1M272.2 340.1h1M256.0 347.0h1M282.9 339.2h1M280.9 328.4h1M304.5 349.2h1M300.3 330.5h1M286.2 337.2h1M270.7 340.8h1M290.8 334.9h1M270.8 345.4h1M269.5 348.5h1M285.1 351.6h1M319.4 333.5h1M317.0 350.2h1M310.9 342.6h1M257.8 347.3h1M295.7 329.6h1M273.4 363.1h1M293.9 341.6h1M300.8 337.8h1M297.5 336.0h1M274.0 339.7h1M267.6 331.5h1M297.8 339.2h1M307.5 341.6h1M272.4 337.3h1M270.3 336.4h1M283.2 336.4h1M275.6 335.5h1M301.7 327.5h1M303.1 324.9h1M300.4 347.5h1M275.4 346.4h1M269.4 320.5h1M280.2 342.3h1M288.9 357.3h1M300.5 339.1h1M292.9 334.6h1M279.3 328.4h1M295.6 334.4h1M299.4 332.5h1M283.7 336.5h1M268.6 329.5h1M294.9 352.2h1M302.7 337.1h1M297.9 335.1h1M268.2 337.5h1M293.0 327.5h1M288.5 349.5h1M281.6 327.3h1M283.3 331.2h1M277.5 349.2h1M274.9 340.6h1M291.5 338.8h1M287.2 358.0h1M288.4 338.2h1M266.7 344.8h1M290.4 343.6h1M314.5 354.5h1M267.9 336.8h1M287.3 326.2h1M285.5 326.6h1M290.5 327.3h1M298.7 334.0h1M275.7 330.8h1M302.2 350.1h1M298.0 342.5h1M281.4 340.4h1M297.4 337.5h1M307.7 342.2h1M311.2 338.2h1M283.0 330.9h1M301.9 349.4h1M286.7 333.3h1M273.9 339.8h1M328.1 332.6h1M305.5 335.7h1M300.9 334.9h1M283.3 341.6h1M291.1 329.4h1M279.7 329.3h1M320.3 330.6h1M278.9 346.0h1M289.0 340.4h1M303.0 335.6h1M284.9 321.1h1M303.3 330.9h1M292.2 333.4h1M286.0 328.1h1M288.5 349.9h1M253.3 334.8h1M305.2 363.6h1M298.2 342.4h1M294.0 336.7h1M291.3 351.5h1M271.1 360.4h1M289.2 351.2h1M271.3 335.7h1M277.2 335.8h1M266.6 336.7h1M280.6 340.7h1M303.9 328.7h1M294.1 333.5h1M271.2 344.7h1M271.7 339.7h1M304.3 320.3h1M282.7 343.6h1M301.9 348.5h1M315.5 349.4h1M304.9 355.6h1M269.0 351.6h1M247.3 329.1h1M313.6 331.7h1M262.9 335.4h1M261.8 332.9h1M277.5 345.2h1M280.7 342.7h1M296.6 337.4h1M274.2 326.6h1M271.5 343.8h1M301.4 350.2h1M270.4 347.6h1M332.2 323.2h1M262.6 340.8h1M288.3 349.9h1M306.3 335.0h1M286.6 332.0h1M259.2 347.3h1M286.3 344.6h1M305.5 346.7h1M274.9 354.2h1M259.1 343.9h1M285.5 332.5h1M249.9 335.4h1M294.9 339.2h1M299.9 350.8h1M289.1 337.6h1M266.5 330.8h1M304.8 328.2h1M310.3 342.6h1M307.2 345.9h1M279.4 330.5h1M295.5 337.2h1M274.2 326.5h1M307.4 329.4h1M278.8 329.0h1M266.0 339.3h1M283.6 349.6h1M296.0 334.2h1M285.1 340.9h1M283.6 333.1h1M270.2 341.0h1M287.8 332.9h1M285.4 344.0h1M287.8 337.6h1M283.4 329.7h1M284.5 325.8h1M272.9 350.3h1M317.4 334.1h1M258.4 337.6h1M290.2 336.4h1M306.4 337.4h1M256.5 338.4h1M257.7 343.7h1M298.6 333.2h1M329.8 323.2h1M305.6 351.9h1M278.9 326.1h1M277.5 350.5h1M276.4 342.4h1M264.6 347.7h1M274.9 333.2h1M301.5 339.8h1M280.3 333.7h1M293.3 355.5h1M300.0 338.0h1M274.3 331.5h1M279.6 338.9h1M289.7 347.4h1M272.2 338.5h1M286.9 324.0h1M296.5 329.4h1M286.1 327.5h1M258.1 347.9h1M290.8 338.4h1M283.0 343.7h1M285.7 340.0h1M266.5 348.1h1M287.4 344.6h1M283.5 326.7h1M276.7 349.8h1M272.5 333.1h1M283.2 340.0h1M253.7 345.4h1M289.7 331.8h1M277.1 337.3h1M302.8 325.6h1M253.5 321.6h1M277.2 332.9h1M291.0 341.4h1M290.5 343.7h1M279.1 353.6h1M302.1 337.0h1M278.0 344.3h1M293.4 318.6h1M285.2 343.5h1M281.6 344.4h1M273.0 347.7h1M274.1 340.0h1M276.6 344.1h1M292.1 354.0h1M275.1 329.1h1M267.7 335.2h1M295.0 323.1h1M287.7 332.2h1M294.9 337.8h1M286.6 329.8h1M314.0 337.3h1M297.6 327.6h1M291.0 338.1h1M293.8 335.6h1M303.2 353.6h1M288.5 341.9h1M297.8 334.7h1M282.3 337.4h1M312.1 337.7h1M282.4 328.1h1M297.4 349.1h1M280.2 338.1h1M282.7 334.2h1M296.5 319.0h1M255.6 344.0h1M283.2 339.4h1M262.7 328.6h1M297.2 359.6h1M294.0 329.2h1M277.9 328.3h1M300.0 339.2h1M252.5 329.9h1M284.6 345.1h1M301.4 347.4h1M309.7 351.6h1M295.5 339.6h1M311.0 333.5h1M292.9 336.8h1M284.3 350.8h1M291.5 337.8h1M327.0 331.3h1M322.8 332.6h1M292.0 325.3h1M295.2 347.5h1M294.8 334.8h1M261.5 341.3h1M277.5 338.2h1M289.1 343.4h1M273.1 338.9h1M283.2 351.0h1M265.8 345.0h1M283.8 330.0h1M302.7 342.9h1M287.0 341.3h1M299.4 334.5h1M282.7 333.9h1M271.8 328.3h1M288.3 345.5h1M256.0 342.2h1M273.6 350.6h1M279.9 334.8h1M276.1 338.4h1M291.8 336.6h1M273.1 348.8h1M300.7 331.7h1M300.0 348.4h1M288.2 349.7h1M274.7 344.0h1M266.8 347.6h1M295.7 333.2h1M281.0 337.9h1M331.5 343.0h1M299.6 329.0h1M308.9 331.6h1M270.3 341.8h1M284.8 345.9h1M277.8 348.6h1M245.0 338.6h1M289.5 339.0h1M278.3 336.6h1M280.2 335.9h1M291.7 336.0h1M302.8 344.0h1M295.0 335.3h1M314.5 337.7h1M275.3 359.0h1M299.6 342.7h1M272.3 329.6h1M281.2 335.8h1M304.1 341.9h1M294.4 343.1h1M289.5 335.3h1M289.6 342.2h1M297.6 352.0h1M307.7 349.7h1M295.0 317.5h1M278.7 341.9h1M299.7 337.8h1M285.3 337.3h1M290.2 335.6h1M288.2 332.5h1M301.8 337.2h1M289.9 342.1h1M279.8 341.0h1M262.3 340.7h1M263.2 325.4h1M291.1 323.3h1M274.7 332.8h1M299.7 322.7h1M286.9 343.3h1M291.0 345.5h1M286.3 358.7h1M328.2 329.0h1M301.9 334.1h1M295.3 349.2h1M297.1 333.4h1M246.1 343.5h1M271.1 337.5h1M305.6 328.8h1M307.1 332.1h1M273.0 339.9h1M251.1 344.3h1M263.4 331.1h1M295.0 348.2h1M282.2 336.0h1M303.5 329.6h1M281.0 326.7h1M290.8 352.0h1M294.1 333.6h1M283.6 341.0h1M278.2 341.1h1M274.6 331.3h1M282.1 336.9h1M287.2 362.0h1M301.7 331.6h1M287.0 348.2h1M276.0 334.4h1M267.5 344.8h1M272.7 345.8h1M292.1 338.3h1M287.1 333.9h1M308.3 346.0h1M282.7 328.0h1M278.7 344.2h1M308.9 333.9h1M301.3 322.3h1M305.8 341.1h1M264.8 337.5h1M284.3 332.7h1M289.1 330.9h1M288.6 329.8h1M246.1 339.5h1M286.3 338.0h1M285.1 336.8h1M304.2 341.7h1M282.6 354.6h1M286.5 335.7h1M282.6 338.5h1M266.0 316.2h1M296.6 342.1h1M318.0 347.6h1M269.8 345.0h1M311.6 342.0h1M314.0 332.6h1M262.7 344.1h1M263.6 334.9h1M272.5 344.4h1M269.8 344.0h1M273.5 337.9h1M268.0 338.7h1M280.3 351.3h1M292.9 334.3h1M299.1 339.9h1M281.3 322.0h1M269.0 341.3h1M294.6 335.4h1M296.4 346.5h1M272.0 334.7h1M292.5 343.2h1M266.7 338.1h1M273.2 331.8h1M287.8 350.4h1M282.2 357.3h1M304.1 340.1h1M282.6 337.9h1M289.2 333.8h1M303.8 326.7h1M259.5 344.0h1M296.4 341.3h1M305.4 346.6h1M281.6 335.0h1M303.3 328.1h1M266.7 340.4h1M270.0 331.6h1M262.8 344.6h1M312.5 341.5h1M270.1 327.9h1M293.5 327.4h1M256.7 339.3h1M301.4 346.9h1M261.9 337.9h1M273.3 349.9h1M241.1 336.5h1M263.3 343.5h1M301.6 346.2h1M261.3 340.9h1M310.9 315.7h1M322.2 332.4h1M281.5 334.2h1M262.1 350.4h1M278.3 333.4h1M289.9 352.5h1M250.4 345.9h1M273.7 337.4h1M286.7 319.8h1M292.7 344.8h1M252.4 336.0h1M284.3 341.3h1M287.8 355.4h1M304.0 332.3h1M289.3 317.3h1M303.2 331.0h1M295.3 345.3h1M270.7 340.5h1M332.7 331.6h1M297.4 347.0h1M289.7 337.0h1M279.1 344.6h1M312.4 337.3h1M287.1 342.5h1M295.4 337.7h1M289.1 335.3h1M283.4 345.2h1M257.4 326.5h1M276.0 348.6h1M315.5 332.6h1M288.8 321.1h1M272.9 326.3h1M269.9 340.9h1M270.5 334.8h1M278.4 346.8h1M282.3 335.2h1M311.0 345.8h1M291.0 327.8h1M314.6 333.9h1M256.6 345.8h1M281.8 331.8h1M252.2 345.3h1M247.5 338.5h1M289.4 345.5h1M254.2 345.4h1M285.7 330.7h1M268.9 322.5h1M304.3 322.5h1M305.4 327.9h1M257.5 338.2h1M297.9 330.1h1M284.8 339.4h1M294.1 338.7h1M276.0 340.9h1M305.9 329.1h1M302.0 334.8h1M284.8 350.5h1M257.1 337.3h1M242.7 329.5h1M301.9 332.7h1M288.5 343.7h1M259.9 339.5h1M268.3 339.3h1M329.9 328.1h1M265.4 334.3h1M291.0 340.6h1M307.3 329.3h1M326.5 352.6h1M291.6 354.6h1M293.4 331.4h1M265.3 356.5h1M292.5 324.7h1M284.3 336.1h1M266.0 338.3h1M264.3 328.6h1M306.2 319.6h1M303.7 336.8h1M331.7 332.1h1M279.6 347.2h1M250.2 351.4h1M321.5 347.9h1M295.6 326.0h1M315.5 340.4h1M272.5 325.3h1M278.9 348.9h1M312.4 344.9h1M271.4 337.8h1M283.9 329.6h1M285.7 346.5h1M301.6 342.2h1M304.4 344.0h1M271.2 323.1h1M302.0 334.2h1M281.6 334.8h1M284.3 345.0h1M288.7 339.9h1M302.9 344.7h1M283.3 318.6h1M294.7 339.7h1M273.7 357.8h1M261.7 351.1h1M267.7 360.2h1M291.4 350.6h1M288.7 355.1h1M288.6 328.8h1M263.0 342.9h1M273.4 350.9h1M286.0 321.0h1M299.0 342.6h1M294.5 323.0h1M280.7 341.5h1M273.9 339.2h1M259.5 334.8h1M276.3 325.0h1M306.5 337.8h1M281.5 324.7h1M276.8 346.8h1M289.9 318.7h1M333.9 332.7h1M277.9 337.8h1M269.1 341.2h1M256.1 337.7h1M250.2 335.1h1M292.9 336.2h1M292.4 350.8h1M274.2 321.7h1M293.1 343.9h1M296.6 345.9h1M272.8 348.2h1M290.2 332.0h1M301.2 344.9h1M260.0 342.5h1M282.6 324.8h1M286.9 330.7h1M254.2 340.4h1M328.8 345.5h1M304.6 338.4h1M319.1 332.4h1M260.9 348.9h1M285.3 345.3h1M306.3 332.3h1M277.6 341.7h1M322.1 323.8h1M267.5 351.6h1M285.8 343.5h1M279.9 346.2h1M256.8 337.5h1M282.1 345.0h1M285.5 330.1h1M266.2 323.0h1M277.5 339.4h1M302.6 333.8h1M301.4 342.7h1M293.7 328.1h1M299.1 345.3h1M309.0 338.6h1M282.9 334.7h1M274.1 348.1h1M287.7 332.1h1M289.0 340.2h1M274.6 336.2h1M290.5 341.6h1M292.3 349.3h1M304.5 331.6h1M269.7 337.8h1M308.0 336.0h1M283.1 342.0h1M261.4 335.0h1M305.6 341.3h1M295.3 336.5h1M287.7 324.0h1M266.5 342.9h1M300.9 333.8h1M268.3 343.2h1M267.3 336.7h1M285.0 340.5h1M302.5 330.7h1M287.1 343.9h1M288.4 341.7h1M269.4 325.1h1M302.3 336.1h1M279.0 323.1h1M296.9 339.5h1M336.1 345.5h1M290.0 338.8h1M267.9 335.9h1M261.1 341.7h1M269.6 351.8h1M269.3 354.5h1M289.9 322.6h1M309.8 344.6h1M286.1 334.3h1M280.4 330.5h1M296.6 330.2h1M272.7 367.6h1M282.6 353.1h1M302.7 349.9h1M307.0 332.6h1M279.8 343.8h1M280.1 350.8h1M277.2 334.1h1M290.9 332.0h1M312.9 337.2h1M287.9 351.1h1M265.6 337.1h1M305.4 345.9h1M305.3 339.4h1M306.3 335.6h1M300.7 336.4h1M279.9 341.3h1M268.1 340.7h1M295.6 332.6h1M281.1 338.1h1M289.4 361.1h1M309.5 344.8h1M254.5 340.5h1M255.6 331.3h1M260.7 344.8h1M274.0 344.9h1M283.9 335.0h1M292.0 348.2h1M271.5 334.0h1M306.3 343.5h1M280.5 337.5h1M298.7 335.2h1M314.4 333.8h1M305.1 328.0h1M280.8 341.1h1M285.2 345.7h1M294.8 338.2h1M299.5 319.0h1M265.1 330.2h1M267.3 348.4h1M276.4 350.3h1M305.0 339.4h1M290.4 351.4h1M284.9 350.4h1M260.5 330.1h1M261.3 330.6h1M291.8 329.9h1M266.4 325.0h1M303.6 355.8h1M270.7 338.1h1M289.3 344.2h1M298.3 328.7h1M296.2 347.0h1M285.3 334.8h1M323.2 328.9h1M284.1 329.8h1M292.8 323.9h1M279.5 325.4h1M303.9 336.5h1M308.1 351.1h1M306.8 333.7h1M290.5 324.8h1M302.2 327.1h1M269.3 357.3h1M279.9 347.2h1M297.4 332.2h1M247.3 335.5h1M258.0 339.0h1M298.3 336.7h1M289.6 345.3h1M281.1 334.1h1M281.6 322.8h1M312.1 336.3h1M294.9 353.1h1M280.1 344.9h1M260.0 335.1h1M287.9 333.4h1M266.4 346.3h1M283.0 346.3h1M272.7 337.6h1M308.1 334.8h1M273.5 337.7h1M285.5 338.6h1M310.8 337.4h1M247.3 346.8h1M277.8 356.0h1M258.6 351.1h1M314.2 340.5h1M293.3 331.2h1M285.1 346.6h1M288.1 320.0h1M299.8 339.1h1M296.9 345.0h1M288.2 331.6h1M302.6 326.7h1M292.6 324.7h1M320.6 328.9h1M267.2 334.4h1M280.9 341.8h1M300.0 336.0h1M300.9 334.8h1M278.0 345.1h1M309.7 333.2h1M304.1 353.9h1M317.1 342.9h1M282.2 342.7h1M308.1 336.8h1M285.2 334.4h1M293.1 334.7h1M300.2 335.0h1M280.1 351.8h1M280.3 319.2h1M317.9 341.2h1M269.3 328.3h1M296.5 335.6h1M310.5 335.8h1M313.5 339.3h1M283.8 339.1h1M269.8 353.7h1M306.4 340.7h1M276.1 319.3h1M286.4 332.4h1M274.1 344.4h1M262.2 343.4h1M276.0 343.4h1M281.8 340.4h1M254.6 328.5h1M310.8 332.8h1M282.0 343.6h1M315.8 356.5h1M305.6 322.6h1M275.8 329.0h1M285.7 338.9h1M278.1 335.7h1M286.0 342.1h1M288.1 344.4h1M291.8 316.2h1M294.9 359.2h1M289.2 341.0h1M275.3 335.3h1M258.7 335.2h1M290.0 337.9h1M282.7 340.9h1M297.6 335.0h1M276.0 348.9h1M291.2 348.1h1M269.1 334.0h1M293.2 345.0h1M281.2 332.4h1M293.0 328.0h1M330.8 323.4h1M299.9 327.3h1M284.8 347.8h1M291.2 337.6h1M286.9 338.5h1M285.2 329.0h1M287.7 341.0h1M285.9 326.3h1M286.2 337.0h1M303.2 325.5h1M303.3 336.4h1M316.5 335.8h1M295.3 347.5h1M294.3 341.4h1M327.1 322.1h1M260.9 326.0h1M291.2 359.2h1M293.7 316.8h1M296.6 322.3h1M275.8 345.4h1M279.4 332.1h1M261.0 331.3h1M278.5 361.4h1M253.5 341.6h1M299.8 336.5h1M283.1 340.4h1M269.3 351.8h1M310.4 338.4h1M285.8 333.6h1M269.0 335.6h1M294.7 347.9h1M276.6 318.1h1M253.4 349.8h1M287.7 344.1h1M312.0 332.4h1M256.7 344.7h1M278.7 344.0h1M298.4 342.7h1M291.2 339.4h1M300.4 316.2h1M282.0 341.4h1M308.9 342.3h1M286.9 348.9h1M284.5 336.7h1M292.8 332.9h1M281.6 346.4h1M280.9 342.9h1M278.0 335.6h1M272.2 344.7h1M273.9 346.5h1M262.6 333.3h1M295.0 326.6h1M291.5 341.4h1M253.2 358.5h1M278.2 335.0h1M287.4 352.5h1M267.8 322.8h1M292.9 335.8h1M275.6 333.4h1M286.2 336.1h1M269.2 330.5h1M288.8 332.1h1M288.3 334.6h1M325.1 334.5h1M313.5 351.0h1M288.4 332.5h1M287.0 341.1h1M287.0 336.2h1M289.9 329.8h1M249.2 348.1h1M285.5 345.7h1M296.2 330.7h1M286.8 345.1h1M265.6 344.1h1M259.9 344.0h1M254.5 334.7h1M313.8 339.9h1M298.3 336.3h1M308.1 325.3h1M280.3 334.0h1M272.9 334.9h1M258.9 340.6h1M292.2 342.0h1M262.0 353.4h1M272.1 341.3h1M305.3 327.8h1M310.3 320.7h1M281.7 344.0h1M300.7 337.7h1M288.1 334.0h1M294.0 335.5h1M263.7 343.5h1M291.9 359.7h1M290.3 342.7h1M293.0 344.5h1M292.6 341.4h1M288.1 340.1h1M295.7 344.6h1M272.8 337.5h1M292.4 344.4h1M271.3 352.3h1M287.7 335.4h1M278.5 339.9h1M273.7 335.8h1M275.6 330.3h1M277.1 352.9h1M299.8 340.4h1M274.4 350.8h1M292.4 336.6h1M295.7 350.4h1M324.8 360.7h1M302.1 326.5h1M270.8 349.5h1M266.2 344.9h1M287.4 335.4h1M294.0 330.4h1M275.0 338.2h1M302.8 341.5h1M252.8 323.3h1M251.4 343.4h1M273.9 347.5h1M296.5 336.2h1M302.1 343.8h1M287.6 336.0h1M311.5 345.8h1M294.4 334.6h1M284.6 353.8h1M312.2 336.0h1M291.9 332.4h1M272.7 337.9h1M291.9 338.9h1M267.2 319.5h1M305.2 337.4h1M282.8 345.9h1M256.1 340.0h1M307.7 325.7h1M293.5 342.7h1M278.6 354.4h1M289.4 341.5h1M298.7 349.4h1M286.1 341.3h1M291.3 353.0h1M304.1 324.4h1M279.5 339.8h1M286.1 333.3h1M317.3 337.1h1M281.1 332.1h1M275.1 342.0h1M288.3 342.8h1M303.8 346.3h1M273.4 345.2h1M282.3 331.6h1M275.7 330.6h1M316.8 342.2h1M308.5 351.9h1M292.1 330.7h1M306.6 346.1h1M263.5 346.7h1M273.7 342.2h1M291.0 330.1h1M309.0 334.5h1M261.4 342.8h1M292.9 352.0h1M281.5 339.0h1M281.0 328.9h1M288.4 337.4h1M267.5 333.7h1M311.0 336.7h1M277.0 341.4h1M292.4 337.0h1M267.5 339.7h1M273.3 317.7h1M256.3 338.2h1M311.5 337.9h1M331.7 336.1h1M287.7 336.2h1M292.7 335.7h1M320.7 329.1h1M275.3 331.8h1M291.2 335.9h1M275.7 356.9h1M300.7 330.3h1M294.1 335.5h1M304.7 324.7h1M305.5 358.7h1M268.4 332.3h1M277.4 359.4h1M290.5 337.8h1M297.1 340.9h1M284.8 330.7h1M298.5 356.5h1M300.3 331.1h1M280.5 353.7h1M287.8 342.8h1M280.1 344.8h1M266.6 334.7h1M305.0 341.7h1M318.5 336.0h1M284.5 345.3h1M316.9 341.5h1M315.2 344.4h1M277.0 335.6h1M281.9 344.8h1M278.5 348.2h1M303.4 331.8h1M309.8 333.8h1M278.0 324.9h1M261.3 340.7h1M288.1 331.6h1M309.4 343.1h1M293.6 329.4h1M286.7 325.3h1M258.6 327.1h1M298.7 353.9h1M282.3 349.5h1M288.9 356.4h1M289.0 329.1h1M278.9 327.9h1M271.3 342.8h1M289.6 346.4h1M296.9 343.8h1M317.0 345.4h1M282.8 344.4h1M269.8 346.7h1M318.7 330.3h1M304.4 319.4h1M274.5 340.6h1M282.6 331.5h1M287.8 324.6h1M311.2 324.5h1M287.3 340.4h1M311.7 332.5h1M290.8 326.3h1M274.3 329.0h1M290.2 325.6h1M259.0 345.9h1M276.5 338.9h1M297.2 329.9h1M273.5 340.9h1M280.7 320.2h1M264.5 317.1h1M287.9 346.0h1M258.5 345.5h1M281.1 339.4h1M300.0 334.8h1M277.5 328.7h1M301.8 320.7h1M294.5 344.7h1M298.1 338.6h1M274.4 331.7h1M286.3 343.4h1M269.4 334.5h1M275.3 351.7h1M278.5 335.7h1M296.4 339.0h1M313.6 333.0h1M264.8 349.5h1M313.0 344.2h1M248.1 345.5h1M252.5 352.8h1M317.5 354.1h1M308.5 347.7h1M290.2 333.4h1M291.1 340.5h1M287.7 336.4h1M249.9 341.2h1M298.1 322.4h1M279.2 343.1h1M250.8 341.7h1M295.3 330.7h1M299.5 337.0h1M309.8 334.9h1M304.8 333.0h1M283.1 347.5h1M299.4 348.7h1M286.9 344.3h1M289.4 330.1h1M317.8 314.0h1M282.3 348.5h1M244.5 337.4h1M280.5 357.8h1M261.0 341.3h1M269.6 336.4h1M311.6 336.3h1M295.2 349.8h1M274.1 342.7h1M283.6 324.1h1M304.2 336.4h1M290.7 344.4h1M316.2 335.4h1M270.4 346.7h1M291.7 342.4h1M289.3 341.2h1M272.0 339.9h1M293.1 341.5h1M298.7 333.0h1M307.9 350.2h1M253.5 350.8h1M289.1 330.3h1M297.8 342.2h1M307.6 339.1h1M294.0 342.7h1M288.2 343.1h1M276.0 349.4h1M311.9 336.7h1M285.7 339.2h1M313.5 345.7h1M289.1 338.1h1M291.8 328.7h1M274.3 356.7h1M264.1 331.3h1M292.3 343.9h1M284.2 342.4h1M309.7 335.1h1M263.3 332.9h1M264.5 338.4h1M304.7 332.8h1M272.2 351.4h1M268.5 351.3h1M251.4 350.0h1M270.8 342.8h1M296.7 347.4h1M302.4 347.9h1M253.8 333.9h1M291.8 340.1h1M270.2 351.5h1M273.1 328.2h1M295.4 327.1h1M282.1 328.5h1M291.6 359.3h1M296.8 349.7h1M296.4 348.4h1M291.2 337.1h1M300.1 333.1h1M276.8 334.8h1M270.5 345.6h1M270.7 329.9h1M285.0 320.1h1M272.0 338.5h1M288.7 328.5h1M283.0 337.8h1M312.6 360.6h1M269.8 345.4h1M306.6 340.9h1M297.7 333.0h1M324.6 329.2h1M275.7 344.6h1M296.1 347.5h1M277.2 347.4h1M279.9 340.5h1M291.4 341.3h1M302.1 337.1h1M310.7 328.4h1M280.9 349.1h1M273.7 322.2h1M288.6 342.0h1M304.8 326.2h1M296.9 337.8h1M297.8 332.8h1M303.0 344.3h1M287.0 330.7h1M297.1 338.6h1M322.2 349.7h1M296.6 340.9h1M276.6 347.2h1M280.3 333.4h1M283.3 344.0h1M291.7 330.9h1M297.2 331.5h1M260.7 334.7h1M274.5 344.3h1M279.6 328.9h1M269.5 340.5h1M252.6 342.0h1M265.0 330.3h1M304.5 341.9h1M263.5 328.8h1M313.1 329.7h1M286.9 332.9h1M288.9 339.3h1M318.4 342.1h1M319.4 333.0h1M266.9 350.0h1M303.6 335.1h1M297.3 346.3h1M273.8 328.6h1M280.7 337.9h1M270.2 330.2h1M315.2 346.2h1M331.2 336.3h1M262.1 345.7h1M272.9 340.9h1M284.1 349.2h1M269.8 331.0h1M305.0 345.1h1M290.3 334.3h1M281.8 333.9h1M257.3 327.7h1M258.8 334.5h1M287.4 353.6h1M253.6 347.4h1M300.8 348.9h1M278.9 350.5h1M304.3 347.2h1M291.4 331.9h1M296.2 332.1h1M293.2 335.5h1M275.5 349.0h1M276.3 343.9h1M279.7 333.4h1M288.5 336.0h1M300.4 348.3h1M282.7 337.6h1M309.3 336.8h1M278.4 325.0h1M267.0 342.2h1M275.1 363.1h1M275.5 336.0h1M310.2 327.2h1M301.6 352.2h1M293.0 330.0h1M284.6 328.0h1M291.3 336.3h1M266.0 344.4h1M328.4 335.7h1M296.5 340.6h1M304.2 334.8h1M306.4 326.1h1M285.8 336.4h1M284.6 342.7h1M270.2 332.6h1M285.4 341.0h1M284.3 352.5h1M254.9 337.3h1M289.9 320.9h1M266.1 342.8h1M282.9 336.5h1M325.9 348.9h1M315.7 337.7h1M261.5 342.5h1M289.5 336.0h1M292.5 337.7h1M313.4 338.4h1M320.3 329.1h1M287.3 344.0h1M278.0 348.1h1M292.6 327.9h1M294.7 332.4h1M256.1 348.1h1M292.2 348.9h1M280.1 348.9h1M313.8 316.5h1M296.7 331.1h1M290.7 335.5h1M300.4 330.9h1M283.5 333.1h1M288.1 316.0h1M292.0 332.3h1M255.5 335.1h1M301.5 339.7h1M303.2 328.8h1M298.9 333.9h1M305.1 335.3h1M267.9 363.4h1M290.1 339.7h1M283.8 346.3h1M282.1 331.9h1M266.8 357.3h1M271.0 344.5h1M284.8 348.4h1M267.9 339.0h1M280.0 337.0h1M266.1 335.4h1M294.4 343.0h1M304.7 364.7h1M322.2 367.9h1M313.9 352.8h1M305.7 368.7h1M290.4 351.6h1M284.9 341.8h1M309.2 379.0h1M299.2 364.2h1M320.6 368.9h1M304.6 376.6h1M299.5 360.8h1M316.2 347.7h1M296.9 368.4h1M290.9 356.1h1M306.1 359.0h1M315.0 362.5h1M285.2 347.3h1M299.9 355.0h1M311.7 356.0h1M304.1 349.8h1M295.2 353.3h1M307.8 360.7h1M286.8 355.1h1M317.7 374.9h1M305.3 376.6h1M295.1 363.1h1M309.9 375.3h1M290.9 346.3h1M308.4 359.0h1M289.4 355.0h1M302.4 360.3h1M310.5 363.5h1M304.7 363.3h1M290.8 355.7h1M306.4 363.2h1M324.9 376.5h1M302.3 342.4h1M297.5 369.0h1M306.1 363.3h1M311.1 359.6h1M307.7 372.1h1M315.9 390.4h1M303.3 368.9h1M310.9 366.3h1M302.1 359.5h1M301.9 360.0h1M305.5 366.1h1M306.9 370.1h1M294.2 343.5h1M301.0 356.7h1M312.9 356.6h1M318.2 372.7h1M299.3 371.7h1M304.2 360.7h1M313.9 370.8h1M302.4 372.7h1M293.7 380.6h1M289.6 372.4h1M302.1 357.9h1M302.9 364.3h1M311.2 361.3h1M295.9 360.7h1M292.0 356.4h1M323.3 390.4h1M319.1 367.3h1M311.2 361.6h1M300.6 358.9h1M326.6 380.1h1M300.0 369.4h1M297.4 348.1h1M308.3 359.8h1M303.3 360.0h1M304.5 348.7h1M295.2 357.2h1M309.6 368.3h1M298.9 361.6h1M297.8 375.0h1M302.8 355.2h1M299.2 354.3h1M314.1 342.6h1M297.1 359.7h1M315.7 390.5h1M301.4 364.0h1M312.4 368.2h1M303.6 351.5h1M314.3 340.6h1M302.0 358.2h1M311.5 364.0h1M300.5 356.8h1M298.4 353.0h1M296.0 349.7h1M305.4 346.3h1M300.3 366.3h1M299.8 360.7h1M307.2 358.9h1M305.9 343.6h1M315.9 374.9h1M323.0 372.0h1M297.2 349.8h1M301.3 347.6h1M289.1 359.7h1M298.5 365.8h1M303.0 348.4h1M307.8 360.0h1M310.2 366.5h1M306.3 351.0h1M304.6 376.0h1M305.2 355.9h1M321.3 355.2h1M306.5 358.3h1M310.9 333.0h1M312.8 375.2h1M298.2 359.7h1M300.5 346.7h1M310.6 345.6h1M304.4 355.3h1M303.3 373.5h1M297.2 346.2h1M318.1 359.1h1M300.9 336.0h1M304.4 360.9h1M299.0 349.9h1M297.2 352.4h1M312.1 363.4h1M326.1 350.2h1M299.7 347.7h1M297.8 369.9h1M293.9 355.1h1M317.6 357.2h1M305.4 351.5h1M308.7 356.1h1M292.6 363.6h1M295.2 347.8h1M320.5 363.9h1M314.6 368.3h1M305.4 385.4h1M283.0 330.8h1M307.1 365.1h1M308.7 343.0h1M317.5 358.2h1M290.5 374.8h1M311.4 367.8h1M300.6 334.6h1M311.6 367.8h1M294.3 379.7h1M291.6 362.1h1M296.2 357.0h1M305.3 355.2h1M303.8 374.8h1M294.0 365.1h1M299.7 351.8h1M311.1 366.9h1M294.2 344.4h1M304.0 368.0h1M305.2 353.9h1M317.5 351.1h1M294.3 370.4h1M293.7 352.3h1M317.1 373.0h1M302.6 362.7h1M305.2 376.7h1M294.4 360.1h1M316.7 379.0h1M303.4 352.3h1M309.3 366.6h1M295.8 352.8h1M322.0 356.7h1M283.4 350.4h1M307.3 362.3h1M306.1 364.5h1M312.3 364.5h1M311.5 362.8h1M311.1 377.0h1M305.1 358.4h1M314.0 379.5h1M309.8 359.6h1M300.5 370.1h1M310.2 362.9h1M306.3 371.5h1M312.8 360.9h1M300.7 364.9h1M299.3 361.5h1M291.9 348.1h1M311.3 362.0h1M300.2 353.3h1M297.0 353.1h1M290.8 357.3h1M306.3 362.8h1M289.9 341.5h1M312.3 376.4h1M313.9 363.8h1M312.0 352.7h1M316.8 363.4h1M297.9 362.5h1M314.9 346.7h1M306.6 360.5h1M314.9 359.7h1M301.8 355.8h1M308.7 363.6h1M300.3 370.8h1M312.4 380.3h1M306.8 351.1h1M290.0 345.7h1M313.2 370.0h1M303.8 369.8h1M300.8 345.4h1M324.6 367.1h1M305.6 373.9h1M303.9 354.7h1M288.9 368.9h1M299.7 355.0h1M321.8 371.2h1M303.1 351.6h1M298.0 373.7h1M299.0 348.6h1M303.7 350.5h1M308.7 365.9h1M297.7 349.6h1M309.1 361.5h1M317.3 367.8h1M316.3 360.5h1M305.5 379.0h1M287.4 373.3h1M306.7 373.0h1M288.5 353.8h1M305.4 374.6h1M295.3 349.1h1M309.5 348.2h1M313.1 378.6h1M303.3 363.5h1M306.8 363.3h1M310.1 366.2h1M304.7 363.5h1M292.9 339.8h1M307.0 361.8h1M314.2 372.1h1M309.9 370.5h1M305.1 367.7h1M289.4 338.4h1M304.4 367.8h1M289.0 349.7h1M308.6 378.5h1M298.9 370.5h1M297.8 370.0h1M311.8 363.1h1M302.5 358.4h1M301.6 357.0h1M303.9 363.7h1M316.6 372.8h1M288.8 367.0h1M316.9 355.0h1M304.3 352.2h1M305.4 372.9h1M307.9 342.0h1M304.6 356.7h1M310.2 374.7h1M304.4 350.1h1M305.9 373.9h1M319.8 362.6h1M313.7 360.2h1M291.1 364.4h1M290.3 337.3h1M304.1 364.5h1M313.8 349.0h1M305.8 354.2h1M302.3 365.7h1M320.5 373.2h1M309.8 357.7h1M309.6 386.0h1M309.7 353.2h1M312.3 376.6h1M304.9 356.8h1M306.9 345.7h1M308.2 369.0h1M299.1 355.8h1M311.0 341.8h1M303.6 376.2h1M322.2 380.2h1M313.1 365.0h1M301.6 358.8h1M305.4 374.5h1M297.8 364.8h1M313.0 353.5h1M300.6 353.4h1M291.9 351.9h1M306.2 354.7h1M313.5 367.6h1M306.3 364.1h1M306.9 381.6h1M295.0 357.0h1M290.1 340.6h1M312.7 374.9h1M308.3 351.8h1M305.2 350.8h1M298.7 323.3h1M284.0 344.0h1M303.5 366.7h1M298.7 350.1h1M301.2 352.0h1M311.6 380.8h1M315.9 352.6h1M296.4 368.5h1M290.2 345.7h1M310.5 360.7h1M302.4 355.3h1M281.9 352.6h1M293.0 352.9h1M301.3 379.3h1M303.4 361.6h1M307.5 354.1h1M303.5 354.0h1M298.5 367.2h1M297.0 351.5h1M311.8 366.7h1M324.1 356.0h1M290.6 348.2h1M299.1 367.3h1M312.0 375.6h1M295.6 346.0h1M311.9 374.3h1M316.2 363.9h1M300.6 359.3h1M307.6 348.0h1M300.1 352.5h1M296.9 351.0h1M299.5 352.5h1M307.9 350.7h1M309.8 356.8h1M303.4 365.1h1M315.9 361.9h1M297.7 333.0h1M295.7 352.9h1M305.9 355.9h1M294.5 349.5h1M301.4 354.7h1M299.6 354.8h1M304.7 356.9h1M307.9 350.4h1M312.5 353.5h1M306.9 376.6h1M299.5 359.5h1M305.6 351.2h1M292.1 366.3h1M303.3 364.1h1M301.9 358.7h1M300.3 363.1h1M315.4 369.6h1M308.6 358.9h1M312.1 366.4h1M311.8 373.6h1M295.5 359.6h1M298.0 360.2h1M304.8 348.5h1M298.6 367.2h1M282.3 365.9h1M308.5 356.5h1M290.6 359.9h1M316.8 364.7h1M301.9 349.2h1M306.9 368.6h1M330.3 373.8h1M305.8 360.6h1M309.8 377.9h1M290.8 354.6h1M308.2 375.3h1M300.5 361.6h1M327.6 370.7h1M302.1 356.5h1M297.7 344.8h1M290.0 372.8h1M288.6 352.7h1M309.9 359.8h1M301.9 377.1h1M312.9 359.8h1M304.7 371.4h1M307.1 350.9h1M292.1 359.8h1M290.9 344.9h1M299.7 373.9h1M299.5 364.8h1M307.6 366.9h1M313.0 366.9h1M307.4 363.5h1M300.3 355.3h1M296.9 355.7h1M294.4 351.7h1M305.8 364.3h1M300.2 364.9h1M312.1 362.3h1M321.9 397.9h1M313.5 355.5h1M301.8 361.5h1M308.3 365.9h1M293.3 364.2h1M301.3 347.6h1M314.8 372.0h1M312.8 351.0h1M302.7 370.4h1M314.0 357.7h1M296.0 367.9h1M314.3 359.0h1M300.9 342.2h1M318.7 354.6h1M305.5 363.6h1M306.8 374.2h1M283.6 349.7h1M296.4 358.6h1M303.3 360.8h1M313.0 367.6h1M307.5 363.6h1M279.8 351.4h1M296.1 376.8h1M304.1 374.2h1M304.3 341.8h1M307.8 372.4h1M294.9 356.2h1M300.2 336.6h1M307.4 375.8h1M305.6 373.6h1M296.8 347.3h1M301.0 344.4h1M283.7 344.2h1M306.0 356.2h1M299.0 360.8h1M304.3 376.2h1M309.8 361.3h1M300.2 363.3h1M293.1 362.5h1M304.3 372.5h1M306.9 362.4h1M296.2 351.4h1M296.1 343.3h1M304.2 352.4h1M299.1 352.1h1M296.7 343.8h1M318.9 379.6h1M298.2 337.7h1M313.2 356.2h1M310.5 379.9h1M305.9 355.3h1M293.1 356.6h1M307.3 366.8h1M295.8 348.5h1M300.8 350.1h1M283.4 339.9h1M313.6 356.1h1M304.0 360.5h1M303.9 367.2h1M315.8 368.7h1M304.6 355.1h1M293.7 336.6h1M291.2 375.9h1M299.0 374.6h1M297.8 362.0h1M292.5 376.3h1M287.3 362.7h1M299.6 366.5h1M305.7 366.7h1M315.8 361.6h1M311.0 356.2h1M298.1 344.3h1M317.1 380.4h1M289.1 342.9h1M308.3 353.3h1M289.5 348.8h1M303.6 348.7h1M300.6 354.4h1M316.4 365.7h1M307.6 370.5h1M311.8 345.7h1M301.4 354.5h1M287.2 341.5h1M334.2 388.8h1M309.4 366.3h1M325.5 385.0h1M295.7 338.2h1M312.9 365.8h1M308.0 379.0h1M287.9 360.6h1M296.9 354.6h1M312.2 374.0h1M332.1 355.8h1M312.1 359.6h1M293.9 345.6h1M313.8 366.5h1M299.9 364.1h1M296.2 351.7h1M303.0 360.0h1M306.5 365.1h1M300.0 362.0h1M291.9 349.5h1M308.6 358.8h1M296.4 351.4h1M320.3 366.0h1M302.0 366.3h1M299.3 372.4h1M293.0 353.0h1M309.8 373.3h1M311.0 380.4h1M297.2 358.7h1M298.9 348.6h1M275.5 347.2h1M311.4 379.6h1M309.7 375.6h1M300.2 345.5h1M295.3 357.0h1M307.1 365.9h1M296.8 361.2h1M294.1 351.0h1M309.7 349.8h1M313.7 380.6h1M298.5 364.4h1M296.5 362.4h1M296.4 349.7h1M307.5 342.3h1M309.1 356.6h1M287.7 362.2h1M301.6 367.5h1M301.1 374.5h1M319.7 349.5h1M311.7 376.6h1M312.6 384.9h1M311.2 376.1h1M295.1 357.8h1M295.5 364.4h1M299.8 364.8h1M301.9 341.1h1M312.6 351.5h1M307.2 363.9h1M308.1 342.3h1M304.3 361.1h1M302.4 384.3h1M312.9 365.1h1M301.4 370.2h1M298.6 360.4h1M307.7 360.9h1M301.4 355.6h1M311.0 357.4h1M305.8 364.0h1M301.6 367.1h1M309.7 360.6h1M306.8 365.3h1M314.5 375.6h1M302.6 373.2h1M291.7 360.4h1M314.6 371.1h1M303.5 343.0h1M299.2 358.8h1M306.3 362.4h1M311.4 379.0h1M298.9 366.6h1M305.0 365.3h1M297.0 357.7h1M307.1 343.4h1M300.3 349.2h1M301.6 352.5h1M297.1 352.4h1M293.2 342.7h1M301.3 352.8h1M310.2 349.2h1M304.8 368.2h1M299.2 362.2h1M302.7 353.7h1M312.4 379.6h1M296.2 338.6h1M310.8 359.4h1M303.9 351.8h1M325.3 379.9h1M307.3 357.6h1M323.7 366.0h1M303.7 362.6h1M302.3 377.6h1M306.2 374.8h1M314.7 378.6h1M300.1 346.0h1M318.7 363.5h1M312.1 372.2h1M304.8 381.9h1M301.6 364.6h1M306.7 338.2h1M315.7 356.3h1M308.1 371.5h1M314.8 357.3h1M319.2 362.8h1M299.2 367.2h1M320.4 363.0h1M297.3 345.4h1M289.0 339.3h1M299.6 368.7h1M319.2 366.1h1M303.7 358.4h1M295.4 364.2h1M311.3 343.7h1M314.0 363.3h1M306.8 362.1h1M306.6 359.7h1M308.3 361.1h1M296.5 359.6h1M302.5 355.2h1M304.7 354.7h1M323.9 375.1h1M297.7 357.0h1M298.1 361.5h1M319.9 378.7h1M293.7 365.6h1M310.2 367.2h1M304.1 362.8h1M311.5 373.0h1M298.5 353.2h1M300.5 353.9h1M281.4 359.3h1M301.1 355.7h1M299.1 356.5h1M287.4 362.1h1M279.8 357.0h1M309.9 357.4h1M293.9 354.5h1M310.1 373.8h1M298.3 353.3h1M306.1 362.1h1M295.8 343.2h1M299.2 356.5h1M310.6 369.3h1M297.1 358.6h1M295.9 371.1h1M300.5 347.1h1M308.2 357.9h1M305.2 361.9h1M283.4 371.8h1M307.3 374.4h1M319.9 351.0h1M310.6 360.6h1M312.4 355.3h1M296.7 349.8h1M308.7 374.6h1M306.9 360.6h1M300.8 342.1h1M311.0 359.4h1M294.3 371.1h1M305.2 357.5h1M300.2 346.5h1M302.5 360.6h1M300.4 346.9h1M304.3 374.6h1M301.2 343.9h1M314.3 359.5h1M297.0 355.9h1M298.3 349.6h1M309.9 366.6h1M301.3 335.4h1M308.9 355.0h1M305.0 365.9h1M295.9 342.4h1M294.5 355.5h1M295.3 334.8h1M316.1 353.6h1M311.0 374.4h1M300.2 357.4h1M311.7 381.0h1M298.6 352.2h1M314.4 354.2h1M314.0 387.5h1M321.6 353.4h1M303.0 374.1h1M314.3 380.7h1M303.4 373.9h1M319.7 364.3h1M303.1 360.1h1M321.1 365.1h1M290.8 351.1h1M291.7 337.5h1M309.6 350.3h1M296.6 376.6h1M306.4 360.1h1M311.6 357.0h1M320.7 364.2h1M295.3 369.6h1M297.4 347.0h1M310.5 368.6h1M296.8 352.6h1M306.9 362.8h1M303.1 375.2h1M313.6 359.9h1M297.6 352.5h1M299.3 364.9h1M315.6 363.1h1M304.3 364.1h1M301.2 376.5h1M311.8 354.3h1M292.2 354.8h1M295.3 351.8h1M292.9 342.2h1M297.9 355.4h1M314.5 386.0h1M295.1 360.6h1M306.2 378.9h1M314.4 361.4h1M310.0 367.9h1M311.8 350.3h1M300.8 363.6h1M303.2 368.1h1M306.9 358.7h1M313.4 377.8h1M304.1 374.6h1M296.6 356.9h1M292.0 342.8h1M300.7 371.1h1M307.4 342.0h1M308.9 361.9h1M287.0 354.3h1M314.2 372.4h1M314.8 352.3h1M298.3 348.6h1M312.4 373.1h1M302.0 362.4h1M316.1 368.0h1M303.1 366.2h1M308.4 354.3h1M302.1 366.9h1M305.2 369.8h1M317.2 352.1h1M315.5 365.7h1M302.5 367.4h1M307.0 370.3h1M305.2 358.0h1M312.4 368.1h1M308.8 371.9h1M300.3 376.9h1M305.9 376.8h1M295.4 360.8h1M286.7 357.9h1M310.9 360.1h1M319.2 370.1h1M315.0 377.5h1M303.0 368.6h1M315.4 361.4h1M306.4 360.4h1M305.3 362.2h1M297.4 357.9h1M316.4 366.2h1M274.2 351.2h1M306.3 374.5h1M300.5 368.1h1M305.9 363.2h1M305.3 371.8h1M303.2 391.3h1M302.5 348.0h1M286.6 324.2h1M307.5 344.5h1M319.4 378.0h1M309.0 358.7h1M305.3 364.3h1M295.9 349.6h1M304.9 359.3h1M311.5 360.3h1M315.8 366.0h1M302.0 356.9h1M308.7 363.9h1M310.4 354.3h1M299.0 358.9h1M299.0 363.7h1M303.2 362.6h1M308.5 363.7h1M305.9 361.4h1M316.3 373.4h1M311.4 387.1h1M311.9 360.4h1M292.5 358.5h1M305.5 366.8h1M325.2 361.1h1M289.9 368.5h1M315.2 369.9h1M308.1 373.4h1M310.7 364.1h1M310.4 357.2h1M298.7 365.0h1M293.4 350.2h1M303.8 366.4h1M311.8 377.8h1M310.3 372.6h1M312.4 366.3h1M310.1 361.7h1M315.7 372.4h1M299.8 357.0h1M301.5 356.4h1M305.8 371.9h1M303.0 346.7h1M299.8 366.0h1M307.4 373.0h1M321.2 360.1h1M308.9 368.8h1M285.3 358.1h1M308.5 367.8h1M299.8 347.4h1M306.3 355.2h1M302.5 363.1h1M301.1 356.5h1M303.9 364.6h1M305.0 366.8h1M318.7 371.0h1M301.8 349.9h1M286.9 337.1h1M316.3 368.6h1M303.2 361.5h1M289.5 344.5h1M296.2 339.0h1M290.9 346.1h1M311.5 358.0h1M304.2 342.3h1M312.9 355.2h1M305.5 373.9h1M305.0 356.0h1M298.6 357.7h1M303.9 340.6h1M302.3 369.4h1M312.2 368.4h1M300.2 358.1h1M301.1 354.3h1M296.2 342.0h1M307.3 354.1h1M306.9 366.0h1M310.6 356.8h1M273.0 337.9h1M304.4 386.7h1M287.5 370.0h1M299.8 339.7h1M303.9 358.7h1M316.8 366.2h1M303.9 368.7h1M296.8 353.9h1M303.3 374.3h1M298.7 360.3h1M314.9 354.4h1M301.3 353.4h1M284.2 360.4h1M301.4 351.1h1M298.2 360.3h1M302.0 351.9h1M298.8 364.5h1M306.8 371.5h1M303.9 362.3h1M296.2 357.2h1M301.4 349.3h1M290.9 342.6h1M305.4 364.8h1M305.7 373.6h1M310.1 371.3h1M316.3 351.3h1M317.2 381.0h1M316.5 373.3h1M309.2 354.9h1M298.5 359.9h1M325.5 370.3h1M300.1 354.6h1M300.9 361.6h1M296.6 354.8h1M292.4 352.8h1M305.0 362.3h1M309.3 357.7h1M293.6 359.9h1M309.1 372.5h1M299.1 356.1h1M313.2 376.9h1M297.7 349.2h1M294.4 358.5h1M305.7 369.1h1M304.8 360.4h1M299.7 370.6h1M297.5 359.3h1M295.4 348.4h1M305.0 363.5h1M296.5 361.0h1M305.2 343.6h1M308.6 359.5h1M290.7 355.0h1M309.1 368.1h1M307.1 362.3h1M290.2 357.0h1M290.2 351.5h1M309.1 374.4h1M299.5 364.3h1M294.3 347.8h1M301.8 356.7h1M302.1 372.3h1M295.4 360.1h1M306.6 366.3h1M295.5 347.5h1M316.6 364.7h1M313.6 369.7h1M309.7 356.0h1M297.2 364.5h1M296.0 365.2h1M315.6 366.4h1M296.9 354.6h1M296.4 367.0h1M306.3 374.4h1M294.5 324.3h1M304.2 353.3h1M303.7 367.8h1M293.3 354.5h1M306.0 372.1h1M294.2 349.6h1M295.3 346.1h1M294.6 355.5h1M301.5 348.5h1M294.3 350.2h1M294.4 337.2h1M280.6 324.5h1M331.7 376.5h1M296.8 353.9h1M308.2 357.9h1M289.3 342.9h1M313.3 351.5h1M298.5 354.9h1M311.3 360.4h1M297.6 347.3h1M303.0 349.1h1M315.6 351.2h1M283.8 345.5h1M290.3 338.4h1M303.7 351.9h1M299.6 362.8h1M317.6 360.5h1M293.1 334.7h1M302.0 371.5h1M305.2 352.7h1M307.1 367.7h1M300.4 371.9h1M309.3 367.6h1M294.8 343.4h1M307.4 363.1h1M311.2 379.1h1M307.0 372.3h1M314.8 373.4h1M295.7 370.1h1M308.7 364.6h1M300.5 341.4h1M311.3 368.7h1M304.9 375.3h1M301.9 358.2h1M290.0 341.6h1M322.5 355.0h1M306.6 368.6h1M295.7 345.4h1M322.5 373.2h1M309.0 357.9h1M300.3 367.9h1M291.6 357.9h1M308.0 351.6h1M315.7 356.2h1M306.6 363.7h1M303.0 360.1h1M310.0 361.4h1M314.0 362.4h1M318.5 351.9h1M302.0 358.9h1M297.6 340.4h1M314.7 348.9h1M314.4 367.0h1M302.5 357.5h1M311.7 365.3h1M283.7 346.9h1M303.1 355.8h1M308.9 365.9h1M302.1 374.4h1M296.8 354.7h1M303.1 372.3h1M311.1 373.2h1M310.4 358.4h1M303.4 372.3h1M315.2 354.7h1M303.5 356.5h1M299.8 338.4h1M297.3 344.3h1M297.3 346.5h1M304.4 369.8h1M315.3 347.1h1M307.1 371.5h1M298.0 370.5h1M296.2 372.4h1M312.9 371.9h1M306.1 386.5h1M304.0 348.6h1M303.3 360.1h1M305.7 370.8h1M309.0 354.3h1M306.8 362.6h1M307.5 348.5h1M300.1 367.8h1M300.7 355.4h1M300.6 394.7h1M294.6 339.3h1M299.6 353.0h1M294.9 374.1h1M308.1 375.1h1M312.1 387.3h1M315.5 361.4h1M303.5 370.7h1M313.3 360.4h1M304.2 365.3h1M311.7 356.1h1M307.8 384.5h1M311.8 382.0h1M310.8 345.8h1M311.5 357.7h1M296.1 348.7h1M317.8 370.9h1M307.2 364.6h1M314.1 372.4h1M297.5 328.5h1M315.4 380.5h1M306.6 374.8h1M296.2 359.6h1M302.0 347.6h1M312.8 385.2h1M315.1 368.4h1M315.5 386.4h1M308.5 346.8h1M297.0 356.6h1M306.8 362.7h1M318.0 369.2h1M294.7 366.9h1M293.4 369.6h1M307.5 355.9h1M307.6 374.0h1M291.7 351.9h1M306.4 374.3h1M306.8 366.9h1M308.0 362.6h1M299.9 351.0h1M307.0 360.6h1M283.0 348.9h1M305.1 343.6h1M308.5 366.3h1M296.0 351.4h1M316.0 369.8h1M306.5 377.7h1M296.7 341.0h1M292.3 358.9h1M303.7 337.4h1M287.5 371.4h1M300.0 369.9h1M297.9 374.7h1M290.7 344.8h1M305.8 350.6h1M317.3 376.3h1M316.7 367.3h1M321.3 363.0h1M308.4 376.7h1M302.3 347.2h1M304.8 363.0h1M291.6 358.5h1M311.9 354.4h1M309.7 381.1h1M315.6 363.0h1M313.3 370.5h1M304.0 348.2h1M301.8 356.8h1M314.8 363.5h1M294.1 346.5h1M296.0 331.0h1M309.9 371.4h1M314.9 381.1h1M303.1 358.1h1M292.6 360.6h1M313.4 381.3h1M314.5 373.0h1M313.8 368.2h1M293.7 357.8h1M308.4 355.0h1M316.0 373.2h1M309.0 371.9h1M308.4 375.0h1M302.8 361.6h1M300.4 333.9h1M301.7 342.0h1M310.8 345.3h1M323.9 366.6h1M307.4 344.1h1M306.0 370.3h1M311.1 368.3h1M310.8 342.2h1M306.8 362.5h1M300.7 351.9h1M289.3 360.8h1M303.3 370.0h1M299.7 360.8h1M288.4 361.1h1M299.7 364.2h1M317.3 370.5h1M304.4 343.0h1M296.9 372.6h1M295.0 376.6h1M296.9 372.3h1M287.3 356.9h1M286.9 366.9h1M284.7 346.2h1M314.6 376.1h1M307.2 365.4h1M304.3 359.1h1M307.7 362.8h1M316.4 374.6h1M311.8 371.1h1M296.7 372.7h1M290.9 375.0h1M299.8 366.0h1M312.8 360.6h1M315.4 369.9h1M314.0 379.5h1M295.0 347.7h1M292.2 346.7h1M301.8 362.0h1M285.8 356.1h1M293.7 353.7h1M290.6 355.7h1M304.1 369.9h1M296.8 363.1h1M309.4 364.9h1M314.2 377.8h1M302.1 380.3h1M312.5 353.4h1M311.0 357.4h1M292.1 360.9h1M298.1 363.2h1M307.1 357.1h1M308.1 354.7h1M299.8 378.0h1M309.6 368.5h1M280.7 341.8h1M297.5 359.2h1M293.5 349.2h1M306.1 366.9h1M307.0 358.3h1M301.0 343.4h1M305.9 355.4h1M288.8 361.3h1M291.2 355.1h1M294.7 366.2h1M313.9 372.8h1M313.0 374.4h1M322.7 369.1h1M314.0 375.5h1M317.2 383.1h1M323.5 367.0h1M309.9 367.5h1M305.3 337.1h1M308.3 370.3h1M296.4 363.7h1M306.3 362.3h1M306.9 361.4h1M309.6 374.9h1M301.1 355.5h1M299.0 371.2h1M303.0 346.0h1M298.9 359.9h1M312.9 374.9h1M309.0 346.4h1M310.4 374.9h1M309.3 382.2h1M282.8 343.6h1M309.9 349.2h1M302.4 347.0h1M305.7 365.0h1M323.7 356.0h1M312.3 369.3h1M304.4 368.0h1M295.0 374.1h1M310.6 379.1h1M304.9 342.2h1M306.2 373.4h1M293.0 354.4h1M323.6 366.6h1M301.1 361.0h1M297.4 377.8h1M304.0 367.9h1M305.1 362.8h1M313.4 363.9h1M310.0 359.7h1M293.0 371.3h1M309.7 370.9h1M298.7 364.4h1M296.2 364.7h1M293.5 355.4h1M304.7 364.3h1M308.3 375.7h1M318.1 362.8h1M310.8 358.6h1M304.9 364.0h1M292.0 357.5h1M278.3 353.4h1M303.5 355.3h1M291.5 361.3h1M294.1 357.3h1M308.1 362.3h1M304.2 359.3h1M306.6 347.5h1M293.1 357.0h1M300.5 384.5h1M306.2 361.8h1M304.7 363.5h1M296.9 361.0h1M289.6 347.0h1M300.6 342.0h1M304.1 371.1h1M295.9 343.4h1M296.8 370.4h1M292.3 353.1h1M308.8 352.5h1M302.0 360.7h1M300.6 372.0h1M295.9 350.9h1M306.3 349.2h1M323.1 370.5h1M300.5 343.2h1M307.5 359.9h1M304.4 352.0h1M320.5 362.0h1M300.9 362.5h1M301.9 362.9h1M325.8 388.6h1M290.1 347.2h1M298.6 355.4h1M307.8 360.4h1M290.6 342.2h1M299.2 342.5h1M293.8 348.0h1M319.9 367.1h1M293.9 337.7h1M310.9 350.5h1M290.9 344.8h1M299.3 374.6h1M291.5 368.1h1M309.8 368.4h1M315.7 361.5h1M303.0 373.0h1M304.6 372.8h1M304.9 347.5h1M298.6 365.5h1M303.5 364.6h1M306.9 385.8h1M307.7 357.1h1M317.1 370.0h1M300.4 349.7h1M307.6 364.0h1M298.1 357.8h1M306.0 364.4h1M308.0 370.8h1M304.9 378.1h1M301.8 349.8h1M308.5 357.8h1M303.6 377.1h1M308.9 356.0h1M303.5 347.6h1M306.5 358.6h1M302.4 351.6h1M297.3 370.5h1M326.7 375.8h1M308.1 377.5h1M303.5 366.1h1M308.5 356.1h1M296.7 353.0h1M288.8 342.8h1M296.3 365.3h1M301.5 361.5h1M304.7 349.5h1M291.6 364.9h1M304.7 365.3h1M298.2 363.0h1M293.5 345.2h1M302.8 362.9h1M311.4 380.4h1M304.2 339.9h1M298.3 366.0h1M289.8 351.5h1M302.1 370.1h1M314.8 383.7h1M321.6 360.4h1M317.5 374.4h1M303.1 359.5h1M307.8 357.0h1M303.5 367.3h1M289.6 345.6h1M312.1 372.3h1M321.3 370.4h1M314.5 353.9h1M305.4 350.8h1M297.9 363.2h1M299.3 374.6h1M298.7 351.2h1M311.6 386.1h1M304.5 378.8h1M299.8 368.3h1M319.7 378.9h1M316.1 355.8h1M309.0 365.3h1M307.4 362.7h1M313.5 355.6h1M296.9 358.3h1M297.0 363.3h1M304.7 360.2h1M326.0 376.1h1M300.0 367.8h1M321.5 365.3h1M309.4 368.5h1M312.5 392.4h1M312.3 372.9h1M299.5 369.6h1M294.1 349.7h1M304.2 378.6h1M303.3 386.5h1M297.7 364.8h1M294.7 342.9h1M298.9 354.2h1M310.9 362.6h1M301.8 358.3h1M315.4 366.3h1M303.9 358.5h1M315.5 359.7h1M280.7 346.6h1M305.6 372.5h1M299.1 357.5h1M298.6 359.0h1M312.8 358.7h1M302.4 359.9h1M294.6 334.9h1M310.9 376.6h1M297.3 362.0h1M301.1 350.2h1M315.2 368.7h1M310.1 374.9h1M313.0 380.1h1M291.9 342.0h1M300.4 356.1h1M299.9 372.5h1M305.5 368.2h1M303.1 366.2h1M305.3 355.8h1M313.4 368.3h1M297.9 355.5h1M301.0 353.3h1M307.5 340.1h1M298.1 357.5h1M300.7 353.0h1M298.0 358.1h1M294.9 350.1h1M300.8 354.8h1M312.0 360.0h1M307.9 367.0h1M310.0 365.7h1M302.7 360.4h1M305.0 371.7h1M302.9 362.6h1M315.1 365.7h1M313.2 355.6h1M301.6 363.5h1M313.8 352.7h1M294.1 350.5h1M301.3 361.7h1M320.2 376.3h1M304.4 351.8h1M307.0 357.8h1M306.2 356.6h1M303.8 362.4h1M317.1 363.8h1M309.2 377.1h1M305.0 354.1h1M303.0 350.8h1M309.5 381.5h1M305.3 368.2h1M326.3 376.0h1M317.7 377.3h1M304.4 348.4h1M298.2 366.4h1M297.3 344.8h1M312.4 377.9h1M300.2 361.4h1M290.0 355.3h1M299.5 351.1h1M291.4 341.3h1M295.3 359.9h1M302.2 355.9h1M291.6 361.8h1M294.5 356.4h1M299.4 359.3h1M293.2 366.9h1M303.0 364.1h1M286.1 361.3h1M306.3 366.0h1M305.1 372.1h1M295.1 352.7h1M307.3 362.9h1M306.1 364.4h1M296.0 361.0h1M316.6 361.1h1M307.6 371.8h1M284.9 358.4h1M299.1 347.7h1M305.5 373.0h1M304.4 363.6h1M291.5 360.7h1M278.3 357.9h1M305.3 349.9h1M303.2 351.0h1M302.1 367.5h1M291.2 364.7h1M310.7 342.9h1M311.9 371.9h1M299.1 351.0h1M301.8 358.8h1M296.6 372.9h1M300.6 354.3h1M296.0 358.8h1M315.7 362.7h1M302.7 363.9h1M311.0 368.0h1M294.1 369.1h1M306.6 374.5h1M316.5 373.9h1M299.4 351.8h1M316.3 375.6h1M316.2 373.2h1M310.3 371.0h1M291.1 339.0h1M319.9 372.6h1M316.2 360.4h1M303.8 370.6h1M297.3 353.7h1M307.7 369.1h1M292.1 350.2h1M306.8 359.6h1M297.5 346.1h1M291.8 363.0h1M310.2 358.2h1M300.4 379.7h1M303.3 369.4h1M300.2 365.1h1M306.7 363.6h1M294.0 358.3h1M301.8 362.7h1M305.2 349.1h1M306.5 361.8h1M308.3 362.7h1M295.7 353.4h1M302.2 357.8h1M299.9 351.8h1M308.6 353.0h1M303.5 368.3h1M304.6 357.4h1M304.8 354.5h1M314.2 353.8h1M293.0 346.6h1M317.6 381.5h1M311.0 353.8h1M300.2 361.3h1M302.6 348.4h1M302.0 368.6h1M306.4 356.0h1M299.1 372.8h1M310.2 378.0h1M319.4 366.4h1M295.1 347.6h1M331.5 365.4h1M307.5 354.0h1M307.8 378.7h1M304.4 350.7h1M299.4 355.2h1M298.2 362.5h1M303.7 368.7h1M296.0 365.4h1M308.1 354.7h1M307.6 364.1h1M314.0 384.0h1M296.4 355.7h1M311.9 356.4h1M313.8 357.8h1M317.3 360.4h1M325.7 396.5h1M302.3 364.4h1M308.7 364.1h1M301.9 355.7h1M297.7 361.2h1M319.7 363.2h1M305.6 353.3h1M315.9 357.6h1M296.5 362.3h1M304.2 363.2h1M293.2 359.2h1M315.3 346.4h1M311.5 350.6h1M300.4 341.7h1M297.0 349.5h1M300.2 356.3h1M303.2 367.5h1M302.6 365.3h1M311.6 355.7h1M309.5 356.8h1M314.2 366.3h1M302.7 376.3h1M295.0 359.1h1M300.1 362.0h1M307.7 368.0h1M294.3 364.1h1M305.5 361.0h1M282.0 333.9h1M300.6 353.1h1M295.5 381.7h1M290.8 377.4h1M296.6 403.3h1M287.6 351.0h1M317.0 379.3h1M304.1 361.9h1M322.8 382.4h1M282.8 365.1h1M311.3 355.2h1M286.7 372.3h1M295.4 380.1h1M291.7 326.3h1M302.7 353.7h1M304.1 359.1h1M306.5 366.1h1M304.5 363.4h1M314.3 347.9h1M281.6 370.7h1M290.7 354.7h1M297.9 374.6h1M278.8 364.5h1M299.7 365.5h1M301.3 357.1h1M313.4 360.4h1M311.4 369.2h1M295.5 369.0h1M300.5 364.8h1M309.4 359.7h1M314.1 384.9h1M315.6 350.4h1M316.8 365.0h1M288.2 355.6h1M296.1 359.5h1M308.4 375.9h1M306.5 379.1h1M286.6 362.2h1M298.0 370.3h1M295.0 369.1h1M313.3 364.2h1M289.9 352.6h1M312.1 358.9h1M299.7 376.4h1M309.7 374.6h1M292.0 378.9h1M297.6 359.0h1M329.2 385.2h1M306.1 373.6h1M300.0 376.0h1M289.2 360.5h1M293.9 384.2h1M298.4 370.4h1M281.2 377.6h1M315.3 359.9h1M310.3 382.8h1M310.8 342.7h1M293.8 321.6h1M319.4 372.6h1M305.0 347.7h1M289.1 367.1h1M297.8 351.0h1M286.2 373.9h1M292.2 353.7h1M286.3 350.2h1M278.3 351.7h1M314.2 382.8h1M301.7 360.0h1M280.5 346.4h1M290.3 344.5h1M308.6 367.7h1M271.6 388.6h1M309.0 326.0h1M302.3 370.3h1M297.0 363.8h1M299.5 352.8h1M295.8 368.2h1M305.4 378.7h1M294.4 357.2h1M299.3 367.7h1M305.0 366.7h1M292.2 357.3h1M312.3 352.4h1M289.8 345.2h1M306.8 344.2h1M292.4 382.4h1M276.3 355.1h1M309.2 367.8h1M308.2 329.3h1M326.4 377.7h1M306.7 364.8h1M313.3 387.1h1M290.9 346.4h1M290.7 365.6h1M304.2 366.3h1M314.6 377.1h1M275.5 392.4h1M306.5 385.2h1M304.6 384.6h1M308.8 363.9h1M299.3 372.7h1M292.4 342.2h1M300.5 386.2h1M305.2 375.5h1M320.3 367.5h1M312.0 348.7h1M291.7 371.1h1M297.9 380.8h1M297.4 355.3h1M290.6 359.4h1M295.0 399.8h1M304.4 343.9h1M284.4 364.2h1M279.5 373.2h1M283.5 365.5h1M288.1 319.1h1M290.5 361.2h1M303.5 369.7h1M314.4 368.4h1M313.6 375.6h1M296.3 337.3h1M290.8 324.5h1M295.1 350.3h1M312.4 351.0h1M312.4 330.6h1M313.4 373.2h1M288.3 367.3h1M295.4 354.5h1M295.2 365.5h1M302.3 351.6h1M314.8 381.7h1M313.6 397.2h1M297.3 365.1h1M299.1 376.5h1M270.8 352.5h1M282.2 360.3h1M301.7 392.3h1M315.8 350.4h1M308.6 375.9h1M318.9 409.7h1M300.5 327.9h1M292.5 352.8h1M307.9 373.0h1M303.7 369.0h1M288.7 340.1h1M305.8 354.0h1M279.8 323.6h1M305.7 361.4h1M306.8 383.4h1M297.3 368.7h1M267.7 356.1h1M310.7 350.4h1M285.9 379.0h1M304.0 380.5h1M307.7 356.2h1M298.3 347.9h1M297.1 331.7h1M298.8 393.5h1M297.2 381.7h1M291.3 365.3h1M290.6 370.2h1M315.0 368.4h1M318.0 352.1h1M300.2 384.3h1M316.7 402.9h1M302.3 340.9h1M290.4 379.9h1M282.0 386.7h1M280.8 359.9h1M301.0 355.9h1M282.1 390.6h1M275.3 354.9h1M314.3 365.8h1M293.8 361.9h1M299.7 363.1h1M307.6 345.2h1M289.2 351.1h1M295.8 367.3h1M318.9 360.3h1M324.0 324.4h1M316.9 374.3h1M315.8 383.8h1M313.4 361.8h1M311.3 378.9h1M289.0 376.9h1M293.4 354.1h1M294.0 315.4h1M312.5 343.2h1M312.2 372.0h1M313.1 371.8h1M310.5 383.0h1M289.0 364.0h1M307.3 330.7h1M298.1 364.3h1M295.2 390.2h1M285.4 335.7h1M295.7 358.5h1M312.2 364.9h1M299.4 343.5h1M279.3 369.9h1M298.3 366.8h1M299.9 379.0h1M311.0 385.9h1M324.0 365.8h1M291.4 342.8h1M296.5 360.5h1M303.5 356.2h1M293.1 395.3h1M273.9 321.7h1M318.4 365.7h1M301.2 360.7h1M301.3 330.3h1M301.7 363.2h1M343.9 388.6h1M293.0 353.7h1M306.1 388.8h1M312.2 363.3h1M280.4 366.6h1M285.3 343.2h1M289.4 337.7h1M288.6 340.7h1M304.7 371.6h1M308.4 368.2h1M301.3 355.0h1M290.9 360.5h1M313.7 369.0h1M313.2 363.4h1M294.8 390.2h1M310.7 371.2h1M307.6 393.1h1M309.3 355.3h1M303.4 371.7h1M296.9 333.4h1M305.4 356.9h1M299.6 361.8h1M294.8 361.5h1M298.3 352.5h1M284.2 370.4h1M304.6 388.3h1M309.1 375.2h1M299.9 369.7h1M291.6 355.1h1M284.3 351.0h1M300.0 343.9h1M315.9 351.7h1M315.3 351.0h1M326.0 371.1h1M278.3 342.1h1M325.9 370.2h1M289.4 381.2h1M297.4 362.0h1M291.8 366.4h1M321.3 366.0h1M303.2 357.8h1M284.0 355.7h1M305.0 350.4h1M292.6 396.3h1M294.0 366.1h1M307.7 384.1h1M287.6 375.8h1M294.7 345.6h1M295.2 360.8h1M306.9 398.6h1M317.9 368.8h1M287.3 341.5h1M287.3 366.8h1M293.5 380.7h1M278.5 358.6h1M294.1 360.8h1M308.0 356.7h1M267.8 337.1h1M303.6 316.6h1M295.0 372.6h1M326.6 359.9h1M300.5 358.4h1M282.7 392.0h1M316.4 356.3h1M285.9 386.4h1M307.1 373.6h1M317.1 387.2h1M292.9 339.4h1M310.8 387.9h1M302.5 390.1h1M292.1 367.4h1M301.3 388.8h1M297.4 368.7h1M306.0 375.2h1M283.7 381.8h1M283.1 358.1h1M291.4 339.1h1M297.0 366.7h1M298.2 376.0h1M280.4 369.6h1M298.4 368.6h1M300.4 373.9h1M297.6 381.5h1M297.2 372.0h1M312.4 373.3h1M313.5 363.0h1M293.8 376.8h1M289.1 350.0h1M296.5 364.7h1M302.5 365.8h1M296.3 330.6h1M290.0 330.0h1M309.5 361.9h1M311.4 366.7h1M309.6 379.9h1M291.3 361.5h1M309.9 370.2h1M288.6 355.7h1M283.6 350.8h1M302.9 377.3h1M302.0 352.8h1M291.4 362.6h1M310.4 416.1h1M282.4 389.2h1M298.7 363.1h1M292.1 376.2h1M288.4 375.4h1M280.1 368.5h1M323.2 370.1h1M289.3 351.6h1M300.5 361.9h1M304.9 362.5h1M334.2 375.8h1M303.6 346.8h1M297.7 345.3h1M293.7 371.7h1M307.4 355.2h1M297.8 375.6h1M317.1 367.7h1M297.0 355.2h1M297.8 374.5h1M308.0 363.0h1M303.7 355.1h1M304.0 381.6h1M276.2 359.7h1M308.9 391.3h1M317.6 372.1h1M292.6 346.7h1M284.2 353.1h1M281.9 371.1h1M295.7 367.4h1M294.2 362.5h1M299.2 373.8h1M293.1 365.5h1M289.2 351.3h1M300.6 357.0h1M295.5 383.7h1M312.0 376.1h1M329.5 384.5h1M299.4 343.6h1M301.1 346.4h1M290.8 353.5h1M315.3 374.0h1M318.2 326.7h1M325.6 390.0h1M299.1 346.8h1M306.7 346.7h1M316.8 376.4h1M290.8 366.4h1M314.2 382.3h1M292.0 376.4h1M297.2 380.9h1M288.3 358.4h1M292.6 342.6h1M294.0 330.4h1M297.8 392.4h1M302.3 354.7h1M296.8 371.9h1M296.1 361.3h1M315.7 388.4h1M337.1 390.1h1M307.5 387.9h1M286.6 347.8h1M313.7 384.3h1M281.4 357.5h1M303.2 364.9h1M302.7 351.9h1M294.8 376.1h1M306.8 343.0h1M293.6 366.4h1M277.3 374.8h1M291.8 364.8h1M303.0 366.2h1M297.9 388.3h1M287.9 371.5h1M297.7 359.1h1M296.4 365.8h1M295.5 377.7h1M288.9 372.9h1M309.3 380.5h1M296.1 360.5h1M288.3 378.6h1M294.8 360.7h1M299.2 359.0h1M274.6 364.1h1M310.3 356.9h1M299.3 358.4h1M296.9 384.1h1M282.2 353.7h1M307.9 359.2h1M297.1 362.4h1M293.9 365.1h1M297.4 335.7h1M300.2 376.2h1M291.2 339.9h1M292.7 318.7h1M315.0 358.7h1M302.1 374.3h1M304.1 394.8h1M306.3 355.4h1M307.6 361.6h1M318.1 379.3h1M324.6 369.8h1M313.6 397.2h1M293.9 356.0h1M298.8 393.8h1M314.9 364.9h1M290.9 362.3h1M293.1 352.4h1M305.4 363.1h1M297.9 374.4h1M301.7 358.4h1M290.7 381.7h1M307.8 377.7h1M302.2 393.7h1M274.5 375.2h1M302.8 381.4h1M296.6 359.4h1M287.9 351.7h1M305.9 372.8h1M298.3 360.0h1M288.7 366.3h1M310.1 365.0h1M279.0 347.4h1M306.2 363.9h1M306.8 346.1h1M282.8 377.7h1M302.6 333.9h1M305.2 365.0h1M296.1 377.6h1M300.6 369.2h1M284.5 369.5h1M294.8 356.5h1M305.1 375.3h1M290.3 340.2h1M299.7 364.4h1M285.3 354.2h1M306.8 378.4h1M286.7 364.1h1M297.8 374.6h1M296.9 348.8h1M292.9 375.9h1M320.6 367.6h1M294.3 366.8h1M303.8 364.1h1M305.5 364.7h1M315.4 359.3h1M290.4 354.9h1M269.9 357.6h1M287.3 340.2h1M295.9 362.7h1M316.3 369.7h1M273.8 342.3h1M293.3 367.8h1M296.3 349.4h1M285.6 367.9h1M295.1 363.7h1M314.4 381.5h1M308.3 404.0h1M302.1 368.9h1M282.5 373.1h1M307.2 372.1h1M293.2 367.6h1M302.4 364.4h1M299.3 370.3h1M304.7 357.3h1M304.5 367.1h1M319.6 377.4h1M299.7 361.4h1M295.7 365.3h1M298.5 379.9h1M307.1 392.9h1M288.5 368.4h1M307.1 356.5h1M296.5 345.3h1M309.9 370.9h1M312.4 347.7h1M300.9 347.4h1M324.6 366.9h1M296.5 345.3h1M283.1 338.4h1M298.3 373.1h1M313.0 344.6h1M284.2 380.1h1M288.5 361.7h1M319.4 369.8h1M287.3 340.8h1M292.2 350.1h1M299.7 348.2h1M284.2 308.4h1M299.9 368.8h1M299.7 381.3h1M316.2 377.4h1M314.6 385.6h1M287.4 339.2h1M302.5 368.4h1M340.9 373.2h1M296.4 364.4h1M279.4 365.3h1M287.8 368.4h1M274.4 348.8h1M296.8 366.4h1M291.4 365.8h1M311.2 348.7h1M318.9 373.5h1M305.6 358.1h1M329.7 359.1h1M289.8 348.7h1M301.4 351.0h1M309.9 399.4h1M292.8 351.1h1M292.9 361.8h1M290.4 367.7h1M313.0 384.0h1M298.9 334.2h1M316.2 370.6h1M296.1 360.6h1M311.3 374.5h1M312.2 347.3h1M307.2 373.7h1M298.4 370.2h1M289.3 351.4h1M311.3 362.6h1M314.5 364.2h1M293.3 343.1h1M309.0 391.1h1M301.9 348.0h1M285.5 340.8h1M309.0 364.0h1M287.6 349.3h1M292.0 385.3h1M314.6 359.2h1M291.3 362.6h1M305.9 385.3h1M322.6 394.8h1M295.0 345.1h1M305.0 404.3h1M285.7 360.2h1M305.0 366.7h1M302.1 366.7h1M271.9 352.0h1M294.9 367.0h1M299.3 362.9h1M290.0 353.7h1M289.7 363.6h1M312.3 385.5h1M311.1 353.7h1M304.7 327.0h1M298.6 382.9h1M308.1 359.3h1M322.7 376.9h1M328.0 387.3h1M278.9 355.7h1M281.8 373.6h1M299.0 363.9h1M286.9 367.8h1M288.3 358.4h1M311.2 344.7h1M289.1 361.9h1M296.0 363.9h1M313.7 403.5h1M307.3 384.8h1M316.1 364.9h1M291.9 378.5h1M300.5 389.6h1M304.0 361.9h1M301.7 361.4h1M306.6 337.9h1M291.6 379.2h1M294.2 356.8h1M299.4 381.3h1M298.4 367.7h1M302.7 397.8h1M297.4 399.5h1M277.4 356.0h1M310.7 403.3h1M307.2 362.1h1M316.0 370.2h1M293.0 377.7h1M297.0 370.9h1M275.3 370.8h1M291.8 362.3h1M317.5 369.4h1M293.4 370.3h1M308.3 377.8h1M295.0 377.5h1M318.8 385.0h1M304.8 383.7h1M309.0 385.8h1M308.6 370.0h1M306.6 339.4h1M290.6 355.2h1M315.0 373.7h1M331.2 382.6h1M322.2 384.9h1M310.7 381.4h1M288.2 333.1h1M306.1 368.7h1M306.8 393.7h1M294.2 358.4h1M301.7 375.4h1M290.0 335.1h1M289.3 351.6h1M277.5 357.0h1M292.6 357.7h1M295.6 362.9h1M302.1 375.9h1M289.5 367.2h1M298.6 331.5h1M300.0 341.7h1M296.1 363.6h1M311.2 354.9h1M291.2 366.6h1M311.0 383.2h1M308.0 365.1h1M308.4 358.3h1M317.4 350.7h1M308.2 359.7h1M309.9 330.6h1M311.0 347.8h1M318.4 371.9h1M306.5 381.9h1M309.2 372.7h1M298.8 370.6h1M310.8 348.8h1M290.8 329.2h1M308.0 372.1h1M307.3 389.9h1M308.4 371.9h1M294.2 362.0h1M302.5 349.0h1M294.0 371.6h1M274.7 347.5h1M286.7 359.7h1M290.4 340.1h1M294.6 350.5h1M287.2 349.1h1M299.0 346.7h1M313.2 370.2h1M319.6 403.0h1M296.4 340.4h1M311.2 381.5h1M287.0 383.0h1M267.9 359.7h1M286.7 336.0h1M307.6 338.7h1M299.1 369.6h1M295.9 350.6h1M318.8 372.4h1M296.8 372.8h1M292.9 340.5h1M318.0 380.0h1M319.2 391.0h1M292.6 380.9h1M305.0 350.9h1M305.4 379.0h1M307.0 368.5h1M306.9 353.4h1M316.1 393.5h1M275.4 330.7h1M285.5 388.2h1M295.0 336.6h1M309.6 386.6h1M301.9 365.8h1M295.7 357.3h1M288.5 350.0h1M284.9 348.6h1M299.2 360.4h1M333.3 388.8h1M282.5 368.8h1M296.2 373.0h1M307.0 376.2h1M291.7 349.2h1M306.6 388.4h1M284.9 334.3h1M319.6 352.2h1M286.3 376.1h1M302.0 354.8h1M282.7 352.1h1M297.4 373.4h1M303.8 352.4h1M296.6 359.3h1M305.7 360.4h1M306.7 368.1h1M286.5 339.0h1M276.7 372.8h1M297.1 359.1h1M314.2 357.0h1M300.9 370.7h1M293.6 360.7h1M285.5 371.3h1M305.1 334.1h1M273.6 375.4h1M257.2 370.9h1M289.3 392.7h1M321.4 364.0h1M295.7 335.4h1M292.7 351.6h1M332.6 346.0h1M273.2 385.4h1M265.1 367.8h1M255.9 370.9h1M284.9 357.6h1M270.6 369.5h1M259.1 381.0h1M292.1 340.5h1M285.1 367.6h1M311.9 351.1h1M327.3 402.3h1M267.6 365.8h1M289.7 361.1h1M277.9 370.8h1M250.3 349.7h1M339.6 345.0h1M287.3 341.2h1M276.3 351.5h1M311.0 340.4h1M282.8 373.1h1M282.4 349.7h1M301.7 330.3h1M275.4 351.2h1M285.0 328.6h1M295.6 371.5h1M269.4 395.2h1M297.8 349.1h1M285.2 346.2h1M291.5 363.7h1M303.8 348.1h1M265.5 381.8h1M267.5 370.7h1M263.7 363.8h1M273.8 365.9h1M284.6 333.4h1M293.9 344.5h1M285.5 368.9h1M290.9 379.9h1M298.4 332.5h1M261.6 402.9h1M267.3 382.9h1M319.6 345.5h1M271.4 392.1h1M278.3 366.9h1M274.7 336.7h1M307.2 334.6h1M305.3 360.7h1M271.2 359.4h1M254.0 365.0h1M293.4 330.0h1M281.3 373.5h1M262.7 386.5h1M304.6 352.2h1M257.7 367.7h1M279.9 410.6h1M315.7 397.3h1M266.3 390.9h1M330.6 376.6h1M320.1 364.4h1M294.4 400.7h1M308.3 368.5h1M301.7 368.6h1M310.9 381.8h1M249.2 359.2h1M317.2 351.2h1M286.1 400.0h1M273.8 359.3h1M279.5 371.6h1M298.9 339.4h1M276.4 371.5h1M276.1 349.1h1M248.6 347.6h1M264.1 394.5h1M294.2 361.8h1M263.8 374.9h1M263.4 380.9h1M299.9 354.6h1M277.2 353.4h1M286.9 361.0h1M298.6 352.0h1M293.7 363.8h1M306.1 350.1h1M297.7 353.2h1M269.7 363.9h1M279.3 353.0h1M274.9 348.0h1M258.7 344.3h1M285.7 355.9h1M272.9 377.9h1M295.4 377.8h1M286.7 363.1h1M269.5 366.1h1M318.8 353.5h1M332.7 378.3h1M317.2 353.3h1M325.8 367.9h1M297.2 365.5h1M334.7 359.4h1M283.4 362.0h1M273.3 343.3h1M281.4 345.1h1M269.9 365.9h1M273.6 336.6h1M324.3 340.7h1M245.9 366.9h1M293.7 379.4h1M320.0 359.7h1M286.5 372.6h1M312.9 366.7h1M281.1 377.7h1M289.5 379.2h1M286.2 349.8h1M252.3 397.6h1M266.8 386.1h1M269.2 361.1h1M272.8 330.8h1M288.7 340.5h1M285.5 382.6h1M298.4 349.7h1M263.5 365.8h1M290.7 333.9h1M316.1 384.0h1M286.1 354.5h1M271.5 384.3h1M319.9 393.9h1M307.9 327.1h1M288.8 345.9h1M272.5 360.8h1M300.8 376.5h1M304.4 335.2h1M269.3 360.1h1M248.2 377.8h1M289.3 366.0h1M317.9 359.3h1M276.6 348.9h1M279.3 342.9h1M272.7 382.9h1M256.8 374.3h1M305.2 375.4h1M314.6 350.4h1M291.3 375.8h1M262.9 348.4h1M267.7 386.0h1M313.2 341.4h1M268.4 370.7h1M283.5 375.1h1M298.9 376.6h1M290.5 323.0h1M288.1 382.3h1M255.9 369.9h1M281.0 390.8h1M268.0 381.5h1M297.1 399.9h1M262.7 357.2h1M287.9 350.7h1M261.9 371.1h1M273.9 347.0h1M290.2 333.8h1M311.3 376.2h1M294.7 367.3h1M285.2 370.4h1M281.7 361.1h1M264.1 362.0h1M256.3 385.3h1M291.3 377.8h1M311.0 358.5h1M250.6 385.1h1M277.6 361.6h1M299.9 369.7h1M298.7 342.0h1M291.2 371.7h1M252.9 398.5h1M318.7 365.8h1M282.7 374.6h1M287.0 337.6h1M276.4 341.2h1M247.1 355.7h1M328.1 357.3h1M297.6 371.8h1M282.7 384.9h1M243.0 384.7h1M312.7 346.8h1M263.0 375.5h1M290.1 378.2h1M299.7 340.1h1M298.0 323.6h1M279.0 367.5h1M287.1 363.6h1M290.8 339.0h1M289.2 357.8h1M292.4 372.1h1M266.0 349.5h1M289.1 342.5h1M260.1 377.3h1M280.1 364.6h1M282.7 365.6h1M279.5 354.3h1M251.0 351.1h1M267.4 362.6h1M305.3 401.6h1M337.0 331.5h1M275.7 348.9h1M305.5 363.8h1M300.3 380.8h1M320.4 377.4h1M275.6 346.5h1M264.8 341.2h1M276.0 385.6h1M277.6 368.8h1M303.1 374.3h1M335.3 363.4h1M272.0 386.5h1M289.7 360.6h1M247.1 348.2h1M274.5 355.8h1M272.9 375.1h1M261.8 355.8h1M279.8 353.8h1M254.5 330.4h1M295.7 377.5h1M316.8 346.2h1M261.5 357.4h1M288.7 352.3h1M275.8 367.6h1M260.5 352.7h1M295.0 357.5h1M291.7 354.1h1M267.1 332.6h1M283.3 318.7h1M248.2 362.0h1M277.1 352.5h1M286.0 364.0h1M250.7 401.8h1M336.1 390.4h1M267.3 345.1h1M268.3 347.8h1M297.5 346.7h1M305.7 365.4h1M284.0 343.1h1M278.9 325.3h1M269.9 355.6h1M258.5 396.4h1M262.4 401.6h1M281.5 369.6h1M314.5 359.9h1M257.2 359.5h1M315.2 389.4h1M256.7 356.7h1M286.4 367.0h1M303.8 326.9h1M275.7 367.5h1M319.2 358.5h1M271.2 392.0h1M312.5 318.3h1M318.8 362.4h1M330.4 372.5h1M288.3 364.0h1M320.0 347.2h1M280.6 373.0h1M313.8 363.0h1M280.9 371.0h1M294.5 350.3h1M298.3 339.3h1M273.5 361.5h1M254.5 369.4h1M288.0 346.2h1M296.4 379.6h1M286.3 358.2h1M293.5 332.9h1M274.7 378.5h1M253.7 371.3h1M266.3 348.9h1M258.2 393.6h1M287.7 381.5h1M276.4 343.6h1M254.7 383.5h1M299.5 372.1h1M266.9 369.0h1M293.6 347.1h1M267.9 339.6h1M295.5 361.8h1M316.1 395.4h1M289.4 362.7h1M316.7 314.8h1M314.3 352.7h1M280.3 362.7h1M291.1 344.1h1M304.4 368.6h1M296.1 342.1h1M281.7 399.0h1M290.1 367.0h1M254.7 382.9h1M309.5 361.8h1M293.1 407.6h1M290.9 368.3h1M312.6 337.9h1M296.4 371.2h1M257.3 341.7h1M287.2 366.2h1M298.0 356.6h1M277.7 402.9h1M309.4 338.7h1M301.4 350.7h1M294.9 335.4h1M274.6 384.7h1M264.8 368.6h1M305.6 330.5h1M287.6 363.1h1M280.8 367.3h1M296.8 386.9h1M282.8 334.5h1M305.8 333.7h1M291.3 381.5h1M290.5 338.9h1M253.2 345.6h1M316.6 332.2h1M293.9 358.7h1M285.7 359.8h1M288.9 397.0h1M281.7 370.0h1M300.9 363.9h1M260.3 398.2h1M321.0 333.9h1M285.9 367.3h1M316.4 337.4h1M268.1 379.6h1M261.5 403.6h1M260.9 370.0h1M288.2 367.4h1M290.7 347.2h1M293.7 360.0h1M318.8 322.3h1M280.8 375.4h1M243.3 340.4h1M271.2 359.0h1M255.4 351.9h1M294.3 386.0h1M277.5 350.2h1M272.9 364.2h1M273.2 341.6h1M295.6 370.8h1M265.0 367.8h1M317.1 382.7h1M258.2 358.2h1M287.3 340.8h1M289.5 362.1h1M288.2 343.8h1M303.3 347.6h1M268.3 386.1h1M347.5 325.1h1M348.0 400.9h1M248.8 306.0h1M281.9 337.5h1M252.4 397.1h1M329.8 378.2h1M253.5 347.0h1M270.7 381.7h1M296.6 357.7h1M340.5 405.1h1M353.1 357.8h1M326.6 369.6h1M335.2 317.9h1M301.8 332.2h1M283.2 340.9h1M280.7 379.1h1M245.6 383.7h1M260.8 337.7h1M259.2 415.6h1M357.0 355.5h1M258.0 312.0h1M337.6 354.5h1M242.1 358.0h1M338.7 401.0h1M321.2 407.2h1M276.0 399.7h1M335.5 327.7h1M293.3 336.9h1M332.6 354.4h1M339.4 412.6h1M297.4 351.5h1M298.1 339.2h1M278.7 331.4h1M315.6 353.1h1M274.0 406.6h1M326.1 340.6h1M288.1 385.7h1M249.6 365.5h1M253.6 340.3h1M309.5 408.8h1M270.5 349.0h1M290.8 405.9h1M284.5 376.3h1M322.6 329.4h1M344.0 332.7h1M292.2 305.9h1M278.5 306.3h1M274.0 305.9h1M275.2 305.7h1M304.4 307.1h1M289.2 306.3h1M334.5 306.4h1M336.9 305.8h1M300.2 306.0h1M292.5 306.0h1M348.7 305.8h1M291.3 306.7h1M346.2 306.0h1M300.5 306.4h1M338.2 307.1h1M297.4 305.7h1M315.2 306.3h1M337.2 305.6h1M340.6 306.4h1M275.2 307.2h1M299.8 305.9h1M300.7 306.5h1M302.8 306.1h1M278.3 305.8h1M342.9 306.7h1M345.4 306.3h1M327.0 305.9h1M337.2 305.8h1M314.4 306.3h1M275.2 306.4h1M280.9 305.6h1M342.9 305.6h1M350.9 305.9h1M304.6 305.7h1M293.5 306.4h1M293.8 306.0h1M271.4 306.6h1M353.0 305.8h1M279.5 306.0h1M334.9 306.8h1M315.7 306.2h1M340.6 305.8h1M290.7 306.4h1M343.5 306.3h1M324.3 306.3h1M319.2 306.4h1M272.4 305.9h1M295.0 306.8h1M346.3 307.6h1M298.8 306.0h1M276.0 306.2h1M329.6 307.1h1M300.9 306.0h1M291.5 306.8h1M338.6 305.8h1M303.2 305.9h1M315.9 306.2h1M333.3 305.6h1M271.4 306.0h1M316.7 306.0h1" stroke="#000" stroke-width="1" fill="none"/>
<rect x="259.00" y="308.60" width="96.40" height="39.90" fill="none" stroke="#333" stroke-width="1" shape-rendering="crispEdges"/>
<rect x="285.60" y="348.50" width="52.80" height="48.20" fill="none" stroke="#333" stroke-width="1" shape-rendering="crispEdges"/>
<line x1="257.3" y1="417.3" x2="257.3" y2="422.3" stroke="#222" stroke-width="1"/>
<text x="253.10000000000002" y="429.5" font-size="5.6" font-weight="normal" stroke="#000" stroke-width="0.25">10<tspan font-size="4" dy="-2.5">2</tspan></text>
<line x1="288.4" y1="417.3" x2="288.4" y2="422.3" stroke="#222" stroke-width="1"/>
<text x="284.2" y="429.5" font-size="5.6" font-weight="normal" stroke="#000" stroke-width="0.25">10<tspan font-size="4" dy="-2.5">3</tspan></text>
<line x1="319.5" y1="417.3" x2="319.5" y2="422.3" stroke="#222" stroke-width="1"/>
<text x="315.3" y="429.5" font-size="5.6" font-weight="normal" stroke="#000" stroke-width="0.25">10<tspan font-size="4" dy="-2.5">4</tspan></text>
<line x1="350.6" y1="417.3" x2="350.6" y2="422.3" stroke="#222" stroke-width="1"/>
<text x="346.40000000000003" y="429.5" font-size="5.6" font-weight="normal" stroke="#000" stroke-width="0.25">10<tspan font-size="4" dy="-2.5">5</tspan></text>
<line x1="241.0" y1="417.3" x2="241.0" y2="420.3" stroke="#333" stroke-width="0.8"/>
<line x1="244.9" y1="417.3" x2="244.9" y2="420.3" stroke="#333" stroke-width="0.8"/>
<line x1="247.9" y1="417.3" x2="247.9" y2="420.3" stroke="#333" stroke-width="0.8"/>
<line x1="250.4" y1="417.3" x2="250.4" y2="420.3" stroke="#333" stroke-width="0.8"/>
<line x1="252.5" y1="417.3" x2="252.5" y2="420.3" stroke="#333" stroke-width="0.8"/>
<line x1="254.3" y1="417.3" x2="254.3" y2="420.3" stroke="#333" stroke-width="0.8"/>
<line x1="255.9" y1="417.3" x2="255.9" y2="420.3" stroke="#333" stroke-width="0.8"/>
<line x1="266.7" y1="417.3" x2="266.7" y2="420.3" stroke="#333" stroke-width="0.8"/>
<line x1="272.1" y1="417.3" x2="272.1" y2="420.3" stroke="#333" stroke-width="0.8"/>
<line x1="276.0" y1="417.3" x2="276.0" y2="420.3" stroke="#333" stroke-width="0.8"/>
<line x1="279.0" y1="417.3" x2="279.0" y2="420.3" stroke="#333" stroke-width="0.8"/>
<line x1="281.5" y1="417.3" x2="281.5" y2="420.3" stroke="#333" stroke-width="0.8"/>
<line x1="283.6" y1="417.3" x2="283.6" y2="420.3" stroke="#333" stroke-width="0.8"/>
<line x1="285.4" y1="417.3" x2="285.4" y2="420.3" stroke="#333" stroke-width="0.8"/>
<line x1="287.0" y1="417.3" x2="287.0" y2="420.3" stroke="#333" stroke-width="0.8"/>
<line x1="297.8" y1="417.3" x2="297.8" y2="420.3" stroke="#333" stroke-width="0.8"/>
<line x1="303.2" y1="417.3" x2="303.2" y2="420.3" stroke="#333" stroke-width="0.8"/>
<line x1="307.1" y1="417.3" x2="307.1" y2="420.3" stroke="#333" stroke-width="0.8"/>
<line x1="310.1" y1="417.3" x2="310.1" y2="420.3" stroke="#333" stroke-width="0.8"/>
<line x1="312.6" y1="417.3" x2="312.6" y2="420.3" stroke="#333" stroke-width="0.8"/>
<line x1="314.7" y1="417.3" x2="314.7" y2="420.3" stroke="#333" stroke-width="0.8"/>
<line x1="316.5" y1="417.3" x2="316.5" y2="420.3" stroke="#333" stroke-width="0.8"/>
<line x1="318.1" y1="417.3" x2="318.1" y2="420.3" stroke="#333" stroke-width="0.8"/>
<line x1="328.9" y1="417.3" x2="328.9" y2="420.3" stroke="#333" stroke-width="0.8"/>
<line x1="334.3" y1="417.3" x2="334.3" y2="420.3" stroke="#333" stroke-width="0.8"/>
<line x1="338.2" y1="417.3" x2="338.2" y2="420.3" stroke="#333" stroke-width="0.8"/>
<line x1="341.2" y1="417.3" x2="341.2" y2="420.3" stroke="#333" stroke-width="0.8"/>
<line x1="343.7" y1="417.3" x2="343.7" y2="420.3" stroke="#333" stroke-width="0.8"/>
<line x1="345.8" y1="417.3" x2="345.8" y2="420.3" stroke="#333" stroke-width="0.8"/>
<line x1="347.6" y1="417.3" x2="347.6" y2="420.3" stroke="#333" stroke-width="0.8"/>
<line x1="349.2" y1="417.3" x2="349.2" y2="420.3" stroke="#333" stroke-width="0.8"/>
<line x1="360.0" y1="417.3" x2="360.0" y2="420.3" stroke="#333" stroke-width="0.8"/>
<line x1="235.3" y1="402" x2="240.3" y2="402" stroke="#222" stroke-width="1"/>
<text x="231.5" y="406.5" font-size="5.6" transform="rotate(-90 231.5 406.5)" font-weight="normal" stroke="#000" stroke-width="0.25">10<tspan font-size="4" dy="-2.5">2</tspan></text>
<line x1="235.3" y1="373.5" x2="240.3" y2="373.5" stroke="#222" stroke-width="1"/>
<text x="231.5" y="378.0" font-size="5.6" transform="rotate(-90 231.5 378.0)" font-weight="normal" stroke="#000" stroke-width="0.25">10<tspan font-size="4" dy="-2.5">3</tspan></text>
<line x1="235.3" y1="345" x2="240.3" y2="345" stroke="#222" stroke-width="1"/>
<text x="231.5" y="349.5" font-size="5.6" transform="rotate(-90 231.5 349.5)" font-weight="normal" stroke="#000" stroke-width="0.25">10<tspan font-size="4" dy="-2.5">4</tspan></text>
<line x1="235.3" y1="316.5" x2="240.3" y2="316.5" stroke="#222" stroke-width="1"/>
<text x="231.5" y="321.0" font-size="5.6" transform="rotate(-90 231.5 321.0)" font-weight="normal" stroke="#000" stroke-width="0.25">10<tspan font-size="4" dy="-2.5">5</tspan></text>
<line x1="237.3" y1="416.9" x2="240.3" y2="416.9" stroke="#333" stroke-width="0.8"/>
<line x1="237.3" y1="413.3" x2="240.3" y2="413.3" stroke="#333" stroke-width="0.8"/>
<line x1="237.3" y1="410.6" x2="240.3" y2="410.6" stroke="#333" stroke-width="0.8"/>
<line x1="237.3" y1="408.3" x2="240.3" y2="408.3" stroke="#333" stroke-width="0.8"/>
<line x1="237.3" y1="406.4" x2="240.3" y2="406.4" stroke="#333" stroke-width="0.8"/>
<line x1="237.3" y1="404.8" x2="240.3" y2="404.8" stroke="#333" stroke-width="0.8"/>
<line x1="237.3" y1="403.3" x2="240.3" y2="403.3" stroke="#333" stroke-width="0.8"/>
<line x1="237.3" y1="393.4" x2="240.3" y2="393.4" stroke="#333" stroke-width="0.8"/>
<line x1="237.3" y1="388.4" x2="240.3" y2="388.4" stroke="#333" stroke-width="0.8"/>
<line x1="237.3" y1="384.8" x2="240.3" y2="384.8" stroke="#333" stroke-width="0.8"/>
<line x1="237.3" y1="382.1" x2="240.3" y2="382.1" stroke="#333" stroke-width="0.8"/>
<line x1="237.3" y1="379.8" x2="240.3" y2="379.8" stroke="#333" stroke-width="0.8"/>
<line x1="237.3" y1="377.9" x2="240.3" y2="377.9" stroke="#333" stroke-width="0.8"/>
<line x1="237.3" y1="376.3" x2="240.3" y2="376.3" stroke="#333" stroke-width="0.8"/>
<line x1="237.3" y1="374.8" x2="240.3" y2="374.8" stroke="#333" stroke-width="0.8"/>
<line x1="237.3" y1="364.9" x2="240.3" y2="364.9" stroke="#333" stroke-width="0.8"/>
<line x1="237.3" y1="359.9" x2="240.3" y2="359.9" stroke="#333" stroke-width="0.8"/>
<line x1="237.3" y1="356.3" x2="240.3" y2="356.3" stroke="#333" stroke-width="0.8"/>
<line x1="237.3" y1="353.6" x2="240.3" y2="353.6" stroke="#333" stroke-width="0.8"/>
<line x1="237.3" y1="351.3" x2="240.3" y2="351.3" stroke="#333" stroke-width="0.8"/>
<line x1="237.3" y1="349.4" x2="240.3" y2="349.4" stroke="#333" stroke-width="0.8"/>
<line x1="237.3" y1="347.8" x2="240.3" y2="347.8" stroke="#333" stroke-width="0.8"/>
<line x1="237.3" y1="346.3" x2="240.3" y2="346.3" stroke="#333" stroke-width="0.8"/>
<line x1="237.3" y1="336.4" x2="240.3" y2="336.4" stroke="#333" stroke-width="0.8"/>
<line x1="237.3" y1="331.4" x2="240.3" y2="331.4" stroke="#333" stroke-width="0.8"/>
<line x1="237.3" y1="327.8" x2="240.3" y2="327.8" stroke="#333" stroke-width="0.8"/>
<line x1="237.3" y1="325.1" x2="240.3" y2="325.1" stroke="#333" stroke-width="0.8"/>
<line x1="237.3" y1="322.8" x2="240.3" y2="322.8" stroke="#333" stroke-width="0.8"/>
<line x1="237.3" y1="320.9" x2="240.3" y2="320.9" stroke="#333" stroke-width="0.8"/>
<line x1="237.3" y1="319.3" x2="240.3" y2="319.3" stroke="#333" stroke-width="0.8"/>
<line x1="237.3" y1="317.8" x2="240.3" y2="317.8" stroke="#333" stroke-width="0.8"/>
<line x1="237.3" y1="307.9" x2="240.3" y2="307.9" stroke="#333" stroke-width="0.8"/>
<text x="329" y="326.3" font-size="12.5" stroke="#000" stroke-width="0.45">T2+</text>
<text x="329" y="341.8" font-size="12.5" stroke="#000" stroke-width="0.45">MB</text>
<text x="320.3" y="371.2" font-size="12.5" stroke="#000" stroke-width="0.45">T1</text>
<text x="368.7" y="336.7" font-size="12.3" textLength="36" lengthAdjust="spacingAndGlyphs" stroke="#000" stroke-width="0.45">34.2%</text>
<text x="368" y="378.2" font-size="12.3" textLength="24.8" lengthAdjust="spacingAndGlyphs" stroke="#000" stroke-width="0.45">22%</text>
<text x="11.9" y="376.3" font-size="13.5" textLength="23" lengthAdjust="spacingAndGlyphs" stroke="#000" stroke-width="0.45">IgD</text>
<line x1="22.1" y1="445.2" x2="22.1" y2="386.8" stroke="#000" stroke-width="2.1"/>
<line x1="22.1" y1="358.1" x2="22.1" y2="312" stroke="#000" stroke-width="2.1"/>
<line x1="39.6" y1="347" x2="39.6" y2="348.6" stroke="#555" stroke-width="0.9"/>
<line x1="39.6" y1="350.6" x2="39.6" y2="352.4" stroke="#555" stroke-width="0.9"/>
<line x1="39.6" y1="355" x2="39.6" y2="358" stroke="#555" stroke-width="0.9"/>
<path d="M22.1 306.3 L25.5 312.8 L18.7 312.8 Z" fill="#000"/>
<line x1="21.05" y1="444.15" x2="186.3" y2="444.15" stroke="#000" stroke-width="2.1"/>
<text x="195.3" y="447.3" font-size="13.5" textLength="24.3" lengthAdjust="spacingAndGlyphs" stroke="#000" stroke-width="0.45">IgM</text>
<line x1="230.2" y1="444.35" x2="361" y2="444.35" stroke="#000" stroke-width="2.1"/>
<path d="M367.4 444.4 L360.4 441.1 L360.4 447.7 Z" fill="#000"/>
<text x="51.3" y="520" font-size="11.5" textLength="37.5" lengthAdjust="spacingAndGlyphs" stroke="#000" stroke-width="0.45">Spleen</text>
<line x1="51" y1="522.5" x2="89" y2="522.5" stroke="#222" stroke-width="1.1"/>
<text x="20.5" y="558" font-size="10.3" transform="rotate(-40 20.5 558)" stroke="#000" stroke-width="0.4">Control</text>
<text x="47" y="558.5" font-size="10.3" transform="rotate(-40 47 558.5)" stroke="#000" stroke-width="0.4">ST3KO</text>
<text x="74" y="558" font-size="10.3" textLength="45.5" lengthAdjust="spacingAndGlyphs" transform="rotate(-40 74 558)" stroke="#000" stroke-width="0.4">RAG1KO</text>
<defs><filter id="fe" x="-5%" y="-20%" width="110%" height="140%"><feGaussianBlur stdDeviation="0.5"/></filter><filter id="feb" x="-5%" y="-50%" width="110%" height="200%"><feGaussianBlur stdDeviation="0.6"/></filter></defs>
<rect x="9.85" y="561.40" width="88.30" height="36.80" fill="#fff" stroke="#222" stroke-width="1.1"/>
<g filter="url(#fe)">
<rect x="13.50" y="564.00" width="82.70" height="18.50" fill="#c8c8c8"/>
<rect x="13.50" y="585.20" width="82.70" height="10.80" fill="#c6c6c6"/>
</g>
<g filter="url(#feb)">
<path d="M16.5 566.30 C21.7 566.95 28.7 566.95 33.9 566.30" fill="none" stroke="#0c0c0c" stroke-width="3.4" stroke-linecap="round"/>
<path d="M66.6 573.20 C74.4 574.24 84.9 574.24 92.7 573.20" fill="none" stroke="#0c0c0c" stroke-width="4.0" stroke-linecap="round"/>
<path d="M16.7 577.90 C22.1 578.55 29.3 578.55 34.7 577.90" fill="none" stroke="#080808" stroke-width="3.9" stroke-linecap="round"/>
<path d="M40.6 578.30 C46.6 578.82 54.7 578.82 60.7 578.30" fill="none" stroke="#0c0c0c" stroke-width="3.5" stroke-linecap="round"/>
<path d="M66.0 579.10 C74.0 580.01 84.8 580.01 92.8 579.10" fill="none" stroke="#040404" stroke-width="5.0" stroke-linecap="round"/>
<path d="M16.8 589.90 C23.2 590.94 31.7 590.94 38.1 589.90" fill="none" stroke="#0c0c0c" stroke-width="4.2" stroke-linecap="round"/>
<path d="M39.1 590.30 C46.7 591.08 56.8 591.08 64.4 590.30" fill="none" stroke="#0e0e0e" stroke-width="4.0" stroke-linecap="round"/>
<path d="M64.8 590.60 C73.1 591.64 84.2 591.64 92.5 590.60" fill="none" stroke="#0a0a0a" stroke-width="4.6" stroke-linecap="round"/>
</g>
<path d="M100.9 565.1 L107.2 562.1 L107.2 568.1 Z" fill="#000"/>
<line x1="106.5" y1="565.1" x2="114.7" y2="565.1" stroke="#000" stroke-width="1.2"/>
<path d="M100.9 572.4 L107.2 569.4 L107.2 575.4 Z" fill="#000"/>
<line x1="106.5" y1="572.4" x2="114.7" y2="572.4" stroke="#000" stroke-width="1.2"/>
<text x="118.9" y="574.6" font-size="10.3" textLength="32.3" lengthAdjust="spacingAndGlyphs" stroke="#000" stroke-width="0.4">STAT3</text>
<text x="106" y="593.3" font-size="10.3" textLength="35.5" lengthAdjust="spacingAndGlyphs" stroke="#000" stroke-width="0.4"><tspan font-weight="normal" font-size="11">β</tspan>-Actin</text>
<line x1="193.0" y1="533" x2="193.0" y2="683.5" stroke="#444" stroke-width="1"/>
<line x1="193.0" y1="533" x2="195.6" y2="533" stroke="#777" stroke-width="1"/>
<line x1="193.0" y1="562.7" x2="195.6" y2="562.7" stroke="#777" stroke-width="1"/>
<line x1="193.0" y1="592.7" x2="195.6" y2="592.7" stroke="#777" stroke-width="1"/>
<line x1="193.0" y1="623.2" x2="195.6" y2="623.2" stroke="#777" stroke-width="1"/>
<line x1="193.0" y1="653.2" x2="195.6" y2="653.2" stroke="#777" stroke-width="1"/>
<line x1="193.0" y1="683.5" x2="195.6" y2="683.5" stroke="#777" stroke-width="1"/>
<text x="189.5" y="537.6" font-size="11" text-anchor="end" stroke="#000" stroke-width="0.45">50</text>
<text x="189.5" y="567.8" font-size="11" text-anchor="end" stroke="#000" stroke-width="0.45">40</text>
<text x="189.5" y="598.2" font-size="11" text-anchor="end" stroke="#000" stroke-width="0.45">30</text>
<text x="189.5" y="628.1" font-size="11" text-anchor="end" stroke="#000" stroke-width="0.45">20</text>
<text x="189.7" y="657.8" font-size="11" text-anchor="end" stroke="#000" stroke-width="0.45">10</text>
<text x="188.2" y="687.9" font-size="11" text-anchor="end" stroke="#000" stroke-width="0.45">0</text>
<line x1="192.5" y1="683.5" x2="308.6" y2="683.5" stroke="#444" stroke-width="1.2"/>
<rect x="212.00" y="550.75" width="19.40" height="132.75" fill="#000"/>
<line x1="221.7" y1="550.75" x2="221.7" y2="536.25" stroke="#000" stroke-width="1.3"/>
<line x1="218.45" y1="536.25" x2="224.95" y2="536.25" stroke="#000" stroke-width="1.4"/>
<line x1="241.15" y1="590.2" x2="241.15" y2="572.5" stroke="#000" stroke-width="1.3"/>
<line x1="237.9" y1="572.5" x2="244.4" y2="572.5" stroke="#000" stroke-width="1.4"/>
<rect x="231.90" y="590.70" width="18.50" height="92.80" fill="#fff" stroke="#000" stroke-width="1.2"/>
<rect x="268.25" y="667.75" width="20.00" height="15.75" fill="#000"/>
<line x1="278.25" y1="667.75" x2="278.25" y2="665.75" stroke="#000" stroke-width="1.3"/>
<line x1="275.0" y1="665.75" x2="281.5" y2="665.75" stroke="#000" stroke-width="1.4"/>
<line x1="298.125" y1="623.25" x2="298.125" y2="614.2" stroke="#000" stroke-width="1.3"/>
<line x1="294.875" y1="614.2" x2="301.375" y2="614.2" stroke="#000" stroke-width="1.4"/>
<rect x="288.75" y="623.75" width="18.75" height="59.75" fill="#fff" stroke="#000" stroke-width="1.2"/>
<text x="230.6" y="699.5" font-size="11" text-anchor="middle" stroke="#000" stroke-width="0.45">T2 +MB</text>
<text x="291.2" y="699.5" font-size="11" text-anchor="middle" stroke="#000" stroke-width="0.45">T1</text>
<text x="170" y="613.5" font-size="12" text-anchor="middle" textLength="85" lengthAdjust="spacingAndGlyphs" transform="rotate(-90 170 613.5)" stroke="#000" stroke-width="0.45">Percentage (%)</text>
<rect x="249.50" y="527.50" width="10.00" height="10.00" fill="#000"/>
<text x="265" y="534.5" font-size="10.5" stroke="#000" stroke-width="0.4">Control</text>
<text x="265.5" y="548.75" font-size="10.5" stroke="#000" stroke-width="0.4"><tspan font-family="DejaVu Sans, sans-serif" font-size="9">→</tspan></text>
<text x="273.8" y="548.75" font-size="10.5" textLength="45" lengthAdjust="spacingAndGlyphs" stroke="#000" stroke-width="0.4">RAG1KO</text>
<rect x="250.00" y="561.70" width="9.20" height="9.20" fill="#fff" stroke="#000" stroke-width="1"/>
<text x="264.5" y="568.75" font-size="10.5" textLength="48.6" lengthAdjust="spacingAndGlyphs" stroke="#000" stroke-width="0.4">STAT3KO</text>
<text x="265.5" y="583.75" font-size="10.5" stroke="#000" stroke-width="0.4"><tspan font-family="DejaVu Sans, sans-serif" font-size="9">→</tspan></text>
<text x="273.8" y="583.75" font-size="10.5" textLength="45" lengthAdjust="spacingAndGlyphs" stroke="#000" stroke-width="0.4">RAG1KO</text>
<line x1="355" y1="535.75" x2="355" y2="682" stroke="#444" stroke-width="1"/>
<line x1="355" y1="535.75" x2="357.6" y2="535.75" stroke="#777" stroke-width="1"/>
<line x1="355" y1="565.5" x2="357.6" y2="565.5" stroke="#777" stroke-width="1"/>
<line x1="355" y1="594.3" x2="357.6" y2="594.3" stroke="#777" stroke-width="1"/>
<line x1="355" y1="623.3" x2="357.6" y2="623.3" stroke="#777" stroke-width="1"/>
<line x1="355" y1="652.8" x2="357.6" y2="652.8" stroke="#777" stroke-width="1"/>
<line x1="355" y1="682" x2="357.6" y2="682" stroke="#777" stroke-width="1"/>
<text x="348.6" y="540.25" font-size="11" text-anchor="end" stroke="#000" stroke-width="0.45">5</text>
<text x="348.6" y="570.0" font-size="11" text-anchor="end" stroke="#000" stroke-width="0.45">4</text>
<text x="348.6" y="598.8" font-size="11" text-anchor="end" stroke="#000" stroke-width="0.45">3</text>
<text x="348.6" y="627.8" font-size="11" text-anchor="end" stroke="#000" stroke-width="0.45">2</text>
<text x="348.6" y="657.3" font-size="11" text-anchor="end" stroke="#000" stroke-width="0.45">1</text>
<text x="348.6" y="686.5" font-size="11" text-anchor="end" stroke="#000" stroke-width="0.45">0</text>
<line x1="354.5" y1="682" x2="416" y2="682" stroke="#444" stroke-width="1.2"/>
<rect x="371.20" y="576.25" width="22.80" height="105.75" fill="#000"/>
<line x1="382.6" y1="576.25" x2="382.6" y2="561.25" stroke="#000" stroke-width="1.3"/>
<line x1="379.6" y1="561.25" x2="385.6" y2="561.25" stroke="#000" stroke-width="1.4"/>
<line x1="404.75" y1="670" x2="404.75" y2="658.75" stroke="#000" stroke-width="1.3"/>
<line x1="401.5" y1="658.75" x2="408.0" y2="658.75" stroke="#000" stroke-width="1.4"/>
<rect x="394.50" y="670.50" width="20.50" height="11.50" fill="#fff" stroke="#000" stroke-width="1.2"/>
<text x="395" y="699" font-size="11" text-anchor="middle" stroke="#000" stroke-width="0.45">T2 +MB</text>
<text x="337.2" y="615.0" font-size="11.6" text-anchor="middle" textLength="94.4" lengthAdjust="spacingAndGlyphs" transform="rotate(-90 337.2 615.0)" stroke="#000" stroke-width="0.45">Cellularity (x10<tspan font-size="7.5" dy="-4.3">-7</tspan><tspan dy="4.3">)</tspan></text>
<line x1="449.4" y1="535.75" x2="449.4" y2="683.25" stroke="#444" stroke-width="1"/>
<line x1="449.4" y1="535.75" x2="452.0" y2="535.75" stroke="#777" stroke-width="1"/>
<line x1="449.4" y1="556.5" x2="452.0" y2="556.5" stroke="#777" stroke-width="1"/>
<line x1="449.4" y1="578.4" x2="452.0" y2="578.4" stroke="#777" stroke-width="1"/>
<line x1="449.4" y1="599" x2="452.0" y2="599" stroke="#777" stroke-width="1"/>
<line x1="449.4" y1="620" x2="452.0" y2="620" stroke="#777" stroke-width="1"/>
<line x1="449.4" y1="640.75" x2="452.0" y2="640.75" stroke="#777" stroke-width="1"/>
<line x1="449.4" y1="662" x2="452.0" y2="662" stroke="#777" stroke-width="1"/>
<line x1="449.4" y1="683.25" x2="452.0" y2="683.25" stroke="#777" stroke-width="1"/>
<text x="443.7" y="540.25" font-size="11" text-anchor="end" stroke="#000" stroke-width="0.45">7</text>
<text x="443.7" y="561.0" font-size="11" text-anchor="end" stroke="#000" stroke-width="0.45">6</text>
<text x="443.7" y="582.9" font-size="11" text-anchor="end" stroke="#000" stroke-width="0.45">5</text>
<text x="443.7" y="603.5" font-size="11" text-anchor="end" stroke="#000" stroke-width="0.45">4</text>
<text x="443.7" y="624.5" font-size="11" text-anchor="end" stroke="#000" stroke-width="0.45">3</text>
<text x="443.7" y="645.25" font-size="11" text-anchor="end" stroke="#000" stroke-width="0.45">2</text>
<text x="443.7" y="666.5" font-size="11" text-anchor="end" stroke="#000" stroke-width="0.45">1</text>
<text x="443.7" y="687.75" font-size="11" text-anchor="end" stroke="#000" stroke-width="0.45">0</text>
<line x1="448.9" y1="683.25" x2="512.6" y2="683.25" stroke="#444" stroke-width="1.2"/>
<rect x="468.30" y="586.25" width="22.50" height="97.00" fill="#000"/>
<line x1="479.55" y1="586.25" x2="479.55" y2="554.5" stroke="#000" stroke-width="1.3"/>
<line x1="476.55" y1="554.5" x2="482.55" y2="554.5" stroke="#000" stroke-width="1.4"/>
<line x1="501.5" y1="634" x2="501.5" y2="600.25" stroke="#000" stroke-width="1.3"/>
<line x1="498.25" y1="600.25" x2="504.75" y2="600.25" stroke="#000" stroke-width="1.4"/>
<rect x="491.30" y="634.50" width="20.40" height="48.75" fill="#fff" stroke="#000" stroke-width="1.2"/>
<text x="488.2" y="699.5" font-size="11" text-anchor="middle" stroke="#000" stroke-width="0.45">T1</text>
<text x="430.3" y="613.5" font-size="11.6" text-anchor="middle" textLength="92.5" lengthAdjust="spacingAndGlyphs" transform="rotate(-90 430.3 613.5)" stroke="#000" stroke-width="0.45">Cellularity (x10<tspan font-size="7.5" dy="-4.3">-6</tspan><tspan dy="4.3">)</tspan></text>
</svg>
</body></html>
